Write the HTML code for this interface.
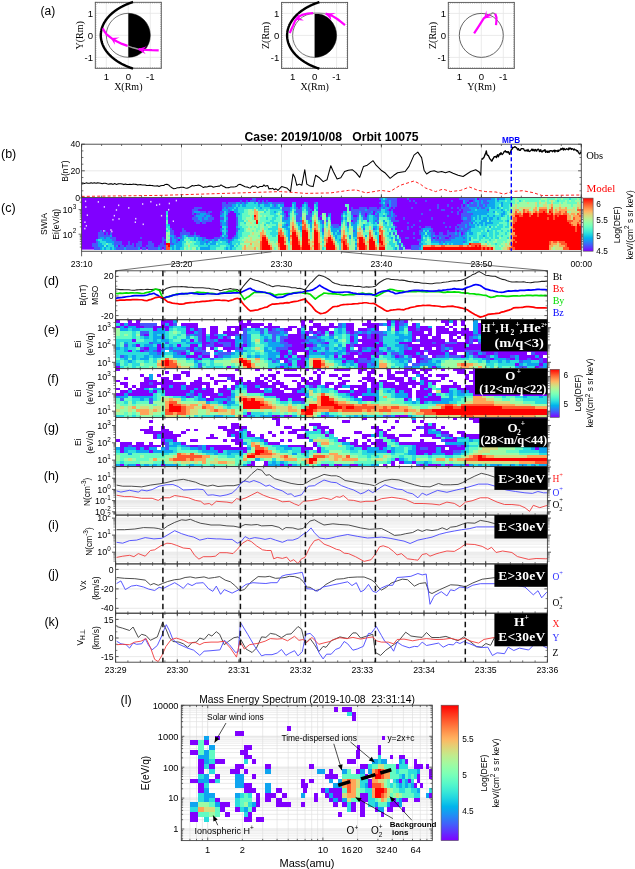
<!DOCTYPE html>
<html><head><meta charset="utf-8"><style>
html,body{margin:0;padding:0;background:#fff;}
body{width:635px;height:869px;overflow:hidden;}
svg{display:block;}
</style></head><body>
<svg width="635" height="869" viewBox="0 0 635 869">
<path d="M115.6 320.2H119.7V322.9H115.6ZM127.9 320.2H132.0V322.9H127.9ZM136.2 320.2H140.3V322.9H136.2ZM160.8 320.2H173.2V322.9H160.8ZM239.0 320.2H243.1V322.9H239.0ZM247.2 320.2H251.3V322.9H247.2ZM300.7 320.2H304.8V322.9H300.7ZM308.9 320.2H313.0V322.9H308.9ZM366.5 320.2H370.6V322.9H366.5ZM387.0 320.2H391.1V322.9H387.0ZM395.2 320.2H399.4V322.9H395.2ZM403.5 320.2H407.6V322.9H403.5ZM440.5 320.2H448.7V322.9H440.5ZM452.8 320.2H456.9V322.9H452.8ZM461.0 320.2H465.2V322.9H461.0ZM481.6 320.2H547.4V322.9H481.6ZM119.7 322.9H123.8V325.6H119.7ZM127.9 322.9H140.3V325.6H127.9ZM160.8 322.9H164.9V325.6H160.8ZM169.1 322.9H173.2V325.6H169.1ZM181.4 322.9H197.8V325.6H181.4ZM239.0 322.9H263.6V325.6H239.0ZM267.8 322.9H271.9V325.6H267.8ZM300.7 322.9H304.8V325.6H300.7ZM313.0 322.9H321.2V325.6H313.0ZM329.4 322.9H333.6V325.6H329.4ZM345.9 322.9H354.1V325.6H345.9ZM362.3 322.9H378.8V325.6H362.3ZM387.0 322.9H391.1V325.6H387.0ZM395.2 322.9H399.4V325.6H395.2ZM411.7 322.9H415.8V325.6H411.7ZM444.6 322.9H448.7V325.6H444.6ZM452.8 322.9H456.9V325.6H452.8ZM461.0 322.9H465.2V325.6H461.0ZM477.5 322.9H547.4V325.6H477.5ZM115.6 325.6H119.7V328.2H115.6ZM123.8 325.6H127.9V328.2H123.8ZM136.2 325.6H144.4V328.2H136.2ZM152.6 325.6H169.1V328.2H152.6ZM185.5 325.6H197.8V328.2H185.5ZM210.2 325.6H218.4V328.2H210.2ZM226.6 325.6H247.2V328.2H226.6ZM251.3 325.6H259.5V328.2H251.3ZM263.6 325.6H280.1V328.2H263.6ZM288.3 325.6H296.5V328.2H288.3ZM308.9 325.6H337.7V328.2H308.9ZM345.9 325.6H354.1V328.2H345.9ZM366.5 325.6H378.8V328.2H366.5ZM395.2 325.6H399.4V328.2H395.2ZM407.6 325.6H415.8V328.2H407.6ZM419.9 325.6H428.1V328.2H419.9ZM436.4 325.6H444.6V328.2H436.4ZM448.7 325.6H452.8V328.2H448.7ZM477.5 325.6H547.4V328.2H477.5ZM152.6 328.2H156.7V330.9H152.6ZM164.9 328.2H169.1V330.9H164.9ZM185.5 328.2H189.6V330.9H185.5ZM193.7 328.2H197.8V330.9H193.7ZM202.0 328.2H206.1V330.9H202.0ZM210.2 328.2H218.4V330.9H210.2ZM226.6 328.2H230.7V330.9H226.6ZM234.9 328.2H243.1V330.9H234.9ZM267.8 328.2H271.9V330.9H267.8ZM284.2 328.2H292.4V330.9H284.2ZM296.5 328.2H300.7V330.9H296.5ZM308.9 328.2H313.0V330.9H308.9ZM317.1 328.2H329.4V330.9H317.1ZM345.9 328.2H354.1V330.9H345.9ZM358.2 328.2H366.5V330.9H358.2ZM374.7 328.2H378.8V330.9H374.7ZM395.2 328.2H399.4V330.9H395.2ZM407.6 328.2H415.8V330.9H407.6ZM419.9 328.2H432.3V330.9H419.9ZM436.4 328.2H448.7V330.9H436.4ZM452.8 328.2H456.9V330.9H452.8ZM461.0 328.2H469.3V330.9H461.0ZM477.5 328.2H547.4V330.9H477.5ZM185.5 330.9H193.7V333.6H185.5ZM202.0 330.9H206.1V333.6H202.0ZM210.2 330.9H218.4V333.6H210.2ZM222.5 330.9H239.0V333.6H222.5ZM296.5 330.9H300.7V333.6H296.5ZM304.8 330.9H308.9V333.6H304.8ZM313.0 330.9H317.1V333.6H313.0ZM321.2 330.9H325.3V333.6H321.2ZM329.4 330.9H333.6V333.6H329.4ZM350.0 330.9H354.1V333.6H350.0ZM411.7 330.9H424.0V333.6H411.7ZM428.1 330.9H432.3V333.6H428.1ZM436.4 330.9H473.4V333.6H436.4ZM477.5 330.9H547.4V333.6H477.5ZM144.4 333.6H148.5V336.3H144.4ZM202.0 333.6H206.1V336.3H202.0ZM210.2 333.6H214.3V336.3H210.2ZM226.6 333.6H234.9V336.3H226.6ZM288.3 333.6H300.7V336.3H288.3ZM304.8 333.6H308.9V336.3H304.8ZM317.1 333.6H321.2V336.3H317.1ZM358.2 333.6H366.5V336.3H358.2ZM370.6 333.6H378.8V336.3H370.6ZM411.7 333.6H432.3V336.3H411.7ZM436.4 333.6H440.5V336.3H436.4ZM448.7 333.6H456.9V336.3H448.7ZM461.0 333.6H473.4V336.3H461.0ZM481.6 333.6H547.4V336.3H481.6ZM202.0 336.3H206.1V338.9H202.0ZM210.2 336.3H218.4V338.9H210.2ZM222.5 336.3H226.6V338.9H222.5ZM288.3 336.3H300.7V338.9H288.3ZM350.0 336.3H354.1V338.9H350.0ZM362.3 336.3H366.5V338.9H362.3ZM370.6 336.3H378.8V338.9H370.6ZM411.7 336.3H415.8V338.9H411.7ZM419.9 336.3H428.1V338.9H419.9ZM432.3 336.3H440.5V338.9H432.3ZM448.7 336.3H452.8V338.9H448.7ZM456.9 336.3H461.0V338.9H456.9ZM465.2 336.3H469.3V338.9H465.2ZM481.6 336.3H547.4V338.9H481.6ZM132.0 338.9H136.2V341.6H132.0ZM189.6 338.9H193.7V341.6H189.6ZM202.0 338.9H206.1V341.6H202.0ZM218.4 338.9H234.9V341.6H218.4ZM284.2 338.9H304.8V341.6H284.2ZM350.0 338.9H354.1V341.6H350.0ZM358.2 338.9H378.8V341.6H358.2ZM411.7 338.9H415.8V341.6H411.7ZM419.9 338.9H444.6V341.6H419.9ZM448.7 338.9H456.9V341.6H448.7ZM465.2 338.9H469.3V341.6H465.2ZM473.4 338.9H477.5V341.6H473.4ZM481.6 338.9H547.4V341.6H481.6ZM202.0 341.6H210.2V344.3H202.0ZM214.3 341.6H218.4V344.3H214.3ZM230.7 341.6H234.9V344.3H230.7ZM288.3 341.6H300.7V344.3H288.3ZM325.3 341.6H329.4V344.3H325.3ZM362.3 341.6H374.7V344.3H362.3ZM378.8 341.6H382.9V344.3H378.8ZM399.4 341.6H411.7V344.3H399.4ZM419.9 341.6H432.3V344.3H419.9ZM436.4 341.6H444.6V344.3H436.4ZM456.9 341.6H469.3V344.3H456.9ZM481.6 341.6H547.4V344.3H481.6ZM136.2 344.3H140.3V347.0H136.2ZM156.7 344.3H160.8V347.0H156.7ZM177.3 344.3H181.4V347.0H177.3ZM189.6 344.3H197.8V347.0H189.6ZM202.0 344.3H206.1V347.0H202.0ZM214.3 344.3H222.5V347.0H214.3ZM230.7 344.3H234.9V347.0H230.7ZM243.1 344.3H247.2V347.0H243.1ZM292.4 344.3H313.0V347.0H292.4ZM345.9 344.3H350.0V347.0H345.9ZM354.1 344.3H382.9V347.0H354.1ZM407.6 344.3H440.5V347.0H407.6ZM444.6 344.3H465.2V347.0H444.6ZM469.3 344.3H547.4V347.0H469.3ZM144.4 347.0H148.5V349.7H144.4ZM156.7 347.0H160.8V349.7H156.7ZM189.6 347.0H193.7V349.7H189.6ZM202.0 347.0H206.1V349.7H202.0ZM210.2 347.0H214.3V349.7H210.2ZM222.5 347.0H234.9V349.7H222.5ZM239.0 347.0H243.1V349.7H239.0ZM288.3 347.0H304.8V349.7H288.3ZM345.9 347.0H350.0V349.7H345.9ZM358.2 347.0H362.3V349.7H358.2ZM374.7 347.0H378.8V349.7H374.7ZM411.7 347.0H419.9V349.7H411.7ZM424.0 347.0H432.3V349.7H424.0ZM436.4 347.0H440.5V349.7H436.4ZM452.8 347.0H547.4V349.7H452.8ZM127.9 349.7H132.0V352.3H127.9ZM140.3 349.7H144.4V352.3H140.3ZM156.7 349.7H160.8V352.3H156.7ZM189.6 349.7H193.7V352.3H189.6ZM214.3 349.7H218.4V352.3H214.3ZM226.6 349.7H230.7V352.3H226.6ZM280.1 349.7H288.3V352.3H280.1ZM292.4 349.7H308.9V352.3H292.4ZM313.0 349.7H317.1V352.3H313.0ZM345.9 349.7H350.0V352.3H345.9ZM358.2 349.7H362.3V352.3H358.2ZM370.6 349.7H378.8V352.3H370.6ZM403.5 349.7H424.0V352.3H403.5ZM428.1 349.7H440.5V352.3H428.1ZM444.6 349.7H448.7V352.3H444.6ZM452.8 349.7H465.2V352.3H452.8ZM481.6 349.7H547.4V352.3H481.6ZM181.4 352.3H185.5V355.0H181.4ZM193.7 352.3H202.0V355.0H193.7ZM280.1 352.3H288.3V355.0H280.1ZM292.4 352.3H296.5V355.0H292.4ZM304.8 352.3H308.9V355.0H304.8ZM350.0 352.3H358.2V355.0H350.0ZM362.3 352.3H374.7V355.0H362.3ZM382.9 352.3H387.0V355.0H382.9ZM403.5 352.3H415.8V355.0H403.5ZM419.9 352.3H424.0V355.0H419.9ZM428.1 352.3H444.6V355.0H428.1ZM448.7 352.3H456.9V355.0H448.7ZM473.4 352.3H477.5V355.0H473.4ZM485.7 352.3H493.9V355.0H485.7ZM498.1 352.3H526.8V355.0H498.1ZM535.1 352.3H547.4V355.0H535.1ZM185.5 355.0H197.8V357.7H185.5ZM202.0 355.0H210.2V357.7H202.0ZM214.3 355.0H218.4V357.7H214.3ZM280.1 355.0H284.2V357.7H280.1ZM288.3 355.0H292.4V357.7H288.3ZM296.5 355.0H304.8V357.7H296.5ZM333.6 355.0H337.7V357.7H333.6ZM341.8 355.0H354.1V357.7H341.8ZM358.2 355.0H370.6V357.7H358.2ZM374.7 355.0H378.8V357.7H374.7ZM395.2 355.0H399.4V357.7H395.2ZM411.7 355.0H419.9V357.7H411.7ZM432.3 355.0H436.4V357.7H432.3ZM461.0 355.0H465.2V357.7H461.0ZM477.5 355.0H485.7V357.7H477.5ZM498.1 355.0H510.4V357.7H498.1ZM518.6 355.0H535.1V357.7H518.6ZM539.2 355.0H543.3V357.7H539.2ZM197.8 357.7H202.0V360.4H197.8ZM280.1 357.7H288.3V360.4H280.1ZM300.7 357.7H304.8V360.4H300.7ZM345.9 357.7H358.2V360.4H345.9ZM366.5 357.7H370.6V360.4H366.5ZM415.8 357.7H424.0V360.4H415.8ZM489.8 357.7H493.9V360.4H489.8ZM510.4 357.7H514.5V360.4H510.4ZM518.6 357.7H526.8V360.4H518.6ZM531.0 357.7H539.2V360.4H531.0ZM543.3 357.7H547.4V360.4H543.3ZM284.2 360.4H288.3V363.0H284.2ZM296.5 360.4H304.8V363.0H296.5ZM341.8 360.4H345.9V363.0H341.8ZM354.1 360.4H358.2V363.0H354.1ZM415.8 360.4H419.9V363.0H415.8ZM543.3 360.4H547.4V363.0H543.3ZM288.3 363.0H292.4V365.7H288.3ZM296.5 363.0H304.8V365.7H296.5ZM358.2 363.0H366.5V365.7H358.2ZM514.5 363.0H518.6V365.7H514.5ZM539.2 363.0H543.3V365.7H539.2ZM115.6 365.7H119.7V368.4H115.6ZM226.6 365.7H230.7V368.4H226.6ZM280.1 365.7H284.2V368.4H280.1ZM300.7 365.7H304.8V368.4H300.7ZM358.2 365.7H366.5V368.4H358.2ZM432.3 365.7H436.4V368.4H432.3ZM535.1 365.7H539.2V368.4H535.1Z" fill="#8000ff" shape-rendering="crispEdges"/>
<path d="M173.2 320.2H177.3V322.9H173.2ZM391.1 320.2H395.2V322.9H391.1ZM448.7 320.2H452.8V322.9H448.7ZM473.4 320.2H477.5V322.9H473.4ZM123.8 322.9H127.9V325.6H123.8ZM164.9 322.9H169.1V325.6H164.9ZM341.8 322.9H345.9V325.6H341.8ZM382.9 322.9H387.0V325.6H382.9ZM403.5 322.9H407.6V325.6H403.5ZM415.8 322.9H419.9V325.6H415.8ZM473.4 322.9H477.5V325.6H473.4ZM119.7 325.6H123.8V328.2H119.7ZM127.9 325.6H136.2V328.2H127.9ZM169.1 325.6H173.2V328.2H169.1ZM181.4 325.6H185.5V328.2H181.4ZM341.8 325.6H345.9V328.2H341.8ZM387.0 325.6H391.1V328.2H387.0ZM399.4 325.6H403.5V328.2H399.4ZM415.8 325.6H419.9V328.2H415.8ZM428.1 325.6H432.3V328.2H428.1ZM473.4 325.6H477.5V328.2H473.4ZM119.7 328.2H127.9V330.9H119.7ZM132.0 328.2H140.3V330.9H132.0ZM156.7 328.2H164.9V330.9H156.7ZM189.6 328.2H193.7V330.9H189.6ZM247.2 328.2H251.3V330.9H247.2ZM255.4 328.2H259.5V330.9H255.4ZM276.0 328.2H280.1V330.9H276.0ZM337.7 328.2H341.8V330.9H337.7ZM370.6 328.2H374.7V330.9H370.6ZM387.0 328.2H391.1V330.9H387.0ZM399.4 328.2H403.5V330.9H399.4ZM473.4 328.2H477.5V330.9H473.4ZM152.6 330.9H164.9V333.6H152.6ZM193.7 330.9H197.8V333.6H193.7ZM280.1 330.9H284.2V333.6H280.1ZM300.7 330.9H304.8V333.6H300.7ZM337.7 330.9H341.8V333.6H337.7ZM358.2 330.9H362.3V333.6H358.2ZM366.5 330.9H370.6V333.6H366.5ZM382.9 330.9H387.0V333.6H382.9ZM395.2 330.9H399.4V333.6H395.2ZM407.6 330.9H411.7V333.6H407.6ZM473.4 330.9H477.5V333.6H473.4ZM152.6 333.6H156.7V336.3H152.6ZM160.8 333.6H164.9V336.3H160.8ZM189.6 333.6H193.7V336.3H189.6ZM218.4 333.6H222.5V336.3H218.4ZM247.2 333.6H251.3V336.3H247.2ZM259.5 333.6H263.6V336.3H259.5ZM276.0 333.6H284.2V336.3H276.0ZM313.0 333.6H317.1V336.3H313.0ZM354.1 333.6H358.2V336.3H354.1ZM395.2 333.6H403.5V336.3H395.2ZM407.6 333.6H411.7V336.3H407.6ZM477.5 333.6H481.6V336.3H477.5ZM144.4 336.3H148.5V338.9H144.4ZM152.6 336.3H160.8V338.9H152.6ZM185.5 336.3H189.6V338.9H185.5ZM206.1 336.3H210.2V338.9H206.1ZM218.4 336.3H222.5V338.9H218.4ZM234.9 336.3H243.1V338.9H234.9ZM247.2 336.3H251.3V338.9H247.2ZM263.6 336.3H267.8V338.9H263.6ZM304.8 336.3H308.9V338.9H304.8ZM317.1 336.3H321.2V338.9H317.1ZM329.4 336.3H333.6V338.9H329.4ZM354.1 336.3H358.2V338.9H354.1ZM399.4 336.3H411.7V338.9H399.4ZM473.4 336.3H477.5V338.9H473.4ZM152.6 338.9H156.7V341.6H152.6ZM160.8 338.9H169.1V341.6H160.8ZM181.4 338.9H185.5V341.6H181.4ZM206.1 338.9H210.2V341.6H206.1ZM214.3 338.9H218.4V341.6H214.3ZM234.9 338.9H243.1V341.6H234.9ZM247.2 338.9H251.3V341.6H247.2ZM267.8 338.9H271.9V341.6H267.8ZM308.9 338.9H317.1V341.6H308.9ZM321.2 338.9H325.3V341.6H321.2ZM333.6 338.9H337.7V341.6H333.6ZM354.1 338.9H358.2V341.6H354.1ZM395.2 338.9H403.5V341.6H395.2ZM407.6 338.9H411.7V341.6H407.6ZM477.5 338.9H481.6V341.6H477.5ZM123.8 341.6H127.9V344.3H123.8ZM152.6 341.6H160.8V344.3H152.6ZM185.5 341.6H202.0V344.3H185.5ZM234.9 341.6H239.0V344.3H234.9ZM247.2 341.6H251.3V344.3H247.2ZM267.8 341.6H280.1V344.3H267.8ZM304.8 341.6H308.9V344.3H304.8ZM313.0 341.6H321.2V344.3H313.0ZM354.1 341.6H358.2V344.3H354.1ZM374.7 341.6H378.8V344.3H374.7ZM132.0 344.3H136.2V347.0H132.0ZM144.4 344.3H152.6V347.0H144.4ZM160.8 344.3H164.9V347.0H160.8ZM169.1 344.3H173.2V347.0H169.1ZM234.9 344.3H239.0V347.0H234.9ZM247.2 344.3H251.3V347.0H247.2ZM267.8 344.3H284.2V347.0H267.8ZM321.2 344.3H329.4V347.0H321.2ZM337.7 344.3H341.8V347.0H337.7ZM382.9 344.3H387.0V347.0H382.9ZM395.2 344.3H403.5V347.0H395.2ZM115.6 347.0H119.7V349.7H115.6ZM123.8 347.0H127.9V349.7H123.8ZM148.5 347.0H156.7V349.7H148.5ZM164.9 347.0H169.1V349.7H164.9ZM173.2 347.0H185.5V349.7H173.2ZM193.7 347.0H197.8V349.7H193.7ZM263.6 347.0H267.8V349.7H263.6ZM271.9 347.0H276.0V349.7H271.9ZM313.0 347.0H321.2V349.7H313.0ZM333.6 347.0H337.7V349.7H333.6ZM341.8 347.0H345.9V349.7H341.8ZM366.5 347.0H370.6V349.7H366.5ZM399.4 347.0H403.5V349.7H399.4ZM407.6 347.0H411.7V349.7H407.6ZM444.6 347.0H448.7V349.7H444.6ZM123.8 349.7H127.9V352.3H123.8ZM136.2 349.7H140.3V352.3H136.2ZM148.5 349.7H152.6V352.3H148.5ZM160.8 349.7H164.9V352.3H160.8ZM169.1 349.7H173.2V352.3H169.1ZM218.4 349.7H222.5V352.3H218.4ZM234.9 349.7H239.0V352.3H234.9ZM243.1 349.7H247.2V352.3H243.1ZM263.6 349.7H271.9V352.3H263.6ZM308.9 349.7H313.0V352.3H308.9ZM325.3 349.7H329.4V352.3H325.3ZM337.7 349.7H345.9V352.3H337.7ZM362.3 349.7H370.6V352.3H362.3ZM378.8 349.7H382.9V352.3H378.8ZM387.0 349.7H395.2V352.3H387.0ZM399.4 349.7H403.5V352.3H399.4ZM148.5 352.3H156.7V355.0H148.5ZM160.8 352.3H164.9V355.0H160.8ZM173.2 352.3H177.3V355.0H173.2ZM185.5 352.3H189.6V355.0H185.5ZM214.3 352.3H218.4V355.0H214.3ZM230.7 352.3H234.9V355.0H230.7ZM239.0 352.3H243.1V355.0H239.0ZM267.8 352.3H280.1V355.0H267.8ZM288.3 352.3H292.4V355.0H288.3ZM308.9 352.3H321.2V355.0H308.9ZM325.3 352.3H333.6V355.0H325.3ZM337.7 352.3H341.8V355.0H337.7ZM399.4 352.3H403.5V355.0H399.4ZM415.8 352.3H419.9V355.0H415.8ZM444.6 352.3H448.7V355.0H444.6ZM465.2 352.3H469.3V355.0H465.2ZM477.5 352.3H481.6V355.0H477.5ZM123.8 355.0H127.9V357.7H123.8ZM132.0 355.0H136.2V357.7H132.0ZM144.4 355.0H148.5V357.7H144.4ZM152.6 355.0H160.8V357.7H152.6ZM173.2 355.0H185.5V357.7H173.2ZM197.8 355.0H202.0V357.7H197.8ZM222.5 355.0H230.7V357.7H222.5ZM247.2 355.0H251.3V357.7H247.2ZM255.4 355.0H259.5V357.7H255.4ZM267.8 355.0H276.0V357.7H267.8ZM284.2 355.0H288.3V357.7H284.2ZM325.3 355.0H329.4V357.7H325.3ZM391.1 355.0H395.2V357.7H391.1ZM444.6 355.0H448.7V357.7H444.6ZM465.2 355.0H469.3V357.7H465.2ZM493.9 355.0H498.1V357.7H493.9ZM514.5 355.0H518.6V357.7H514.5ZM535.1 355.0H539.2V357.7H535.1ZM123.8 357.7H127.9V360.4H123.8ZM132.0 357.7H136.2V360.4H132.0ZM140.3 357.7H148.5V360.4H140.3ZM185.5 357.7H189.6V360.4H185.5ZM271.9 357.7H276.0V360.4H271.9ZM288.3 357.7H300.7V360.4H288.3ZM304.8 357.7H308.9V360.4H304.8ZM333.6 357.7H345.9V360.4H333.6ZM370.6 357.7H374.7V360.4H370.6ZM395.2 357.7H411.7V360.4H395.2ZM481.6 357.7H485.7V360.4H481.6ZM493.9 357.7H506.3V360.4H493.9ZM514.5 357.7H518.6V360.4H514.5ZM127.9 360.4H132.0V363.0H127.9ZM193.7 360.4H197.8V363.0H193.7ZM276.0 360.4H280.1V363.0H276.0ZM345.9 360.4H354.1V363.0H345.9ZM370.6 360.4H374.7V363.0H370.6ZM399.4 360.4H403.5V363.0H399.4ZM428.1 360.4H432.3V363.0H428.1ZM436.4 360.4H440.5V363.0H436.4ZM485.7 360.4H489.8V363.0H485.7ZM498.1 360.4H502.2V363.0H498.1ZM506.3 360.4H510.4V363.0H506.3ZM522.7 360.4H531.0V363.0H522.7ZM115.6 363.0H119.7V365.7H115.6ZM280.1 363.0H288.3V365.7H280.1ZM341.8 363.0H345.9V365.7H341.8ZM350.0 363.0H354.1V365.7H350.0ZM366.5 363.0H370.6V365.7H366.5ZM403.5 363.0H407.6V365.7H403.5ZM419.9 363.0H436.4V365.7H419.9ZM518.6 363.0H522.7V365.7H518.6ZM526.8 363.0H539.2V365.7H526.8ZM543.3 363.0H547.4V365.7H543.3ZM276.0 365.7H280.1V368.4H276.0ZM284.2 365.7H292.4V368.4H284.2ZM366.5 365.7H374.7V368.4H366.5ZM411.7 365.7H419.9V368.4H411.7ZM428.1 365.7H432.3V368.4H428.1ZM436.4 365.7H440.5V368.4H436.4ZM514.5 365.7H518.6V368.4H514.5ZM543.3 365.7H547.4V368.4H543.3Z" fill="#0ea4f0" shape-rendering="crispEdges"/>
<path d="M399.4 320.2H403.5V322.9H399.4ZM140.3 322.9H156.7V325.6H140.3ZM173.2 322.9H177.3V325.6H173.2ZM337.7 322.9H341.8V325.6H337.7ZM378.8 322.9H382.9V325.6H378.8ZM399.4 322.9H403.5V325.6H399.4ZM144.4 325.6H152.6V328.2H144.4ZM300.7 325.6H304.8V328.2H300.7ZM337.7 325.6H341.8V328.2H337.7ZM197.8 328.2H202.0V330.9H197.8ZM243.1 328.2H247.2V330.9H243.1ZM259.5 328.2H263.6V330.9H259.5ZM271.9 328.2H276.0V330.9H271.9ZM280.1 328.2H284.2V330.9H280.1ZM366.5 328.2H370.6V330.9H366.5ZM415.8 328.2H419.9V330.9H415.8ZM140.3 330.9H148.5V333.6H140.3ZM197.8 330.9H202.0V333.6H197.8ZM243.1 330.9H247.2V333.6H243.1ZM259.5 330.9H263.6V333.6H259.5ZM267.8 330.9H280.1V333.6H267.8ZM284.2 330.9H288.3V333.6H284.2ZM308.9 330.9H313.0V333.6H308.9ZM317.1 330.9H321.2V333.6H317.1ZM345.9 330.9H350.0V333.6H345.9ZM354.1 330.9H358.2V333.6H354.1ZM362.3 330.9H366.5V333.6H362.3ZM370.6 330.9H382.9V333.6H370.6ZM140.3 333.6H144.4V336.3H140.3ZM185.5 333.6H189.6V336.3H185.5ZM193.7 333.6H202.0V336.3H193.7ZM214.3 333.6H218.4V336.3H214.3ZM234.9 333.6H247.2V336.3H234.9ZM271.9 333.6H276.0V336.3H271.9ZM300.7 333.6H304.8V336.3H300.7ZM321.2 333.6H325.3V336.3H321.2ZM329.4 333.6H333.6V336.3H329.4ZM350.0 333.6H354.1V336.3H350.0ZM366.5 333.6H370.6V336.3H366.5ZM378.8 333.6H387.0V336.3H378.8ZM473.4 333.6H477.5V336.3H473.4ZM160.8 336.3H164.9V338.9H160.8ZM197.8 336.3H202.0V338.9H197.8ZM226.6 336.3H230.7V338.9H226.6ZM243.1 336.3H247.2V338.9H243.1ZM271.9 336.3H276.0V338.9H271.9ZM280.1 336.3H288.3V338.9H280.1ZM300.7 336.3H304.8V338.9H300.7ZM308.9 336.3H317.1V338.9H308.9ZM366.5 336.3H370.6V338.9H366.5ZM378.8 336.3H382.9V338.9H378.8ZM469.3 336.3H473.4V338.9H469.3ZM197.8 338.9H202.0V341.6H197.8ZM210.2 338.9H214.3V341.6H210.2ZM243.1 338.9H247.2V341.6H243.1ZM263.6 338.9H267.8V341.6H263.6ZM271.9 338.9H276.0V341.6H271.9ZM280.1 338.9H284.2V341.6H280.1ZM304.8 338.9H308.9V341.6H304.8ZM317.1 338.9H321.2V341.6H317.1ZM378.8 338.9H382.9V341.6H378.8ZM415.8 338.9H419.9V341.6H415.8ZM469.3 338.9H473.4V341.6H469.3ZM148.5 341.6H152.6V344.3H148.5ZM164.9 341.6H169.1V344.3H164.9ZM210.2 341.6H214.3V344.3H210.2ZM218.4 341.6H230.7V344.3H218.4ZM243.1 341.6H247.2V344.3H243.1ZM280.1 341.6H288.3V344.3H280.1ZM300.7 341.6H304.8V344.3H300.7ZM308.9 341.6H313.0V344.3H308.9ZM321.2 341.6H325.3V344.3H321.2ZM350.0 341.6H354.1V344.3H350.0ZM432.3 341.6H436.4V344.3H432.3ZM444.6 341.6H456.9V344.3H444.6ZM469.3 341.6H473.4V344.3H469.3ZM477.5 341.6H481.6V344.3H477.5ZM123.8 344.3H127.9V347.0H123.8ZM206.1 344.3H214.3V347.0H206.1ZM222.5 344.3H230.7V347.0H222.5ZM239.0 344.3H243.1V347.0H239.0ZM284.2 344.3H292.4V347.0H284.2ZM313.0 344.3H317.1V347.0H313.0ZM350.0 344.3H354.1V347.0H350.0ZM403.5 344.3H407.6V347.0H403.5ZM440.5 344.3H444.6V347.0H440.5ZM140.3 347.0H144.4V349.7H140.3ZM160.8 347.0H164.9V349.7H160.8ZM169.1 347.0H173.2V349.7H169.1ZM185.5 347.0H189.6V349.7H185.5ZM197.8 347.0H202.0V349.7H197.8ZM234.9 347.0H239.0V349.7H234.9ZM276.0 347.0H288.3V349.7H276.0ZM308.9 347.0H313.0V349.7H308.9ZM325.3 347.0H329.4V349.7H325.3ZM362.3 347.0H366.5V349.7H362.3ZM370.6 347.0H374.7V349.7H370.6ZM387.0 347.0H391.1V349.7H387.0ZM403.5 347.0H407.6V349.7H403.5ZM440.5 347.0H444.6V349.7H440.5ZM448.7 347.0H452.8V349.7H448.7ZM144.4 349.7H148.5V352.3H144.4ZM152.6 349.7H156.7V352.3H152.6ZM173.2 349.7H185.5V352.3H173.2ZM193.7 349.7H206.1V352.3H193.7ZM239.0 349.7H243.1V352.3H239.0ZM276.0 349.7H280.1V352.3H276.0ZM350.0 349.7H358.2V352.3H350.0ZM424.0 349.7H428.1V352.3H424.0ZM440.5 349.7H444.6V352.3H440.5ZM465.2 349.7H481.6V352.3H465.2ZM156.7 352.3H160.8V355.0H156.7ZM177.3 352.3H181.4V355.0H177.3ZM202.0 352.3H210.2V355.0H202.0ZM218.4 352.3H230.7V355.0H218.4ZM321.2 352.3H325.3V355.0H321.2ZM333.6 352.3H337.7V355.0H333.6ZM345.9 352.3H350.0V355.0H345.9ZM358.2 352.3H362.3V355.0H358.2ZM374.7 352.3H382.9V355.0H374.7ZM391.1 352.3H399.4V355.0H391.1ZM469.3 352.3H473.4V355.0H469.3ZM481.6 352.3H485.7V355.0H481.6ZM493.9 352.3H498.1V355.0H493.9ZM531.0 352.3H535.1V355.0H531.0ZM119.7 355.0H123.8V357.7H119.7ZM218.4 355.0H222.5V357.7H218.4ZM304.8 355.0H308.9V357.7H304.8ZM399.4 355.0H403.5V357.7H399.4ZM407.6 355.0H411.7V357.7H407.6ZM419.9 355.0H428.1V357.7H419.9ZM436.4 355.0H444.6V357.7H436.4ZM448.7 355.0H461.0V357.7H448.7ZM473.4 355.0H477.5V357.7H473.4ZM485.7 355.0H489.8V357.7H485.7ZM510.4 355.0H514.5V357.7H510.4ZM193.7 357.7H197.8V360.4H193.7ZM210.2 357.7H214.3V360.4H210.2ZM267.8 357.7H271.9V360.4H267.8ZM276.0 357.7H280.1V360.4H276.0ZM358.2 357.7H366.5V360.4H358.2ZM424.0 357.7H432.3V360.4H424.0ZM485.7 357.7H489.8V360.4H485.7ZM506.3 357.7H510.4V360.4H506.3ZM526.8 357.7H531.0V360.4H526.8ZM539.2 357.7H543.3V360.4H539.2ZM271.9 360.4H276.0V363.0H271.9ZM288.3 360.4H292.4V363.0H288.3ZM358.2 360.4H370.6V363.0H358.2ZM407.6 360.4H411.7V363.0H407.6ZM419.9 360.4H428.1V363.0H419.9ZM518.6 360.4H522.7V363.0H518.6ZM539.2 360.4H543.3V363.0H539.2ZM197.8 363.0H202.0V365.7H197.8ZM370.6 363.0H374.7V365.7H370.6ZM411.7 363.0H419.9V365.7H411.7ZM197.8 365.7H202.0V368.4H197.8ZM296.5 365.7H300.7V368.4H296.5ZM403.5 365.7H411.7V368.4H403.5ZM518.6 365.7H526.8V368.4H518.6ZM539.2 365.7H543.3V368.4H539.2Z" fill="#4757fb" shape-rendering="crispEdges"/>
<path d="M115.6 322.9H119.7V325.6H115.6ZM391.1 322.9H395.2V325.6H391.1ZM173.2 325.6H181.4V328.2H173.2ZM403.5 325.6H407.6V328.2H403.5ZM127.9 328.2H132.0V330.9H127.9ZM140.3 328.2H152.6V330.9H140.3ZM169.1 328.2H173.2V330.9H169.1ZM177.3 328.2H185.5V330.9H177.3ZM251.3 328.2H255.4V330.9H251.3ZM263.6 328.2H267.8V330.9H263.6ZM300.7 328.2H304.8V330.9H300.7ZM333.6 328.2H337.7V330.9H333.6ZM341.8 328.2H345.9V330.9H341.8ZM132.0 330.9H136.2V333.6H132.0ZM148.5 330.9H152.6V333.6H148.5ZM164.9 330.9H169.1V333.6H164.9ZM181.4 330.9H185.5V333.6H181.4ZM247.2 330.9H259.5V333.6H247.2ZM263.6 330.9H267.8V333.6H263.6ZM325.3 330.9H329.4V333.6H325.3ZM333.6 330.9H337.7V333.6H333.6ZM341.8 330.9H345.9V333.6H341.8ZM387.0 330.9H391.1V333.6H387.0ZM399.4 330.9H403.5V333.6H399.4ZM132.0 333.6H136.2V336.3H132.0ZM148.5 333.6H152.6V336.3H148.5ZM156.7 333.6H160.8V336.3H156.7ZM164.9 333.6H169.1V336.3H164.9ZM177.3 333.6H181.4V336.3H177.3ZM206.1 333.6H210.2V336.3H206.1ZM222.5 333.6H226.6V336.3H222.5ZM263.6 333.6H271.9V336.3H263.6ZM284.2 333.6H288.3V336.3H284.2ZM333.6 333.6H341.8V336.3H333.6ZM345.9 333.6H350.0V336.3H345.9ZM387.0 333.6H395.2V336.3H387.0ZM403.5 333.6H407.6V336.3H403.5ZM132.0 336.3H136.2V338.9H132.0ZM140.3 336.3H144.4V338.9H140.3ZM148.5 336.3H152.6V338.9H148.5ZM164.9 336.3H169.1V338.9H164.9ZM173.2 336.3H177.3V338.9H173.2ZM193.7 336.3H197.8V338.9H193.7ZM259.5 336.3H263.6V338.9H259.5ZM267.8 336.3H271.9V338.9H267.8ZM276.0 336.3H280.1V338.9H276.0ZM321.2 336.3H329.4V338.9H321.2ZM337.7 336.3H341.8V338.9H337.7ZM345.9 336.3H350.0V338.9H345.9ZM382.9 336.3H399.4V338.9H382.9ZM477.5 336.3H481.6V338.9H477.5ZM115.6 338.9H132.0V341.6H115.6ZM144.4 338.9H152.6V341.6H144.4ZM156.7 338.9H160.8V341.6H156.7ZM169.1 338.9H173.2V341.6H169.1ZM185.5 338.9H189.6V341.6H185.5ZM193.7 338.9H197.8V341.6H193.7ZM259.5 338.9H263.6V341.6H259.5ZM276.0 338.9H280.1V341.6H276.0ZM325.3 338.9H333.6V341.6H325.3ZM345.9 338.9H350.0V341.6H345.9ZM382.9 338.9H395.2V341.6H382.9ZM403.5 338.9H407.6V341.6H403.5ZM115.6 341.6H119.7V344.3H115.6ZM127.9 341.6H148.5V344.3H127.9ZM160.8 341.6H164.9V344.3H160.8ZM169.1 341.6H185.5V344.3H169.1ZM239.0 341.6H243.1V344.3H239.0ZM251.3 341.6H255.4V344.3H251.3ZM259.5 341.6H267.8V344.3H259.5ZM329.4 341.6H341.8V344.3H329.4ZM345.9 341.6H350.0V344.3H345.9ZM382.9 341.6H399.4V344.3H382.9ZM115.6 344.3H119.7V347.0H115.6ZM127.9 344.3H132.0V347.0H127.9ZM140.3 344.3H144.4V347.0H140.3ZM152.6 344.3H156.7V347.0H152.6ZM164.9 344.3H169.1V347.0H164.9ZM173.2 344.3H177.3V347.0H173.2ZM181.4 344.3H189.6V347.0H181.4ZM197.8 344.3H202.0V347.0H197.8ZM251.3 344.3H255.4V347.0H251.3ZM263.6 344.3H267.8V347.0H263.6ZM317.1 344.3H321.2V347.0H317.1ZM329.4 344.3H333.6V347.0H329.4ZM387.0 344.3H395.2V347.0H387.0ZM465.2 344.3H469.3V347.0H465.2ZM119.7 347.0H123.8V349.7H119.7ZM127.9 347.0H136.2V349.7H127.9ZM214.3 347.0H218.4V349.7H214.3ZM243.1 347.0H251.3V349.7H243.1ZM267.8 347.0H271.9V349.7H267.8ZM304.8 347.0H308.9V349.7H304.8ZM321.2 347.0H325.3V349.7H321.2ZM329.4 347.0H333.6V349.7H329.4ZM337.7 347.0H341.8V349.7H337.7ZM350.0 347.0H354.1V349.7H350.0ZM378.8 347.0H387.0V349.7H378.8ZM391.1 347.0H399.4V349.7H391.1ZM115.6 349.7H123.8V352.3H115.6ZM132.0 349.7H136.2V352.3H132.0ZM185.5 349.7H189.6V352.3H185.5ZM247.2 349.7H255.4V352.3H247.2ZM271.9 349.7H276.0V352.3H271.9ZM288.3 349.7H292.4V352.3H288.3ZM317.1 349.7H325.3V352.3H317.1ZM329.4 349.7H337.7V352.3H329.4ZM382.9 349.7H387.0V352.3H382.9ZM395.2 349.7H399.4V352.3H395.2ZM115.6 352.3H148.5V355.0H115.6ZM164.9 352.3H173.2V355.0H164.9ZM234.9 352.3H239.0V355.0H234.9ZM247.2 352.3H251.3V355.0H247.2ZM255.4 352.3H259.5V355.0H255.4ZM263.6 352.3H267.8V355.0H263.6ZM341.8 352.3H345.9V355.0H341.8ZM387.0 352.3H391.1V355.0H387.0ZM115.6 355.0H119.7V357.7H115.6ZM127.9 355.0H132.0V357.7H127.9ZM136.2 355.0H144.4V357.7H136.2ZM148.5 355.0H152.6V357.7H148.5ZM160.8 355.0H164.9V357.7H160.8ZM230.7 355.0H239.0V357.7H230.7ZM251.3 355.0H255.4V357.7H251.3ZM259.5 355.0H267.8V357.7H259.5ZM276.0 355.0H280.1V357.7H276.0ZM292.4 355.0H296.5V357.7H292.4ZM308.9 355.0H325.3V357.7H308.9ZM329.4 355.0H333.6V357.7H329.4ZM337.7 355.0H341.8V357.7H337.7ZM370.6 355.0H374.7V357.7H370.6ZM382.9 355.0H391.1V357.7H382.9ZM403.5 355.0H407.6V357.7H403.5ZM469.3 355.0H473.4V357.7H469.3ZM489.8 355.0H493.9V357.7H489.8ZM119.7 357.7H123.8V360.4H119.7ZM136.2 357.7H140.3V360.4H136.2ZM152.6 357.7H156.7V360.4H152.6ZM189.6 357.7H193.7V360.4H189.6ZM202.0 357.7H210.2V360.4H202.0ZM214.3 357.7H222.5V360.4H214.3ZM263.6 357.7H267.8V360.4H263.6ZM325.3 357.7H333.6V360.4H325.3ZM374.7 357.7H378.8V360.4H374.7ZM387.0 357.7H395.2V360.4H387.0ZM432.3 357.7H448.7V360.4H432.3ZM452.8 357.7H469.3V360.4H452.8ZM473.4 357.7H481.6V360.4H473.4ZM115.6 360.4H119.7V363.0H115.6ZM123.8 360.4H127.9V363.0H123.8ZM132.0 360.4H136.2V363.0H132.0ZM144.4 360.4H148.5V363.0H144.4ZM152.6 360.4H156.7V363.0H152.6ZM197.8 360.4H202.0V363.0H197.8ZM210.2 360.4H214.3V363.0H210.2ZM267.8 360.4H271.9V363.0H267.8ZM292.4 360.4H296.5V363.0H292.4ZM304.8 360.4H308.9V363.0H304.8ZM333.6 360.4H341.8V363.0H333.6ZM374.7 360.4H378.8V363.0H374.7ZM391.1 360.4H399.4V363.0H391.1ZM403.5 360.4H407.6V363.0H403.5ZM432.3 360.4H436.4V363.0H432.3ZM477.5 360.4H481.6V363.0H477.5ZM489.8 360.4H498.1V363.0H489.8ZM502.2 360.4H506.3V363.0H502.2ZM510.4 360.4H518.6V363.0H510.4ZM531.0 360.4H539.2V363.0H531.0ZM123.8 363.0H127.9V365.7H123.8ZM132.0 363.0H140.3V365.7H132.0ZM193.7 363.0H197.8V365.7H193.7ZM202.0 363.0H206.1V365.7H202.0ZM210.2 363.0H214.3V365.7H210.2ZM267.8 363.0H280.1V365.7H267.8ZM292.4 363.0H296.5V365.7H292.4ZM304.8 363.0H308.9V365.7H304.8ZM337.7 363.0H341.8V365.7H337.7ZM345.9 363.0H350.0V365.7H345.9ZM354.1 363.0H358.2V365.7H354.1ZM374.7 363.0H378.8V365.7H374.7ZM395.2 363.0H403.5V365.7H395.2ZM436.4 363.0H440.5V365.7H436.4ZM485.7 363.0H493.9V365.7H485.7ZM498.1 363.0H514.5V365.7H498.1ZM522.7 363.0H526.8V365.7H522.7ZM119.7 365.7H123.8V368.4H119.7ZM132.0 365.7H136.2V368.4H132.0ZM193.7 365.7H197.8V368.4H193.7ZM206.1 365.7H222.5V368.4H206.1ZM230.7 365.7H234.9V368.4H230.7ZM267.8 365.7H276.0V368.4H267.8ZM292.4 365.7H296.5V368.4H292.4ZM304.8 365.7H308.9V368.4H304.8ZM345.9 365.7H350.0V368.4H345.9ZM354.1 365.7H358.2V368.4H354.1ZM374.7 365.7H378.8V368.4H374.7ZM391.1 365.7H395.2V368.4H391.1ZM399.4 365.7H403.5V368.4H399.4ZM489.8 365.7H493.9V368.4H489.8ZM498.1 365.7H502.2V368.4H498.1ZM526.8 365.7H535.1V368.4H526.8Z" fill="#2adddd" shape-rendering="crispEdges"/>
<path d="M391.1 325.6H395.2V328.2H391.1ZM173.2 328.2H177.3V330.9H173.2ZM403.5 328.2H407.6V330.9H403.5ZM119.7 330.9H132.0V333.6H119.7ZM136.2 330.9H140.3V333.6H136.2ZM169.1 330.9H173.2V333.6H169.1ZM177.3 330.9H181.4V333.6H177.3ZM391.1 330.9H395.2V333.6H391.1ZM403.5 330.9H407.6V333.6H403.5ZM119.7 333.6H123.8V336.3H119.7ZM127.9 333.6H132.0V336.3H127.9ZM169.1 333.6H177.3V336.3H169.1ZM181.4 333.6H185.5V336.3H181.4ZM251.3 333.6H259.5V336.3H251.3ZM325.3 333.6H329.4V336.3H325.3ZM341.8 333.6H345.9V336.3H341.8ZM115.6 336.3H132.0V338.9H115.6ZM136.2 336.3H140.3V338.9H136.2ZM169.1 336.3H173.2V338.9H169.1ZM177.3 336.3H185.5V338.9H177.3ZM189.6 336.3H193.7V338.9H189.6ZM251.3 336.3H259.5V338.9H251.3ZM333.6 336.3H337.7V338.9H333.6ZM341.8 336.3H345.9V338.9H341.8ZM136.2 338.9H144.4V341.6H136.2ZM173.2 338.9H181.4V341.6H173.2ZM251.3 338.9H255.4V341.6H251.3ZM337.7 338.9H341.8V341.6H337.7ZM119.7 341.6H123.8V344.3H119.7ZM341.8 341.6H345.9V344.3H341.8ZM119.7 344.3H123.8V347.0H119.7ZM255.4 344.3H263.6V347.0H255.4ZM333.6 344.3H337.7V347.0H333.6ZM341.8 344.3H345.9V347.0H341.8ZM136.2 347.0H140.3V349.7H136.2ZM251.3 347.0H255.4V349.7H251.3ZM259.5 347.0H263.6V349.7H259.5ZM255.4 349.7H259.5V352.3H255.4ZM189.6 352.3H193.7V355.0H189.6ZM243.1 352.3H247.2V355.0H243.1ZM251.3 352.3H255.4V355.0H251.3ZM259.5 352.3H263.6V355.0H259.5ZM164.9 355.0H173.2V357.7H164.9ZM243.1 355.0H247.2V357.7H243.1ZM378.8 355.0H382.9V357.7H378.8ZM115.6 357.7H119.7V360.4H115.6ZM127.9 357.7H132.0V360.4H127.9ZM148.5 357.7H152.6V360.4H148.5ZM156.7 357.7H160.8V360.4H156.7ZM177.3 357.7H185.5V360.4H177.3ZM222.5 357.7H230.7V360.4H222.5ZM259.5 357.7H263.6V360.4H259.5ZM378.8 357.7H387.0V360.4H378.8ZM448.7 357.7H452.8V360.4H448.7ZM469.3 357.7H473.4V360.4H469.3ZM119.7 360.4H123.8V363.0H119.7ZM136.2 360.4H144.4V363.0H136.2ZM148.5 360.4H152.6V363.0H148.5ZM185.5 360.4H193.7V363.0H185.5ZM202.0 360.4H210.2V363.0H202.0ZM263.6 360.4H267.8V363.0H263.6ZM329.4 360.4H333.6V363.0H329.4ZM387.0 360.4H391.1V363.0H387.0ZM440.5 360.4H444.6V363.0H440.5ZM469.3 360.4H477.5V363.0H469.3ZM481.6 360.4H485.7V363.0H481.6ZM119.7 363.0H123.8V365.7H119.7ZM127.9 363.0H132.0V365.7H127.9ZM144.4 363.0H156.7V365.7H144.4ZM206.1 363.0H210.2V365.7H206.1ZM214.3 363.0H222.5V365.7H214.3ZM230.7 363.0H234.9V365.7H230.7ZM333.6 363.0H337.7V365.7H333.6ZM391.1 363.0H395.2V365.7H391.1ZM493.9 363.0H498.1V365.7H493.9ZM123.8 365.7H132.0V368.4H123.8ZM136.2 365.7H148.5V368.4H136.2ZM152.6 365.7H156.7V368.4H152.6ZM189.6 365.7H193.7V368.4H189.6ZM202.0 365.7H206.1V368.4H202.0ZM222.5 365.7H226.6V368.4H222.5ZM234.9 365.7H239.0V368.4H234.9ZM333.6 365.7H337.7V368.4H333.6ZM341.8 365.7H345.9V368.4H341.8ZM350.0 365.7H354.1V368.4H350.0ZM395.2 365.7H399.4V368.4H395.2ZM419.9 365.7H424.0V368.4H419.9ZM440.5 365.7H444.6V368.4H440.5ZM485.7 365.7H489.8V368.4H485.7ZM502.2 365.7H514.5V368.4H502.2Z" fill="#63fbc3" shape-rendering="crispEdges"/>
<path d="M115.6 328.2H119.7V330.9H115.6ZM391.1 328.2H395.2V330.9H391.1ZM115.6 330.9H119.7V333.6H115.6ZM173.2 330.9H177.3V333.6H173.2ZM115.6 333.6H119.7V336.3H115.6ZM123.8 333.6H127.9V336.3H123.8ZM136.2 333.6H140.3V336.3H136.2ZM341.8 338.9H345.9V341.6H341.8ZM255.4 341.6H259.5V344.3H255.4ZM259.5 349.7H263.6V352.3H259.5ZM160.8 357.7H164.9V360.4H160.8ZM173.2 357.7H177.3V360.4H173.2ZM230.7 357.7H234.9V360.4H230.7ZM247.2 357.7H255.4V360.4H247.2ZM321.2 357.7H325.3V360.4H321.2ZM177.3 360.4H185.5V363.0H177.3ZM214.3 360.4H230.7V363.0H214.3ZM251.3 360.4H255.4V363.0H251.3ZM259.5 360.4H263.6V363.0H259.5ZM325.3 360.4H329.4V363.0H325.3ZM382.9 360.4H387.0V363.0H382.9ZM444.6 360.4H469.3V363.0H444.6ZM140.3 363.0H144.4V365.7H140.3ZM181.4 363.0H193.7V365.7H181.4ZM222.5 363.0H230.7V365.7H222.5ZM234.9 363.0H239.0V365.7H234.9ZM255.4 363.0H267.8V365.7H255.4ZM387.0 363.0H391.1V365.7H387.0ZM440.5 363.0H456.9V365.7H440.5ZM477.5 363.0H485.7V365.7H477.5ZM148.5 365.7H152.6V368.4H148.5ZM239.0 365.7H243.1V368.4H239.0ZM259.5 365.7H267.8V368.4H259.5ZM308.9 365.7H313.0V368.4H308.9ZM329.4 365.7H333.6V368.4H329.4ZM337.7 365.7H341.8V368.4H337.7ZM387.0 365.7H391.1V368.4H387.0ZM424.0 365.7H428.1V368.4H424.0ZM444.6 365.7H456.9V368.4H444.6ZM473.4 365.7H477.5V368.4H473.4ZM481.6 365.7H485.7V368.4H481.6ZM493.9 365.7H498.1V368.4H493.9Z" fill="#9cfba4" shape-rendering="crispEdges"/>
<path d="M255.4 338.9H259.5V341.6H255.4ZM255.4 347.0H259.5V349.7H255.4ZM239.0 355.0H243.1V357.7H239.0ZM169.1 357.7H173.2V360.4H169.1ZM234.9 357.7H239.0V360.4H234.9ZM308.9 357.7H313.0V360.4H308.9ZM156.7 360.4H160.8V363.0H156.7ZM230.7 360.4H239.0V363.0H230.7ZM255.4 360.4H259.5V363.0H255.4ZM308.9 360.4H313.0V363.0H308.9ZM378.8 360.4H382.9V363.0H378.8ZM177.3 363.0H181.4V365.7H177.3ZM239.0 363.0H243.1V365.7H239.0ZM308.9 363.0H313.0V365.7H308.9ZM325.3 363.0H333.6V365.7H325.3ZM473.4 363.0H477.5V365.7H473.4ZM156.7 365.7H160.8V368.4H156.7ZM181.4 365.7H189.6V368.4H181.4ZM255.4 365.7H259.5V368.4H255.4ZM456.9 365.7H461.0V368.4H456.9ZM469.3 365.7H473.4V368.4H469.3Z" fill="#d4dd80" shape-rendering="crispEdges"/>
<path d="M164.9 357.7H169.1V360.4H164.9ZM160.8 360.4H164.9V363.0H160.8ZM169.1 360.4H173.2V363.0H169.1ZM247.2 360.4H251.3V363.0H247.2ZM160.8 363.0H164.9V365.7H160.8ZM169.1 363.0H177.3V365.7H169.1ZM321.2 363.0H325.3V365.7H321.2ZM461.0 363.0H465.2V365.7H461.0ZM164.9 365.7H177.3V368.4H164.9Z" fill="#ff572c" shape-rendering="crispEdges"/>
<path d="M239.0 357.7H243.1V360.4H239.0ZM164.9 360.4H169.1V363.0H164.9ZM239.0 360.4H247.2V363.0H239.0ZM313.0 360.4H321.2V363.0H313.0ZM164.9 363.0H169.1V365.7H164.9ZM243.1 363.0H251.3V365.7H243.1ZM313.0 363.0H321.2V365.7H313.0ZM247.2 365.7H251.3V368.4H247.2ZM313.0 365.7H321.2V368.4H313.0Z" fill="#ff0000" shape-rendering="crispEdges"/>
<path d="M243.1 357.7H247.2V360.4H243.1ZM255.4 357.7H259.5V360.4H255.4ZM313.0 357.7H321.2V360.4H313.0ZM173.2 360.4H177.3V363.0H173.2ZM321.2 360.4H325.3V363.0H321.2ZM156.7 363.0H160.8V365.7H156.7ZM251.3 363.0H255.4V365.7H251.3ZM378.8 363.0H387.0V365.7H378.8ZM456.9 363.0H461.0V365.7H456.9ZM465.2 363.0H473.4V365.7H465.2ZM160.8 365.7H164.9V368.4H160.8ZM177.3 365.7H181.4V368.4H177.3ZM243.1 365.7H247.2V368.4H243.1ZM251.3 365.7H255.4V368.4H251.3ZM321.2 365.7H329.4V368.4H321.2ZM378.8 365.7H387.0V368.4H378.8ZM461.0 365.7H469.3V368.4H461.0ZM477.5 365.7H481.6V368.4H477.5Z" fill="#ffa457" shape-rendering="crispEdges"/>
<path d="M115.6 368.7H119.7V371.4H115.6ZM234.9 368.7H239.0V371.4H234.9ZM255.4 368.7H259.5V371.4H255.4ZM267.8 368.7H271.9V371.4H267.8ZM284.2 368.7H296.5V371.4H284.2ZM304.8 368.7H308.9V371.4H304.8ZM317.1 368.7H321.2V371.4H317.1ZM333.6 368.7H350.0V371.4H333.6ZM358.2 368.7H366.5V371.4H358.2ZM370.6 368.7H374.7V371.4H370.6ZM387.0 368.7H391.1V371.4H387.0ZM403.5 368.7H415.8V371.4H403.5ZM419.9 368.7H432.3V371.4H419.9ZM440.5 368.7H444.6V371.4H440.5ZM452.8 368.7H465.2V371.4H452.8ZM473.4 368.7H547.4V371.4H473.4ZM164.9 371.4H169.1V374.1H164.9ZM181.4 371.4H189.6V374.1H181.4ZM276.0 371.4H280.1V374.1H276.0ZM313.0 371.4H317.1V374.1H313.0ZM321.2 371.4H325.3V374.1H321.2ZM358.2 371.4H362.3V374.1H358.2ZM366.5 371.4H374.7V374.1H366.5ZM387.0 371.4H391.1V374.1H387.0ZM395.2 371.4H407.6V374.1H395.2ZM411.7 371.4H419.9V374.1H411.7ZM424.0 371.4H428.1V374.1H424.0ZM456.9 371.4H465.2V374.1H456.9ZM469.3 371.4H547.4V374.1H469.3ZM140.3 374.1H144.4V376.8H140.3ZM156.7 374.1H160.8V376.8H156.7ZM173.2 374.1H181.4V376.8H173.2ZM185.5 374.1H189.6V376.8H185.5ZM206.1 374.1H210.2V376.8H206.1ZM218.4 374.1H234.9V376.8H218.4ZM259.5 374.1H263.6V376.8H259.5ZM267.8 374.1H276.0V376.8H267.8ZM284.2 374.1H300.7V376.8H284.2ZM317.1 374.1H321.2V376.8H317.1ZM329.4 374.1H337.7V376.8H329.4ZM341.8 374.1H350.0V376.8H341.8ZM366.5 374.1H370.6V376.8H366.5ZM378.8 374.1H382.9V376.8H378.8ZM387.0 374.1H395.2V376.8H387.0ZM403.5 374.1H407.6V376.8H403.5ZM419.9 374.1H424.0V376.8H419.9ZM428.1 374.1H432.3V376.8H428.1ZM436.4 374.1H448.7V376.8H436.4ZM465.2 374.1H469.3V376.8H465.2ZM473.4 374.1H547.4V376.8H473.4ZM123.8 376.8H127.9V379.5H123.8ZM144.4 376.8H148.5V379.5H144.4ZM160.8 376.8H169.1V379.5H160.8ZM173.2 376.8H181.4V379.5H173.2ZM197.8 376.8H202.0V379.5H197.8ZM210.2 376.8H214.3V379.5H210.2ZM230.7 376.8H234.9V379.5H230.7ZM239.0 376.8H243.1V379.5H239.0ZM255.4 376.8H259.5V379.5H255.4ZM263.6 376.8H267.8V379.5H263.6ZM271.9 376.8H276.0V379.5H271.9ZM300.7 376.8H304.8V379.5H300.7ZM308.9 376.8H313.0V379.5H308.9ZM317.1 376.8H321.2V379.5H317.1ZM337.7 376.8H341.8V379.5H337.7ZM362.3 376.8H374.7V379.5H362.3ZM387.0 376.8H403.5V379.5H387.0ZM407.6 376.8H411.7V379.5H407.6ZM419.9 376.8H428.1V379.5H419.9ZM440.5 376.8H444.6V379.5H440.5ZM465.2 376.8H469.3V379.5H465.2ZM473.4 376.8H547.4V379.5H473.4ZM115.6 379.5H119.7V382.2H115.6ZM144.4 379.5H156.7V382.2H144.4ZM160.8 379.5H173.2V382.2H160.8ZM193.7 379.5H202.0V382.2H193.7ZM214.3 379.5H226.6V382.2H214.3ZM230.7 379.5H243.1V382.2H230.7ZM247.2 379.5H251.3V382.2H247.2ZM255.4 379.5H263.6V382.2H255.4ZM267.8 379.5H271.9V382.2H267.8ZM276.0 379.5H280.1V382.2H276.0ZM292.4 379.5H296.5V382.2H292.4ZM300.7 379.5H308.9V382.2H300.7ZM313.0 379.5H321.2V382.2H313.0ZM341.8 379.5H350.0V382.2H341.8ZM358.2 379.5H362.3V382.2H358.2ZM366.5 379.5H374.7V382.2H366.5ZM378.8 379.5H387.0V382.2H378.8ZM395.2 379.5H403.5V382.2H395.2ZM407.6 379.5H415.8V382.2H407.6ZM424.0 379.5H440.5V382.2H424.0ZM448.7 379.5H452.8V382.2H448.7ZM469.3 379.5H547.4V382.2H469.3ZM119.7 382.2H127.9V384.9H119.7ZM140.3 382.2H148.5V384.9H140.3ZM152.6 382.2H185.5V384.9H152.6ZM189.6 382.2H210.2V384.9H189.6ZM214.3 382.2H218.4V384.9H214.3ZM234.9 382.2H239.0V384.9H234.9ZM243.1 382.2H267.8V384.9H243.1ZM271.9 382.2H284.2V384.9H271.9ZM296.5 382.2H300.7V384.9H296.5ZM304.8 382.2H321.2V384.9H304.8ZM325.3 382.2H333.6V384.9H325.3ZM337.7 382.2H345.9V384.9H337.7ZM362.3 382.2H366.5V384.9H362.3ZM370.6 382.2H378.8V384.9H370.6ZM382.9 382.2H395.2V384.9H382.9ZM399.4 382.2H419.9V384.9H399.4ZM424.0 382.2H428.1V384.9H424.0ZM432.3 382.2H436.4V384.9H432.3ZM452.8 382.2H456.9V384.9H452.8ZM473.4 382.2H547.4V384.9H473.4ZM123.8 384.9H127.9V387.6H123.8ZM132.0 384.9H136.2V387.6H132.0ZM140.3 384.9H156.7V387.6H140.3ZM160.8 384.9H169.1V387.6H160.8ZM173.2 384.9H181.4V387.6H173.2ZM185.5 384.9H202.0V387.6H185.5ZM206.1 384.9H210.2V387.6H206.1ZM222.5 384.9H226.6V387.6H222.5ZM230.7 384.9H234.9V387.6H230.7ZM247.2 384.9H255.4V387.6H247.2ZM259.5 384.9H276.0V387.6H259.5ZM280.1 384.9H288.3V387.6H280.1ZM296.5 384.9H304.8V387.6H296.5ZM313.0 384.9H317.1V387.6H313.0ZM325.3 384.9H329.4V387.6H325.3ZM333.6 384.9H341.8V387.6H333.6ZM350.0 384.9H366.5V387.6H350.0ZM370.6 384.9H378.8V387.6H370.6ZM382.9 384.9H407.6V387.6H382.9ZM411.7 384.9H415.8V387.6H411.7ZM419.9 384.9H428.1V387.6H419.9ZM440.5 384.9H461.0V387.6H440.5ZM465.2 384.9H547.4V387.6H465.2ZM115.6 387.6H119.7V390.3H115.6ZM127.9 387.6H132.0V390.3H127.9ZM136.2 387.6H144.4V390.3H136.2ZM160.8 387.6H181.4V390.3H160.8ZM185.5 387.6H193.7V390.3H185.5ZM197.8 387.6H202.0V390.3H197.8ZM206.1 387.6H214.3V390.3H206.1ZM218.4 387.6H226.6V390.3H218.4ZM230.7 387.6H234.9V390.3H230.7ZM247.2 387.6H259.5V390.3H247.2ZM271.9 387.6H280.1V390.3H271.9ZM284.2 387.6H300.7V390.3H284.2ZM333.6 387.6H337.7V390.3H333.6ZM350.0 387.6H354.1V390.3H350.0ZM358.2 387.6H366.5V390.3H358.2ZM370.6 387.6H378.8V390.3H370.6ZM395.2 387.6H411.7V390.3H395.2ZM419.9 387.6H424.0V390.3H419.9ZM428.1 387.6H432.3V390.3H428.1ZM440.5 387.6H448.7V390.3H440.5ZM456.9 387.6H547.4V390.3H456.9ZM119.7 390.3H127.9V392.9H119.7ZM132.0 390.3H148.5V392.9H132.0ZM152.6 390.3H156.7V392.9H152.6ZM164.9 390.3H189.6V392.9H164.9ZM193.7 390.3H214.3V392.9H193.7ZM218.4 390.3H230.7V392.9H218.4ZM247.2 390.3H263.6V392.9H247.2ZM271.9 390.3H284.2V392.9H271.9ZM292.4 390.3H296.5V392.9H292.4ZM337.7 390.3H350.0V392.9H337.7ZM354.1 390.3H366.5V392.9H354.1ZM370.6 390.3H374.7V392.9H370.6ZM395.2 390.3H399.4V392.9H395.2ZM403.5 390.3H411.7V392.9H403.5ZM415.8 390.3H432.3V392.9H415.8ZM440.5 390.3H448.7V392.9H440.5ZM469.3 390.3H547.4V392.9H469.3ZM115.6 392.9H123.8V395.6H115.6ZM127.9 392.9H152.6V395.6H127.9ZM164.9 392.9H185.5V395.6H164.9ZM193.7 392.9H197.8V395.6H193.7ZM202.0 392.9H218.4V395.6H202.0ZM222.5 392.9H230.7V395.6H222.5ZM263.6 392.9H304.8V395.6H263.6ZM350.0 392.9H362.3V395.6H350.0ZM407.6 392.9H411.7V395.6H407.6ZM415.8 392.9H428.1V395.6H415.8ZM432.3 392.9H436.4V395.6H432.3ZM473.4 392.9H547.4V395.6H473.4ZM185.5 395.6H189.6V398.3H185.5ZM202.0 395.6H206.1V398.3H202.0ZM210.2 395.6H226.6V398.3H210.2ZM276.0 395.6H300.7V398.3H276.0ZM354.1 395.6H358.2V398.3H354.1ZM362.3 395.6H374.7V398.3H362.3ZM407.6 395.6H411.7V398.3H407.6ZM415.8 395.6H424.0V398.3H415.8ZM428.1 395.6H440.5V398.3H428.1ZM206.1 398.3H214.3V401.0H206.1ZM280.1 398.3H288.3V401.0H280.1ZM292.4 398.3H304.8V401.0H292.4ZM362.3 398.3H374.7V401.0H362.3ZM403.5 398.3H407.6V401.0H403.5ZM419.9 398.3H440.5V401.0H419.9ZM222.5 401.0H226.6V403.7H222.5ZM419.9 401.0H424.0V403.7H419.9ZM247.2 411.8H251.3V414.5H247.2ZM243.1 414.5H247.2V417.2H243.1ZM271.9 414.5H280.1V417.2H271.9ZM284.2 414.5H292.4V417.2H284.2ZM321.2 414.5H325.3V417.2H321.2ZM395.2 414.5H407.6V417.2H395.2Z" fill="#8000ff" shape-rendering="crispEdges"/>
<path d="M148.5 374.1H152.6V376.8H148.5ZM415.8 374.1H419.9V376.8H415.8ZM148.5 376.8H152.6V379.5H148.5ZM419.9 379.5H424.0V382.2H419.9ZM239.0 382.2H243.1V384.9H239.0ZM419.9 382.2H424.0V384.9H419.9ZM169.1 384.9H173.2V387.6H169.1ZM181.4 384.9H185.5V387.6H181.4ZM234.9 384.9H239.0V387.6H234.9ZM243.1 384.9H247.2V387.6H243.1ZM255.4 384.9H259.5V387.6H255.4ZM321.2 384.9H325.3V387.6H321.2ZM341.8 384.9H350.0V387.6H341.8ZM144.4 387.6H148.5V390.3H144.4ZM152.6 387.6H160.8V390.3H152.6ZM181.4 387.6H185.5V390.3H181.4ZM193.7 387.6H197.8V390.3H193.7ZM202.0 387.6H206.1V390.3H202.0ZM226.6 387.6H230.7V390.3H226.6ZM263.6 387.6H267.8V390.3H263.6ZM300.7 387.6H304.8V390.3H300.7ZM366.5 387.6H370.6V390.3H366.5ZM391.1 387.6H395.2V390.3H391.1ZM424.0 387.6H428.1V390.3H424.0ZM127.9 390.3H132.0V392.9H127.9ZM148.5 390.3H152.6V392.9H148.5ZM189.6 390.3H193.7V392.9H189.6ZM263.6 390.3H271.9V392.9H263.6ZM296.5 390.3H304.8V392.9H296.5ZM350.0 390.3H354.1V392.9H350.0ZM366.5 390.3H370.6V392.9H366.5ZM374.7 390.3H378.8V392.9H374.7ZM387.0 390.3H391.1V392.9H387.0ZM399.4 390.3H403.5V392.9H399.4ZM448.7 390.3H452.8V392.9H448.7ZM456.9 390.3H461.0V392.9H456.9ZM465.2 390.3H469.3V392.9H465.2ZM123.8 392.9H127.9V395.6H123.8ZM185.5 392.9H189.6V395.6H185.5ZM197.8 392.9H202.0V395.6H197.8ZM218.4 392.9H222.5V395.6H218.4ZM230.7 392.9H234.9V395.6H230.7ZM304.8 392.9H308.9V395.6H304.8ZM345.9 392.9H350.0V395.6H345.9ZM362.3 392.9H378.8V395.6H362.3ZM395.2 392.9H407.6V395.6H395.2ZM428.1 392.9H432.3V395.6H428.1ZM448.7 392.9H452.8V395.6H448.7ZM456.9 392.9H465.2V395.6H456.9ZM115.6 395.6H127.9V398.3H115.6ZM132.0 395.6H152.6V398.3H132.0ZM181.4 395.6H185.5V398.3H181.4ZM197.8 395.6H202.0V398.3H197.8ZM230.7 395.6H234.9V398.3H230.7ZM304.8 395.6H308.9V398.3H304.8ZM350.0 395.6H354.1V398.3H350.0ZM374.7 395.6H378.8V398.3H374.7ZM395.2 395.6H407.6V398.3H395.2ZM424.0 395.6H428.1V398.3H424.0ZM448.7 395.6H452.8V398.3H448.7ZM522.7 395.6H526.8V398.3H522.7ZM539.2 395.6H543.3V398.3H539.2ZM140.3 398.3H144.4V401.0H140.3ZM197.8 398.3H206.1V401.0H197.8ZM214.3 398.3H226.6V401.0H214.3ZM354.1 398.3H362.3V401.0H354.1ZM374.7 398.3H378.8V401.0H374.7ZM407.6 398.3H411.7V401.0H407.6ZM415.8 398.3H419.9V401.0H415.8ZM440.5 398.3H452.8V401.0H440.5ZM206.1 401.0H210.2V403.7H206.1ZM218.4 401.0H222.5V403.7H218.4ZM226.6 401.0H234.9V403.7H226.6ZM292.4 401.0H300.7V403.7H292.4ZM411.7 401.0H415.8V403.7H411.7ZM424.0 401.0H428.1V403.7H424.0ZM432.3 401.0H448.7V403.7H432.3ZM226.6 403.7H230.7V406.4H226.6ZM325.3 411.8H329.4V414.5H325.3ZM214.3 414.5H222.5V417.2H214.3ZM247.2 414.5H255.4V417.2H247.2ZM259.5 414.5H271.9V417.2H259.5ZM280.1 414.5H284.2V417.2H280.1ZM292.4 414.5H296.5V417.2H292.4ZM329.4 414.5H333.6V417.2H329.4ZM354.1 414.5H358.2V417.2H354.1ZM362.3 414.5H366.5V417.2H362.3ZM391.1 414.5H395.2V417.2H391.1ZM407.6 414.5H411.7V417.2H407.6Z" fill="#0ea4f0" shape-rendering="crispEdges"/>
<path d="M226.6 376.8H230.7V379.5H226.6ZM148.5 382.2H152.6V384.9H148.5ZM308.9 384.9H313.0V387.6H308.9ZM461.0 390.3H465.2V392.9H461.0ZM189.6 392.9H193.7V395.6H189.6ZM189.6 395.6H193.7V398.3H189.6ZM226.6 395.6H230.7V398.3H226.6ZM119.7 398.3H123.8V401.0H119.7ZM148.5 398.3H152.6V401.0H148.5ZM226.6 398.3H230.7V401.0H226.6ZM148.5 401.0H152.6V403.7H148.5ZM300.7 401.0H304.8V403.7H300.7ZM325.3 414.5H329.4V417.2H325.3ZM382.9 414.5H391.1V417.2H382.9Z" fill="#4757fb" shape-rendering="crispEdges"/>
<path d="M411.7 376.8H415.8V379.5H411.7ZM378.8 382.2H382.9V384.9H378.8ZM428.1 382.2H432.3V384.9H428.1ZM239.0 384.9H243.1V387.6H239.0ZM304.8 384.9H308.9V387.6H304.8ZM317.1 384.9H321.2V387.6H317.1ZM378.8 384.9H382.9V387.6H378.8ZM428.1 384.9H432.3V387.6H428.1ZM234.9 387.6H247.2V390.3H234.9ZM267.8 387.6H271.9V390.3H267.8ZM308.9 387.6H317.1V390.3H308.9ZM321.2 387.6H333.6V390.3H321.2ZM382.9 387.6H391.1V390.3H382.9ZM436.4 387.6H440.5V390.3H436.4ZM448.7 387.6H456.9V390.3H448.7ZM156.7 390.3H164.9V392.9H156.7ZM230.7 390.3H234.9V392.9H230.7ZM304.8 390.3H308.9V392.9H304.8ZM313.0 390.3H317.1V392.9H313.0ZM321.2 390.3H329.4V392.9H321.2ZM333.6 390.3H337.7V392.9H333.6ZM382.9 390.3H387.0V392.9H382.9ZM391.1 390.3H395.2V392.9H391.1ZM452.8 390.3H456.9V392.9H452.8ZM152.6 392.9H156.7V395.6H152.6ZM160.8 392.9H164.9V395.6H160.8ZM259.5 392.9H263.6V395.6H259.5ZM337.7 392.9H345.9V395.6H337.7ZM391.1 392.9H395.2V395.6H391.1ZM436.4 392.9H440.5V395.6H436.4ZM444.6 392.9H448.7V395.6H444.6ZM452.8 392.9H456.9V395.6H452.8ZM465.2 392.9H473.4V395.6H465.2ZM152.6 395.6H156.7V398.3H152.6ZM173.2 395.6H181.4V398.3H173.2ZM193.7 395.6H197.8V398.3H193.7ZM263.6 395.6H276.0V398.3H263.6ZM341.8 395.6H350.0V398.3H341.8ZM391.1 395.6H395.2V398.3H391.1ZM456.9 395.6H465.2V398.3H456.9ZM502.2 395.6H506.3V398.3H502.2ZM514.5 395.6H522.7V398.3H514.5ZM526.8 395.6H539.2V398.3H526.8ZM543.3 395.6H547.4V398.3H543.3ZM132.0 398.3H140.3V401.0H132.0ZM144.4 398.3H148.5V401.0H144.4ZM152.6 398.3H156.7V401.0H152.6ZM181.4 398.3H185.5V401.0H181.4ZM193.7 398.3H197.8V401.0H193.7ZM230.7 398.3H234.9V401.0H230.7ZM276.0 398.3H280.1V401.0H276.0ZM288.3 398.3H292.4V401.0H288.3ZM350.0 398.3H354.1V401.0H350.0ZM452.8 398.3H461.0V401.0H452.8ZM522.7 398.3H547.4V401.0H522.7ZM123.8 401.0H127.9V403.7H123.8ZM132.0 401.0H136.2V403.7H132.0ZM210.2 401.0H218.4V403.7H210.2ZM280.1 401.0H288.3V403.7H280.1ZM358.2 401.0H362.3V403.7H358.2ZM403.5 401.0H411.7V403.7H403.5ZM415.8 401.0H419.9V403.7H415.8ZM428.1 401.0H432.3V403.7H428.1ZM448.7 401.0H456.9V403.7H448.7ZM535.1 401.0H547.4V403.7H535.1ZM222.5 403.7H226.6V406.4H222.5ZM230.7 403.7H239.0V406.4H230.7ZM226.6 406.4H230.7V409.1H226.6ZM243.1 411.8H247.2V414.5H243.1ZM251.3 411.8H263.6V414.5H251.3ZM267.8 411.8H271.9V414.5H267.8ZM321.2 411.8H325.3V414.5H321.2ZM115.6 414.5H123.8V417.2H115.6ZM132.0 414.5H136.2V417.2H132.0ZM193.7 414.5H197.8V417.2H193.7ZM202.0 414.5H214.3V417.2H202.0ZM222.5 414.5H234.9V417.2H222.5ZM255.4 414.5H259.5V417.2H255.4ZM317.1 414.5H321.2V417.2H317.1ZM333.6 414.5H341.8V417.2H333.6ZM345.9 414.5H354.1V417.2H345.9ZM358.2 414.5H362.3V417.2H358.2ZM366.5 414.5H382.9V417.2H366.5ZM411.7 414.5H415.8V417.2H411.7Z" fill="#2adddd" shape-rendering="crispEdges"/>
<path d="M432.3 384.9H436.4V387.6H432.3ZM148.5 387.6H152.6V390.3H148.5ZM304.8 387.6H308.9V390.3H304.8ZM317.1 387.6H321.2V390.3H317.1ZM378.8 387.6H382.9V390.3H378.8ZM432.3 387.6H436.4V390.3H432.3ZM234.9 390.3H247.2V392.9H234.9ZM317.1 390.3H321.2V392.9H317.1ZM329.4 390.3H333.6V392.9H329.4ZM156.7 392.9H160.8V395.6H156.7ZM234.9 392.9H239.0V395.6H234.9ZM247.2 392.9H259.5V395.6H247.2ZM333.6 392.9H337.7V395.6H333.6ZM382.9 392.9H391.1V395.6H382.9ZM440.5 392.9H444.6V395.6H440.5ZM127.9 395.6H132.0V398.3H127.9ZM156.7 395.6H160.8V398.3H156.7ZM169.1 395.6H173.2V398.3H169.1ZM308.9 395.6H313.0V398.3H308.9ZM337.7 395.6H341.8V398.3H337.7ZM378.8 395.6H382.9V398.3H378.8ZM387.0 395.6H391.1V398.3H387.0ZM440.5 395.6H448.7V398.3H440.5ZM452.8 395.6H456.9V398.3H452.8ZM465.2 395.6H473.4V398.3H465.2ZM493.9 395.6H502.2V398.3H493.9ZM506.3 395.6H514.5V398.3H506.3ZM115.6 398.3H119.7V401.0H115.6ZM123.8 398.3H132.0V401.0H123.8ZM156.7 398.3H160.8V401.0H156.7ZM185.5 398.3H193.7V401.0H185.5ZM313.0 398.3H317.1V401.0H313.0ZM345.9 398.3H350.0V401.0H345.9ZM378.8 398.3H387.0V401.0H378.8ZM395.2 398.3H403.5V401.0H395.2ZM461.0 398.3H465.2V401.0H461.0ZM502.2 398.3H510.4V401.0H502.2ZM514.5 398.3H522.7V401.0H514.5ZM115.6 401.0H123.8V403.7H115.6ZM136.2 401.0H148.5V403.7H136.2ZM234.9 401.0H239.0V403.7H234.9ZM276.0 401.0H280.1V403.7H276.0ZM288.3 401.0H292.4V403.7H288.3ZM362.3 401.0H366.5V403.7H362.3ZM370.6 401.0H378.8V403.7H370.6ZM391.1 401.0H403.5V403.7H391.1ZM456.9 401.0H465.2V403.7H456.9ZM522.7 401.0H535.1V403.7H522.7ZM119.7 403.7H127.9V406.4H119.7ZM132.0 403.7H136.2V406.4H132.0ZM152.6 403.7H156.7V406.4H152.6ZM218.4 403.7H222.5V406.4H218.4ZM284.2 403.7H288.3V406.4H284.2ZM292.4 403.7H296.5V406.4H292.4ZM300.7 403.7H308.9V406.4H300.7ZM407.6 403.7H436.4V406.4H407.6ZM222.5 406.4H226.6V409.1H222.5ZM230.7 406.4H239.0V409.1H230.7ZM300.7 406.4H304.8V409.1H300.7ZM419.9 406.4H428.1V409.1H419.9ZM243.1 409.1H247.2V411.8H243.1ZM123.8 411.8H127.9V414.5H123.8ZM132.0 411.8H136.2V414.5H132.0ZM160.8 411.8H164.9V414.5H160.8ZM263.6 411.8H267.8V414.5H263.6ZM271.9 411.8H280.1V414.5H271.9ZM284.2 411.8H288.3V414.5H284.2ZM292.4 411.8H296.5V414.5H292.4ZM329.4 411.8H337.7V414.5H329.4ZM123.8 414.5H132.0V417.2H123.8ZM136.2 414.5H140.3V417.2H136.2ZM152.6 414.5H164.9V417.2H152.6ZM185.5 414.5H189.6V417.2H185.5ZM197.8 414.5H202.0V417.2H197.8ZM296.5 414.5H304.8V417.2H296.5ZM341.8 414.5H345.9V417.2H341.8ZM415.8 414.5H424.0V417.2H415.8Z" fill="#63fbc3" shape-rendering="crispEdges"/>
<path d="M308.9 390.3H313.0V392.9H308.9ZM436.4 390.3H440.5V392.9H436.4ZM239.0 392.9H243.1V395.6H239.0ZM308.9 392.9H313.0V395.6H308.9ZM317.1 392.9H321.2V395.6H317.1ZM325.3 392.9H329.4V395.6H325.3ZM234.9 395.6H239.0V398.3H234.9ZM247.2 395.6H259.5V398.3H247.2ZM329.4 395.6H333.6V398.3H329.4ZM481.6 395.6H485.7V398.3H481.6ZM160.8 398.3H169.1V401.0H160.8ZM173.2 398.3H181.4V401.0H173.2ZM333.6 398.3H337.7V401.0H333.6ZM485.7 398.3H493.9V401.0H485.7ZM177.3 401.0H181.4V403.7H177.3ZM197.8 401.0H206.1V403.7H197.8ZM239.0 401.0H243.1V403.7H239.0ZM267.8 401.0H271.9V403.7H267.8ZM308.9 401.0H317.1V403.7H308.9ZM345.9 401.0H350.0V403.7H345.9ZM465.2 401.0H473.4V403.7H465.2ZM493.9 401.0H510.4V403.7H493.9ZM185.5 403.7H189.6V406.4H185.5ZM210.2 403.7H218.4V406.4H210.2ZM271.9 403.7H276.0V406.4H271.9ZM288.3 403.7H292.4V406.4H288.3ZM378.8 403.7H399.4V406.4H378.8ZM514.5 403.7H531.0V406.4H514.5ZM119.7 406.4H123.8V409.1H119.7ZM127.9 406.4H132.0V409.1H127.9ZM140.3 406.4H148.5V409.1H140.3ZM152.6 406.4H160.8V409.1H152.6ZM193.7 406.4H202.0V409.1H193.7ZM218.4 406.4H222.5V409.1H218.4ZM276.0 406.4H288.3V409.1H276.0ZM292.4 406.4H296.5V409.1H292.4ZM407.6 406.4H411.7V409.1H407.6ZM432.3 406.4H440.5V409.1H432.3ZM115.6 409.1H119.7V411.8H115.6ZM127.9 409.1H132.0V411.8H127.9ZM148.5 409.1H152.6V411.8H148.5ZM156.7 409.1H160.8V411.8H156.7ZM189.6 409.1H197.8V411.8H189.6ZM206.1 409.1H210.2V411.8H206.1ZM226.6 409.1H230.7V411.8H226.6ZM239.0 409.1H243.1V411.8H239.0ZM247.2 409.1H251.3V411.8H247.2ZM259.5 409.1H263.6V411.8H259.5ZM271.9 409.1H276.0V411.8H271.9ZM280.1 409.1H288.3V411.8H280.1ZM296.5 409.1H300.7V411.8H296.5ZM415.8 409.1H419.9V411.8H415.8ZM148.5 411.8H152.6V414.5H148.5ZM189.6 411.8H197.8V414.5H189.6ZM206.1 411.8H210.2V414.5H206.1ZM218.4 411.8H230.7V414.5H218.4ZM296.5 411.8H300.7V414.5H296.5ZM313.0 411.8H317.1V414.5H313.0ZM341.8 411.8H362.3V414.5H341.8ZM366.5 411.8H374.7V414.5H366.5ZM378.8 411.8H382.9V414.5H378.8ZM387.0 411.8H391.1V414.5H387.0ZM403.5 411.8H407.6V414.5H403.5ZM411.7 411.8H415.8V414.5H411.7ZM164.9 414.5H177.3V417.2H164.9ZM181.4 414.5H185.5V417.2H181.4ZM234.9 414.5H243.1V417.2H234.9ZM436.4 414.5H461.0V417.2H436.4ZM535.1 414.5H547.4V417.2H535.1Z" fill="#d4dd80" shape-rendering="crispEdges"/>
<path d="M378.8 390.3H382.9V392.9H378.8ZM243.1 392.9H247.2V395.6H243.1ZM313.0 392.9H317.1V395.6H313.0ZM329.4 392.9H333.6V395.6H329.4ZM378.8 392.9H382.9V395.6H378.8ZM160.8 395.6H169.1V398.3H160.8ZM259.5 395.6H263.6V398.3H259.5ZM313.0 395.6H317.1V398.3H313.0ZM333.6 395.6H337.7V398.3H333.6ZM485.7 395.6H493.9V398.3H485.7ZM234.9 398.3H239.0V401.0H234.9ZM263.6 398.3H276.0V401.0H263.6ZM304.8 398.3H313.0V401.0H304.8ZM337.7 398.3H345.9V401.0H337.7ZM387.0 398.3H395.2V401.0H387.0ZM465.2 398.3H473.4V401.0H465.2ZM493.9 398.3H502.2V401.0H493.9ZM510.4 398.3H514.5V401.0H510.4ZM127.9 401.0H132.0V403.7H127.9ZM152.6 401.0H164.9V403.7H152.6ZM181.4 401.0H197.8V403.7H181.4ZM271.9 401.0H276.0V403.7H271.9ZM304.8 401.0H308.9V403.7H304.8ZM350.0 401.0H358.2V403.7H350.0ZM366.5 401.0H370.6V403.7H366.5ZM378.8 401.0H391.1V403.7H378.8ZM510.4 401.0H522.7V403.7H510.4ZM115.6 403.7H119.7V406.4H115.6ZM127.9 403.7H132.0V406.4H127.9ZM136.2 403.7H152.6V406.4H136.2ZM156.7 403.7H164.9V406.4H156.7ZM197.8 403.7H202.0V406.4H197.8ZM239.0 403.7H243.1V406.4H239.0ZM276.0 403.7H284.2V406.4H276.0ZM296.5 403.7H300.7V406.4H296.5ZM399.4 403.7H407.6V406.4H399.4ZM456.9 403.7H461.0V406.4H456.9ZM531.0 403.7H547.4V406.4H531.0ZM115.6 406.4H119.7V409.1H115.6ZM123.8 406.4H127.9V409.1H123.8ZM136.2 406.4H140.3V409.1H136.2ZM148.5 406.4H152.6V409.1H148.5ZM160.8 406.4H164.9V409.1H160.8ZM214.3 406.4H218.4V409.1H214.3ZM239.0 406.4H243.1V409.1H239.0ZM296.5 406.4H300.7V409.1H296.5ZM411.7 406.4H419.9V409.1H411.7ZM428.1 406.4H432.3V409.1H428.1ZM119.7 409.1H127.9V411.8H119.7ZM132.0 409.1H136.2V411.8H132.0ZM160.8 409.1H164.9V411.8H160.8ZM197.8 409.1H206.1V411.8H197.8ZM234.9 409.1H239.0V411.8H234.9ZM251.3 409.1H259.5V411.8H251.3ZM263.6 409.1H271.9V411.8H263.6ZM276.0 409.1H280.1V411.8H276.0ZM115.6 411.8H123.8V414.5H115.6ZM127.9 411.8H132.0V414.5H127.9ZM136.2 411.8H140.3V414.5H136.2ZM152.6 411.8H160.8V414.5H152.6ZM197.8 411.8H206.1V414.5H197.8ZM210.2 411.8H218.4V414.5H210.2ZM234.9 411.8H243.1V414.5H234.9ZM280.1 411.8H284.2V414.5H280.1ZM288.3 411.8H292.4V414.5H288.3ZM317.1 411.8H321.2V414.5H317.1ZM337.7 411.8H341.8V414.5H337.7ZM362.3 411.8H366.5V414.5H362.3ZM374.7 411.8H378.8V414.5H374.7ZM382.9 411.8H387.0V414.5H382.9ZM391.1 411.8H403.5V414.5H391.1ZM407.6 411.8H411.7V414.5H407.6ZM140.3 414.5H152.6V417.2H140.3ZM177.3 414.5H181.4V417.2H177.3ZM189.6 414.5H193.7V417.2H189.6ZM313.0 414.5H317.1V417.2H313.0ZM424.0 414.5H436.4V417.2H424.0Z" fill="#9cfba4" shape-rendering="crispEdges"/>
<path d="M321.2 392.9H325.3V395.6H321.2ZM239.0 398.3H243.1V401.0H239.0ZM247.2 398.3H251.3V401.0H247.2ZM329.4 398.3H333.6V401.0H329.4ZM169.1 401.0H177.3V403.7H169.1ZM259.5 401.0H263.6V403.7H259.5ZM333.6 401.0H337.7V403.7H333.6ZM173.2 403.7H181.4V406.4H173.2ZM263.6 403.7H267.8V406.4H263.6ZM337.7 403.7H354.1V406.4H337.7ZM362.3 403.7H366.5V406.4H362.3ZM444.6 403.7H452.8V406.4H444.6ZM461.0 403.7H493.9V406.4H461.0ZM181.4 406.4H185.5V409.1H181.4ZM202.0 406.4H206.1V409.1H202.0ZM259.5 406.4H271.9V409.1H259.5ZM304.8 406.4H308.9V409.1H304.8ZM317.1 406.4H333.6V409.1H317.1ZM341.8 406.4H345.9V409.1H341.8ZM354.1 406.4H374.7V409.1H354.1ZM382.9 406.4H387.0V409.1H382.9ZM391.1 406.4H399.4V409.1H391.1ZM440.5 406.4H444.6V409.1H440.5ZM452.8 406.4H461.0V409.1H452.8ZM502.2 406.4H535.1V409.1H502.2ZM164.9 409.1H169.1V411.8H164.9ZM181.4 409.1H185.5V411.8H181.4ZM214.3 409.1H218.4V411.8H214.3ZM313.0 409.1H317.1V411.8H313.0ZM329.4 409.1H337.7V411.8H329.4ZM341.8 409.1H362.3V411.8H341.8ZM366.5 409.1H370.6V411.8H366.5ZM378.8 409.1H391.1V411.8H378.8ZM403.5 409.1H407.6V411.8H403.5ZM419.9 409.1H432.3V411.8H419.9ZM164.9 411.8H173.2V414.5H164.9ZM177.3 411.8H185.5V414.5H177.3ZM300.7 411.8H304.8V414.5H300.7ZM424.0 411.8H436.4V414.5H424.0ZM461.0 414.5H473.4V417.2H461.0Z" fill="#ff572c" shape-rendering="crispEdges"/>
<path d="M239.0 395.6H247.2V398.3H239.0ZM317.1 395.6H321.2V398.3H317.1ZM382.9 395.6H387.0V398.3H382.9ZM473.4 395.6H481.6V398.3H473.4ZM169.1 398.3H173.2V401.0H169.1ZM255.4 398.3H263.6V401.0H255.4ZM317.1 398.3H321.2V401.0H317.1ZM473.4 398.3H485.7V401.0H473.4ZM164.9 401.0H169.1V403.7H164.9ZM263.6 401.0H267.8V403.7H263.6ZM317.1 401.0H321.2V403.7H317.1ZM337.7 401.0H345.9V403.7H337.7ZM473.4 401.0H493.9V403.7H473.4ZM164.9 403.7H169.1V406.4H164.9ZM181.4 403.7H185.5V406.4H181.4ZM189.6 403.7H197.8V406.4H189.6ZM202.0 403.7H210.2V406.4H202.0ZM267.8 403.7H271.9V406.4H267.8ZM317.1 403.7H321.2V406.4H317.1ZM354.1 403.7H362.3V406.4H354.1ZM366.5 403.7H378.8V406.4H366.5ZM436.4 403.7H444.6V406.4H436.4ZM452.8 403.7H456.9V406.4H452.8ZM493.9 403.7H514.5V406.4H493.9ZM132.0 406.4H136.2V409.1H132.0ZM164.9 406.4H169.1V409.1H164.9ZM185.5 406.4H193.7V409.1H185.5ZM206.1 406.4H214.3V409.1H206.1ZM271.9 406.4H276.0V409.1H271.9ZM288.3 406.4H292.4V409.1H288.3ZM374.7 406.4H382.9V409.1H374.7ZM387.0 406.4H391.1V409.1H387.0ZM399.4 406.4H407.6V409.1H399.4ZM535.1 406.4H547.4V409.1H535.1ZM136.2 409.1H148.5V411.8H136.2ZM152.6 409.1H156.7V411.8H152.6ZM185.5 409.1H189.6V411.8H185.5ZM210.2 409.1H214.3V411.8H210.2ZM218.4 409.1H226.6V411.8H218.4ZM230.7 409.1H234.9V411.8H230.7ZM288.3 409.1H296.5V411.8H288.3ZM317.1 409.1H329.4V411.8H317.1ZM337.7 409.1H341.8V411.8H337.7ZM362.3 409.1H366.5V411.8H362.3ZM370.6 409.1H378.8V411.8H370.6ZM391.1 409.1H403.5V411.8H391.1ZM407.6 409.1H415.8V411.8H407.6ZM140.3 411.8H148.5V414.5H140.3ZM173.2 411.8H177.3V414.5H173.2ZM185.5 411.8H189.6V414.5H185.5ZM230.7 411.8H234.9V414.5H230.7ZM415.8 411.8H424.0V414.5H415.8ZM304.8 414.5H313.0V417.2H304.8ZM473.4 414.5H535.1V417.2H473.4Z" fill="#ffa457" shape-rendering="crispEdges"/>
<path d="M321.2 395.6H329.4V398.3H321.2ZM243.1 398.3H247.2V401.0H243.1ZM251.3 398.3H255.4V401.0H251.3ZM321.2 398.3H329.4V401.0H321.2ZM243.1 401.0H259.5V403.7H243.1ZM321.2 401.0H333.6V403.7H321.2ZM169.1 403.7H173.2V406.4H169.1ZM243.1 403.7H263.6V406.4H243.1ZM308.9 403.7H317.1V406.4H308.9ZM321.2 403.7H337.7V406.4H321.2ZM169.1 406.4H181.4V409.1H169.1ZM243.1 406.4H259.5V409.1H243.1ZM308.9 406.4H317.1V409.1H308.9ZM333.6 406.4H341.8V409.1H333.6ZM345.9 406.4H354.1V409.1H345.9ZM444.6 406.4H452.8V409.1H444.6ZM461.0 406.4H502.2V409.1H461.0ZM169.1 409.1H181.4V411.8H169.1ZM300.7 409.1H313.0V411.8H300.7ZM432.3 409.1H547.4V411.8H432.3ZM304.8 411.8H313.0V414.5H304.8ZM436.4 411.8H547.4V414.5H436.4Z" fill="#ff0000" shape-rendering="crispEdges"/>
<path d="M271.9 417.7H280.1V420.4H271.9ZM362.3 417.7H366.5V420.4H362.3ZM452.8 417.7H456.9V420.4H452.8ZM469.3 417.7H547.4V420.4H469.3ZM148.5 420.4H152.6V423.1H148.5ZM276.0 420.4H280.1V423.1H276.0ZM341.8 420.4H350.0V423.1H341.8ZM382.9 420.4H387.0V423.1H382.9ZM395.2 420.4H399.4V423.1H395.2ZM411.7 420.4H415.8V423.1H411.7ZM419.9 420.4H424.0V423.1H419.9ZM473.4 420.4H547.4V423.1H473.4ZM230.7 423.1H239.0V425.8H230.7ZM276.0 423.1H280.1V425.8H276.0ZM308.9 423.1H321.2V425.8H308.9ZM424.0 423.1H428.1V425.8H424.0ZM432.3 423.1H436.4V425.8H432.3ZM481.6 423.1H547.4V425.8H481.6ZM148.5 425.8H152.6V428.5H148.5ZM160.8 425.8H164.9V428.5H160.8ZM218.4 425.8H226.6V428.5H218.4ZM230.7 425.8H247.2V428.5H230.7ZM284.2 425.8H292.4V428.5H284.2ZM300.7 425.8H304.8V428.5H300.7ZM317.1 425.8H329.4V428.5H317.1ZM370.6 425.8H378.8V428.5H370.6ZM391.1 425.8H395.2V428.5H391.1ZM415.8 425.8H419.9V428.5H415.8ZM424.0 425.8H436.4V428.5H424.0ZM440.5 425.8H444.6V428.5H440.5ZM481.6 425.8H547.4V428.5H481.6ZM140.3 428.5H152.6V431.2H140.3ZM160.8 428.5H169.1V431.2H160.8ZM185.5 428.5H189.6V431.2H185.5ZM193.7 428.5H197.8V431.2H193.7ZM222.5 428.5H234.9V431.2H222.5ZM239.0 428.5H243.1V431.2H239.0ZM292.4 428.5H308.9V431.2H292.4ZM313.0 428.5H317.1V431.2H313.0ZM321.2 428.5H325.3V431.2H321.2ZM329.4 428.5H333.6V431.2H329.4ZM374.7 428.5H382.9V431.2H374.7ZM387.0 428.5H391.1V431.2H387.0ZM411.7 428.5H415.8V431.2H411.7ZM424.0 428.5H428.1V431.2H424.0ZM436.4 428.5H440.5V431.2H436.4ZM481.6 428.5H547.4V431.2H481.6ZM144.4 431.2H173.2V433.9H144.4ZM181.4 431.2H185.5V433.9H181.4ZM226.6 431.2H239.0V433.9H226.6ZM247.2 431.2H251.3V433.9H247.2ZM267.8 431.2H271.9V433.9H267.8ZM280.1 431.2H284.2V433.9H280.1ZM288.3 431.2H296.5V433.9H288.3ZM321.2 431.2H325.3V433.9H321.2ZM329.4 431.2H333.6V433.9H329.4ZM354.1 431.2H362.3V433.9H354.1ZM374.7 431.2H378.8V433.9H374.7ZM382.9 431.2H387.0V433.9H382.9ZM424.0 431.2H428.1V433.9H424.0ZM440.5 431.2H448.7V433.9H440.5ZM456.9 431.2H465.2V433.9H456.9ZM481.6 431.2H547.4V433.9H481.6ZM152.6 433.9H156.7V436.6H152.6ZM160.8 433.9H181.4V436.6H160.8ZM210.2 433.9H214.3V436.6H210.2ZM226.6 433.9H230.7V436.6H226.6ZM234.9 433.9H239.0V436.6H234.9ZM247.2 433.9H255.4V436.6H247.2ZM259.5 433.9H263.6V436.6H259.5ZM271.9 433.9H276.0V436.6H271.9ZM296.5 433.9H304.8V436.6H296.5ZM325.3 433.9H329.4V436.6H325.3ZM362.3 433.9H370.6V436.6H362.3ZM374.7 433.9H378.8V436.6H374.7ZM382.9 433.9H395.2V436.6H382.9ZM399.4 433.9H411.7V436.6H399.4ZM419.9 433.9H436.4V436.6H419.9ZM448.7 433.9H452.8V436.6H448.7ZM461.0 433.9H547.4V436.6H461.0ZM152.6 436.6H156.7V439.3H152.6ZM160.8 436.6H177.3V439.3H160.8ZM206.1 436.6H218.4V439.3H206.1ZM234.9 436.6H239.0V439.3H234.9ZM259.5 436.6H263.6V439.3H259.5ZM296.5 436.6H308.9V439.3H296.5ZM341.8 436.6H350.0V439.3H341.8ZM362.3 436.6H366.5V439.3H362.3ZM387.0 436.6H399.4V439.3H387.0ZM432.3 436.6H440.5V439.3H432.3ZM452.8 436.6H456.9V439.3H452.8ZM469.3 436.6H547.4V439.3H469.3ZM115.6 439.3H119.7V441.9H115.6ZM160.8 439.3H164.9V441.9H160.8ZM173.2 439.3H177.3V441.9H173.2ZM189.6 439.3H197.8V441.9H189.6ZM222.5 439.3H226.6V441.9H222.5ZM230.7 439.3H243.1V441.9H230.7ZM263.6 439.3H267.8V441.9H263.6ZM280.1 439.3H284.2V441.9H280.1ZM288.3 439.3H292.4V441.9H288.3ZM337.7 439.3H345.9V441.9H337.7ZM354.1 439.3H358.2V441.9H354.1ZM366.5 439.3H370.6V441.9H366.5ZM374.7 439.3H382.9V441.9H374.7ZM395.2 439.3H399.4V441.9H395.2ZM419.9 439.3H424.0V441.9H419.9ZM444.6 439.3H456.9V441.9H444.6ZM481.6 439.3H547.4V441.9H481.6ZM119.7 441.9H132.0V444.6H119.7ZM136.2 441.9H144.4V444.6H136.2ZM148.5 441.9H152.6V444.6H148.5ZM160.8 441.9H164.9V444.6H160.8ZM181.4 441.9H185.5V444.6H181.4ZM234.9 441.9H243.1V444.6H234.9ZM267.8 441.9H280.1V444.6H267.8ZM313.0 441.9H317.1V444.6H313.0ZM350.0 441.9H358.2V444.6H350.0ZM362.3 441.9H366.5V444.6H362.3ZM370.6 441.9H387.0V444.6H370.6ZM399.4 441.9H436.4V444.6H399.4ZM481.6 441.9H547.4V444.6H481.6ZM119.7 444.6H127.9V447.3H119.7ZM132.0 444.6H160.8V447.3H132.0ZM189.6 444.6H197.8V447.3H189.6ZM206.1 444.6H230.7V447.3H206.1ZM239.0 444.6H243.1V447.3H239.0ZM288.3 444.6H304.8V447.3H288.3ZM313.0 444.6H317.1V447.3H313.0ZM354.1 444.6H370.6V447.3H354.1ZM374.7 444.6H387.0V447.3H374.7ZM415.8 444.6H456.9V447.3H415.8ZM461.0 444.6H465.2V447.3H461.0ZM481.6 444.6H547.4V447.3H481.6ZM119.7 447.3H123.8V450.0H119.7ZM136.2 447.3H140.3V450.0H136.2ZM144.4 447.3H148.5V450.0H144.4ZM206.1 447.3H210.2V450.0H206.1ZM214.3 447.3H247.2V450.0H214.3ZM300.7 447.3H313.0V450.0H300.7ZM317.1 447.3H321.2V450.0H317.1ZM362.3 447.3H366.5V450.0H362.3ZM378.8 447.3H382.9V450.0H378.8ZM415.8 447.3H419.9V450.0H415.8ZM428.1 447.3H436.4V450.0H428.1ZM440.5 447.3H444.6V450.0H440.5ZM448.7 447.3H465.2V450.0H448.7ZM535.1 447.3H539.2V450.0H535.1ZM119.7 450.0H123.8V452.7H119.7ZM148.5 450.0H152.6V452.7H148.5ZM218.4 450.0H222.5V452.7H218.4ZM243.1 450.0H247.2V452.7H243.1ZM300.7 450.0H304.8V452.7H300.7ZM317.1 450.0H321.2V452.7H317.1ZM387.0 450.0H391.1V452.7H387.0ZM415.8 450.0H436.4V452.7H415.8ZM440.5 450.0H452.8V452.7H440.5ZM415.8 452.7H424.0V455.4H415.8ZM428.1 452.7H432.3V455.4H428.1ZM444.6 452.7H452.8V455.4H444.6ZM395.2 458.1H399.4V460.8H395.2ZM251.3 460.8H255.4V463.5H251.3ZM263.6 460.8H267.8V463.5H263.6ZM391.1 460.8H395.2V463.5H391.1ZM399.4 460.8H403.5V463.5H399.4ZM411.7 460.8H415.8V463.5H411.7ZM119.7 463.5H123.8V466.2H119.7ZM136.2 463.5H140.3V466.2H136.2ZM160.8 463.5H164.9V466.2H160.8ZM247.2 463.5H255.4V466.2H247.2ZM263.6 463.5H267.8V466.2H263.6ZM280.1 463.5H284.2V466.2H280.1ZM288.3 463.5H292.4V466.2H288.3ZM321.2 463.5H329.4V466.2H321.2ZM333.6 463.5H341.8V466.2H333.6ZM350.0 463.5H358.2V466.2H350.0ZM382.9 463.5H387.0V466.2H382.9ZM391.1 463.5H395.2V466.2H391.1ZM419.9 463.5H424.0V466.2H419.9ZM428.1 463.5H440.5V466.2H428.1ZM444.6 463.5H452.8V466.2H444.6ZM465.2 463.5H469.3V466.2H465.2Z" fill="#8000ff" shape-rendering="crispEdges"/>
<path d="M411.7 417.7H415.8V420.4H411.7ZM243.1 428.5H247.2V431.2H243.1ZM428.1 428.5H432.3V431.2H428.1ZM239.0 431.2H243.1V433.9H239.0ZM428.1 431.2H440.5V433.9H428.1ZM156.7 433.9H160.8V436.6H156.7ZM230.7 433.9H234.9V436.6H230.7ZM239.0 433.9H243.1V436.6H239.0ZM370.6 433.9H374.7V436.6H370.6ZM156.7 436.6H160.8V439.3H156.7ZM239.0 436.6H243.1V439.3H239.0ZM255.4 436.6H259.5V439.3H255.4ZM444.6 436.6H452.8V439.3H444.6ZM456.9 436.6H465.2V439.3H456.9ZM164.9 439.3H173.2V441.9H164.9ZM259.5 439.3H263.6V441.9H259.5ZM308.9 439.3H313.0V441.9H308.9ZM391.1 439.3H395.2V441.9H391.1ZM469.3 439.3H473.4V441.9H469.3ZM173.2 441.9H181.4V444.6H173.2ZM243.1 441.9H247.2V444.6H243.1ZM263.6 441.9H267.8V444.6H263.6ZM341.8 441.9H350.0V444.6H341.8ZM444.6 441.9H465.2V444.6H444.6ZM169.1 444.6H177.3V447.3H169.1ZM181.4 444.6H185.5V447.3H181.4ZM202.0 444.6H206.1V447.3H202.0ZM280.1 444.6H288.3V447.3H280.1ZM411.7 444.6H415.8V447.3H411.7ZM465.2 444.6H469.3V447.3H465.2ZM115.6 447.3H119.7V450.0H115.6ZM123.8 447.3H136.2V450.0H123.8ZM140.3 447.3H144.4V450.0H140.3ZM148.5 447.3H156.7V450.0H148.5ZM160.8 447.3H164.9V450.0H160.8ZM189.6 447.3H197.8V450.0H189.6ZM202.0 447.3H206.1V450.0H202.0ZM210.2 447.3H214.3V450.0H210.2ZM247.2 447.3H251.3V450.0H247.2ZM284.2 447.3H292.4V450.0H284.2ZM350.0 447.3H354.1V450.0H350.0ZM366.5 447.3H378.8V450.0H366.5ZM382.9 447.3H387.0V450.0H382.9ZM391.1 447.3H395.2V450.0H391.1ZM411.7 447.3H415.8V450.0H411.7ZM436.4 447.3H440.5V450.0H436.4ZM531.0 447.3H535.1V450.0H531.0ZM539.2 447.3H547.4V450.0H539.2ZM123.8 450.0H127.9V452.7H123.8ZM136.2 450.0H148.5V452.7H136.2ZM152.6 450.0H173.2V452.7H152.6ZM202.0 450.0H218.4V452.7H202.0ZM226.6 450.0H243.1V452.7H226.6ZM304.8 450.0H308.9V452.7H304.8ZM366.5 450.0H387.0V452.7H366.5ZM391.1 450.0H395.2V452.7H391.1ZM407.6 450.0H415.8V452.7H407.6ZM436.4 450.0H440.5V452.7H436.4ZM461.0 450.0H465.2V452.7H461.0ZM539.2 450.0H547.4V452.7H539.2ZM127.9 452.7H132.0V455.4H127.9ZM214.3 452.7H218.4V455.4H214.3ZM226.6 452.7H230.7V455.4H226.6ZM239.0 452.7H243.1V455.4H239.0ZM292.4 452.7H296.5V455.4H292.4ZM407.6 452.7H415.8V455.4H407.6ZM424.0 452.7H428.1V455.4H424.0ZM432.3 452.7H444.6V455.4H432.3ZM452.8 452.7H461.0V455.4H452.8ZM255.4 458.1H259.5V460.8H255.4ZM399.4 458.1H403.5V460.8H399.4ZM271.9 460.8H276.0V463.5H271.9ZM280.1 460.8H284.2V463.5H280.1ZM403.5 460.8H411.7V463.5H403.5ZM424.0 460.8H428.1V463.5H424.0ZM115.6 463.5H119.7V466.2H115.6ZM127.9 463.5H136.2V466.2H127.9ZM144.4 463.5H148.5V466.2H144.4ZM152.6 463.5H156.7V466.2H152.6ZM164.9 463.5H177.3V466.2H164.9ZM189.6 463.5H193.7V466.2H189.6ZM243.1 463.5H247.2V466.2H243.1ZM267.8 463.5H280.1V466.2H267.8ZM284.2 463.5H288.3V466.2H284.2ZM292.4 463.5H296.5V466.2H292.4ZM341.8 463.5H350.0V466.2H341.8ZM358.2 463.5H362.3V466.2H358.2ZM370.6 463.5H378.8V466.2H370.6ZM424.0 463.5H428.1V466.2H424.0ZM440.5 463.5H444.6V466.2H440.5ZM452.8 463.5H465.2V466.2H452.8ZM469.3 463.5H473.4V466.2H469.3ZM477.5 463.5H481.6V466.2H477.5ZM489.8 463.5H502.2V466.2H489.8ZM510.4 463.5H514.5V466.2H510.4ZM518.6 463.5H526.8V466.2H518.6ZM531.0 463.5H535.1V466.2H531.0ZM539.2 463.5H547.4V466.2H539.2Z" fill="#0ea4f0" shape-rendering="crispEdges"/>
<path d="M428.1 423.1H432.3V425.8H428.1ZM313.0 425.8H317.1V428.5H313.0ZM317.1 428.5H321.2V431.2H317.1ZM432.3 428.5H436.4V431.2H432.3ZM243.1 431.2H247.2V433.9H243.1ZM304.8 431.2H321.2V433.9H304.8ZM325.3 431.2H329.4V433.9H325.3ZM378.8 431.2H382.9V433.9H378.8ZM243.1 433.9H247.2V436.6H243.1ZM304.8 433.9H308.9V436.6H304.8ZM329.4 433.9H333.6V436.6H329.4ZM378.8 433.9H382.9V436.6H378.8ZM436.4 433.9H440.5V436.6H436.4ZM243.1 436.6H255.4V439.3H243.1ZM329.4 436.6H337.7V439.3H329.4ZM465.2 436.6H469.3V439.3H465.2ZM251.3 439.3H259.5V441.9H251.3ZM333.6 439.3H337.7V441.9H333.6ZM456.9 439.3H469.3V441.9H456.9ZM473.4 439.3H481.6V441.9H473.4ZM169.1 441.9H173.2V444.6H169.1ZM395.2 441.9H399.4V444.6H395.2ZM465.2 441.9H469.3V444.6H465.2ZM477.5 441.9H481.6V444.6H477.5ZM177.3 444.6H181.4V447.3H177.3ZM247.2 444.6H251.3V447.3H247.2ZM271.9 444.6H280.1V447.3H271.9ZM317.1 444.6H321.2V447.3H317.1ZM345.9 444.6H354.1V447.3H345.9ZM387.0 444.6H391.1V447.3H387.0ZM399.4 444.6H411.7V447.3H399.4ZM469.3 444.6H477.5V447.3H469.3ZM169.1 447.3H177.3V450.0H169.1ZM181.4 447.3H189.6V450.0H181.4ZM276.0 447.3H284.2V450.0H276.0ZM292.4 447.3H300.7V450.0H292.4ZM321.2 447.3H325.3V450.0H321.2ZM345.9 447.3H350.0V450.0H345.9ZM354.1 447.3H362.3V450.0H354.1ZM387.0 447.3H391.1V450.0H387.0ZM395.2 447.3H403.5V450.0H395.2ZM407.6 447.3H411.7V450.0H407.6ZM465.2 447.3H469.3V450.0H465.2ZM522.7 447.3H531.0V450.0H522.7ZM115.6 450.0H119.7V452.7H115.6ZM127.9 450.0H136.2V452.7H127.9ZM173.2 450.0H177.3V452.7H173.2ZM197.8 450.0H202.0V452.7H197.8ZM222.5 450.0H226.6V452.7H222.5ZM280.1 450.0H288.3V452.7H280.1ZM292.4 450.0H300.7V452.7H292.4ZM313.0 450.0H317.1V452.7H313.0ZM321.2 450.0H329.4V452.7H321.2ZM350.0 450.0H358.2V452.7H350.0ZM362.3 450.0H366.5V452.7H362.3ZM395.2 450.0H403.5V452.7H395.2ZM465.2 450.0H469.3V452.7H465.2ZM518.6 450.0H539.2V452.7H518.6ZM160.8 452.7H169.1V455.4H160.8ZM206.1 452.7H214.3V455.4H206.1ZM218.4 452.7H226.6V455.4H218.4ZM230.7 452.7H239.0V455.4H230.7ZM300.7 452.7H308.9V455.4H300.7ZM362.3 452.7H374.7V455.4H362.3ZM391.1 452.7H395.2V455.4H391.1ZM403.5 452.7H407.6V455.4H403.5ZM461.0 452.7H465.2V455.4H461.0ZM539.2 452.7H547.4V455.4H539.2ZM226.6 455.4H234.9V458.1H226.6ZM239.0 455.4H243.1V458.1H239.0ZM304.8 455.4H308.9V458.1H304.8ZM366.5 455.4H370.6V458.1H366.5ZM374.7 455.4H378.8V458.1H374.7ZM399.4 455.4H403.5V458.1H399.4ZM411.7 455.4H415.8V458.1H411.7ZM428.1 455.4H432.3V458.1H428.1ZM444.6 455.4H452.8V458.1H444.6ZM271.9 458.1H276.0V460.8H271.9ZM391.1 458.1H395.2V460.8H391.1ZM403.5 458.1H407.6V460.8H403.5ZM411.7 458.1H415.8V460.8H411.7ZM119.7 460.8H123.8V463.5H119.7ZM160.8 460.8H164.9V463.5H160.8ZM247.2 460.8H251.3V463.5H247.2ZM267.8 460.8H271.9V463.5H267.8ZM276.0 460.8H280.1V463.5H276.0ZM284.2 460.8H288.3V463.5H284.2ZM387.0 460.8H391.1V463.5H387.0ZM415.8 460.8H424.0V463.5H415.8ZM428.1 460.8H432.3V463.5H428.1ZM123.8 463.5H127.9V466.2H123.8ZM140.3 463.5H144.4V466.2H140.3ZM148.5 463.5H152.6V466.2H148.5ZM156.7 463.5H160.8V466.2H156.7ZM177.3 463.5H181.4V466.2H177.3ZM185.5 463.5H189.6V466.2H185.5ZM193.7 463.5H202.0V466.2H193.7ZM210.2 463.5H214.3V466.2H210.2ZM296.5 463.5H300.7V466.2H296.5ZM304.8 463.5H308.9V466.2H304.8ZM317.1 463.5H321.2V466.2H317.1ZM329.4 463.5H333.6V466.2H329.4ZM362.3 463.5H370.6V466.2H362.3ZM473.4 463.5H477.5V466.2H473.4ZM481.6 463.5H489.8V466.2H481.6ZM502.2 463.5H510.4V466.2H502.2ZM514.5 463.5H518.6V466.2H514.5ZM526.8 463.5H531.0V466.2H526.8ZM535.1 463.5H539.2V466.2H535.1Z" fill="#2adddd" shape-rendering="crispEdges"/>
<path d="M419.9 425.8H424.0V428.5H419.9ZM440.5 433.9H448.7V436.6H440.5ZM440.5 439.3H444.6V441.9H440.5ZM164.9 441.9H169.1V444.6H164.9ZM127.9 444.6H132.0V447.3H127.9ZM164.9 444.6H169.1V447.3H164.9ZM185.5 444.6H189.6V447.3H185.5ZM197.8 444.6H202.0V447.3H197.8ZM456.9 444.6H461.0V447.3H456.9ZM164.9 447.3H169.1V450.0H164.9ZM197.8 447.3H202.0V450.0H197.8ZM419.9 447.3H428.1V450.0H419.9ZM452.8 450.0H461.0V452.7H452.8ZM415.8 463.5H419.9V466.2H415.8Z" fill="#4757fb" shape-rendering="crispEdges"/>
<path d="M308.9 433.9H325.3V436.6H308.9ZM308.9 436.6H317.1V439.3H308.9ZM321.2 436.6H329.4V439.3H321.2ZM378.8 436.6H387.0V439.3H378.8ZM440.5 436.6H444.6V439.3H440.5ZM243.1 439.3H251.3V441.9H243.1ZM329.4 439.3H333.6V441.9H329.4ZM382.9 439.3H391.1V441.9H382.9ZM247.2 441.9H251.3V444.6H247.2ZM259.5 441.9H263.6V444.6H259.5ZM317.1 441.9H321.2V444.6H317.1ZM333.6 441.9H341.8V444.6H333.6ZM387.0 441.9H395.2V444.6H387.0ZM469.3 441.9H477.5V444.6H469.3ZM263.6 444.6H271.9V447.3H263.6ZM329.4 444.6H337.7V447.3H329.4ZM341.8 444.6H345.9V447.3H341.8ZM395.2 444.6H399.4V447.3H395.2ZM477.5 444.6H481.6V447.3H477.5ZM177.3 447.3H181.4V450.0H177.3ZM267.8 447.3H276.0V450.0H267.8ZM325.3 447.3H345.9V450.0H325.3ZM403.5 447.3H407.6V450.0H403.5ZM469.3 447.3H477.5V450.0H469.3ZM514.5 447.3H522.7V450.0H514.5ZM177.3 450.0H197.8V452.7H177.3ZM247.2 450.0H251.3V452.7H247.2ZM276.0 450.0H280.1V452.7H276.0ZM288.3 450.0H292.4V452.7H288.3ZM308.9 450.0H313.0V452.7H308.9ZM341.8 450.0H350.0V452.7H341.8ZM358.2 450.0H362.3V452.7H358.2ZM403.5 450.0H407.6V452.7H403.5ZM469.3 450.0H473.4V452.7H469.3ZM506.3 450.0H518.6V452.7H506.3ZM115.6 452.7H127.9V455.4H115.6ZM132.0 452.7H160.8V455.4H132.0ZM169.1 452.7H177.3V455.4H169.1ZM202.0 452.7H206.1V455.4H202.0ZM243.1 452.7H247.2V455.4H243.1ZM288.3 452.7H292.4V455.4H288.3ZM296.5 452.7H300.7V455.4H296.5ZM308.9 452.7H313.0V455.4H308.9ZM350.0 452.7H362.3V455.4H350.0ZM374.7 452.7H391.1V455.4H374.7ZM395.2 452.7H403.5V455.4H395.2ZM465.2 452.7H469.3V455.4H465.2ZM518.6 452.7H539.2V455.4H518.6ZM119.7 455.4H140.3V458.1H119.7ZM144.4 455.4H164.9V458.1H144.4ZM218.4 455.4H226.6V458.1H218.4ZM234.9 455.4H239.0V458.1H234.9ZM296.5 455.4H304.8V458.1H296.5ZM358.2 455.4H366.5V458.1H358.2ZM370.6 455.4H374.7V458.1H370.6ZM378.8 455.4H382.9V458.1H378.8ZM391.1 455.4H399.4V458.1H391.1ZM403.5 455.4H411.7V458.1H403.5ZM415.8 455.4H428.1V458.1H415.8ZM432.3 455.4H444.6V458.1H432.3ZM452.8 455.4H461.0V458.1H452.8ZM119.7 458.1H123.8V460.8H119.7ZM136.2 458.1H148.5V460.8H136.2ZM234.9 458.1H243.1V460.8H234.9ZM259.5 458.1H263.6V460.8H259.5ZM366.5 458.1H370.6V460.8H366.5ZM387.0 458.1H391.1V460.8H387.0ZM407.6 458.1H411.7V460.8H407.6ZM428.1 458.1H432.3V460.8H428.1ZM115.6 460.8H119.7V463.5H115.6ZM123.8 460.8H140.3V463.5H123.8ZM152.6 460.8H160.8V463.5H152.6ZM234.9 460.8H239.0V463.5H234.9ZM243.1 460.8H247.2V463.5H243.1ZM288.3 460.8H296.5V463.5H288.3ZM300.7 460.8H304.8V463.5H300.7ZM321.2 460.8H333.6V463.5H321.2ZM354.1 460.8H387.0V463.5H354.1ZM432.3 460.8H444.6V463.5H432.3ZM448.7 460.8H452.8V463.5H448.7ZM181.4 463.5H185.5V466.2H181.4ZM202.0 463.5H210.2V466.2H202.0ZM214.3 463.5H226.6V466.2H214.3ZM234.9 463.5H243.1V466.2H234.9ZM300.7 463.5H304.8V466.2H300.7ZM313.0 463.5H317.1V466.2H313.0Z" fill="#63fbc3" shape-rendering="crispEdges"/>
<path d="M317.1 436.6H321.2V439.3H317.1ZM329.4 441.9H333.6V444.6H329.4ZM259.5 444.6H263.6V447.3H259.5ZM321.2 444.6H329.4V447.3H321.2ZM391.1 444.6H395.2V447.3H391.1ZM251.3 447.3H255.4V450.0H251.3ZM477.5 447.3H481.6V450.0H477.5ZM498.1 447.3H514.5V450.0H498.1ZM251.3 450.0H255.4V452.7H251.3ZM271.9 450.0H276.0V452.7H271.9ZM329.4 450.0H341.8V452.7H329.4ZM473.4 450.0H477.5V452.7H473.4ZM489.8 450.0H506.3V452.7H489.8ZM197.8 452.7H202.0V455.4H197.8ZM280.1 452.7H288.3V455.4H280.1ZM321.2 452.7H329.4V455.4H321.2ZM337.7 452.7H350.0V455.4H337.7ZM469.3 452.7H473.4V455.4H469.3ZM481.6 452.7H518.6V455.4H481.6ZM115.6 455.4H119.7V458.1H115.6ZM140.3 455.4H144.4V458.1H140.3ZM164.9 455.4H173.2V458.1H164.9ZM210.2 455.4H218.4V458.1H210.2ZM292.4 455.4H296.5V458.1H292.4ZM308.9 455.4H313.0V458.1H308.9ZM350.0 455.4H358.2V458.1H350.0ZM387.0 455.4H391.1V458.1H387.0ZM461.0 455.4H465.2V458.1H461.0ZM115.6 458.1H119.7V460.8H115.6ZM123.8 458.1H127.9V460.8H123.8ZM132.0 458.1H136.2V460.8H132.0ZM148.5 458.1H152.6V460.8H148.5ZM156.7 458.1H169.1V460.8H156.7ZM206.1 458.1H214.3V460.8H206.1ZM218.4 458.1H234.9V460.8H218.4ZM247.2 458.1H255.4V460.8H247.2ZM263.6 458.1H271.9V460.8H263.6ZM276.0 458.1H280.1V460.8H276.0ZM296.5 458.1H300.7V460.8H296.5ZM325.3 458.1H329.4V460.8H325.3ZM358.2 458.1H366.5V460.8H358.2ZM370.6 458.1H374.7V460.8H370.6ZM382.9 458.1H387.0V460.8H382.9ZM419.9 458.1H428.1V460.8H419.9ZM432.3 458.1H436.4V460.8H432.3ZM444.6 458.1H448.7V460.8H444.6ZM140.3 460.8H152.6V463.5H140.3ZM164.9 460.8H173.2V463.5H164.9ZM177.3 460.8H181.4V463.5H177.3ZM189.6 460.8H193.7V463.5H189.6ZM197.8 460.8H202.0V463.5H197.8ZM206.1 460.8H210.2V463.5H206.1ZM239.0 460.8H243.1V463.5H239.0ZM296.5 460.8H300.7V463.5H296.5ZM317.1 460.8H321.2V463.5H317.1ZM333.6 460.8H354.1V463.5H333.6ZM444.6 460.8H448.7V463.5H444.6ZM452.8 460.8H465.2V463.5H452.8ZM226.6 463.5H234.9V466.2H226.6ZM308.9 463.5H313.0V466.2H308.9Z" fill="#9cfba4" shape-rendering="crispEdges"/>
<path d="M313.0 439.3H329.4V441.9H313.0ZM255.4 441.9H259.5V444.6H255.4ZM337.7 444.6H341.8V447.3H337.7ZM481.6 447.3H498.1V450.0H481.6ZM477.5 450.0H489.8V452.7H477.5ZM185.5 452.7H189.6V455.4H185.5ZM193.7 452.7H197.8V455.4H193.7ZM276.0 452.7H280.1V455.4H276.0ZM313.0 452.7H321.2V455.4H313.0ZM473.4 452.7H481.6V455.4H473.4ZM173.2 455.4H177.3V458.1H173.2ZM243.1 455.4H247.2V458.1H243.1ZM271.9 455.4H280.1V458.1H271.9ZM288.3 455.4H292.4V458.1H288.3ZM329.4 455.4H333.6V458.1H329.4ZM341.8 455.4H345.9V458.1H341.8ZM382.9 455.4H387.0V458.1H382.9ZM465.2 455.4H469.3V458.1H465.2ZM493.9 455.4H526.8V458.1H493.9ZM127.9 458.1H132.0V460.8H127.9ZM214.3 458.1H218.4V460.8H214.3ZM280.1 458.1H284.2V460.8H280.1ZM300.7 458.1H304.8V460.8H300.7ZM317.1 458.1H325.3V460.8H317.1ZM329.4 458.1H333.6V460.8H329.4ZM337.7 458.1H341.8V460.8H337.7ZM374.7 458.1H382.9V460.8H374.7ZM415.8 458.1H419.9V460.8H415.8ZM452.8 458.1H456.9V460.8H452.8ZM173.2 460.8H177.3V463.5H173.2ZM181.4 460.8H189.6V463.5H181.4ZM193.7 460.8H197.8V463.5H193.7ZM210.2 460.8H218.4V463.5H210.2ZM226.6 460.8H234.9V463.5H226.6ZM465.2 460.8H518.6V463.5H465.2Z" fill="#d4dd80" shape-rendering="crispEdges"/>
<path d="M251.3 441.9H255.4V444.6H251.3ZM321.2 441.9H329.4V444.6H321.2ZM251.3 444.6H255.4V447.3H251.3ZM263.6 447.3H267.8V450.0H263.6ZM267.8 450.0H271.9V452.7H267.8ZM181.4 452.7H185.5V455.4H181.4ZM247.2 452.7H251.3V455.4H247.2ZM271.9 452.7H276.0V455.4H271.9ZM329.4 452.7H337.7V455.4H329.4ZM202.0 455.4H210.2V458.1H202.0ZM255.4 455.4H271.9V458.1H255.4ZM280.1 455.4H284.2V458.1H280.1ZM325.3 455.4H329.4V458.1H325.3ZM333.6 455.4H341.8V458.1H333.6ZM469.3 455.4H473.4V458.1H469.3ZM485.7 455.4H493.9V458.1H485.7ZM526.8 455.4H547.4V458.1H526.8ZM152.6 458.1H156.7V460.8H152.6ZM169.1 458.1H173.2V460.8H169.1ZM185.5 458.1H189.6V460.8H185.5ZM193.7 458.1H206.1V460.8H193.7ZM243.1 458.1H247.2V460.8H243.1ZM284.2 458.1H296.5V460.8H284.2ZM304.8 458.1H308.9V460.8H304.8ZM333.6 458.1H337.7V460.8H333.6ZM341.8 458.1H358.2V460.8H341.8ZM436.4 458.1H444.6V460.8H436.4ZM448.7 458.1H452.8V460.8H448.7ZM456.9 458.1H465.2V460.8H456.9ZM202.0 460.8H206.1V463.5H202.0ZM218.4 460.8H226.6V463.5H218.4ZM304.8 460.8H308.9V463.5H304.8ZM313.0 460.8H317.1V463.5H313.0ZM518.6 460.8H535.1V463.5H518.6Z" fill="#ffa457" shape-rendering="crispEdges"/>
<path d="M255.4 444.6H259.5V447.3H255.4ZM255.4 447.3H263.6V450.0H255.4ZM263.6 450.0H267.8V452.7H263.6ZM177.3 452.7H181.4V455.4H177.3ZM189.6 452.7H193.7V455.4H189.6ZM251.3 452.7H255.4V455.4H251.3ZM259.5 452.7H271.9V455.4H259.5ZM177.3 455.4H202.0V458.1H177.3ZM284.2 455.4H288.3V458.1H284.2ZM313.0 455.4H325.3V458.1H313.0ZM345.9 455.4H350.0V458.1H345.9ZM473.4 455.4H477.5V458.1H473.4ZM481.6 455.4H485.7V458.1H481.6ZM173.2 458.1H185.5V460.8H173.2ZM189.6 458.1H193.7V460.8H189.6ZM465.2 458.1H477.5V460.8H465.2ZM535.1 460.8H547.4V463.5H535.1Z" fill="#ff572c" shape-rendering="crispEdges"/>
<path d="M255.4 450.0H263.6V452.7H255.4ZM255.4 452.7H259.5V455.4H255.4ZM247.2 455.4H255.4V458.1H247.2ZM477.5 455.4H481.6V458.1H477.5ZM308.9 458.1H317.1V460.8H308.9ZM477.5 458.1H547.4V460.8H477.5ZM308.9 460.8H313.0V463.5H308.9Z" fill="#ff0000" shape-rendering="crispEdges"/>
<rect x="81.6" y="198.0" width="499.7" height="51.6" fill="#8000ff"/>
<path d="M251.5 198.0H255.5V200.2H251.5ZM379.4 198.0H381.4V200.2H379.4ZM387.4 198.0H397.4V200.2H387.4ZM407.4 198.0H409.4V200.2H407.4ZM459.4 198.0H475.4V200.2H459.4ZM479.4 198.0H491.4V200.2H479.4ZM497.4 198.0H499.3V200.2H497.4ZM239.5 200.2H241.5V202.3H239.5ZM245.5 200.2H247.5V202.3H245.5ZM249.5 200.2H255.5V202.3H249.5ZM257.5 200.2H259.5V202.3H257.5ZM261.5 200.2H263.5V202.3H261.5ZM265.5 200.2H267.5V202.3H265.5ZM385.4 200.2H389.4V202.3H385.4ZM391.4 200.2H397.4V202.3H391.4ZM409.4 200.2H411.4V202.3H409.4ZM413.4 200.2H415.4V202.3H413.4ZM425.4 200.2H427.4V202.3H425.4ZM451.4 200.2H453.4V202.3H451.4ZM465.4 200.2H469.4V202.3H465.4ZM473.4 200.2H475.4V202.3H473.4ZM479.4 200.2H481.4V202.3H479.4ZM483.4 200.2H487.4V202.3H483.4ZM221.5 202.3H225.5V204.4H221.5ZM227.5 202.3H235.5V204.4H227.5ZM239.5 202.3H241.5V204.4H239.5ZM243.5 202.3H245.5V204.4H243.5ZM257.5 202.3H261.5V204.4H257.5ZM263.5 202.3H267.5V204.4H263.5ZM271.5 202.3H283.5V204.4H271.5ZM305.5 202.3H307.5V204.4H305.5ZM313.5 202.3H315.5V204.4H313.5ZM379.4 202.3H381.4V204.4H379.4ZM385.4 202.3H389.4V204.4H385.4ZM391.4 202.3H397.4V204.4H391.4ZM415.4 202.3H417.4V204.4H415.4ZM465.4 202.3H467.4V204.4H465.4ZM469.4 202.3H471.4V204.4H469.4ZM473.4 202.3H477.4V204.4H473.4ZM479.4 202.3H481.4V204.4H479.4ZM483.4 202.3H489.4V204.4H483.4ZM221.5 204.4H231.5V206.6H221.5ZM273.5 204.4H275.5V206.6H273.5ZM381.4 204.4H383.4V206.6H381.4ZM385.4 204.4H387.4V206.6H385.4ZM391.4 204.4H397.4V206.6H391.4ZM437.4 204.4H439.4V206.6H437.4ZM447.4 204.4H449.4V206.6H447.4ZM461.4 204.4H463.4V206.6H461.4ZM465.4 204.4H467.4V206.6H465.4ZM469.4 204.4H477.4V206.6H469.4ZM479.4 204.4H483.4V206.6H479.4ZM485.4 204.4H487.4V206.6H485.4ZM193.5 206.6H201.5V208.8H193.5ZM221.5 206.6H223.5V208.8H221.5ZM225.5 206.6H227.5V208.8H225.5ZM281.5 206.6H289.5V208.8H281.5ZM295.5 206.6H297.5V208.8H295.5ZM299.5 206.6H301.5V208.8H299.5ZM307.5 206.6H309.5V208.8H307.5ZM351.4 206.6H353.4V208.8H351.4ZM359.4 206.6H367.4V208.8H359.4ZM369.4 206.6H377.4V208.8H369.4ZM379.4 206.6H381.4V208.8H379.4ZM383.4 206.6H385.4V208.8H383.4ZM389.4 206.6H391.4V208.8H389.4ZM393.4 206.6H395.4V208.8H393.4ZM411.4 206.6H413.4V208.8H411.4ZM437.4 206.6H439.4V208.8H437.4ZM451.4 206.6H453.4V208.8H451.4ZM457.4 206.6H459.4V208.8H457.4ZM461.4 206.6H469.4V208.8H461.4ZM477.4 206.6H479.4V208.8H477.4ZM481.4 206.6H485.4V208.8H481.4ZM191.5 208.8H197.5V210.9H191.5ZM227.5 208.8H229.5V210.9H227.5ZM281.5 208.8H289.5V210.9H281.5ZM295.5 208.8H301.5V210.9H295.5ZM307.5 208.8H311.5V210.9H307.5ZM351.4 208.8H365.4V210.9H351.4ZM367.4 208.8H381.4V210.9H367.4ZM387.4 208.8H389.4V210.9H387.4ZM391.4 208.8H393.4V210.9H391.4ZM429.4 208.8H431.4V210.9H429.4ZM441.4 208.8H445.4V210.9H441.4ZM459.4 208.8H461.4V210.9H459.4ZM463.4 208.8H471.4V210.9H463.4ZM487.4 208.8H489.4V210.9H487.4ZM191.5 210.9H193.5V213.1H191.5ZM199.5 210.9H205.5V213.1H199.5ZM207.5 210.9H211.5V213.1H207.5ZM219.5 210.9H223.5V213.1H219.5ZM227.5 210.9H229.5V213.1H227.5ZM287.5 210.9H289.5V213.1H287.5ZM295.5 210.9H301.5V213.1H295.5ZM307.5 210.9H309.5V213.1H307.5ZM351.4 210.9H359.4V213.1H351.4ZM361.4 210.9H371.4V213.1H361.4ZM375.4 210.9H377.4V213.1H375.4ZM389.4 210.9H391.4V213.1H389.4ZM451.4 210.9H453.4V213.1H451.4ZM457.4 210.9H459.4V213.1H457.4ZM463.4 210.9H467.4V213.1H463.4ZM191.5 213.1H193.5V215.2H191.5ZM195.5 213.1H199.5V215.2H195.5ZM205.5 213.1H209.5V215.2H205.5ZM219.5 213.1H221.5V215.2H219.5ZM283.5 213.1H285.5V215.2H283.5ZM297.5 213.1H301.5V215.2H297.5ZM307.5 213.1H311.5V215.2H307.5ZM327.5 213.1H329.5V215.2H327.5ZM341.4 213.1H343.4V215.2H341.4ZM351.4 213.1H359.4V215.2H351.4ZM361.4 213.1H365.4V215.2H361.4ZM367.4 213.1H369.4V215.2H367.4ZM371.4 213.1H373.4V215.2H371.4ZM377.4 213.1H379.4V215.2H377.4ZM389.4 213.1H391.4V215.2H389.4ZM393.4 213.1H395.4V215.2H393.4ZM421.4 213.1H423.4V215.2H421.4ZM457.4 213.1H459.4V215.2H457.4ZM461.4 213.1H473.4V215.2H461.4ZM193.5 215.2H195.5V217.3H193.5ZM203.5 215.2H205.5V217.3H203.5ZM209.5 215.2H211.5V217.3H209.5ZM225.5 215.2H227.5V217.3H225.5ZM283.5 215.2H285.5V217.3H283.5ZM287.5 215.2H289.5V217.3H287.5ZM295.5 215.2H301.5V217.3H295.5ZM305.5 215.2H311.5V217.3H305.5ZM319.5 215.2H321.5V217.3H319.5ZM357.4 215.2H359.4V217.3H357.4ZM363.4 215.2H365.4V217.3H363.4ZM375.4 215.2H379.4V217.3H375.4ZM387.4 215.2H391.4V217.3H387.4ZM393.4 215.2H397.4V217.3H393.4ZM447.4 215.2H449.4V217.3H447.4ZM461.4 215.2H471.4V217.3H461.4ZM191.5 217.3H197.5V219.5H191.5ZM201.5 217.3H203.5V219.5H201.5ZM207.5 217.3H213.5V219.5H207.5ZM219.5 217.3H223.5V219.5H219.5ZM235.5 217.3H237.5V219.5H235.5ZM283.5 217.3H287.5V219.5H283.5ZM295.5 217.3H299.5V219.5H295.5ZM305.5 217.3H309.5V219.5H305.5ZM317.5 217.3H319.5V219.5H317.5ZM341.4 217.3H343.4V219.5H341.4ZM353.4 217.3H357.4V219.5H353.4ZM363.4 217.3H367.4V219.5H363.4ZM377.4 217.3H379.4V219.5H377.4ZM391.4 217.3H395.4V219.5H391.4ZM403.4 217.3H405.4V219.5H403.4ZM431.4 217.3H433.4V219.5H431.4ZM461.4 217.3H463.4V219.5H461.4ZM467.4 217.3H471.4V219.5H467.4ZM193.5 219.5H199.5V221.7H193.5ZM201.5 219.5H211.5V221.7H201.5ZM225.5 219.5H227.5V221.7H225.5ZM235.5 219.5H237.5V221.7H235.5ZM295.5 219.5H301.5V221.7H295.5ZM309.5 219.5H311.5V221.7H309.5ZM321.5 219.5H323.5V221.7H321.5ZM325.5 219.5H327.5V221.7H325.5ZM353.4 219.5H357.4V221.7H353.4ZM367.4 219.5H369.4V221.7H367.4ZM375.4 219.5H377.4V221.7H375.4ZM391.4 219.5H399.4V221.7H391.4ZM419.4 219.5H421.4V221.7H419.4ZM463.4 219.5H471.4V221.7H463.4ZM195.5 221.7H199.5V223.8H195.5ZM201.5 221.7H205.5V223.8H201.5ZM219.5 221.7H221.5V223.8H219.5ZM225.5 221.7H227.5V223.8H225.5ZM235.5 221.7H237.5V223.8H235.5ZM321.5 221.7H323.5V223.8H321.5ZM347.4 221.7H349.4V223.8H347.4ZM353.4 221.7H355.4V223.8H353.4ZM377.4 221.7H379.4V223.8H377.4ZM407.4 221.7H409.4V223.8H407.4ZM443.4 221.7H445.4V223.8H443.4ZM461.4 221.7H469.4V223.8H461.4ZM471.4 221.7H473.4V223.8H471.4ZM219.5 223.8H221.5V225.9H219.5ZM225.5 223.8H227.5V225.9H225.5ZM235.5 223.8H237.5V225.9H235.5ZM285.5 223.8H287.5V225.9H285.5ZM331.4 223.8H339.4V225.9H331.4ZM347.4 223.8H349.4V225.9H347.4ZM393.4 223.8H395.4V225.9H393.4ZM413.4 223.8H415.4V225.9H413.4ZM457.4 223.8H465.4V225.9H457.4ZM467.4 223.8H469.4V225.9H467.4ZM333.4 225.9H339.4V228.1H333.4ZM395.4 225.9H397.4V228.1H395.4ZM407.4 225.9H409.4V228.1H407.4ZM411.4 225.9H413.4V228.1H411.4ZM419.4 225.9H421.4V228.1H419.4ZM425.4 225.9H431.4V228.1H425.4ZM445.4 225.9H447.4V228.1H445.4ZM449.4 225.9H451.4V228.1H449.4ZM455.4 225.9H457.4V228.1H455.4ZM459.4 225.9H465.4V228.1H459.4ZM467.4 225.9H471.4V228.1H467.4ZM169.5 228.1H171.5V230.2H169.5ZM181.5 228.1H183.5V230.2H181.5ZM219.5 228.1H221.5V230.2H219.5ZM225.5 228.1H227.5V230.2H225.5ZM235.5 228.1H237.5V230.2H235.5ZM321.5 228.1H323.5V230.2H321.5ZM363.4 228.1H365.4V230.2H363.4ZM373.4 228.1H375.4V230.2H373.4ZM391.4 228.1H393.4V230.2H391.4ZM407.4 228.1H409.4V230.2H407.4ZM421.4 228.1H423.4V230.2H421.4ZM431.4 228.1H433.4V230.2H431.4ZM455.4 228.1H461.4V230.2H455.4ZM463.4 228.1H469.4V230.2H463.4ZM99.6 230.2H101.6V232.4H99.6ZM103.6 230.2H105.6V232.4H103.6ZM169.5 230.2H173.5V232.4H169.5ZM181.5 230.2H185.5V232.4H181.5ZM219.5 230.2H221.5V232.4H219.5ZM235.5 230.2H237.5V232.4H235.5ZM321.5 230.2H323.5V232.4H321.5ZM339.4 230.2H341.4V232.4H339.4ZM353.4 230.2H355.4V232.4H353.4ZM401.4 230.2H403.4V232.4H401.4ZM419.4 230.2H423.4V232.4H419.4ZM429.4 230.2H433.4V232.4H429.4ZM447.4 230.2H449.4V232.4H447.4ZM455.4 230.2H457.4V232.4H455.4ZM459.4 230.2H467.4V232.4H459.4ZM97.6 232.4H103.6V234.6H97.6ZM105.6 232.4H107.6V234.6H105.6ZM109.6 232.4H111.6V234.6H109.6ZM169.5 232.4H173.5V234.6H169.5ZM179.5 232.4H189.5V234.6H179.5ZM193.5 232.4H195.5V234.6H193.5ZM225.5 232.4H227.5V234.6H225.5ZM393.4 232.4H395.4V234.6H393.4ZM413.4 232.4H415.4V234.6H413.4ZM419.4 232.4H421.4V234.6H419.4ZM431.4 232.4H435.4V234.6H431.4ZM439.4 232.4H443.4V234.6H439.4ZM447.4 232.4H455.4V234.6H447.4ZM457.4 232.4H459.4V234.6H457.4ZM463.4 232.4H465.4V234.6H463.4ZM97.6 234.6H109.6V236.7H97.6ZM173.5 234.6H175.5V236.7H173.5ZM179.5 234.6H181.5V236.7H179.5ZM187.5 234.6H193.5V236.7H187.5ZM195.5 234.6H199.5V236.7H195.5ZM219.5 234.6H221.5V236.7H219.5ZM233.5 234.6H235.5V236.7H233.5ZM395.4 234.6H397.4V236.7H395.4ZM431.4 234.6H433.4V236.7H431.4ZM435.4 234.6H449.4V236.7H435.4ZM451.4 234.6H459.4V236.7H451.4ZM461.4 234.6H463.4V236.7H461.4ZM97.6 236.7H99.6V238.8H97.6ZM103.6 236.7H105.6V238.8H103.6ZM109.6 236.7H115.6V238.8H109.6ZM139.6 236.7H141.6V238.8H139.6ZM161.6 236.7H163.6V238.8H161.6ZM169.5 236.7H171.5V238.8H169.5ZM173.5 236.7H177.5V238.8H173.5ZM179.5 236.7H181.5V238.8H179.5ZM201.5 236.7H205.5V238.8H201.5ZM213.5 236.7H219.5V238.8H213.5ZM221.5 236.7H223.5V238.8H221.5ZM225.5 236.7H227.5V238.8H225.5ZM231.5 236.7H233.5V238.8H231.5ZM399.4 236.7H401.4V238.8H399.4ZM405.4 236.7H409.4V238.8H405.4ZM413.4 236.7H415.4V238.8H413.4ZM431.4 236.7H433.4V238.8H431.4ZM435.4 236.7H437.4V238.8H435.4ZM441.4 236.7H445.4V238.8H441.4ZM449.4 236.7H455.4V238.8H449.4ZM463.4 236.7H465.4V238.8H463.4ZM111.6 238.8H115.6V241.0H111.6ZM161.6 238.8H165.5V241.0H161.6ZM169.5 238.8H171.5V241.0H169.5ZM175.5 238.8H177.5V241.0H175.5ZM201.5 238.8H203.5V241.0H201.5ZM207.5 238.8H211.5V241.0H207.5ZM213.5 238.8H217.5V241.0H213.5ZM227.5 238.8H231.5V241.0H227.5ZM395.4 238.8H397.4V241.0H395.4ZM417.4 238.8H421.4V241.0H417.4ZM431.4 238.8H433.4V241.0H431.4ZM435.4 238.8H451.4V241.0H435.4ZM95.6 241.0H97.6V243.2H95.6ZM113.6 241.0H121.6V243.2H113.6ZM127.6 241.0H129.6V243.2H127.6ZM137.6 241.0H141.6V243.2H137.6ZM147.6 241.0H151.6V243.2H147.6ZM161.6 241.0H163.6V243.2H161.6ZM169.5 241.0H171.5V243.2H169.5ZM175.5 241.0H177.5V243.2H175.5ZM205.5 241.0H207.5V243.2H205.5ZM227.5 241.0H229.5V243.2H227.5ZM419.4 241.0H421.4V243.2H419.4ZM439.4 241.0H441.4V243.2H439.4ZM443.4 241.0H445.4V243.2H443.4ZM463.4 241.0H465.4V243.2H463.4ZM91.6 243.2H97.6V245.3H91.6ZM113.6 243.2H121.6V245.3H113.6ZM127.6 243.2H129.6V245.3H127.6ZM131.6 243.2H133.6V245.3H131.6ZM135.6 243.2H141.6V245.3H135.6ZM147.6 243.2H153.6V245.3H147.6ZM159.6 243.2H163.6V245.3H159.6ZM169.5 243.2H173.5V245.3H169.5ZM399.4 243.2H401.4V245.3H399.4ZM91.6 245.3H97.6V247.4H91.6ZM113.6 245.3H115.6V247.4H113.6ZM119.6 245.3H123.6V247.4H119.6ZM125.6 245.3H133.6V247.4H125.6ZM135.6 245.3H141.6V247.4H135.6ZM145.6 245.3H153.6V247.4H145.6ZM157.6 245.3H165.5V247.4H157.6ZM399.4 245.3H401.4V247.4H399.4ZM403.4 245.3H405.4V247.4H403.4ZM411.4 245.3H421.4V247.4H411.4ZM93.6 247.4H99.6V249.6H93.6ZM115.6 247.4H123.6V249.6H115.6ZM125.6 247.4H137.6V249.6H125.6ZM141.6 247.4H145.6V249.6H141.6ZM147.6 247.4H157.6V249.6H147.6ZM159.6 247.4H161.6V249.6H159.6ZM163.6 247.4H165.5V249.6H163.6ZM399.4 247.4H403.4V249.6H399.4ZM411.4 247.4H419.4V249.6H411.4Z" fill="#4757fb" shape-rendering="crispEdges"/>
<path d="M381.4 198.0H383.4V200.2H381.4ZM385.4 198.0H387.4V200.2H385.4ZM475.4 198.0H477.4V200.2H475.4ZM491.4 198.0H495.4V200.2H491.4ZM499.3 198.0H505.3V200.2H499.3ZM381.4 200.2H385.4V202.3H381.4ZM389.4 200.2H391.4V202.3H389.4ZM463.4 200.2H465.4V202.3H463.4ZM475.4 200.2H479.4V202.3H475.4ZM481.4 200.2H483.4V202.3H481.4ZM487.4 200.2H495.4V202.3H487.4ZM497.4 200.2H499.3V202.3H497.4ZM235.5 202.3H239.5V204.4H235.5ZM241.5 202.3H243.5V204.4H241.5ZM245.5 202.3H247.5V204.4H245.5ZM253.5 202.3H255.5V204.4H253.5ZM261.5 202.3H263.5V204.4H261.5ZM267.5 202.3H271.5V204.4H267.5ZM291.5 202.3H295.5V204.4H291.5ZM303.5 202.3H305.5V204.4H303.5ZM315.5 202.3H317.5V204.4H315.5ZM381.4 202.3H383.4V204.4H381.4ZM389.4 202.3H391.4V204.4H389.4ZM463.4 202.3H465.4V204.4H463.4ZM471.4 202.3H473.4V204.4H471.4ZM477.4 202.3H479.4V204.4H477.4ZM481.4 202.3H483.4V204.4H481.4ZM489.4 202.3H495.4V204.4H489.4ZM501.3 202.3H503.3V204.4H501.3ZM231.5 204.4H235.5V206.6H231.5ZM237.5 204.4H239.5V206.6H237.5ZM241.5 204.4H245.5V206.6H241.5ZM257.5 204.4H259.5V206.6H257.5ZM263.5 204.4H269.5V206.6H263.5ZM271.5 204.4H273.5V206.6H271.5ZM275.5 204.4H277.5V206.6H275.5ZM279.5 204.4H283.5V206.6H279.5ZM293.5 204.4H295.5V206.6H293.5ZM301.5 204.4H303.5V206.6H301.5ZM305.5 204.4H307.5V206.6H305.5ZM315.5 204.4H317.5V206.6H315.5ZM383.4 204.4H385.4V206.6H383.4ZM389.4 204.4H391.4V206.6H389.4ZM467.4 204.4H469.4V206.6H467.4ZM477.4 204.4H479.4V206.6H477.4ZM483.4 204.4H485.4V206.6H483.4ZM487.4 204.4H495.4V206.6H487.4ZM501.3 204.4H503.3V206.6H501.3ZM223.5 206.6H225.5V208.8H223.5ZM227.5 206.6H233.5V208.8H227.5ZM235.5 206.6H237.5V208.8H235.5ZM259.5 206.6H261.5V208.8H259.5ZM269.5 206.6H279.5V208.8H269.5ZM289.5 206.6H291.5V208.8H289.5ZM293.5 206.6H295.5V208.8H293.5ZM305.5 206.6H307.5V208.8H305.5ZM381.4 206.6H383.4V208.8H381.4ZM385.4 206.6H389.4V208.8H385.4ZM469.4 206.6H477.4V208.8H469.4ZM479.4 206.6H481.4V208.8H479.4ZM485.4 206.6H489.4V208.8H485.4ZM491.4 206.6H495.4V208.8H491.4ZM497.4 206.6H499.3V208.8H497.4ZM221.5 208.8H227.5V210.9H221.5ZM229.5 208.8H231.5V210.9H229.5ZM233.5 208.8H237.5V210.9H233.5ZM289.5 208.8H291.5V210.9H289.5ZM305.5 208.8H307.5V210.9H305.5ZM315.5 208.8H317.5V210.9H315.5ZM365.4 208.8H367.4V210.9H365.4ZM385.4 208.8H387.4V210.9H385.4ZM471.4 208.8H475.4V210.9H471.4ZM477.4 208.8H487.4V210.9H477.4ZM501.3 208.8H503.3V210.9H501.3ZM193.5 210.9H199.5V213.1H193.5ZM225.5 210.9H227.5V213.1H225.5ZM233.5 210.9H237.5V213.1H233.5ZM273.5 210.9H275.5V213.1H273.5ZM281.5 210.9H283.5V213.1H281.5ZM293.5 210.9H295.5V213.1H293.5ZM343.4 210.9H347.4V213.1H343.4ZM359.4 210.9H361.4V213.1H359.4ZM371.4 210.9H373.4V213.1H371.4ZM377.4 210.9H381.4V213.1H377.4ZM385.4 210.9H389.4V213.1H385.4ZM391.4 210.9H393.4V213.1H391.4ZM467.4 210.9H489.4V213.1H467.4ZM493.4 210.9H495.4V213.1H493.4ZM503.3 210.9H505.3V213.1H503.3ZM199.5 213.1H205.5V215.2H199.5ZM221.5 213.1H223.5V215.2H221.5ZM225.5 213.1H227.5V215.2H225.5ZM235.5 213.1H239.5V215.2H235.5ZM281.5 213.1H283.5V215.2H281.5ZM287.5 213.1H289.5V215.2H287.5ZM295.5 213.1H297.5V215.2H295.5ZM329.5 213.1H331.4V215.2H329.5ZM345.4 213.1H347.4V215.2H345.4ZM369.4 213.1H371.4V215.2H369.4ZM375.4 213.1H377.4V215.2H375.4ZM387.4 213.1H389.4V215.2H387.4ZM391.4 213.1H393.4V215.2H391.4ZM473.4 213.1H487.4V215.2H473.4ZM501.3 213.1H505.3V215.2H501.3ZM195.5 215.2H203.5V217.3H195.5ZM205.5 215.2H209.5V217.3H205.5ZM219.5 215.2H223.5V217.3H219.5ZM235.5 215.2H237.5V217.3H235.5ZM327.5 215.2H331.4V217.3H327.5ZM341.4 215.2H343.4V217.3H341.4ZM351.4 215.2H353.4V217.3H351.4ZM361.4 215.2H363.4V217.3H361.4ZM367.4 215.2H369.4V217.3H367.4ZM373.4 215.2H375.4V217.3H373.4ZM383.4 215.2H385.4V217.3H383.4ZM391.4 215.2H393.4V217.3H391.4ZM471.4 215.2H477.4V217.3H471.4ZM479.4 215.2H481.4V217.3H479.4ZM487.4 215.2H489.4V217.3H487.4ZM493.4 215.2H495.4V217.3H493.4ZM501.3 215.2H503.3V217.3H501.3ZM197.5 217.3H201.5V219.5H197.5ZM203.5 217.3H207.5V219.5H203.5ZM225.5 217.3H227.5V219.5H225.5ZM281.5 217.3H283.5V219.5H281.5ZM287.5 217.3H289.5V219.5H287.5ZM299.5 217.3H301.5V219.5H299.5ZM309.5 217.3H311.5V219.5H309.5ZM325.5 217.3H327.5V219.5H325.5ZM329.5 217.3H331.4V219.5H329.5ZM345.4 217.3H347.4V219.5H345.4ZM351.4 217.3H353.4V219.5H351.4ZM357.4 217.3H359.4V219.5H357.4ZM367.4 217.3H369.4V219.5H367.4ZM373.4 217.3H377.4V219.5H373.4ZM389.4 217.3H391.4V219.5H389.4ZM463.4 217.3H467.4V219.5H463.4ZM471.4 217.3H473.4V219.5H471.4ZM475.4 217.3H477.4V219.5H475.4ZM479.4 217.3H481.4V219.5H479.4ZM483.4 217.3H487.4V219.5H483.4ZM489.4 217.3H493.4V219.5H489.4ZM497.4 217.3H499.3V219.5H497.4ZM199.5 219.5H201.5V221.7H199.5ZM219.5 219.5H223.5V221.7H219.5ZM281.5 219.5H289.5V221.7H281.5ZM307.5 219.5H309.5V221.7H307.5ZM319.5 219.5H321.5V221.7H319.5ZM341.4 219.5H343.4V221.7H341.4ZM373.4 219.5H375.4V221.7H373.4ZM377.4 219.5H379.4V221.7H377.4ZM383.4 219.5H385.4V221.7H383.4ZM471.4 219.5H475.4V221.7H471.4ZM481.4 219.5H487.4V221.7H481.4ZM489.4 219.5H491.4V221.7H489.4ZM507.3 219.5H509.3V221.7H507.3ZM221.5 221.7H225.5V223.8H221.5ZM285.5 221.7H289.5V223.8H285.5ZM297.5 221.7H301.5V223.8H297.5ZM307.5 221.7H311.5V223.8H307.5ZM319.5 221.7H321.5V223.8H319.5ZM351.4 221.7H353.4V223.8H351.4ZM355.4 221.7H357.4V223.8H355.4ZM373.4 221.7H375.4V223.8H373.4ZM385.4 221.7H387.4V223.8H385.4ZM469.4 221.7H471.4V223.8H469.4ZM475.4 221.7H477.4V223.8H475.4ZM479.4 221.7H483.4V223.8H479.4ZM485.4 221.7H493.4V223.8H485.4ZM167.5 223.8H169.5V225.9H167.5ZM221.5 223.8H225.5V225.9H221.5ZM283.5 223.8H285.5V225.9H283.5ZM287.5 223.8H289.5V225.9H287.5ZM297.5 223.8H299.5V225.9H297.5ZM309.5 223.8H311.5V225.9H309.5ZM321.5 223.8H323.5V225.9H321.5ZM351.4 223.8H357.4V225.9H351.4ZM363.4 223.8H365.4V225.9H363.4ZM465.4 223.8H467.4V225.9H465.4ZM469.4 223.8H475.4V225.9H469.4ZM477.4 223.8H479.4V225.9H477.4ZM481.4 223.8H483.4V225.9H481.4ZM485.4 223.8H487.4V225.9H485.4ZM225.5 225.9H227.5V228.1H225.5ZM235.5 225.9H237.5V228.1H235.5ZM281.5 225.9H287.5V228.1H281.5ZM299.5 225.9H301.5V228.1H299.5ZM309.5 225.9H311.5V228.1H309.5ZM321.5 225.9H323.5V228.1H321.5ZM331.4 225.9H333.4V228.1H331.4ZM339.4 225.9H341.4V228.1H339.4ZM347.4 225.9H349.4V228.1H347.4ZM353.4 225.9H357.4V228.1H353.4ZM363.4 225.9H365.4V228.1H363.4ZM373.4 225.9H377.4V228.1H373.4ZM465.4 225.9H467.4V228.1H465.4ZM471.4 225.9H475.4V228.1H471.4ZM489.4 225.9H491.4V228.1H489.4ZM221.5 228.1H223.5V230.2H221.5ZM237.5 228.1H239.5V230.2H237.5ZM285.5 228.1H289.5V230.2H285.5ZM299.5 228.1H301.5V230.2H299.5ZM331.4 228.1H341.4V230.2H331.4ZM353.4 228.1H357.4V230.2H353.4ZM375.4 228.1H377.4V230.2H375.4ZM423.4 228.1H431.4V230.2H423.4ZM461.4 228.1H463.4V230.2H461.4ZM469.4 228.1H471.4V230.2H469.4ZM225.5 230.2H227.5V232.4H225.5ZM287.5 230.2H289.5V232.4H287.5ZM331.4 230.2H337.4V232.4H331.4ZM355.4 230.2H357.4V232.4H355.4ZM425.4 230.2H427.4V232.4H425.4ZM467.4 230.2H471.4V232.4H467.4ZM487.4 230.2H489.4V232.4H487.4ZM221.5 232.4H223.5V234.6H221.5ZM235.5 232.4H237.5V234.6H235.5ZM287.5 232.4H289.5V234.6H287.5ZM321.5 232.4H323.5V234.6H321.5ZM333.4 232.4H335.4V234.6H333.4ZM337.4 232.4H341.4V234.6H337.4ZM353.4 232.4H357.4V234.6H353.4ZM375.4 232.4H377.4V234.6H375.4ZM389.4 232.4H391.4V234.6H389.4ZM421.4 232.4H425.4V234.6H421.4ZM427.4 232.4H431.4V234.6H427.4ZM455.4 232.4H457.4V234.6H455.4ZM459.4 232.4H461.4V234.6H459.4ZM465.4 232.4H467.4V234.6H465.4ZM469.4 232.4H473.4V234.6H469.4ZM109.6 234.6H111.6V236.7H109.6ZM169.5 234.6H173.5V236.7H169.5ZM181.5 234.6H183.5V236.7H181.5ZM185.5 234.6H187.5V236.7H185.5ZM193.5 234.6H195.5V236.7H193.5ZM223.5 234.6H227.5V236.7H223.5ZM235.5 234.6H237.5V236.7H235.5ZM287.5 234.6H289.5V236.7H287.5ZM335.4 234.6H337.4V236.7H335.4ZM349.4 234.6H351.4V236.7H349.4ZM353.4 234.6H357.4V236.7H353.4ZM365.4 234.6H367.4V236.7H365.4ZM421.4 234.6H423.4V236.7H421.4ZM425.4 234.6H427.4V236.7H425.4ZM429.4 234.6H431.4V236.7H429.4ZM433.4 234.6H435.4V236.7H433.4ZM459.4 234.6H461.4V236.7H459.4ZM463.4 234.6H467.4V236.7H463.4ZM483.4 234.6H485.4V236.7H483.4ZM99.6 236.7H103.6V238.8H99.6ZM105.6 236.7H109.6V238.8H105.6ZM171.5 236.7H173.5V238.8H171.5ZM177.5 236.7H179.5V238.8H177.5ZM181.5 236.7H183.5V238.8H181.5ZM193.5 236.7H195.5V238.8H193.5ZM197.5 236.7H201.5V238.8H197.5ZM219.5 236.7H221.5V238.8H219.5ZM223.5 236.7H225.5V238.8H223.5ZM233.5 236.7H237.5V238.8H233.5ZM287.5 236.7H289.5V238.8H287.5ZM335.4 236.7H337.4V238.8H335.4ZM349.4 236.7H351.4V238.8H349.4ZM391.4 236.7H393.4V238.8H391.4ZM395.4 236.7H397.4V238.8H395.4ZM421.4 236.7H423.4V238.8H421.4ZM439.4 236.7H441.4V238.8H439.4ZM455.4 236.7H463.4V238.8H455.4ZM465.4 236.7H467.4V238.8H465.4ZM469.4 236.7H471.4V238.8H469.4ZM95.6 238.8H97.6V241.0H95.6ZM101.6 238.8H111.6V241.0H101.6ZM171.5 238.8H175.5V241.0H171.5ZM179.5 238.8H183.5V241.0H179.5ZM193.5 238.8H195.5V241.0H193.5ZM197.5 238.8H201.5V241.0H197.5ZM203.5 238.8H207.5V241.0H203.5ZM211.5 238.8H213.5V241.0H211.5ZM219.5 238.8H227.5V241.0H219.5ZM231.5 238.8H233.5V241.0H231.5ZM287.5 238.8H289.5V241.0H287.5ZM339.4 238.8H341.4V241.0H339.4ZM355.4 238.8H357.4V241.0H355.4ZM397.4 238.8H399.4V241.0H397.4ZM421.4 238.8H423.4V241.0H421.4ZM433.4 238.8H435.4V241.0H433.4ZM451.4 238.8H467.4V241.0H451.4ZM469.4 238.8H471.4V241.0H469.4ZM97.6 241.0H99.6V243.2H97.6ZM105.6 241.0H113.6V243.2H105.6ZM171.5 241.0H175.5V243.2H171.5ZM177.5 241.0H181.5V243.2H177.5ZM199.5 241.0H205.5V243.2H199.5ZM207.5 241.0H209.5V243.2H207.5ZM211.5 241.0H215.5V243.2H211.5ZM225.5 241.0H227.5V243.2H225.5ZM229.5 241.0H231.5V243.2H229.5ZM397.4 241.0H399.4V243.2H397.4ZM431.4 241.0H439.4V243.2H431.4ZM441.4 241.0H443.4V243.2H441.4ZM445.4 241.0H463.4V243.2H445.4ZM465.4 241.0H467.4V243.2H465.4ZM97.6 243.2H101.6V245.3H97.6ZM111.6 243.2H113.6V245.3H111.6ZM173.5 243.2H181.5V245.3H173.5ZM199.5 243.2H203.5V245.3H199.5ZM205.5 243.2H207.5V245.3H205.5ZM209.5 243.2H215.5V245.3H209.5ZM227.5 243.2H231.5V245.3H227.5ZM355.4 243.2H357.4V245.3H355.4ZM397.4 243.2H399.4V245.3H397.4ZM419.4 243.2H423.4V245.3H419.4ZM439.4 243.2H443.4V245.3H439.4ZM445.4 243.2H447.4V245.3H445.4ZM449.4 243.2H451.4V245.3H449.4ZM453.4 243.2H463.4V245.3H453.4ZM97.6 245.3H103.6V247.4H97.6ZM105.6 245.3H107.6V247.4H105.6ZM115.6 245.3H117.6V247.4H115.6ZM169.5 245.3H173.5V247.4H169.5ZM175.5 245.3H181.5V247.4H175.5ZM207.5 245.3H209.5V247.4H207.5ZM229.5 245.3H233.5V247.4H229.5ZM99.6 247.4H101.6V249.6H99.6ZM103.6 247.4H105.6V249.6H103.6ZM109.6 247.4H111.6V249.6H109.6ZM113.6 247.4H115.6V249.6H113.6ZM123.6 247.4H125.6V249.6H123.6ZM137.6 247.4H139.6V249.6H137.6ZM157.6 247.4H159.6V249.6H157.6ZM171.5 247.4H173.5V249.6H171.5ZM175.5 247.4H179.5V249.6H175.5ZM199.5 247.4H209.5V249.6H199.5ZM225.5 247.4H227.5V249.6H225.5ZM229.5 247.4H231.5V249.6H229.5ZM355.4 247.4H357.4V249.6H355.4ZM395.4 247.4H397.4V249.6H395.4ZM419.4 247.4H421.4V249.6H419.4Z" fill="#0ea4f0" shape-rendering="crispEdges"/>
<path d="M383.4 198.0H385.4V200.2H383.4ZM495.4 198.0H497.4V200.2H495.4ZM505.3 198.0H513.3V200.2H505.3ZM569.3 198.0H571.3V200.2H569.3ZM495.4 200.2H497.4V202.3H495.4ZM499.3 200.2H505.3V202.3H499.3ZM507.3 200.2H511.3V202.3H507.3ZM519.3 200.2H521.3V202.3H519.3ZM557.3 200.2H559.3V202.3H557.3ZM247.5 202.3H253.5V204.4H247.5ZM255.5 202.3H257.5V204.4H255.5ZM383.4 202.3H385.4V204.4H383.4ZM495.4 202.3H501.3V204.4H495.4ZM503.3 202.3H511.3V204.4H503.3ZM235.5 204.4H237.5V206.6H235.5ZM239.5 204.4H241.5V206.6H239.5ZM245.5 204.4H257.5V206.6H245.5ZM259.5 204.4H263.5V206.6H259.5ZM269.5 204.4H271.5V206.6H269.5ZM277.5 204.4H279.5V206.6H277.5ZM291.5 204.4H293.5V206.6H291.5ZM303.5 204.4H305.5V206.6H303.5ZM313.5 204.4H315.5V206.6H313.5ZM495.4 204.4H499.3V206.6H495.4ZM503.3 204.4H509.3V206.6H503.3ZM233.5 206.6H235.5V208.8H233.5ZM237.5 206.6H253.5V208.8H237.5ZM255.5 206.6H259.5V208.8H255.5ZM261.5 206.6H269.5V208.8H261.5ZM291.5 206.6H293.5V208.8H291.5ZM301.5 206.6H305.5V208.8H301.5ZM313.5 206.6H317.5V208.8H313.5ZM489.4 206.6H491.4V208.8H489.4ZM495.4 206.6H497.4V208.8H495.4ZM499.3 206.6H501.3V208.8H499.3ZM503.3 206.6H509.3V208.8H503.3ZM231.5 208.8H233.5V210.9H231.5ZM237.5 208.8H243.5V210.9H237.5ZM257.5 208.8H263.5V210.9H257.5ZM265.5 208.8H267.5V210.9H265.5ZM269.5 208.8H281.5V210.9H269.5ZM293.5 208.8H295.5V210.9H293.5ZM301.5 208.8H303.5V210.9H301.5ZM381.4 208.8H385.4V210.9H381.4ZM475.4 208.8H477.4V210.9H475.4ZM489.4 208.8H501.3V210.9H489.4ZM503.3 208.8H505.3V210.9H503.3ZM507.3 208.8H509.3V210.9H507.3ZM165.5 210.9H167.5V213.1H165.5ZM223.5 210.9H225.5V213.1H223.5ZM237.5 210.9H243.5V213.1H237.5ZM263.5 210.9H265.5V213.1H263.5ZM269.5 210.9H273.5V213.1H269.5ZM275.5 210.9H277.5V213.1H275.5ZM289.5 210.9H291.5V213.1H289.5ZM305.5 210.9H307.5V213.1H305.5ZM311.5 210.9H313.5V213.1H311.5ZM381.4 210.9H385.4V213.1H381.4ZM489.4 210.9H493.4V213.1H489.4ZM497.4 210.9H503.3V213.1H497.4ZM505.3 210.9H507.3V213.1H505.3ZM165.5 213.1H167.5V215.2H165.5ZM223.5 213.1H225.5V215.2H223.5ZM239.5 213.1H241.5V215.2H239.5ZM269.5 213.1H275.5V215.2H269.5ZM279.5 213.1H281.5V215.2H279.5ZM293.5 213.1H295.5V215.2H293.5ZM305.5 213.1H307.5V215.2H305.5ZM311.5 213.1H313.5V215.2H311.5ZM343.4 213.1H345.4V215.2H343.4ZM359.4 213.1H361.4V215.2H359.4ZM379.4 213.1H383.4V215.2H379.4ZM385.4 213.1H387.4V215.2H385.4ZM487.4 213.1H495.4V215.2H487.4ZM499.3 213.1H501.3V215.2H499.3ZM505.3 213.1H507.3V215.2H505.3ZM223.5 215.2H225.5V217.3H223.5ZM237.5 215.2H241.5V217.3H237.5ZM273.5 215.2H277.5V217.3H273.5ZM281.5 215.2H283.5V217.3H281.5ZM345.4 215.2H347.4V217.3H345.4ZM369.4 215.2H373.4V217.3H369.4ZM379.4 215.2H383.4V217.3H379.4ZM385.4 215.2H387.4V217.3H385.4ZM477.4 215.2H479.4V217.3H477.4ZM481.4 215.2H487.4V217.3H481.4ZM489.4 215.2H493.4V217.3H489.4ZM495.4 215.2H501.3V217.3H495.4ZM503.3 215.2H505.3V217.3H503.3ZM507.3 215.2H509.3V217.3H507.3ZM165.5 217.3H167.5V219.5H165.5ZM223.5 217.3H225.5V219.5H223.5ZM237.5 217.3H241.5V219.5H237.5ZM265.5 217.3H267.5V219.5H265.5ZM271.5 217.3H275.5V219.5H271.5ZM343.4 217.3H345.4V219.5H343.4ZM361.4 217.3H363.4V219.5H361.4ZM369.4 217.3H373.4V219.5H369.4ZM387.4 217.3H389.4V219.5H387.4ZM473.4 217.3H475.4V219.5H473.4ZM477.4 217.3H479.4V219.5H477.4ZM481.4 217.3H483.4V219.5H481.4ZM487.4 217.3H489.4V219.5H487.4ZM493.4 217.3H497.4V219.5H493.4ZM499.3 217.3H501.3V219.5H499.3ZM507.3 217.3H509.3V219.5H507.3ZM223.5 219.5H225.5V221.7H223.5ZM237.5 219.5H243.5V221.7H237.5ZM269.5 219.5H273.5V221.7H269.5ZM317.5 219.5H319.5V221.7H317.5ZM329.5 219.5H331.4V221.7H329.5ZM345.4 219.5H347.4V221.7H345.4ZM357.4 219.5H359.4V221.7H357.4ZM361.4 219.5H363.4V221.7H361.4ZM369.4 219.5H373.4V221.7H369.4ZM389.4 219.5H391.4V221.7H389.4ZM475.4 219.5H481.4V221.7H475.4ZM491.4 219.5H503.3V221.7H491.4ZM505.3 219.5H507.3V221.7H505.3ZM237.5 221.7H239.5V223.8H237.5ZM243.5 221.7H245.5V223.8H243.5ZM265.5 221.7H269.5V223.8H265.5ZM271.5 221.7H277.5V223.8H271.5ZM283.5 221.7H285.5V223.8H283.5ZM295.5 221.7H297.5V223.8H295.5ZM325.5 221.7H327.5V223.8H325.5ZM341.4 221.7H343.4V223.8H341.4ZM345.4 221.7H347.4V223.8H345.4ZM357.4 221.7H359.4V223.8H357.4ZM367.4 221.7H369.4V223.8H367.4ZM371.4 221.7H373.4V223.8H371.4ZM375.4 221.7H377.4V223.8H375.4ZM383.4 221.7H385.4V223.8H383.4ZM389.4 221.7H393.4V223.8H389.4ZM473.4 221.7H475.4V223.8H473.4ZM477.4 221.7H479.4V223.8H477.4ZM483.4 221.7H485.4V223.8H483.4ZM493.4 221.7H499.3V223.8H493.4ZM507.3 221.7H509.3V223.8H507.3ZM165.5 223.8H167.5V225.9H165.5ZM237.5 223.8H239.5V225.9H237.5ZM263.5 223.8H265.5V225.9H263.5ZM275.5 223.8H277.5V225.9H275.5ZM281.5 223.8H283.5V225.9H281.5ZM299.5 223.8H301.5V225.9H299.5ZM319.5 223.8H321.5V225.9H319.5ZM325.5 223.8H327.5V225.9H325.5ZM345.4 223.8H347.4V225.9H345.4ZM365.4 223.8H369.4V225.9H365.4ZM373.4 223.8H377.4V225.9H373.4ZM383.4 223.8H387.4V225.9H383.4ZM389.4 223.8H391.4V225.9H389.4ZM475.4 223.8H477.4V225.9H475.4ZM479.4 223.8H481.4V225.9H479.4ZM483.4 223.8H485.4V225.9H483.4ZM487.4 223.8H497.4V225.9H487.4ZM499.3 223.8H503.3V225.9H499.3ZM507.3 223.8H509.3V225.9H507.3ZM165.5 225.9H169.5V228.1H165.5ZM221.5 225.9H225.5V228.1H221.5ZM237.5 225.9H241.5V228.1H237.5ZM271.5 225.9H277.5V228.1H271.5ZM287.5 225.9H289.5V228.1H287.5ZM297.5 225.9H299.5V228.1H297.5ZM319.5 225.9H321.5V228.1H319.5ZM329.5 225.9H331.4V228.1H329.5ZM361.4 225.9H363.4V228.1H361.4ZM377.4 225.9H379.4V228.1H377.4ZM385.4 225.9H395.4V228.1H385.4ZM475.4 225.9H479.4V228.1H475.4ZM481.4 225.9H487.4V228.1H481.4ZM493.4 225.9H495.4V228.1H493.4ZM497.4 225.9H503.3V228.1H497.4ZM505.3 225.9H509.3V228.1H505.3ZM167.5 228.1H169.5V230.2H167.5ZM223.5 228.1H225.5V230.2H223.5ZM239.5 228.1H243.5V230.2H239.5ZM267.5 228.1H277.5V230.2H267.5ZM283.5 228.1H285.5V230.2H283.5ZM297.5 228.1H299.5V230.2H297.5ZM309.5 228.1H311.5V230.2H309.5ZM319.5 228.1H321.5V230.2H319.5ZM347.4 228.1H349.4V230.2H347.4ZM377.4 228.1H379.4V230.2H377.4ZM387.4 228.1H389.4V230.2H387.4ZM393.4 228.1H395.4V230.2H393.4ZM471.4 228.1H485.4V230.2H471.4ZM487.4 228.1H489.4V230.2H487.4ZM491.4 228.1H501.3V230.2H491.4ZM165.5 230.2H167.5V232.4H165.5ZM221.5 230.2H225.5V232.4H221.5ZM237.5 230.2H243.5V232.4H237.5ZM271.5 230.2H275.5V232.4H271.5ZM285.5 230.2H287.5V232.4H285.5ZM299.5 230.2H301.5V232.4H299.5ZM309.5 230.2H311.5V232.4H309.5ZM319.5 230.2H321.5V232.4H319.5ZM337.4 230.2H339.4V232.4H337.4ZM347.4 230.2H349.4V232.4H347.4ZM363.4 230.2H365.4V232.4H363.4ZM373.4 230.2H377.4V232.4H373.4ZM387.4 230.2H389.4V232.4H387.4ZM391.4 230.2H397.4V232.4H391.4ZM423.4 230.2H425.4V232.4H423.4ZM427.4 230.2H429.4V232.4H427.4ZM471.4 230.2H481.4V232.4H471.4ZM483.4 230.2H485.4V232.4H483.4ZM489.4 230.2H493.4V232.4H489.4ZM495.4 230.2H497.4V232.4H495.4ZM501.3 230.2H503.3V232.4H501.3ZM507.3 230.2H509.3V232.4H507.3ZM223.5 232.4H225.5V234.6H223.5ZM237.5 232.4H241.5V234.6H237.5ZM269.5 232.4H277.5V234.6H269.5ZM285.5 232.4H287.5V234.6H285.5ZM335.4 232.4H337.4V234.6H335.4ZM377.4 232.4H379.4V234.6H377.4ZM467.4 232.4H469.4V234.6H467.4ZM473.4 232.4H477.4V234.6H473.4ZM481.4 232.4H487.4V234.6H481.4ZM489.4 232.4H493.4V234.6H489.4ZM495.4 232.4H499.3V234.6H495.4ZM505.3 232.4H507.3V234.6H505.3ZM183.5 234.6H185.5V236.7H183.5ZM221.5 234.6H223.5V236.7H221.5ZM237.5 234.6H241.5V236.7H237.5ZM271.5 234.6H275.5V236.7H271.5ZM285.5 234.6H287.5V236.7H285.5ZM321.5 234.6H323.5V236.7H321.5ZM333.4 234.6H335.4V236.7H333.4ZM337.4 234.6H341.4V236.7H337.4ZM377.4 234.6H379.4V236.7H377.4ZM387.4 234.6H391.4V236.7H387.4ZM423.4 234.6H425.4V236.7H423.4ZM427.4 234.6H429.4V236.7H427.4ZM467.4 234.6H477.4V236.7H467.4ZM479.4 234.6H483.4V236.7H479.4ZM485.4 234.6H487.4V236.7H485.4ZM489.4 234.6H493.4V236.7H489.4ZM495.4 234.6H497.4V236.7H495.4ZM501.3 234.6H503.3V236.7H501.3ZM183.5 236.7H185.5V238.8H183.5ZM187.5 236.7H193.5V238.8H187.5ZM195.5 236.7H197.5V238.8H195.5ZM237.5 236.7H239.5V238.8H237.5ZM321.5 236.7H323.5V238.8H321.5ZM337.4 236.7H341.4V238.8H337.4ZM353.4 236.7H357.4V238.8H353.4ZM377.4 236.7H379.4V238.8H377.4ZM389.4 236.7H391.4V238.8H389.4ZM425.4 236.7H427.4V238.8H425.4ZM429.4 236.7H431.4V238.8H429.4ZM467.4 236.7H469.4V238.8H467.4ZM473.4 236.7H477.4V238.8H473.4ZM479.4 236.7H483.4V238.8H479.4ZM485.4 236.7H489.4V238.8H485.4ZM491.4 236.7H493.4V238.8H491.4ZM495.4 236.7H499.3V238.8H495.4ZM507.3 236.7H509.3V238.8H507.3ZM97.6 238.8H101.6V241.0H97.6ZM189.5 238.8H193.5V241.0H189.5ZM195.5 238.8H197.5V241.0H195.5ZM217.5 238.8H219.5V241.0H217.5ZM233.5 238.8H237.5V241.0H233.5ZM335.4 238.8H339.4V241.0H335.4ZM377.4 238.8H379.4V241.0H377.4ZM391.4 238.8H393.4V241.0H391.4ZM399.4 238.8H401.4V241.0H399.4ZM423.4 238.8H427.4V241.0H423.4ZM467.4 238.8H469.4V241.0H467.4ZM479.4 238.8H481.4V241.0H479.4ZM489.4 238.8H491.4V241.0H489.4ZM99.6 241.0H105.6V243.2H99.6ZM181.5 241.0H185.5V243.2H181.5ZM195.5 241.0H199.5V243.2H195.5ZM209.5 241.0H211.5V243.2H209.5ZM215.5 241.0H219.5V243.2H215.5ZM221.5 241.0H225.5V243.2H221.5ZM231.5 241.0H239.5V243.2H231.5ZM287.5 241.0H289.5V243.2H287.5ZM321.5 241.0H323.5V243.2H321.5ZM337.4 241.0H341.4V243.2H337.4ZM355.4 241.0H357.4V243.2H355.4ZM377.4 241.0H379.4V243.2H377.4ZM389.4 241.0H393.4V243.2H389.4ZM421.4 241.0H425.4V243.2H421.4ZM467.4 241.0H469.4V243.2H467.4ZM473.4 241.0H479.4V243.2H473.4ZM485.4 241.0H487.4V243.2H485.4ZM101.6 243.2H105.6V245.3H101.6ZM107.6 243.2H111.6V245.3H107.6ZM181.5 243.2H183.5V245.3H181.5ZM193.5 243.2H199.5V245.3H193.5ZM203.5 243.2H205.5V245.3H203.5ZM207.5 243.2H209.5V245.3H207.5ZM217.5 243.2H227.5V245.3H217.5ZM231.5 243.2H235.5V245.3H231.5ZM237.5 243.2H239.5V245.3H237.5ZM339.4 243.2H341.4V245.3H339.4ZM389.4 243.2H395.4V245.3H389.4ZM401.4 243.2H403.4V245.3H401.4ZM423.4 243.2H427.4V245.3H423.4ZM431.4 243.2H439.4V245.3H431.4ZM443.4 243.2H445.4V245.3H443.4ZM447.4 243.2H449.4V245.3H447.4ZM451.4 243.2H453.4V245.3H451.4ZM463.4 243.2H469.4V245.3H463.4ZM495.4 243.2H497.4V245.3H495.4ZM107.6 245.3H113.6V247.4H107.6ZM173.5 245.3H175.5V247.4H173.5ZM181.5 245.3H183.5V247.4H181.5ZM197.5 245.3H207.5V247.4H197.5ZM209.5 245.3H219.5V247.4H209.5ZM225.5 245.3H229.5V247.4H225.5ZM235.5 245.3H237.5V247.4H235.5ZM339.4 245.3H341.4V247.4H339.4ZM355.4 245.3H357.4V247.4H355.4ZM391.4 245.3H395.4V247.4H391.4ZM421.4 245.3H423.4V247.4H421.4ZM101.6 247.4H103.6V249.6H101.6ZM105.6 247.4H109.6V249.6H105.6ZM111.6 247.4H113.6V249.6H111.6ZM169.5 247.4H171.5V249.6H169.5ZM173.5 247.4H175.5V249.6H173.5ZM179.5 247.4H183.5V249.6H179.5ZM195.5 247.4H197.5V249.6H195.5ZM209.5 247.4H215.5V249.6H209.5ZM223.5 247.4H225.5V249.6H223.5ZM227.5 247.4H229.5V249.6H227.5ZM231.5 247.4H235.5V249.6H231.5ZM321.5 247.4H323.5V249.6H321.5ZM339.4 247.4H341.4V249.6H339.4ZM393.4 247.4H395.4V249.6H393.4ZM421.4 247.4H423.4V249.6H421.4Z" fill="#2adddd" shape-rendering="crispEdges"/>
<path d="M513.3 198.0H515.3V200.2H513.3ZM517.3 198.0H541.3V200.2H517.3ZM547.3 198.0H555.3V200.2H547.3ZM557.3 198.0H561.3V200.2H557.3ZM563.3 198.0H569.3V200.2H563.3ZM571.3 198.0H577.3V200.2H571.3ZM579.3 198.0H581.3V200.2H579.3ZM505.3 200.2H507.3V202.3H505.3ZM511.3 200.2H515.3V202.3H511.3ZM521.3 200.2H523.3V202.3H521.3ZM525.3 200.2H539.3V202.3H525.3ZM541.3 200.2H545.3V202.3H541.3ZM547.3 200.2H549.3V202.3H547.3ZM555.3 200.2H557.3V202.3H555.3ZM559.3 200.2H565.3V202.3H559.3ZM567.3 200.2H569.3V202.3H567.3ZM571.3 200.2H575.3V202.3H571.3ZM511.3 202.3H515.3V204.4H511.3ZM517.3 202.3H519.3V204.4H517.3ZM537.3 202.3H539.3V204.4H537.3ZM547.3 202.3H551.3V204.4H547.3ZM553.3 202.3H559.3V204.4H553.3ZM561.3 202.3H563.3V204.4H561.3ZM567.3 202.3H577.3V204.4H567.3ZM345.4 204.4H349.4V206.6H345.4ZM499.3 204.4H501.3V206.6H499.3ZM509.3 204.4H511.3V206.6H509.3ZM537.3 204.4H539.3V206.6H537.3ZM571.3 204.4H573.3V206.6H571.3ZM253.5 206.6H255.5V208.8H253.5ZM279.5 206.6H281.5V208.8H279.5ZM347.4 206.6H349.4V208.8H347.4ZM501.3 206.6H503.3V208.8H501.3ZM509.3 206.6H511.3V208.8H509.3ZM243.5 208.8H247.5V210.9H243.5ZM251.5 208.8H253.5V210.9H251.5ZM263.5 208.8H265.5V210.9H263.5ZM267.5 208.8H269.5V210.9H267.5ZM291.5 208.8H293.5V210.9H291.5ZM303.5 208.8H305.5V210.9H303.5ZM313.5 208.8H315.5V210.9H313.5ZM347.4 208.8H349.4V210.9H347.4ZM505.3 208.8H507.3V210.9H505.3ZM509.3 208.8H511.3V210.9H509.3ZM243.5 210.9H247.5V213.1H243.5ZM265.5 210.9H269.5V213.1H265.5ZM277.5 210.9H281.5V213.1H277.5ZM301.5 210.9H305.5V213.1H301.5ZM313.5 210.9H317.5V213.1H313.5ZM349.4 210.9H351.4V213.1H349.4ZM495.4 210.9H497.4V213.1H495.4ZM507.3 210.9H511.3V213.1H507.3ZM241.5 213.1H247.5V215.2H241.5ZM259.5 213.1H269.5V215.2H259.5ZM275.5 213.1H277.5V215.2H275.5ZM289.5 213.1H291.5V215.2H289.5ZM315.5 213.1H317.5V215.2H315.5ZM323.5 213.1H325.5V215.2H323.5ZM347.4 213.1H351.4V215.2H347.4ZM383.4 213.1H385.4V215.2H383.4ZM495.4 213.1H499.3V215.2H495.4ZM507.3 213.1H509.3V215.2H507.3ZM165.5 215.2H167.5V217.3H165.5ZM241.5 215.2H249.5V217.3H241.5ZM251.5 215.2H253.5V217.3H251.5ZM261.5 215.2H263.5V217.3H261.5ZM265.5 215.2H273.5V217.3H265.5ZM277.5 215.2H279.5V217.3H277.5ZM289.5 215.2H291.5V217.3H289.5ZM293.5 215.2H295.5V217.3H293.5ZM311.5 215.2H313.5V217.3H311.5ZM315.5 215.2H317.5V217.3H315.5ZM343.4 215.2H345.4V217.3H343.4ZM347.4 215.2H351.4V217.3H347.4ZM359.4 215.2H361.4V217.3H359.4ZM505.3 215.2H507.3V217.3H505.3ZM241.5 217.3H245.5V219.5H241.5ZM251.5 217.3H253.5V219.5H251.5ZM259.5 217.3H265.5V219.5H259.5ZM267.5 217.3H271.5V219.5H267.5ZM275.5 217.3H279.5V219.5H275.5ZM289.5 217.3H291.5V219.5H289.5ZM293.5 217.3H295.5V219.5H293.5ZM327.5 217.3H329.5V219.5H327.5ZM349.4 217.3H351.4V219.5H349.4ZM359.4 217.3H361.4V219.5H359.4ZM379.4 217.3H387.4V219.5H379.4ZM501.3 217.3H507.3V219.5H501.3ZM509.3 217.3H511.3V219.5H509.3ZM165.5 219.5H167.5V221.7H165.5ZM245.5 219.5H247.5V221.7H245.5ZM259.5 219.5H269.5V221.7H259.5ZM273.5 219.5H279.5V221.7H273.5ZM305.5 219.5H307.5V221.7H305.5ZM311.5 219.5H313.5V221.7H311.5ZM343.4 219.5H345.4V221.7H343.4ZM363.4 219.5H367.4V221.7H363.4ZM381.4 219.5H383.4V221.7H381.4ZM385.4 219.5H389.4V221.7H385.4ZM487.4 219.5H489.4V221.7H487.4ZM503.3 219.5H505.3V221.7H503.3ZM165.5 221.7H167.5V223.8H165.5ZM239.5 221.7H243.5V223.8H239.5ZM253.5 221.7H255.5V223.8H253.5ZM257.5 221.7H261.5V223.8H257.5ZM263.5 221.7H265.5V223.8H263.5ZM269.5 221.7H271.5V223.8H269.5ZM281.5 221.7H283.5V223.8H281.5ZM305.5 221.7H307.5V223.8H305.5ZM311.5 221.7H313.5V223.8H311.5ZM317.5 221.7H319.5V223.8H317.5ZM329.5 221.7H331.4V223.8H329.5ZM349.4 221.7H351.4V223.8H349.4ZM361.4 221.7H363.4V223.8H361.4ZM365.4 221.7H367.4V223.8H365.4ZM369.4 221.7H371.4V223.8H369.4ZM387.4 221.7H389.4V223.8H387.4ZM499.3 221.7H507.3V223.8H499.3ZM239.5 223.8H245.5V225.9H239.5ZM257.5 223.8H259.5V225.9H257.5ZM267.5 223.8H275.5V225.9H267.5ZM295.5 223.8H297.5V225.9H295.5ZM307.5 223.8H309.5V225.9H307.5ZM317.5 223.8H319.5V225.9H317.5ZM329.5 223.8H331.4V225.9H329.5ZM341.4 223.8H343.4V225.9H341.4ZM357.4 223.8H359.4V225.9H357.4ZM361.4 223.8H363.4V225.9H361.4ZM369.4 223.8H373.4V225.9H369.4ZM377.4 223.8H379.4V225.9H377.4ZM387.4 223.8H389.4V225.9H387.4ZM391.4 223.8H393.4V225.9H391.4ZM497.4 223.8H499.3V225.9H497.4ZM503.3 223.8H507.3V225.9H503.3ZM241.5 225.9H247.5V228.1H241.5ZM249.5 225.9H251.5V228.1H249.5ZM253.5 225.9H255.5V228.1H253.5ZM257.5 225.9H259.5V228.1H257.5ZM263.5 225.9H267.5V228.1H263.5ZM269.5 225.9H271.5V228.1H269.5ZM307.5 225.9H309.5V228.1H307.5ZM317.5 225.9H319.5V228.1H317.5ZM325.5 225.9H327.5V228.1H325.5ZM341.4 225.9H343.4V228.1H341.4ZM345.4 225.9H347.4V228.1H345.4ZM351.4 225.9H353.4V228.1H351.4ZM365.4 225.9H369.4V228.1H365.4ZM371.4 225.9H373.4V228.1H371.4ZM383.4 225.9H385.4V228.1H383.4ZM479.4 225.9H481.4V228.1H479.4ZM487.4 225.9H489.4V228.1H487.4ZM491.4 225.9H493.4V228.1H491.4ZM495.4 225.9H497.4V228.1H495.4ZM503.3 225.9H505.3V228.1H503.3ZM165.5 228.1H167.5V230.2H165.5ZM243.5 228.1H245.5V230.2H243.5ZM255.5 228.1H259.5V230.2H255.5ZM263.5 228.1H267.5V230.2H263.5ZM329.5 228.1H331.4V230.2H329.5ZM345.4 228.1H347.4V230.2H345.4ZM361.4 228.1H363.4V230.2H361.4ZM365.4 228.1H369.4V230.2H365.4ZM371.4 228.1H373.4V230.2H371.4ZM383.4 228.1H387.4V230.2H383.4ZM485.4 228.1H487.4V230.2H485.4ZM489.4 228.1H491.4V230.2H489.4ZM501.3 228.1H509.3V230.2H501.3ZM167.5 230.2H169.5V232.4H167.5ZM243.5 230.2H245.5V232.4H243.5ZM251.5 230.2H253.5V232.4H251.5ZM255.5 230.2H257.5V232.4H255.5ZM265.5 230.2H271.5V232.4H265.5ZM275.5 230.2H277.5V232.4H275.5ZM283.5 230.2H285.5V232.4H283.5ZM345.4 230.2H347.4V232.4H345.4ZM377.4 230.2H379.4V232.4H377.4ZM385.4 230.2H387.4V232.4H385.4ZM389.4 230.2H391.4V232.4H389.4ZM481.4 230.2H483.4V232.4H481.4ZM485.4 230.2H487.4V232.4H485.4ZM493.4 230.2H495.4V232.4H493.4ZM497.4 230.2H501.3V232.4H497.4ZM503.3 230.2H507.3V232.4H503.3ZM509.3 230.2H511.3V232.4H509.3ZM241.5 232.4H249.5V234.6H241.5ZM265.5 232.4H269.5V234.6H265.5ZM283.5 232.4H285.5V234.6H283.5ZM299.5 232.4H301.5V234.6H299.5ZM309.5 232.4H311.5V234.6H309.5ZM319.5 232.4H321.5V234.6H319.5ZM331.4 232.4H333.4V234.6H331.4ZM347.4 232.4H349.4V234.6H347.4ZM363.4 232.4H369.4V234.6H363.4ZM373.4 232.4H375.4V234.6H373.4ZM385.4 232.4H389.4V234.6H385.4ZM391.4 232.4H393.4V234.6H391.4ZM395.4 232.4H397.4V234.6H395.4ZM425.4 232.4H427.4V234.6H425.4ZM477.4 232.4H481.4V234.6H477.4ZM487.4 232.4H489.4V234.6H487.4ZM493.4 232.4H495.4V234.6H493.4ZM499.3 232.4H505.3V234.6H499.3ZM507.3 232.4H509.3V234.6H507.3ZM167.5 234.6H169.5V236.7H167.5ZM241.5 234.6H247.5V236.7H241.5ZM257.5 234.6H259.5V236.7H257.5ZM267.5 234.6H271.5V236.7H267.5ZM275.5 234.6H277.5V236.7H275.5ZM299.5 234.6H301.5V236.7H299.5ZM309.5 234.6H311.5V236.7H309.5ZM319.5 234.6H321.5V236.7H319.5ZM347.4 234.6H349.4V236.7H347.4ZM375.4 234.6H377.4V236.7H375.4ZM385.4 234.6H387.4V236.7H385.4ZM391.4 234.6H395.4V236.7H391.4ZM397.4 234.6H399.4V236.7H397.4ZM477.4 234.6H479.4V236.7H477.4ZM487.4 234.6H489.4V236.7H487.4ZM493.4 234.6H495.4V236.7H493.4ZM497.4 234.6H501.3V236.7H497.4ZM503.3 234.6H509.3V236.7H503.3ZM185.5 236.7H187.5V238.8H185.5ZM239.5 236.7H243.5V238.8H239.5ZM267.5 236.7H277.5V238.8H267.5ZM309.5 236.7H311.5V238.8H309.5ZM365.4 236.7H367.4V238.8H365.4ZM375.4 236.7H377.4V238.8H375.4ZM387.4 236.7H389.4V238.8H387.4ZM393.4 236.7H395.4V238.8H393.4ZM397.4 236.7H399.4V238.8H397.4ZM423.4 236.7H425.4V238.8H423.4ZM427.4 236.7H429.4V238.8H427.4ZM471.4 236.7H473.4V238.8H471.4ZM477.4 236.7H479.4V238.8H477.4ZM483.4 236.7H485.4V238.8H483.4ZM489.4 236.7H491.4V238.8H489.4ZM493.4 236.7H495.4V238.8H493.4ZM501.3 236.7H507.3V238.8H501.3ZM167.5 238.8H169.5V241.0H167.5ZM183.5 238.8H189.5V241.0H183.5ZM237.5 238.8H241.5V241.0H237.5ZM269.5 238.8H277.5V241.0H269.5ZM321.5 238.8H323.5V241.0H321.5ZM349.4 238.8H351.4V241.0H349.4ZM353.4 238.8H355.4V241.0H353.4ZM387.4 238.8H391.4V241.0H387.4ZM429.4 238.8H431.4V241.0H429.4ZM471.4 238.8H479.4V241.0H471.4ZM481.4 238.8H489.4V241.0H481.4ZM491.4 238.8H495.4V241.0H491.4ZM497.4 238.8H507.3V241.0H497.4ZM165.5 241.0H167.5V243.2H165.5ZM187.5 241.0H189.5V243.2H187.5ZM191.5 241.0H195.5V243.2H191.5ZM219.5 241.0H221.5V243.2H219.5ZM239.5 241.0H243.5V243.2H239.5ZM273.5 241.0H275.5V243.2H273.5ZM349.4 241.0H351.4V243.2H349.4ZM395.4 241.0H397.4V243.2H395.4ZM399.4 241.0H401.4V243.2H399.4ZM425.4 241.0H431.4V243.2H425.4ZM469.4 241.0H473.4V243.2H469.4ZM479.4 241.0H485.4V243.2H479.4ZM489.4 241.0H493.4V243.2H489.4ZM497.4 241.0H503.3V243.2H497.4ZM505.3 241.0H507.3V243.2H505.3ZM105.6 243.2H107.6V245.3H105.6ZM183.5 243.2H185.5V245.3H183.5ZM189.5 243.2H193.5V245.3H189.5ZM215.5 243.2H217.5V245.3H215.5ZM235.5 243.2H237.5V245.3H235.5ZM287.5 243.2H289.5V245.3H287.5ZM321.5 243.2H323.5V245.3H321.5ZM337.4 243.2H339.4V245.3H337.4ZM349.4 243.2H351.4V245.3H349.4ZM377.4 243.2H379.4V245.3H377.4ZM387.4 243.2H389.4V245.3H387.4ZM395.4 243.2H397.4V245.3H395.4ZM427.4 243.2H431.4V245.3H427.4ZM487.4 243.2H489.4V245.3H487.4ZM491.4 243.2H495.4V245.3H491.4ZM497.4 243.2H501.3V245.3H497.4ZM103.6 245.3H105.6V247.4H103.6ZM183.5 245.3H187.5V247.4H183.5ZM189.5 245.3H197.5V247.4H189.5ZM219.5 245.3H225.5V247.4H219.5ZM233.5 245.3H235.5V247.4H233.5ZM237.5 245.3H241.5V247.4H237.5ZM287.5 245.3H289.5V247.4H287.5ZM321.5 245.3H323.5V247.4H321.5ZM387.4 245.3H391.4V247.4H387.4ZM397.4 245.3H399.4V247.4H397.4ZM401.4 245.3H403.4V247.4H401.4ZM495.4 245.3H499.3V247.4H495.4ZM501.3 245.3H503.3V247.4H501.3ZM185.5 247.4H187.5V249.6H185.5ZM189.5 247.4H191.5V249.6H189.5ZM197.5 247.4H199.5V249.6H197.5ZM215.5 247.4H223.5V249.6H215.5ZM235.5 247.4H241.5V249.6H235.5ZM273.5 247.4H275.5V249.6H273.5ZM287.5 247.4H289.5V249.6H287.5ZM323.5 247.4H325.5V249.6H323.5ZM387.4 247.4H393.4V249.6H387.4ZM397.4 247.4H399.4V249.6H397.4ZM403.4 247.4H405.4V249.6H403.4ZM495.4 247.4H501.3V249.6H495.4Z" fill="#63fbc3" shape-rendering="crispEdges"/>
<path d="M515.3 198.0H517.3V200.2H515.3ZM541.3 198.0H547.3V200.2H541.3ZM555.3 198.0H557.3V200.2H555.3ZM561.3 198.0H563.3V200.2H561.3ZM577.3 198.0H579.3V200.2H577.3ZM515.3 200.2H519.3V202.3H515.3ZM523.3 200.2H525.3V202.3H523.3ZM539.3 200.2H541.3V202.3H539.3ZM545.3 200.2H547.3V202.3H545.3ZM549.3 200.2H551.3V202.3H549.3ZM553.3 200.2H555.3V202.3H553.3ZM565.3 200.2H567.3V202.3H565.3ZM569.3 200.2H571.3V202.3H569.3ZM575.3 200.2H581.3V202.3H575.3ZM515.3 202.3H517.3V204.4H515.3ZM519.3 202.3H527.3V204.4H519.3ZM529.3 202.3H535.3V204.4H529.3ZM541.3 202.3H545.3V204.4H541.3ZM559.3 202.3H561.3V204.4H559.3ZM563.3 202.3H567.3V204.4H563.3ZM579.3 202.3H581.3V204.4H579.3ZM511.3 204.4H515.3V206.6H511.3ZM517.3 204.4H535.3V206.6H517.3ZM539.3 204.4H543.3V206.6H539.3ZM547.3 204.4H549.3V206.6H547.3ZM553.3 204.4H559.3V206.6H553.3ZM561.3 204.4H571.3V206.6H561.3ZM573.3 204.4H577.3V206.6H573.3ZM511.3 206.6H513.3V208.8H511.3ZM517.3 206.6H519.3V208.8H517.3ZM531.3 206.6H533.3V208.8H531.3ZM537.3 206.6H539.3V208.8H537.3ZM547.3 206.6H549.3V208.8H547.3ZM553.3 206.6H555.3V208.8H553.3ZM567.3 206.6H573.3V208.8H567.3ZM575.3 206.6H577.3V208.8H575.3ZM247.5 208.8H251.5V210.9H247.5ZM255.5 208.8H257.5V210.9H255.5ZM511.3 208.8H513.3V210.9H511.3ZM519.3 208.8H521.3V210.9H519.3ZM529.3 208.8H533.3V210.9H529.3ZM537.3 208.8H539.3V210.9H537.3ZM575.3 208.8H577.3V210.9H575.3ZM247.5 210.9H253.5V213.1H247.5ZM257.5 210.9H263.5V213.1H257.5ZM291.5 210.9H293.5V213.1H291.5ZM347.4 210.9H349.4V213.1H347.4ZM567.3 210.9H571.3V213.1H567.3ZM247.5 213.1H253.5V215.2H247.5ZM257.5 213.1H259.5V215.2H257.5ZM277.5 213.1H279.5V215.2H277.5ZM291.5 213.1H293.5V215.2H291.5ZM301.5 213.1H305.5V215.2H301.5ZM313.5 213.1H315.5V215.2H313.5ZM321.5 213.1H323.5V215.2H321.5ZM509.3 213.1H511.3V215.2H509.3ZM249.5 215.2H251.5V217.3H249.5ZM257.5 215.2H261.5V217.3H257.5ZM263.5 215.2H265.5V217.3H263.5ZM279.5 215.2H281.5V217.3H279.5ZM291.5 215.2H293.5V217.3H291.5ZM301.5 215.2H305.5V217.3H301.5ZM321.5 215.2H325.5V217.3H321.5ZM509.3 215.2H511.3V217.3H509.3ZM245.5 217.3H251.5V219.5H245.5ZM257.5 217.3H259.5V219.5H257.5ZM279.5 217.3H281.5V219.5H279.5ZM303.5 217.3H305.5V219.5H303.5ZM311.5 217.3H313.5V219.5H311.5ZM315.5 217.3H317.5V219.5H315.5ZM321.5 217.3H325.5V219.5H321.5ZM347.4 217.3H349.4V219.5H347.4ZM243.5 219.5H245.5V221.7H243.5ZM249.5 219.5H255.5V221.7H249.5ZM257.5 219.5H259.5V221.7H257.5ZM279.5 219.5H281.5V221.7H279.5ZM289.5 219.5H291.5V221.7H289.5ZM293.5 219.5H295.5V221.7H293.5ZM315.5 219.5H317.5V221.7H315.5ZM323.5 219.5H325.5V221.7H323.5ZM327.5 219.5H329.5V221.7H327.5ZM347.4 219.5H351.4V221.7H347.4ZM359.4 219.5H361.4V221.7H359.4ZM379.4 219.5H381.4V221.7H379.4ZM509.3 219.5H511.3V221.7H509.3ZM245.5 221.7H249.5V223.8H245.5ZM251.5 221.7H253.5V223.8H251.5ZM261.5 221.7H263.5V223.8H261.5ZM277.5 221.7H281.5V223.8H277.5ZM293.5 221.7H295.5V223.8H293.5ZM315.5 221.7H317.5V223.8H315.5ZM327.5 221.7H329.5V223.8H327.5ZM343.4 221.7H345.4V223.8H343.4ZM359.4 221.7H361.4V223.8H359.4ZM363.4 221.7H365.4V223.8H363.4ZM379.4 221.7H383.4V223.8H379.4ZM509.3 221.7H511.3V223.8H509.3ZM245.5 223.8H257.5V225.9H245.5ZM259.5 223.8H263.5V225.9H259.5ZM265.5 223.8H267.5V225.9H265.5ZM311.5 223.8H313.5V225.9H311.5ZM323.5 223.8H325.5V225.9H323.5ZM343.4 223.8H345.4V225.9H343.4ZM349.4 223.8H351.4V225.9H349.4ZM359.4 223.8H361.4V225.9H359.4ZM381.4 223.8H383.4V225.9H381.4ZM509.3 223.8H511.3V225.9H509.3ZM247.5 225.9H249.5V228.1H247.5ZM251.5 225.9H253.5V228.1H251.5ZM255.5 225.9H257.5V228.1H255.5ZM259.5 225.9H263.5V228.1H259.5ZM267.5 225.9H269.5V228.1H267.5ZM279.5 225.9H281.5V228.1H279.5ZM295.5 225.9H297.5V228.1H295.5ZM311.5 225.9H313.5V228.1H311.5ZM323.5 225.9H325.5V228.1H323.5ZM349.4 225.9H351.4V228.1H349.4ZM357.4 225.9H359.4V228.1H357.4ZM509.3 225.9H511.3V228.1H509.3ZM245.5 228.1H247.5V230.2H245.5ZM249.5 228.1H255.5V230.2H249.5ZM259.5 228.1H261.5V230.2H259.5ZM281.5 228.1H283.5V230.2H281.5ZM307.5 228.1H309.5V230.2H307.5ZM317.5 228.1H319.5V230.2H317.5ZM325.5 228.1H327.5V230.2H325.5ZM341.4 228.1H343.4V230.2H341.4ZM351.4 228.1H353.4V230.2H351.4ZM389.4 228.1H391.4V230.2H389.4ZM509.3 228.1H511.3V230.2H509.3ZM245.5 230.2H251.5V232.4H245.5ZM253.5 230.2H255.5V232.4H253.5ZM257.5 230.2H261.5V232.4H257.5ZM263.5 230.2H265.5V232.4H263.5ZM281.5 230.2H283.5V232.4H281.5ZM297.5 230.2H299.5V232.4H297.5ZM311.5 230.2H313.5V232.4H311.5ZM325.5 230.2H327.5V232.4H325.5ZM329.5 230.2H331.4V232.4H329.5ZM349.4 230.2H353.4V232.4H349.4ZM357.4 230.2H359.4V232.4H357.4ZM365.4 230.2H369.4V232.4H365.4ZM165.5 232.4H169.5V234.6H165.5ZM249.5 232.4H251.5V234.6H249.5ZM253.5 232.4H259.5V234.6H253.5ZM345.4 232.4H347.4V234.6H345.4ZM349.4 232.4H353.4V234.6H349.4ZM383.4 232.4H385.4V234.6H383.4ZM509.3 232.4H511.3V234.6H509.3ZM165.5 234.6H167.5V236.7H165.5ZM249.5 234.6H257.5V236.7H249.5ZM265.5 234.6H267.5V236.7H265.5ZM351.4 234.6H353.4V236.7H351.4ZM363.4 234.6H365.4V236.7H363.4ZM367.4 234.6H369.4V236.7H367.4ZM373.4 234.6H375.4V236.7H373.4ZM509.3 234.6H511.3V236.7H509.3ZM165.5 236.7H169.5V238.8H165.5ZM243.5 236.7H249.5V238.8H243.5ZM251.5 236.7H259.5V238.8H251.5ZM285.5 236.7H287.5V238.8H285.5ZM299.5 236.7H301.5V238.8H299.5ZM319.5 236.7H321.5V238.8H319.5ZM333.4 236.7H335.4V238.8H333.4ZM347.4 236.7H349.4V238.8H347.4ZM351.4 236.7H353.4V238.8H351.4ZM385.4 236.7H387.4V238.8H385.4ZM499.3 236.7H501.3V238.8H499.3ZM165.5 238.8H167.5V241.0H165.5ZM241.5 238.8H245.5V241.0H241.5ZM247.5 238.8H249.5V241.0H247.5ZM251.5 238.8H255.5V241.0H251.5ZM285.5 238.8H287.5V241.0H285.5ZM299.5 238.8H301.5V241.0H299.5ZM309.5 238.8H311.5V241.0H309.5ZM319.5 238.8H321.5V241.0H319.5ZM347.4 238.8H349.4V241.0H347.4ZM351.4 238.8H353.4V241.0H351.4ZM365.4 238.8H367.4V241.0H365.4ZM385.4 238.8H387.4V241.0H385.4ZM393.4 238.8H395.4V241.0H393.4ZM427.4 238.8H429.4V241.0H427.4ZM495.4 238.8H497.4V241.0H495.4ZM507.3 238.8H511.3V241.0H507.3ZM167.5 241.0H169.5V243.2H167.5ZM185.5 241.0H187.5V243.2H185.5ZM189.5 241.0H191.5V243.2H189.5ZM257.5 241.0H259.5V243.2H257.5ZM269.5 241.0H273.5V243.2H269.5ZM275.5 241.0H277.5V243.2H275.5ZM285.5 241.0H287.5V243.2H285.5ZM335.4 241.0H337.4V243.2H335.4ZM347.4 241.0H349.4V243.2H347.4ZM351.4 241.0H355.4V243.2H351.4ZM375.4 241.0H377.4V243.2H375.4ZM385.4 241.0H389.4V243.2H385.4ZM393.4 241.0H395.4V243.2H393.4ZM487.4 241.0H489.4V243.2H487.4ZM493.4 241.0H497.4V243.2H493.4ZM503.3 241.0H505.3V243.2H503.3ZM507.3 241.0H509.3V243.2H507.3ZM185.5 243.2H189.5V245.3H185.5ZM239.5 243.2H249.5V245.3H239.5ZM251.5 243.2H253.5V245.3H251.5ZM271.5 243.2H275.5V245.3H271.5ZM285.5 243.2H287.5V245.3H285.5ZM319.5 243.2H321.5V245.3H319.5ZM335.4 243.2H337.4V245.3H335.4ZM351.4 243.2H355.4V245.3H351.4ZM481.4 243.2H485.4V245.3H481.4ZM489.4 243.2H491.4V245.3H489.4ZM501.3 243.2H505.3V245.3H501.3ZM507.3 243.2H509.3V245.3H507.3ZM241.5 245.3H243.5V247.4H241.5ZM245.5 245.3H247.5V247.4H245.5ZM251.5 245.3H253.5V247.4H251.5ZM271.5 245.3H277.5V247.4H271.5ZM337.4 245.3H339.4V247.4H337.4ZM349.4 245.3H355.4V247.4H349.4ZM377.4 245.3H379.4V247.4H377.4ZM385.4 245.3H387.4V247.4H385.4ZM395.4 245.3H397.4V247.4H395.4ZM491.4 245.3H495.4V247.4H491.4ZM499.3 245.3H501.3V247.4H499.3ZM503.3 245.3H505.3V247.4H503.3ZM183.5 247.4H185.5V249.6H183.5ZM187.5 247.4H189.5V249.6H187.5ZM191.5 247.4H195.5V249.6H191.5ZM255.5 247.4H257.5V249.6H255.5ZM275.5 247.4H277.5V249.6H275.5ZM337.4 247.4H339.4V249.6H337.4ZM349.4 247.4H355.4V249.6H349.4ZM385.4 247.4H387.4V249.6H385.4ZM501.3 247.4H503.3V249.6H501.3ZM553.3 247.4H555.3V249.6H553.3Z" fill="#9cfba4" shape-rendering="crispEdges"/>
<path d="M551.3 200.2H553.3V202.3H551.3ZM527.3 202.3H529.3V204.4H527.3ZM535.3 202.3H537.3V204.4H535.3ZM539.3 202.3H541.3V204.4H539.3ZM545.3 202.3H547.3V204.4H545.3ZM551.3 202.3H553.3V204.4H551.3ZM577.3 202.3H579.3V204.4H577.3ZM515.3 204.4H517.3V206.6H515.3ZM535.3 204.4H537.3V206.6H535.3ZM543.3 204.4H547.3V206.6H543.3ZM549.3 204.4H551.3V206.6H549.3ZM559.3 204.4H561.3V206.6H559.3ZM577.3 204.4H581.3V206.6H577.3ZM513.3 206.6H517.3V208.8H513.3ZM519.3 206.6H531.3V208.8H519.3ZM533.3 206.6H535.3V208.8H533.3ZM549.3 206.6H551.3V208.8H549.3ZM555.3 206.6H559.3V208.8H555.3ZM561.3 206.6H565.3V208.8H561.3ZM573.3 206.6H575.3V208.8H573.3ZM579.3 206.6H581.3V208.8H579.3ZM513.3 208.8H515.3V210.9H513.3ZM521.3 208.8H523.3V210.9H521.3ZM547.3 208.8H549.3V210.9H547.3ZM553.3 208.8H555.3V210.9H553.3ZM557.3 208.8H559.3V210.9H557.3ZM567.3 208.8H575.3V210.9H567.3ZM511.3 210.9H515.3V213.1H511.3ZM517.3 210.9H519.3V213.1H517.3ZM521.3 210.9H523.3V213.1H521.3ZM531.3 210.9H533.3V213.1H531.3ZM547.3 210.9H549.3V213.1H547.3ZM553.3 210.9H555.3V213.1H553.3ZM571.3 210.9H579.3V213.1H571.3ZM511.3 213.1H513.3V215.2H511.3ZM569.3 213.1H571.3V215.2H569.3ZM575.3 213.1H577.3V215.2H575.3ZM313.5 215.2H315.5V217.3H313.5ZM571.3 215.2H573.3V217.3H571.3ZM291.5 217.3H293.5V219.5H291.5ZM301.5 217.3H303.5V219.5H301.5ZM313.5 217.3H315.5V219.5H313.5ZM571.3 217.3H573.3V219.5H571.3ZM247.5 219.5H249.5V221.7H247.5ZM291.5 219.5H293.5V221.7H291.5ZM303.5 219.5H305.5V221.7H303.5ZM511.3 219.5H513.3V221.7H511.3ZM249.5 221.7H251.5V223.8H249.5ZM289.5 221.7H291.5V223.8H289.5ZM323.5 221.7H325.5V223.8H323.5ZM277.5 223.8H281.5V225.9H277.5ZM289.5 223.8H291.5V225.9H289.5ZM293.5 223.8H295.5V225.9H293.5ZM305.5 223.8H307.5V225.9H305.5ZM327.5 223.8H329.5V225.9H327.5ZM379.4 223.8H381.4V225.9H379.4ZM277.5 225.9H279.5V228.1H277.5ZM289.5 225.9H291.5V228.1H289.5ZM293.5 225.9H295.5V228.1H293.5ZM305.5 225.9H307.5V228.1H305.5ZM327.5 225.9H329.5V228.1H327.5ZM343.4 225.9H345.4V228.1H343.4ZM359.4 225.9H361.4V228.1H359.4ZM369.4 225.9H371.4V228.1H369.4ZM247.5 228.1H249.5V230.2H247.5ZM261.5 228.1H263.5V230.2H261.5ZM289.5 228.1H291.5V230.2H289.5ZM295.5 228.1H297.5V230.2H295.5ZM311.5 228.1H313.5V230.2H311.5ZM323.5 228.1H325.5V230.2H323.5ZM327.5 228.1H329.5V230.2H327.5ZM343.4 228.1H345.4V230.2H343.4ZM349.4 228.1H351.4V230.2H349.4ZM357.4 228.1H359.4V230.2H357.4ZM369.4 228.1H371.4V230.2H369.4ZM381.4 228.1H383.4V230.2H381.4ZM295.5 230.2H297.5V232.4H295.5ZM307.5 230.2H309.5V232.4H307.5ZM317.5 230.2H319.5V232.4H317.5ZM323.5 230.2H325.5V232.4H323.5ZM341.4 230.2H343.4V232.4H341.4ZM359.4 230.2H363.4V232.4H359.4ZM371.4 230.2H373.4V232.4H371.4ZM383.4 230.2H385.4V232.4H383.4ZM251.5 232.4H253.5V234.6H251.5ZM263.5 232.4H265.5V234.6H263.5ZM289.5 232.4H291.5V234.6H289.5ZM297.5 232.4H299.5V234.6H297.5ZM307.5 232.4H309.5V234.6H307.5ZM311.5 232.4H313.5V234.6H311.5ZM323.5 232.4H327.5V234.6H323.5ZM329.5 232.4H331.4V234.6H329.5ZM341.4 232.4H343.4V234.6H341.4ZM361.4 232.4H363.4V234.6H361.4ZM371.4 232.4H373.4V234.6H371.4ZM247.5 234.6H249.5V236.7H247.5ZM283.5 234.6H285.5V236.7H283.5ZM297.5 234.6H299.5V236.7H297.5ZM307.5 234.6H309.5V236.7H307.5ZM311.5 234.6H313.5V236.7H311.5ZM323.5 234.6H327.5V236.7H323.5ZM331.4 234.6H333.4V236.7H331.4ZM341.4 234.6H343.4V236.7H341.4ZM383.4 234.6H385.4V236.7H383.4ZM249.5 236.7H251.5V238.8H249.5ZM297.5 236.7H299.5V238.8H297.5ZM307.5 236.7H309.5V238.8H307.5ZM311.5 236.7H313.5V238.8H311.5ZM345.4 236.7H347.4V238.8H345.4ZM367.4 236.7H369.4V238.8H367.4ZM373.4 236.7H375.4V238.8H373.4ZM509.3 236.7H511.3V238.8H509.3ZM245.5 238.8H247.5V241.0H245.5ZM249.5 238.8H251.5V241.0H249.5ZM255.5 238.8H259.5V241.0H255.5ZM267.5 238.8H269.5V241.0H267.5ZM289.5 238.8H291.5V241.0H289.5ZM311.5 238.8H313.5V241.0H311.5ZM333.4 238.8H335.4V241.0H333.4ZM367.4 238.8H369.4V241.0H367.4ZM375.4 238.8H377.4V241.0H375.4ZM243.5 241.0H257.5V243.2H243.5ZM267.5 241.0H269.5V243.2H267.5ZM299.5 241.0H301.5V243.2H299.5ZM309.5 241.0H311.5V243.2H309.5ZM319.5 241.0H321.5V243.2H319.5ZM323.5 241.0H325.5V243.2H323.5ZM365.4 241.0H367.4V243.2H365.4ZM509.3 241.0H511.3V243.2H509.3ZM253.5 243.2H259.5V245.3H253.5ZM269.5 243.2H271.5V245.3H269.5ZM275.5 243.2H277.5V245.3H275.5ZM299.5 243.2H301.5V245.3H299.5ZM309.5 243.2H313.5V245.3H309.5ZM323.5 243.2H325.5V245.3H323.5ZM365.4 243.2H369.4V245.3H365.4ZM375.4 243.2H377.4V245.3H375.4ZM385.4 243.2H387.4V245.3H385.4ZM485.4 243.2H487.4V245.3H485.4ZM505.3 243.2H507.3V245.3H505.3ZM557.3 243.2H559.3V245.3H557.3ZM187.5 245.3H189.5V247.4H187.5ZM247.5 245.3H251.5V247.4H247.5ZM253.5 245.3H259.5V247.4H253.5ZM289.5 245.3H291.5V247.4H289.5ZM309.5 245.3H311.5V247.4H309.5ZM319.5 245.3H321.5V247.4H319.5ZM335.4 245.3H337.4V247.4H335.4ZM367.4 245.3H369.4V247.4H367.4ZM487.4 245.3H491.4V247.4H487.4ZM505.3 245.3H511.3V247.4H505.3ZM553.3 245.3H559.3V247.4H553.3ZM241.5 247.4H243.5V249.6H241.5ZM245.5 247.4H253.5V249.6H245.5ZM257.5 247.4H259.5V249.6H257.5ZM271.5 247.4H273.5V249.6H271.5ZM289.5 247.4H291.5V249.6H289.5ZM311.5 247.4H313.5V249.6H311.5ZM319.5 247.4H321.5V249.6H319.5ZM367.4 247.4H369.4V249.6H367.4ZM377.4 247.4H379.4V249.6H377.4ZM493.4 247.4H495.4V249.6H493.4ZM503.3 247.4H507.3V249.6H503.3ZM551.3 247.4H553.3V249.6H551.3ZM555.3 247.4H563.3V249.6H555.3Z" fill="#d4dd80" shape-rendering="crispEdges"/>
<path d="M551.3 204.4H553.3V206.6H551.3ZM535.3 206.6H537.3V208.8H535.3ZM539.3 206.6H547.3V208.8H539.3ZM559.3 206.6H561.3V208.8H559.3ZM565.3 206.6H567.3V208.8H565.3ZM577.3 206.6H579.3V208.8H577.3ZM253.5 208.8H255.5V210.9H253.5ZM515.3 208.8H519.3V210.9H515.3ZM525.3 208.8H529.3V210.9H525.3ZM533.3 208.8H537.3V210.9H533.3ZM555.3 208.8H557.3V210.9H555.3ZM559.3 208.8H567.3V210.9H559.3ZM253.5 210.9H257.5V213.1H253.5ZM519.3 210.9H521.3V213.1H519.3ZM525.3 210.9H527.3V213.1H525.3ZM529.3 210.9H531.3V213.1H529.3ZM533.3 210.9H535.3V213.1H533.3ZM537.3 210.9H539.3V213.1H537.3ZM555.3 210.9H559.3V213.1H555.3ZM561.3 210.9H565.3V213.1H561.3ZM579.3 210.9H581.3V213.1H579.3ZM253.5 213.1H257.5V215.2H253.5ZM513.3 213.1H515.3V215.2H513.3ZM521.3 213.1H523.3V215.2H521.3ZM531.3 213.1H533.3V215.2H531.3ZM553.3 213.1H555.3V215.2H553.3ZM561.3 213.1H563.3V215.2H561.3ZM567.3 213.1H569.3V215.2H567.3ZM571.3 213.1H575.3V215.2H571.3ZM579.3 213.1H581.3V215.2H579.3ZM255.5 215.2H257.5V217.3H255.5ZM511.3 215.2H515.3V217.3H511.3ZM567.3 215.2H571.3V217.3H567.3ZM573.3 215.2H579.3V217.3H573.3ZM255.5 217.3H257.5V219.5H255.5ZM511.3 217.3H513.3V219.5H511.3ZM567.3 217.3H571.3V219.5H567.3ZM575.3 217.3H581.3V219.5H575.3ZM313.5 219.5H315.5V221.7H313.5ZM573.3 219.5H579.3V221.7H573.3ZM291.5 221.7H293.5V223.8H291.5ZM303.5 221.7H305.5V223.8H303.5ZM511.3 221.7H513.3V223.8H511.3ZM571.3 221.7H577.3V223.8H571.3ZM579.3 221.7H581.3V223.8H579.3ZM291.5 223.8H293.5V225.9H291.5ZM301.5 223.8H303.5V225.9H301.5ZM315.5 223.8H317.5V225.9H315.5ZM511.3 223.8H513.3V225.9H511.3ZM573.3 223.8H577.3V225.9H573.3ZM313.5 225.9H317.5V228.1H313.5ZM379.4 225.9H383.4V228.1H379.4ZM511.3 225.9H513.3V228.1H511.3ZM277.5 228.1H281.5V230.2H277.5ZM293.5 228.1H295.5V230.2H293.5ZM305.5 228.1H307.5V230.2H305.5ZM315.5 228.1H317.5V230.2H315.5ZM359.4 228.1H361.4V230.2H359.4ZM511.3 228.1H513.3V230.2H511.3ZM261.5 230.2H263.5V232.4H261.5ZM277.5 230.2H279.5V232.4H277.5ZM289.5 230.2H291.5V232.4H289.5ZM327.5 230.2H329.5V232.4H327.5ZM343.4 230.2H345.4V232.4H343.4ZM369.4 230.2H371.4V232.4H369.4ZM511.3 230.2H513.3V232.4H511.3ZM259.5 232.4H263.5V234.6H259.5ZM281.5 232.4H283.5V234.6H281.5ZM295.5 232.4H297.5V234.6H295.5ZM317.5 232.4H319.5V234.6H317.5ZM327.5 232.4H329.5V234.6H327.5ZM343.4 232.4H345.4V234.6H343.4ZM357.4 232.4H361.4V234.6H357.4ZM379.4 232.4H381.4V234.6H379.4ZM511.3 232.4H515.3V234.6H511.3ZM259.5 234.6H261.5V236.7H259.5ZM317.5 234.6H319.5V236.7H317.5ZM327.5 234.6H329.5V236.7H327.5ZM345.4 234.6H347.4V236.7H345.4ZM357.4 234.6H363.4V236.7H357.4ZM371.4 234.6H373.4V236.7H371.4ZM511.3 234.6H513.3V236.7H511.3ZM259.5 236.7H261.5V238.8H259.5ZM265.5 236.7H267.5V238.8H265.5ZM283.5 236.7H285.5V238.8H283.5ZM289.5 236.7H291.5V238.8H289.5ZM317.5 236.7H319.5V238.8H317.5ZM323.5 236.7H327.5V238.8H323.5ZM331.4 236.7H333.4V238.8H331.4ZM341.4 236.7H343.4V238.8H341.4ZM363.4 236.7H365.4V238.8H363.4ZM383.4 236.7H385.4V238.8H383.4ZM511.3 236.7H513.3V238.8H511.3ZM259.5 238.8H261.5V241.0H259.5ZM283.5 238.8H285.5V241.0H283.5ZM297.5 238.8H299.5V241.0H297.5ZM317.5 238.8H319.5V241.0H317.5ZM323.5 238.8H325.5V241.0H323.5ZM357.4 238.8H359.4V241.0H357.4ZM373.4 238.8H375.4V241.0H373.4ZM383.4 238.8H385.4V241.0H383.4ZM511.3 238.8H513.3V241.0H511.3ZM289.5 241.0H291.5V243.2H289.5ZM307.5 241.0H309.5V243.2H307.5ZM311.5 241.0H313.5V243.2H311.5ZM317.5 241.0H319.5V243.2H317.5ZM333.4 241.0H335.4V243.2H333.4ZM357.4 241.0H359.4V243.2H357.4ZM367.4 241.0H369.4V243.2H367.4ZM383.4 241.0H385.4V243.2H383.4ZM511.3 241.0H513.3V243.2H511.3ZM551.3 241.0H553.3V243.2H551.3ZM557.3 241.0H559.3V243.2H557.3ZM249.5 243.2H251.5V245.3H249.5ZM267.5 243.2H269.5V245.3H267.5ZM283.5 243.2H285.5V245.3H283.5ZM289.5 243.2H291.5V245.3H289.5ZM341.4 243.2H343.4V245.3H341.4ZM347.4 243.2H349.4V245.3H347.4ZM383.4 243.2H385.4V245.3H383.4ZM509.3 243.2H511.3V245.3H509.3ZM551.3 243.2H557.3V245.3H551.3ZM559.3 243.2H561.3V245.3H559.3ZM243.5 245.3H245.5V247.4H243.5ZM269.5 245.3H271.5V247.4H269.5ZM285.5 245.3H287.5V247.4H285.5ZM299.5 245.3H301.5V247.4H299.5ZM311.5 245.3H313.5V247.4H311.5ZM323.5 245.3H325.5V247.4H323.5ZM341.4 245.3H343.4V247.4H341.4ZM347.4 245.3H349.4V247.4H347.4ZM375.4 245.3H377.4V247.4H375.4ZM423.4 245.3H431.4V247.4H423.4ZM435.4 245.3H441.4V247.4H435.4ZM445.4 245.3H459.4V247.4H445.4ZM463.4 245.3H467.4V247.4H463.4ZM469.4 245.3H471.4V247.4H469.4ZM481.4 245.3H487.4V247.4H481.4ZM549.3 245.3H553.3V247.4H549.3ZM559.3 245.3H565.3V247.4H559.3ZM243.5 247.4H245.5V249.6H243.5ZM253.5 247.4H255.5V249.6H253.5ZM277.5 247.4H279.5V249.6H277.5ZM285.5 247.4H287.5V249.6H285.5ZM309.5 247.4H311.5V249.6H309.5ZM335.4 247.4H337.4V249.6H335.4ZM341.4 247.4H343.4V249.6H341.4ZM357.4 247.4H359.4V249.6H357.4ZM507.3 247.4H509.3V249.6H507.3ZM549.3 247.4H551.3V249.6H549.3Z" fill="#ffa457" shape-rendering="crispEdges"/>
<path d="M551.3 206.6H553.3V208.8H551.3ZM523.3 208.8H525.3V210.9H523.3ZM539.3 208.8H547.3V210.9H539.3ZM549.3 208.8H553.3V210.9H549.3ZM577.3 208.8H581.3V210.9H577.3ZM515.3 210.9H517.3V213.1H515.3ZM523.3 210.9H525.3V213.1H523.3ZM527.3 210.9H529.3V213.1H527.3ZM535.3 210.9H537.3V213.1H535.3ZM539.3 210.9H543.3V213.1H539.3ZM545.3 210.9H547.3V213.1H545.3ZM551.3 210.9H553.3V213.1H551.3ZM559.3 210.9H561.3V213.1H559.3ZM565.3 210.9H567.3V213.1H565.3ZM515.3 213.1H521.3V215.2H515.3ZM529.3 213.1H531.3V215.2H529.3ZM537.3 213.1H539.3V215.2H537.3ZM547.3 213.1H551.3V215.2H547.3ZM555.3 213.1H561.3V215.2H555.3ZM563.3 213.1H567.3V215.2H563.3ZM577.3 213.1H579.3V215.2H577.3ZM519.3 215.2H523.3V217.3H519.3ZM529.3 215.2H531.3V217.3H529.3ZM537.3 215.2H539.3V217.3H537.3ZM553.3 215.2H555.3V217.3H553.3ZM557.3 215.2H559.3V217.3H557.3ZM579.3 215.2H581.3V217.3H579.3ZM253.5 217.3H255.5V219.5H253.5ZM513.3 217.3H517.3V219.5H513.3ZM547.3 217.3H549.3V219.5H547.3ZM553.3 217.3H555.3V219.5H553.3ZM573.3 217.3H575.3V219.5H573.3ZM301.5 219.5H303.5V221.7H301.5ZM513.3 219.5H517.3V221.7H513.3ZM567.3 219.5H573.3V221.7H567.3ZM579.3 219.5H581.3V221.7H579.3ZM301.5 221.7H303.5V223.8H301.5ZM313.5 221.7H315.5V223.8H313.5ZM513.3 221.7H515.3V223.8H513.3ZM569.3 221.7H571.3V223.8H569.3ZM577.3 221.7H579.3V223.8H577.3ZM303.5 223.8H305.5V225.9H303.5ZM313.5 223.8H315.5V225.9H313.5ZM571.3 223.8H573.3V225.9H571.3ZM579.3 223.8H581.3V225.9H579.3ZM291.5 225.9H293.5V228.1H291.5ZM301.5 225.9H305.5V228.1H301.5ZM575.3 225.9H577.3V228.1H575.3ZM291.5 228.1H293.5V230.2H291.5ZM301.5 228.1H305.5V230.2H301.5ZM313.5 228.1H315.5V230.2H313.5ZM379.4 228.1H381.4V230.2H379.4ZM513.3 228.1H515.3V230.2H513.3ZM575.3 228.1H577.3V230.2H575.3ZM279.5 230.2H281.5V232.4H279.5ZM291.5 230.2H295.5V232.4H291.5ZM305.5 230.2H307.5V232.4H305.5ZM315.5 230.2H317.5V232.4H315.5ZM379.4 230.2H383.4V232.4H379.4ZM575.3 230.2H577.3V232.4H575.3ZM277.5 232.4H281.5V234.6H277.5ZM369.4 232.4H371.4V234.6H369.4ZM381.4 232.4H383.4V234.6H381.4ZM261.5 234.6H265.5V236.7H261.5ZM279.5 234.6H283.5V236.7H279.5ZM289.5 234.6H291.5V236.7H289.5ZM295.5 234.6H297.5V236.7H295.5ZM329.5 234.6H331.4V236.7H329.5ZM343.4 234.6H345.4V236.7H343.4ZM369.4 234.6H371.4V236.7H369.4ZM381.4 234.6H383.4V236.7H381.4ZM513.3 234.6H517.3V236.7H513.3ZM343.4 236.7H345.4V238.8H343.4ZM357.4 236.7H359.4V238.8H357.4ZM369.4 236.7H371.4V238.8H369.4ZM381.4 236.7H383.4V238.8H381.4ZM265.5 238.8H267.5V241.0H265.5ZM307.5 238.8H309.5V241.0H307.5ZM325.5 238.8H327.5V241.0H325.5ZM331.4 238.8H333.4V241.0H331.4ZM341.4 238.8H347.4V241.0H341.4ZM363.4 238.8H365.4V241.0H363.4ZM381.4 238.8H383.4V241.0H381.4ZM513.3 238.8H515.3V241.0H513.3ZM259.5 241.0H261.5V243.2H259.5ZM283.5 241.0H285.5V243.2H283.5ZM297.5 241.0H299.5V243.2H297.5ZM325.5 241.0H327.5V243.2H325.5ZM341.4 241.0H343.4V243.2H341.4ZM345.4 241.0H347.4V243.2H345.4ZM363.4 241.0H365.4V243.2H363.4ZM515.3 241.0H517.3V243.2H515.3ZM549.3 241.0H551.3V243.2H549.3ZM553.3 241.0H557.3V243.2H553.3ZM559.3 241.0H565.3V243.2H559.3ZM259.5 243.2H261.5V245.3H259.5ZM277.5 243.2H279.5V245.3H277.5ZM297.5 243.2H299.5V245.3H297.5ZM307.5 243.2H309.5V245.3H307.5ZM317.5 243.2H319.5V245.3H317.5ZM333.4 243.2H335.4V245.3H333.4ZM345.4 243.2H347.4V245.3H345.4ZM357.4 243.2H359.4V245.3H357.4ZM379.4 243.2H381.4V245.3H379.4ZM471.4 243.2H481.4V245.3H471.4ZM511.3 243.2H513.3V245.3H511.3ZM549.3 243.2H551.3V245.3H549.3ZM561.3 243.2H567.3V245.3H561.3ZM165.5 245.3H167.5V247.4H165.5ZM259.5 245.3H261.5V247.4H259.5ZM277.5 245.3H279.5V247.4H277.5ZM317.5 245.3H319.5V247.4H317.5ZM357.4 245.3H359.4V247.4H357.4ZM365.4 245.3H367.4V247.4H365.4ZM379.4 245.3H385.4V247.4H379.4ZM431.4 245.3H435.4V247.4H431.4ZM441.4 245.3H445.4V247.4H441.4ZM459.4 245.3H463.4V247.4H459.4ZM467.4 245.3H469.4V247.4H467.4ZM471.4 245.3H475.4V247.4H471.4ZM477.4 245.3H479.4V247.4H477.4ZM511.3 245.3H513.3V247.4H511.3ZM565.3 245.3H567.3V247.4H565.3ZM165.5 247.4H169.5V249.6H165.5ZM259.5 247.4H261.5V249.6H259.5ZM269.5 247.4H271.5V249.6H269.5ZM299.5 247.4H301.5V249.6H299.5ZM317.5 247.4H319.5V249.6H317.5ZM347.4 247.4H349.4V249.6H347.4ZM365.4 247.4H367.4V249.6H365.4ZM375.4 247.4H377.4V249.6H375.4ZM481.4 247.4H483.4V249.6H481.4ZM485.4 247.4H487.4V249.6H485.4ZM489.4 247.4H491.4V249.6H489.4ZM509.3 247.4H515.3V249.6H509.3ZM563.3 247.4H569.3V249.6H563.3Z" fill="#ff572c" shape-rendering="crispEdges"/>
<path d="M543.3 210.9H545.3V213.1H543.3ZM549.3 210.9H551.3V213.1H549.3ZM523.3 213.1H529.3V215.2H523.3ZM533.3 213.1H537.3V215.2H533.3ZM539.3 213.1H547.3V215.2H539.3ZM551.3 213.1H553.3V215.2H551.3ZM253.5 215.2H255.5V217.3H253.5ZM515.3 215.2H519.3V217.3H515.3ZM523.3 215.2H529.3V217.3H523.3ZM531.3 215.2H537.3V217.3H531.3ZM539.3 215.2H553.3V217.3H539.3ZM555.3 215.2H557.3V217.3H555.3ZM559.3 215.2H567.3V217.3H559.3ZM517.3 217.3H547.3V219.5H517.3ZM549.3 217.3H553.3V219.5H549.3ZM555.3 217.3H567.3V219.5H555.3ZM255.5 219.5H257.5V221.7H255.5ZM517.3 219.5H567.3V221.7H517.3ZM255.5 221.7H257.5V223.8H255.5ZM515.3 221.7H569.3V223.8H515.3ZM513.3 223.8H571.3V225.9H513.3ZM577.3 223.8H579.3V225.9H577.3ZM513.3 225.9H575.3V228.1H513.3ZM577.3 225.9H581.3V228.1H577.3ZM515.3 228.1H575.3V230.2H515.3ZM577.3 228.1H581.3V230.2H577.3ZM301.5 230.2H305.5V232.4H301.5ZM313.5 230.2H315.5V232.4H313.5ZM513.3 230.2H575.3V232.4H513.3ZM577.3 230.2H581.3V232.4H577.3ZM291.5 232.4H295.5V234.6H291.5ZM301.5 232.4H307.5V234.6H301.5ZM313.5 232.4H317.5V234.6H313.5ZM515.3 232.4H581.3V234.6H515.3ZM277.5 234.6H279.5V236.7H277.5ZM291.5 234.6H295.5V236.7H291.5ZM301.5 234.6H307.5V236.7H301.5ZM313.5 234.6H317.5V236.7H313.5ZM379.4 234.6H381.4V236.7H379.4ZM517.3 234.6H581.3V236.7H517.3ZM261.5 236.7H265.5V238.8H261.5ZM277.5 236.7H283.5V238.8H277.5ZM291.5 236.7H297.5V238.8H291.5ZM301.5 236.7H307.5V238.8H301.5ZM313.5 236.7H317.5V238.8H313.5ZM327.5 236.7H331.4V238.8H327.5ZM359.4 236.7H363.4V238.8H359.4ZM371.4 236.7H373.4V238.8H371.4ZM379.4 236.7H381.4V238.8H379.4ZM513.3 236.7H581.3V238.8H513.3ZM261.5 238.8H265.5V241.0H261.5ZM277.5 238.8H283.5V241.0H277.5ZM291.5 238.8H297.5V241.0H291.5ZM301.5 238.8H307.5V241.0H301.5ZM313.5 238.8H317.5V241.0H313.5ZM327.5 238.8H331.4V241.0H327.5ZM359.4 238.8H363.4V241.0H359.4ZM369.4 238.8H373.4V241.0H369.4ZM379.4 238.8H381.4V241.0H379.4ZM515.3 238.8H581.3V241.0H515.3ZM261.5 241.0H267.5V243.2H261.5ZM277.5 241.0H283.5V243.2H277.5ZM291.5 241.0H297.5V243.2H291.5ZM301.5 241.0H307.5V243.2H301.5ZM313.5 241.0H317.5V243.2H313.5ZM327.5 241.0H333.4V243.2H327.5ZM343.4 241.0H345.4V243.2H343.4ZM359.4 241.0H363.4V243.2H359.4ZM369.4 241.0H375.4V243.2H369.4ZM379.4 241.0H383.4V243.2H379.4ZM513.3 241.0H515.3V243.2H513.3ZM517.3 241.0H549.3V243.2H517.3ZM565.3 241.0H581.3V243.2H565.3ZM165.5 243.2H169.5V245.3H165.5ZM261.5 243.2H267.5V245.3H261.5ZM279.5 243.2H283.5V245.3H279.5ZM291.5 243.2H297.5V245.3H291.5ZM301.5 243.2H307.5V245.3H301.5ZM313.5 243.2H317.5V245.3H313.5ZM325.5 243.2H333.4V245.3H325.5ZM343.4 243.2H345.4V245.3H343.4ZM359.4 243.2H365.4V245.3H359.4ZM369.4 243.2H375.4V245.3H369.4ZM381.4 243.2H383.4V245.3H381.4ZM469.4 243.2H471.4V245.3H469.4ZM513.3 243.2H549.3V245.3H513.3ZM567.3 243.2H581.3V245.3H567.3ZM167.5 245.3H169.5V247.4H167.5ZM261.5 245.3H269.5V247.4H261.5ZM279.5 245.3H285.5V247.4H279.5ZM291.5 245.3H299.5V247.4H291.5ZM301.5 245.3H309.5V247.4H301.5ZM313.5 245.3H317.5V247.4H313.5ZM325.5 245.3H335.4V247.4H325.5ZM343.4 245.3H347.4V247.4H343.4ZM359.4 245.3H365.4V247.4H359.4ZM369.4 245.3H375.4V247.4H369.4ZM475.4 245.3H477.4V247.4H475.4ZM479.4 245.3H481.4V247.4H479.4ZM513.3 245.3H549.3V247.4H513.3ZM567.3 245.3H581.3V247.4H567.3ZM261.5 247.4H269.5V249.6H261.5ZM279.5 247.4H285.5V249.6H279.5ZM291.5 247.4H299.5V249.6H291.5ZM301.5 247.4H309.5V249.6H301.5ZM313.5 247.4H317.5V249.6H313.5ZM325.5 247.4H335.4V249.6H325.5ZM343.4 247.4H347.4V249.6H343.4ZM359.4 247.4H365.4V249.6H359.4ZM369.4 247.4H375.4V249.6H369.4ZM379.4 247.4H385.4V249.6H379.4ZM423.4 247.4H481.4V249.6H423.4ZM483.4 247.4H485.4V249.6H483.4ZM487.4 247.4H489.4V249.6H487.4ZM491.4 247.4H493.4V249.6H491.4ZM515.3 247.4H549.3V249.6H515.3ZM569.3 247.4H581.3V249.6H569.3Z" fill="#ff0000" shape-rendering="crispEdges"/>
<rect x="142.6" y="223.5" width="1.3" height="1.6" fill="#e8d8ff"/>
<rect x="86.7" y="214.4" width="1.3" height="1.6" fill="#e8d8ff"/>
<rect x="172.7" y="220.4" width="1.3" height="1.6" fill="#e8d8ff"/>
<rect x="168.7" y="202.7" width="1.3" height="1.6" fill="#e8d8ff"/>
<rect x="128.1" y="207.1" width="1.3" height="1.6" fill="#e8d8ff"/>
<rect x="135.1" y="217.9" width="1.3" height="1.6" fill="#e8d8ff"/>
<rect x="85.2" y="206.2" width="1.3" height="1.6" fill="#e8d8ff"/>
<rect x="110.3" y="229.2" width="1.3" height="1.6" fill="#e8d8ff"/>
<rect x="156.0" y="204.3" width="1.3" height="1.6" fill="#e8d8ff"/>
<rect x="158.9" y="203.6" width="1.3" height="1.6" fill="#e8d8ff"/>
<rect x="142.0" y="203.2" width="1.3" height="1.6" fill="#e8d8ff"/>
<rect x="84.2" y="227.8" width="1.3" height="1.6" fill="#e8d8ff"/>
<rect x="103.7" y="206.1" width="1.3" height="1.6" fill="#e8d8ff"/>
<rect x="111.2" y="230.7" width="1.3" height="1.6" fill="#e8d8ff"/>
<rect x="134.7" y="221.4" width="1.3" height="1.6" fill="#e8d8ff"/>
<rect x="103.2" y="230.1" width="1.3" height="1.6" fill="#e8d8ff"/>
<rect x="168.0" y="208.9" width="1.3" height="1.6" fill="#e8d8ff"/>
<rect x="118.0" y="204.5" width="1.3" height="1.6" fill="#e8d8ff"/>
<rect x="97.7" y="201.1" width="1.3" height="1.6" fill="#e8d8ff"/>
<rect x="112.3" y="218.9" width="1.3" height="1.6" fill="#e8d8ff"/>
<rect x="84.3" y="221.4" width="1.3" height="1.6" fill="#e8d8ff"/>
<rect x="115.8" y="209.2" width="1.3" height="1.6" fill="#e8d8ff"/>
<rect x="160.9" y="214.9" width="1.3" height="1.6" fill="#e8d8ff"/>
<rect x="113.7" y="214.9" width="1.3" height="1.6" fill="#e8d8ff"/>
<rect x="150.2" y="200.9" width="1.3" height="1.6" fill="#e8d8ff"/>
<rect x="175.7" y="199.8" width="1.3" height="1.6" fill="#e8d8ff"/>
<rect x="85.7" y="225.0" width="1.3" height="1.6" fill="#e8d8ff"/>
<rect x="118.4" y="218.1" width="1.3" height="1.6" fill="#e8d8ff"/>
<rect x="84.9" y="200.5" width="1.3" height="1.6" fill="#e8d8ff"/>
<path d="M182.1 705.2L182.1 840.6M189.9 705.2L189.9 840.6M196.5 705.2L196.5 840.6M202.4 705.2L202.4 840.6" fill="none" stroke="#e0e0e0" stroke-width="0.65"/>
<path d="M207.7 705.2L207.7 840.6" fill="none" stroke="#d4d4d4" stroke-width="0.65"/>
<path d="M242.4 705.2L242.4 840.6M262.7 705.2L262.7 840.6M277.1 705.2L277.1 840.6M288.2 705.2L288.2 840.6M297.3 705.2L297.3 840.6M305.1 705.2L305.1 840.6M311.7 705.2L311.7 840.6M317.6 705.2L317.6 840.6" fill="none" stroke="#e0e0e0" stroke-width="0.65"/>
<path d="M322.9 705.2L322.9 840.6" fill="none" stroke="#d4d4d4" stroke-width="0.65"/>
<path d="M357.6 705.2L357.6 840.6M377.9 705.2L377.9 840.6M392.3 705.2L392.3 840.6M403.4 705.2L403.4 840.6M412.5 705.2L412.5 840.6M420.3 705.2L420.3 840.6M426.9 705.2L426.9 840.6M181.3 838.3L432.3 838.3M181.3 835.9L432.3 835.9M181.3 833.8L432.3 833.8M181.3 832L432.3 832M181.3 830.4L432.3 830.4" fill="none" stroke="#e0e0e0" stroke-width="0.65"/>
<path d="M181.3 829L432.3 829" fill="none" stroke="#d4d4d4" stroke-width="0.65"/>
<path d="M181.3 819.7L432.3 819.7M181.3 814.3L432.3 814.3M181.3 810.4L432.3 810.4M181.3 807.4L432.3 807.4M181.3 805L432.3 805M181.3 802.9L432.3 802.9M181.3 801.1L432.3 801.1M181.3 799.5L432.3 799.5" fill="none" stroke="#e0e0e0" stroke-width="0.65"/>
<path d="M181.3 798.1L432.3 798.1" fill="none" stroke="#d4d4d4" stroke-width="0.65"/>
<path d="M181.3 788.8L432.3 788.8M181.3 783.4L432.3 783.4M181.3 779.5L432.3 779.5M181.3 776.5L432.3 776.5M181.3 774.1L432.3 774.1M181.3 772L432.3 772M181.3 770.2L432.3 770.2M181.3 768.6L432.3 768.6" fill="none" stroke="#e0e0e0" stroke-width="0.65"/>
<path d="M181.3 767.2L432.3 767.2" fill="none" stroke="#d4d4d4" stroke-width="0.65"/>
<path d="M181.3 757.9L432.3 757.9M181.3 752.5L432.3 752.5M181.3 748.6L432.3 748.6M181.3 745.6L432.3 745.6M181.3 743.2L432.3 743.2M181.3 741.1L432.3 741.1M181.3 739.3L432.3 739.3M181.3 737.7L432.3 737.7" fill="none" stroke="#e0e0e0" stroke-width="0.65"/>
<path d="M181.3 736.3L432.3 736.3" fill="none" stroke="#d4d4d4" stroke-width="0.65"/>
<path d="M181.3 727L432.3 727M181.3 721.6L432.3 721.6M181.3 717.7L432.3 717.7M181.3 714.7L432.3 714.7M181.3 712.3L432.3 712.3M181.3 710.2L432.3 710.2M181.3 708.4L432.3 708.4M181.3 706.8L432.3 706.8" fill="none" stroke="#e0e0e0" stroke-width="0.65"/>
<path d="M181.3 705.4L432.3 705.4" fill="none" stroke="#d4d4d4" stroke-width="0.65"/>
<path d="M235.4 730.7H240.1V735.5H235.4ZM240.1 730.7H244.2V735.5H240.1ZM215.0 735.5H220.1V740.3H215.0ZM190.3 740.3H197.6V745.0H190.3ZM203.6 740.3H209.3V745.0H203.6ZM244.2 745.0H248.3V749.8H244.2ZM248.3 745.0H252.1V749.8H248.3ZM190.3 749.8H197.6V754.6H190.3ZM240.1 749.8H244.2V754.6H240.1ZM244.2 749.8H248.3V754.6H244.2ZM244.2 754.6H248.3V759.4H244.2ZM248.3 754.6H252.1V759.4H248.3ZM197.6 759.4H203.6V764.2H197.6ZM215.0 759.4H220.1V764.2H215.0ZM220.1 759.4H225.2V764.2H220.1ZM252.1 759.4H255.9V764.2H252.1ZM197.6 764.2H203.6V768.9H197.6ZM209.3 764.2H215.0V768.9H209.3ZM235.4 764.2H240.1V768.9H235.4ZM240.1 764.2H244.2V768.9H240.1ZM197.6 768.9H203.6V773.7H197.6ZM230.1 768.9H235.4V773.7H230.1ZM235.4 768.9H240.1V773.7H235.4ZM244.2 768.9H248.3V773.7H244.2ZM215.0 773.7H220.1V778.5H215.0ZM252.1 773.7H255.9V778.5H252.1ZM190.3 778.5H197.6V783.3H190.3ZM209.3 778.5H215.0V783.3H209.3ZM197.6 783.3H203.6V788.1H197.6ZM244.2 783.3H248.3V788.1H244.2ZM248.3 783.3H252.1V788.1H248.3ZM197.6 788.1H203.6V792.8H197.6ZM244.2 788.1H248.3V792.8H244.2ZM248.3 788.1H252.1V792.8H248.3ZM252.1 788.1H255.9V792.8H252.1ZM255.9 792.8H259.6V797.6H255.9ZM215.0 797.6H220.1V802.4H215.0ZM255.9 797.6H259.6V802.4H255.9ZM220.1 802.4H225.2V807.2H220.1ZM225.2 802.4H230.1V807.2H225.2ZM255.9 802.4H259.6V807.2H255.9ZM220.1 807.2H225.2V812.0H220.1ZM235.4 807.2H240.1V812.0H235.4ZM252.1 807.2H255.9V812.0H252.1ZM190.3 812.0H197.6V816.7H190.3ZM225.2 812.0H230.1V816.7H225.2ZM248.3 812.0H252.1V816.7H248.3ZM190.3 816.7H197.6V821.5H190.3ZM244.2 816.7H248.3V821.5H244.2ZM248.3 816.7H252.1V821.5H248.3ZM255.9 816.7H259.6V821.5H255.9ZM356.0 749.8H360.4V754.6H356.0ZM356.0 754.6H360.4V759.4H356.0ZM346.6 759.4H351.4V764.2H346.6ZM351.4 759.4H356.0V764.2H351.4ZM360.4 764.2H364.6V768.9H360.4ZM364.6 764.2H368.3V768.9H364.6ZM329.1 768.9H333.3V773.7H329.1ZM356.0 768.9H360.4V773.7H356.0ZM324.8 773.7H329.1V778.5H324.8ZM329.1 773.7H333.3V778.5H329.1ZM333.3 773.7H337.6V778.5H333.3ZM364.6 773.7H368.3V778.5H364.6ZM368.3 778.5H372.0V783.3H368.3ZM368.3 783.3H372.0V788.1H368.3ZM320.5 788.1H324.8V792.8H320.5ZM329.1 788.1H333.3V792.8H329.1ZM333.3 788.1H337.6V792.8H333.3ZM337.6 788.1H341.8V792.8H337.6ZM324.8 792.8H329.1V797.6H324.8ZM333.3 792.8H337.6V797.6H333.3ZM337.6 792.8H341.8V797.6H337.6ZM360.4 792.8H364.6V797.6H360.4ZM364.6 792.8H368.3V797.6H364.6ZM329.1 797.6H333.3V802.4H329.1ZM337.6 797.6H341.8V802.4H337.6ZM360.4 797.6H364.6V802.4H360.4ZM364.6 797.6H368.3V802.4H364.6ZM333.3 802.4H337.6V807.2H333.3ZM341.8 802.4H346.6V807.2H341.8ZM351.4 802.4H356.0V807.2H351.4ZM360.4 802.4H364.6V807.2H360.4ZM351.4 807.2H356.0V812.0H351.4ZM360.4 807.2H364.6V812.0H360.4ZM337.6 812.0H341.8V816.7H337.6ZM360.4 812.0H364.6V816.7H360.4ZM378.0 745.0H381.0V749.8H378.0ZM378.0 749.8H381.0V754.6H378.0ZM390.1 754.6H393.1V759.4H390.1ZM399.1 754.6H402.1V759.4H399.1ZM402.1 754.6H405.2V759.4H402.1ZM405.2 759.4H408.2V764.2H405.2ZM414.2 759.4H417.2V764.2H414.2ZM396.1 764.2H399.1V768.9H396.1ZM414.2 764.2H417.2V768.9H414.2ZM417.2 764.2H420.2V768.9H417.2ZM420.2 764.2H423.3V768.9H420.2ZM426.3 764.2H429.3V768.9H426.3ZM429.3 768.9H432.3V773.7H429.3ZM417.2 773.7H420.2V778.5H417.2ZM429.3 773.7H432.3V778.5H429.3ZM399.1 778.5H402.1V783.3H399.1ZM408.2 778.5H411.2V783.3H408.2ZM417.2 778.5H420.2V783.3H417.2ZM414.2 783.3H417.2V788.1H414.2ZM420.2 783.3H423.3V788.1H420.2ZM429.3 792.8H432.3V797.6H429.3ZM393.1 797.6H396.1V802.4H393.1ZM402.1 797.6H405.2V802.4H402.1ZM405.2 797.6H408.2V802.4H405.2ZM414.2 797.6H417.2V802.4H414.2ZM417.2 797.6H420.2V802.4H417.2ZM390.1 802.4H393.1V807.2H390.1ZM393.1 802.4H396.1V807.2H393.1ZM396.1 802.4H399.1V807.2H396.1ZM375.0 807.2H378.0V812.0H375.0ZM387.1 807.2H390.1V812.0H387.1ZM390.1 807.2H393.1V812.0H390.1ZM402.1 807.2H405.2V812.0H402.1ZM381.0 812.0H384.1V816.7H381.0ZM264.7 764.2H271.1V768.9H264.7ZM264.7 792.8H276.3V797.6H264.7ZM264.7 797.6H271.1V802.4H264.7ZM276.3 788.1H282.0V792.8H276.3ZM282.0 792.8H286.6V797.6H282.0ZM276.3 797.6H282.0V802.4H276.3ZM276.3 802.4H291.0V807.2H276.3ZM259.5 816.7H264.0V821.5H259.5ZM300.7 778.5H305.2V783.3H300.7ZM300.7 783.3H305.2V788.1H300.7ZM305.2 783.3H308.0V788.1H305.2ZM303.0 788.1H307.0V792.8H303.0ZM300.7 802.4H305.2V807.2H300.7ZM309.1 764.2H313.6V768.9H309.1ZM309.1 778.5H313.6V783.3H309.1ZM313.6 792.8H317.5V797.6H313.6ZM313.6 797.6H317.5V802.4H313.6ZM286.5 725.9H290.9V730.7H286.5ZM334.4 706.8H337.7V711.6H334.4ZM342.1 706.8H351.5V711.6H342.1ZM351.5 711.6H355.9V716.4H351.5ZM351.5 716.4H355.9V721.1H351.5ZM381.8 735.5H384.6V740.3H381.8ZM356.5 745.0H359.8V749.8H356.5Z" fill="#8000ff" shape-rendering="crispEdges"/>
<path d="M203.6 735.5H209.3V740.3H203.6ZM209.3 745.0H215.0V749.8H209.3ZM203.6 749.8H209.3V754.6H203.6ZM197.6 754.6H203.6V759.4H197.6ZM203.6 754.6H209.3V759.4H203.6ZM203.6 759.4H209.3V764.2H203.6ZM203.6 773.7H209.3V778.5H203.6ZM235.4 773.7H240.1V778.5H235.4ZM240.1 773.7H244.2V778.5H240.1ZM197.6 778.5H203.6V783.3H197.6ZM203.6 778.5H209.3V783.3H203.6ZM235.4 778.5H240.1V783.3H235.4ZM240.1 778.5H244.2V783.3H240.1ZM235.4 783.3H240.1V788.1H235.4ZM240.1 783.3H244.2V788.1H240.1ZM203.6 788.1H209.3V792.8H203.6ZM203.6 792.8H209.3V797.6H203.6ZM209.3 792.8H215.0V797.6H209.3ZM235.4 792.8H240.1V797.6H235.4ZM203.6 797.6H209.3V802.4H203.6ZM190.3 802.4H197.6V807.2H190.3ZM215.0 802.4H220.1V807.2H215.0ZM252.1 802.4H255.9V807.2H252.1ZM244.2 807.2H248.3V812.0H244.2ZM320.5 768.9H324.8V773.7H320.5ZM341.8 768.9H346.6V773.7H341.8ZM360.4 768.9H364.6V773.7H360.4ZM368.3 768.9H372.0V773.7H368.3ZM329.1 778.5H333.3V783.3H329.1ZM337.6 778.5H341.8V783.3H337.6ZM333.3 783.3H337.6V788.1H333.3ZM337.6 783.3H341.8V788.1H337.6ZM364.6 783.3H368.3V788.1H364.6ZM324.8 788.1H329.1V792.8H324.8ZM329.1 792.8H333.3V797.6H329.1ZM333.3 797.6H337.6V802.4H333.3ZM341.8 797.6H346.6V802.4H341.8ZM372.0 759.4H375.0V764.2H372.0ZM375.0 759.4H378.0V764.2H375.0ZM381.0 759.4H384.1V764.2H381.0ZM384.1 759.4H387.1V764.2H384.1ZM399.1 759.4H402.1V764.2H399.1ZM417.2 768.9H420.2V773.7H417.2ZM402.1 773.7H405.2V778.5H402.1ZM396.1 778.5H399.1V783.3H396.1ZM405.2 778.5H408.2V783.3H405.2ZM399.1 783.3H402.1V788.1H399.1ZM405.2 783.3H408.2V788.1H405.2ZM411.2 783.3H414.2V788.1H411.2ZM417.2 788.1H420.2V792.8H417.2ZM426.3 792.8H429.3V797.6H426.3ZM399.1 797.6H402.1V802.4H399.1ZM375.0 802.4H378.0V807.2H375.0ZM387.1 802.4H390.1V807.2H387.1ZM399.1 802.4H402.1V807.2H399.1ZM378.0 807.2H381.0V812.0H378.0ZM381.0 807.2H384.1V812.0H381.0ZM264.7 768.9H271.1V773.7H264.7ZM264.7 783.3H271.1V788.1H264.7ZM264.7 788.1H271.1V792.8H264.7ZM300.7 792.8H305.2V797.6H300.7ZM316.5 768.9H320.5V773.7H316.5Z" fill="#0ea4f0" shape-rendering="crispEdges"/>
<path d="M197.6 740.3H203.6V745.0H197.6ZM197.6 745.0H203.6V749.8H197.6ZM197.6 749.8H203.6V754.6H197.6ZM209.3 749.8H215.0V754.6H209.3ZM209.3 754.6H215.0V759.4H209.3ZM244.2 792.8H248.3V797.6H244.2ZM240.1 797.6H244.2V802.4H240.1ZM244.2 797.6H248.3V802.4H244.2ZM248.3 797.6H252.1V802.4H248.3ZM209.3 802.4H215.0V807.2H209.3ZM240.1 802.4H244.2V807.2H240.1ZM215.0 807.2H220.1V812.0H215.0ZM248.3 807.2H252.1V812.0H248.3ZM197.6 812.0H203.6V816.7H197.6ZM203.6 812.0H209.3V816.7H203.6ZM215.0 812.0H220.1V816.7H215.0ZM346.6 768.9H351.4V773.7H346.6ZM341.8 773.7H346.6V778.5H341.8ZM346.6 773.7H351.4V778.5H346.6ZM351.4 773.7H356.0V778.5H351.4ZM356.0 773.7H360.4V778.5H356.0ZM341.8 788.1H346.6V792.8H341.8ZM360.4 788.1H364.6V792.8H360.4ZM351.4 797.6H356.0V802.4H351.4ZM356.0 797.6H360.4V802.4H356.0ZM372.0 764.2H375.0V768.9H372.0ZM375.0 764.2H378.0V768.9H375.0ZM384.1 764.2H387.1V768.9H384.1ZM387.1 764.2H390.1V768.9H387.1ZM390.1 764.2H393.1V768.9H390.1ZM393.1 764.2H396.1V768.9H393.1ZM390.1 768.9H393.1V773.7H390.1ZM393.1 768.9H396.1V773.7H393.1ZM399.1 768.9H402.1V773.7H399.1ZM402.1 768.9H405.2V773.7H402.1ZM405.2 768.9H408.2V773.7H405.2ZM390.1 773.7H393.1V778.5H390.1ZM393.1 773.7H396.1V778.5H393.1ZM396.1 773.7H399.1V778.5H396.1ZM405.2 773.7H408.2V778.5H405.2ZM411.2 773.7H414.2V778.5H411.2ZM387.1 778.5H390.1V783.3H387.1ZM387.1 783.3H390.1V788.1H387.1ZM393.1 783.3H396.1V788.1H393.1ZM393.1 788.1H396.1V792.8H393.1ZM396.1 788.1H399.1V792.8H396.1ZM405.2 788.1H408.2V792.8H405.2ZM408.2 788.1H411.2V792.8H408.2ZM390.1 792.8H393.1V797.6H390.1ZM402.1 792.8H405.2V797.6H402.1ZM405.2 792.8H408.2V797.6H405.2ZM408.2 792.8H411.2V797.6H408.2ZM411.2 792.8H414.2V797.6H411.2ZM375.0 797.6H378.0V802.4H375.0ZM387.1 797.6H390.1V802.4H387.1ZM378.0 802.4H381.0V807.2H378.0ZM381.0 802.4H384.1V807.2H381.0ZM384.1 802.4H387.1V807.2H384.1Z" fill="#63fbc3" shape-rendering="crispEdges"/>
<path d="M209.3 759.4H215.0V764.2H209.3ZM244.2 759.4H248.3V764.2H244.2ZM203.6 764.2H209.3V768.9H203.6ZM209.3 768.9H215.0V773.7H209.3ZM197.6 773.7H203.6V778.5H197.6ZM215.0 778.5H220.1V783.3H215.0ZM203.6 783.3H209.3V788.1H203.6ZM197.6 792.8H203.6V797.6H197.6ZM240.1 792.8H244.2V797.6H240.1ZM248.3 792.8H252.1V797.6H248.3ZM197.6 797.6H203.6V802.4H197.6ZM209.3 797.6H215.0V802.4H209.3ZM235.4 797.6H240.1V802.4H235.4ZM235.4 802.4H240.1V807.2H235.4ZM248.3 802.4H252.1V807.2H248.3ZM190.3 807.2H197.6V812.0H190.3ZM240.1 807.2H244.2V812.0H240.1ZM244.2 812.0H248.3V816.7H244.2ZM203.6 816.7H209.3V821.5H203.6ZM368.3 764.2H372.0V768.9H368.3ZM360.4 773.7H364.6V778.5H360.4ZM360.4 778.5H364.6V783.3H360.4ZM364.6 778.5H368.3V783.3H364.6ZM360.4 783.3H364.6V788.1H360.4ZM364.6 788.1H368.3V792.8H364.6ZM368.3 788.1H372.0V792.8H368.3ZM368.3 792.8H372.0V797.6H368.3ZM368.3 797.6H372.0V802.4H368.3ZM346.6 802.4H351.4V807.2H346.6ZM368.3 802.4H372.0V807.2H368.3ZM346.6 807.2H351.4V812.0H346.6ZM378.0 754.6H381.0V759.4H378.0ZM378.0 759.4H381.0V764.2H378.0ZM402.1 759.4H405.2V764.2H402.1ZM399.1 764.2H402.1V768.9H399.1ZM402.1 764.2H405.2V768.9H402.1ZM405.2 764.2H408.2V768.9H405.2ZM396.1 768.9H399.1V773.7H396.1ZM408.2 768.9H411.2V773.7H408.2ZM411.2 768.9H414.2V773.7H411.2ZM414.2 768.9H417.2V773.7H414.2ZM399.1 773.7H402.1V778.5H399.1ZM408.2 773.7H411.2V778.5H408.2ZM414.2 773.7H417.2V778.5H414.2ZM393.1 778.5H396.1V783.3H393.1ZM402.1 778.5H405.2V783.3H402.1ZM411.2 778.5H414.2V783.3H411.2ZM390.1 783.3H393.1V788.1H390.1ZM396.1 783.3H399.1V788.1H396.1ZM402.1 783.3H405.2V788.1H402.1ZM408.2 783.3H411.2V788.1H408.2ZM399.1 788.1H402.1V792.8H399.1ZM402.1 788.1H405.2V792.8H402.1ZM411.2 788.1H414.2V792.8H411.2ZM414.2 788.1H417.2V792.8H414.2ZM429.3 788.1H432.3V792.8H429.3ZM414.2 792.8H417.2V797.6H414.2ZM417.2 792.8H420.2V797.6H417.2ZM372.0 797.6H375.0V802.4H372.0ZM390.1 797.6H393.1V802.4H390.1ZM396.1 797.6H399.1V802.4H396.1ZM372.0 802.4H375.0V807.2H372.0ZM347.1 711.6H351.5V716.4H347.1Z" fill="#2adddd" shape-rendering="crispEdges"/>
<path d="M197.6 802.4H203.6V807.2H197.6ZM203.6 802.4H209.3V807.2H203.6ZM244.2 802.4H248.3V807.2H244.2ZM209.3 812.0H215.0V816.7H209.3ZM356.0 788.1H360.4V792.8H356.0ZM356.0 792.8H360.4V797.6H356.0ZM384.1 778.5H387.1V783.3H384.1ZM384.1 783.3H387.1V788.1H384.1ZM390.1 788.1H393.1V792.8H390.1ZM393.1 792.8H396.1V797.6H393.1ZM399.1 792.8H402.1V797.6H399.1ZM378.0 797.6H381.0V802.4H378.0Z" fill="#9cfba4" shape-rendering="crispEdges"/>
<path d="M197.6 807.2H203.6V812.0H197.6ZM341.8 778.5H346.6V783.3H341.8ZM351.4 778.5H356.0V783.3H351.4ZM341.8 783.3H346.6V788.1H341.8ZM351.4 783.3H356.0V788.1H351.4ZM351.4 788.1H356.0V792.8H351.4ZM346.6 792.8H351.4V797.6H346.6ZM351.4 792.8H356.0V797.6H351.4ZM372.0 768.9H375.0V773.7H372.0ZM384.1 768.9H387.1V773.7H384.1ZM387.1 768.9H390.1V773.7H387.1ZM372.0 773.7H375.0V778.5H372.0ZM384.1 773.7H387.1V778.5H384.1ZM387.1 773.7H390.1V778.5H387.1ZM372.0 778.5H375.0V783.3H372.0ZM375.0 778.5H378.0V783.3H375.0ZM381.0 783.3H384.1V788.1H381.0ZM372.0 788.1H375.0V792.8H372.0ZM372.0 792.8H375.0V797.6H372.0ZM384.1 792.8H387.1V797.6H384.1ZM381.0 797.6H384.1V802.4H381.0Z" fill="#ffa457" shape-rendering="crispEdges"/>
<path d="M203.6 807.2H209.3V812.0H203.6ZM209.3 807.2H215.0V812.0H209.3ZM356.0 778.5H360.4V783.3H356.0ZM356.0 783.3H360.4V788.1H356.0ZM341.8 792.8H346.6V797.6H341.8ZM346.6 797.6H351.4V802.4H346.6ZM378.0 764.2H381.0V768.9H378.0ZM381.0 764.2H384.1V768.9H381.0ZM378.0 778.5H381.0V783.3H378.0ZM381.0 778.5H384.1V783.3H381.0ZM387.1 788.1H390.1V792.8H387.1ZM387.1 792.8H390.1V797.6H387.1ZM396.1 792.8H399.1V797.6H396.1ZM384.1 797.6H387.1V802.4H384.1Z" fill="#d4dd80" shape-rendering="crispEdges"/>
<path d="M346.6 778.5H351.4V783.3H346.6ZM346.6 783.3H351.4V788.1H346.6ZM346.6 788.1H351.4V792.8H346.6ZM375.0 768.9H378.0V773.7H375.0ZM381.0 768.9H384.1V773.7H381.0ZM381.0 773.7H384.1V778.5H381.0ZM372.0 783.3H375.0V788.1H372.0ZM375.0 783.3H378.0V788.1H375.0ZM378.0 783.3H381.0V788.1H378.0ZM384.1 788.1H387.1V792.8H384.1ZM381.0 792.8H384.1V797.6H381.0Z" fill="#ff572c" shape-rendering="crispEdges"/>
<path d="M378.0 768.9H381.0V773.7H378.0ZM375.0 773.7H378.0V778.5H375.0ZM378.0 773.7H381.0V778.5H378.0ZM375.0 788.1H378.0V792.8H375.0ZM378.0 788.1H381.0V792.8H378.0ZM381.0 788.1H384.1V792.8H381.0ZM375.0 792.8H378.0V797.6H375.0ZM378.0 792.8H381.0V797.6H378.0Z" fill="#ff0000" shape-rendering="crispEdges"/>
<path d="M106.3 2.3L106.3 68.3M95.3 13.3L161.3 13.3M128.3 2.3L128.3 68.3M95.3 35.3L161.3 35.3M150.3 2.3L150.3 68.3M95.3 57.3L161.3 57.3" fill="none" stroke="#e6e6e6" stroke-width="0.8"/>
<path d="M95.3 2.3L95.3 3.5M95.3 68.3L95.3 67.1M95.3 2.3L96.5 2.3M161.3 2.3L160.1 2.3M97.5 2.3L97.5 3.5M97.5 68.3L97.5 67.1M95.3 4.5L96.5 4.5M161.3 4.5L160.1 4.5M99.7 2.3L99.7 3.5M99.7 68.3L99.7 67.1M95.3 6.7L96.5 6.7M161.3 6.7L160.1 6.7M101.9 2.3L101.9 3.5M101.9 68.3L101.9 67.1M95.3 8.9L96.5 8.9M161.3 8.9L160.1 8.9M104.1 2.3L104.1 3.5M104.1 68.3L104.1 67.1M95.3 11.1L96.5 11.1M161.3 11.1L160.1 11.1M106.3 2.3L106.3 3.5M106.3 68.3L106.3 67.1M95.3 13.3L96.5 13.3M161.3 13.3L160.1 13.3M108.5 2.3L108.5 3.5M108.5 68.3L108.5 67.1M95.3 15.5L96.5 15.5M161.3 15.5L160.1 15.5M110.7 2.3L110.7 3.5M110.7 68.3L110.7 67.1M95.3 17.7L96.5 17.7M161.3 17.7L160.1 17.7M112.9 2.3L112.9 3.5M112.9 68.3L112.9 67.1M95.3 19.9L96.5 19.9M161.3 19.9L160.1 19.9M115.1 2.3L115.1 3.5M115.1 68.3L115.1 67.1M95.3 22.1L96.5 22.1M161.3 22.1L160.1 22.1M117.3 2.3L117.3 3.5M117.3 68.3L117.3 67.1M95.3 24.3L96.5 24.3M161.3 24.3L160.1 24.3M119.5 2.3L119.5 3.5M119.5 68.3L119.5 67.1M95.3 26.5L96.5 26.5M161.3 26.5L160.1 26.5M121.7 2.3L121.7 3.5M121.7 68.3L121.7 67.1M95.3 28.7L96.5 28.7M161.3 28.7L160.1 28.7M123.9 2.3L123.9 3.5M123.9 68.3L123.9 67.1M95.3 30.9L96.5 30.9M161.3 30.9L160.1 30.9M126.1 2.3L126.1 3.5M126.1 68.3L126.1 67.1M95.3 33.1L96.5 33.1M161.3 33.1L160.1 33.1M128.3 2.3L128.3 3.5M128.3 68.3L128.3 67.1M95.3 35.3L96.5 35.3M161.3 35.3L160.1 35.3M130.5 2.3L130.5 3.5M130.5 68.3L130.5 67.1M95.3 37.5L96.5 37.5M161.3 37.5L160.1 37.5M132.7 2.3L132.7 3.5M132.7 68.3L132.7 67.1M95.3 39.7L96.5 39.7M161.3 39.7L160.1 39.7M134.9 2.3L134.9 3.5M134.9 68.3L134.9 67.1M95.3 41.9L96.5 41.9M161.3 41.9L160.1 41.9M137.1 2.3L137.1 3.5M137.1 68.3L137.1 67.1M95.3 44.1L96.5 44.1M161.3 44.1L160.1 44.1M139.3 2.3L139.3 3.5M139.3 68.3L139.3 67.1M95.3 46.3L96.5 46.3M161.3 46.3L160.1 46.3M141.5 2.3L141.5 3.5M141.5 68.3L141.5 67.1M95.3 48.5L96.5 48.5M161.3 48.5L160.1 48.5M143.7 2.3L143.7 3.5M143.7 68.3L143.7 67.1M95.3 50.7L96.5 50.7M161.3 50.7L160.1 50.7M145.9 2.3L145.9 3.5M145.9 68.3L145.9 67.1M95.3 52.9L96.5 52.9M161.3 52.9L160.1 52.9M148.1 2.3L148.1 3.5M148.1 68.3L148.1 67.1M95.3 55.1L96.5 55.1M161.3 55.1L160.1 55.1M150.3 2.3L150.3 3.5M150.3 68.3L150.3 67.1M95.3 57.3L96.5 57.3M161.3 57.3L160.1 57.3M152.5 2.3L152.5 3.5M152.5 68.3L152.5 67.1M95.3 59.5L96.5 59.5M161.3 59.5L160.1 59.5M154.7 2.3L154.7 3.5M154.7 68.3L154.7 67.1M95.3 61.7L96.5 61.7M161.3 61.7L160.1 61.7M156.9 2.3L156.9 3.5M156.9 68.3L156.9 67.1M95.3 63.9L96.5 63.9M161.3 63.9L160.1 63.9M159.1 2.3L159.1 3.5M159.1 68.3L159.1 67.1M95.3 66.1L96.5 66.1M161.3 66.1L160.1 66.1M161.3 2.3L161.3 3.5M161.3 68.3L161.3 67.1M95.3 68.3L96.5 68.3M161.3 68.3L160.1 68.3" fill="none" stroke="#888" stroke-width="0.6"/>
<rect x="95.30" y="2.30" width="66.00" height="66.00" fill="none" stroke="#555" stroke-width="0.9"/>
<circle cx="128.3" cy="35.3" r="22" fill="none" stroke="#777" stroke-width="1"/>
<path d="M128.3,13.299999999999997 A22,22 0 0,1 128.3,57.3 Z" fill="#000"/>
<polyline points="133.07,68.61 132.60,68.46 132.14,68.31 131.69,68.16 131.24,68.00 130.80,67.85 130.37,67.69 129.94,67.54 129.52,67.38 129.11,67.22 128.70,67.06 128.29,66.90 127.89,66.74 127.50,66.58 127.11,66.42 126.73,66.26 126.35,66.10 125.98,65.94 125.61,65.77 125.25,65.61 124.90,65.45 124.54,65.28 124.20,65.12 123.85,64.95 123.52,64.79 123.19,64.62 122.86,64.46 122.53,64.29 122.21,64.13 121.90,63.96 121.59,63.80 121.28,63.63 120.98,63.47 120.68,63.30 120.39,63.14 120.10,62.97 119.82,62.81 119.53,62.64 119.26,62.48 118.98,62.31 118.71,62.15 118.45,61.98 118.18,61.82 117.92,61.65 117.67,61.49 117.42,61.33 117.17,61.16 116.92,61.00 116.68,60.84 116.44,60.67 116.20,60.51 115.97,60.35 115.74,60.19 115.52,60.02 115.29,59.86 115.07,59.70 114.85,59.54 114.64,59.38 114.43,59.22 114.22,59.06 114.01,58.90 113.81,58.74 113.61,58.58 113.41,58.42 113.22,58.27 113.02,58.11 112.83,57.95 112.65,57.79 112.46,57.64 112.28,57.48 112.10,57.33 111.92,57.17 111.75,57.01 111.57,56.86 111.40,56.71 111.23,56.55 111.07,56.40 110.90,56.24 110.74,56.09 110.58,55.94 110.42,55.79 110.27,55.64 110.11,55.48 109.96,55.33 109.81,55.18 109.66,55.03 109.52,54.88 109.37,54.73 109.23,54.59 109.09,54.44 108.95,54.29 108.82,54.14 108.68,53.99 108.55,53.85 108.42,53.70 108.29,53.55 108.16,53.41 108.04,53.26 107.91,53.12 107.79,52.97 107.67,52.83 107.55,52.68 107.43,52.54 107.31,52.40 107.20,52.26 107.08,52.11 106.97,51.97 106.86,51.83 106.75,51.69 106.64,51.55 106.54,51.41 106.43,51.27 106.33,51.13 106.23,50.99 106.13,50.85 106.03,50.71 105.93,50.57 105.83,50.43 105.74,50.29 105.64,50.16 105.55,50.02 105.46,49.88 105.37,49.75 105.28,49.61 105.19,49.47 105.10,49.34 105.02,49.20 104.93,49.07 104.85,48.93 104.77,48.80 104.69,48.67 104.61,48.53 104.53,48.40 104.45,48.27 104.37,48.13 104.30,48.00 104.22,47.87 104.15,47.74 104.08,47.61 104.00,47.48 103.93,47.34 103.86,47.21 103.80,47.08 103.73,46.95 103.66,46.82 103.60,46.69 103.53,46.56 103.47,46.44 103.40,46.31 103.34,46.18 103.28,46.05 103.22,45.92 103.16,45.79 103.10,45.67 103.05,45.54 102.99,45.41 102.93,45.29 102.88,45.16 102.82,45.03 102.77,44.91 102.72,44.78 102.67,44.65 102.62,44.53 102.57,44.40 102.52,44.28 102.47,44.15 102.42,44.03 102.38,43.91 102.33,43.78 102.28,43.66 102.24,43.53 102.20,43.41 102.15,43.29 102.11,43.16 102.07,43.04 102.03,42.92 101.99,42.79 101.95,42.67 101.91,42.55 101.88,42.43 101.84,42.31 101.80,42.18 101.77,42.06 101.73,41.94 101.70,41.82 101.66,41.70 101.63,41.58 101.60,41.46 101.57,41.33 101.54,41.21 101.51,41.09 101.48,40.97 101.45,40.85 101.42,40.73 101.39,40.61 101.37,40.49 101.34,40.37 101.31,40.25 101.29,40.13 101.27,40.01 101.24,39.90 101.22,39.78 101.20,39.66 101.18,39.54 101.15,39.42 101.13,39.30 101.11,39.18 101.10,39.06 101.08,38.95 101.06,38.83 101.04,38.71 101.02,38.59 101.01,38.47 100.99,38.35 100.98,38.24 100.96,38.12 100.95,38.00 100.94,37.88 100.92,37.76 100.91,37.65 100.90,37.53 100.89,37.41 100.88,37.29 100.87,37.18 100.86,37.06 100.85,36.94 100.85,36.82 100.84,36.71 100.83,36.59 100.83,36.47 100.82,36.35 100.81,36.24 100.81,36.12 100.81,36.00 100.80,35.89 100.80,35.77 100.80,35.65 100.80,35.53 100.80,35.42 100.80,35.30 100.80,35.18 100.80,35.07 100.80,34.95 100.80,34.83 100.80,34.71 100.81,34.60 100.81,34.48 100.81,34.36 100.82,34.25 100.83,34.13 100.83,34.01 100.84,33.89 100.85,33.78 100.85,33.66 100.86,33.54 100.87,33.42 100.88,33.31 100.89,33.19 100.90,33.07 100.91,32.95 100.92,32.84 100.94,32.72 100.95,32.60 100.96,32.48 100.98,32.36 100.99,32.25 101.01,32.13 101.02,32.01 101.04,31.89 101.06,31.77 101.08,31.65 101.10,31.54 101.11,31.42 101.13,31.30 101.15,31.18 101.18,31.06 101.20,30.94 101.22,30.82 101.24,30.70 101.27,30.59 101.29,30.47 101.31,30.35 101.34,30.23 101.37,30.11 101.39,29.99 101.42,29.87 101.45,29.75 101.48,29.63 101.51,29.51 101.54,29.39 101.57,29.27 101.60,29.14 101.63,29.02 101.66,28.90 101.70,28.78 101.73,28.66 101.77,28.54 101.80,28.42 101.84,28.29 101.88,28.17 101.91,28.05 101.95,27.93 101.99,27.81 102.03,27.68 102.07,27.56 102.11,27.44 102.15,27.31 102.20,27.19 102.24,27.07 102.28,26.94 102.33,26.82 102.38,26.69 102.42,26.57 102.47,26.45 102.52,26.32 102.57,26.20 102.62,26.07 102.67,25.95 102.72,25.82 102.77,25.69 102.82,25.57 102.88,25.44 102.93,25.31 102.99,25.19 103.05,25.06 103.10,24.93 103.16,24.81 103.22,24.68 103.28,24.55 103.34,24.42 103.40,24.29 103.47,24.16 103.53,24.04 103.60,23.91 103.66,23.78 103.73,23.65 103.80,23.52 103.86,23.39 103.93,23.26 104.00,23.12 104.08,22.99 104.15,22.86 104.22,22.73 104.30,22.60 104.37,22.47 104.45,22.33 104.53,22.20 104.61,22.07 104.69,21.93 104.77,21.80 104.85,21.67 104.93,21.53 105.02,21.40 105.10,21.26 105.19,21.13 105.28,20.99 105.37,20.85 105.46,20.72 105.55,20.58 105.64,20.44 105.74,20.31 105.83,20.17 105.93,20.03 106.03,19.89 106.13,19.75 106.23,19.61 106.33,19.47 106.43,19.33 106.54,19.19 106.64,19.05 106.75,18.91 106.86,18.77 106.97,18.63 107.08,18.49 107.20,18.34 107.31,18.20 107.43,18.06 107.55,17.92 107.67,17.77 107.79,17.63 107.91,17.48 108.04,17.34 108.16,17.19 108.29,17.05 108.42,16.90 108.55,16.75 108.68,16.61 108.82,16.46 108.95,16.31 109.09,16.16 109.23,16.01 109.37,15.87 109.52,15.72 109.66,15.57 109.81,15.42 109.96,15.27 110.11,15.12 110.27,14.96 110.42,14.81 110.58,14.66 110.74,14.51 110.90,14.36 111.07,14.20 111.23,14.05 111.40,13.89 111.57,13.74 111.75,13.59 111.92,13.43 112.10,13.27 112.28,13.12 112.46,12.96 112.65,12.81 112.83,12.65 113.02,12.49 113.22,12.33 113.41,12.18 113.61,12.02 113.81,11.86 114.01,11.70 114.22,11.54 114.43,11.38 114.64,11.22 114.85,11.06 115.07,10.90 115.29,10.74 115.52,10.58 115.74,10.41 115.97,10.25 116.20,10.09 116.44,9.93 116.68,9.76 116.92,9.60 117.17,9.44 117.42,9.27 117.67,9.11 117.92,8.95 118.18,8.78 118.45,8.62 118.71,8.45 118.98,8.29 119.26,8.12 119.53,7.96 119.82,7.79 120.10,7.63 120.39,7.46 120.68,7.30 120.98,7.13 121.28,6.97 121.59,6.80 121.90,6.64 122.21,6.47 122.53,6.31 122.86,6.14 123.19,5.98 123.52,5.81 123.85,5.65 124.20,5.48 124.54,5.32 124.90,5.15 125.25,4.99 125.61,4.83 125.98,4.66 126.35,4.50 126.73,4.34 127.11,4.18 127.50,4.02 127.89,3.86 128.29,3.70 128.70,3.54 129.11,3.38 129.52,3.22 129.94,3.06 130.37,2.91 130.80,2.75 131.24,2.60 131.69,2.44 132.14,2.29 132.60,2.14 133.07,1.99" fill="none" stroke="#000" stroke-width="2.4" stroke-linejoin="round"/>
<polyline points="158.70,50.30 152.00,50.20 146.00,49.90 138.50,49.20" fill="none" stroke="#ff00ff" stroke-width="2.2" stroke-linejoin="round"/>
<polyline points="138.50,49.20 133.00,47.80 127.50,45.90" fill="none" stroke="#999" stroke-width="1.4" stroke-linejoin="round"/>
<polyline points="127.50,45.90 122.00,43.90 117.00,41.50 112.00,38.60 106.60,34.30 104.50,31.50 102.70,28.20" fill="none" stroke="#ff00ff" stroke-width="2.2" stroke-linejoin="round"/>
<path d="M137.5,49.2 L146.8,46.2 L142.5,49.6 L145.7,54.3 Z" fill="#ff00ff"/>
<path d="M110.8,38.0 L119.5,37.6 L114.5,39.8 L114.8,44.8 Z" fill="#ff00ff"/>
<path d="M292.6 2.4L292.6 68.4M281.6 13.4L347.6 13.4M314.6 2.4L314.6 68.4M281.6 35.4L347.6 35.4M336.6 2.4L336.6 68.4M281.6 57.4L347.6 57.4" fill="none" stroke="#e6e6e6" stroke-width="0.8"/>
<path d="M281.6 2.4L281.6 3.6M281.6 68.4L281.6 67.2M281.6 2.4L282.8 2.4M347.6 2.4L346.4 2.4M283.8 2.4L283.8 3.6M283.8 68.4L283.8 67.2M281.6 4.6L282.8 4.6M347.6 4.6L346.4 4.6M286 2.4L286 3.6M286 68.4L286 67.2M281.6 6.8L282.8 6.8M347.6 6.8L346.4 6.8M288.2 2.4L288.2 3.6M288.2 68.4L288.2 67.2M281.6 9L282.8 9M347.6 9L346.4 9M290.4 2.4L290.4 3.6M290.4 68.4L290.4 67.2M281.6 11.2L282.8 11.2M347.6 11.2L346.4 11.2M292.6 2.4L292.6 3.6M292.6 68.4L292.6 67.2M281.6 13.4L282.8 13.4M347.6 13.4L346.4 13.4M294.8 2.4L294.8 3.6M294.8 68.4L294.8 67.2M281.6 15.6L282.8 15.6M347.6 15.6L346.4 15.6M297 2.4L297 3.6M297 68.4L297 67.2M281.6 17.8L282.8 17.8M347.6 17.8L346.4 17.8M299.2 2.4L299.2 3.6M299.2 68.4L299.2 67.2M281.6 20L282.8 20M347.6 20L346.4 20M301.4 2.4L301.4 3.6M301.4 68.4L301.4 67.2M281.6 22.2L282.8 22.2M347.6 22.2L346.4 22.2M303.6 2.4L303.6 3.6M303.6 68.4L303.6 67.2M281.6 24.4L282.8 24.4M347.6 24.4L346.4 24.4M305.8 2.4L305.8 3.6M305.8 68.4L305.8 67.2M281.6 26.6L282.8 26.6M347.6 26.6L346.4 26.6M308 2.4L308 3.6M308 68.4L308 67.2M281.6 28.8L282.8 28.8M347.6 28.8L346.4 28.8M310.2 2.4L310.2 3.6M310.2 68.4L310.2 67.2M281.6 31L282.8 31M347.6 31L346.4 31M312.4 2.4L312.4 3.6M312.4 68.4L312.4 67.2M281.6 33.2L282.8 33.2M347.6 33.2L346.4 33.2M314.6 2.4L314.6 3.6M314.6 68.4L314.6 67.2M281.6 35.4L282.8 35.4M347.6 35.4L346.4 35.4M316.8 2.4L316.8 3.6M316.8 68.4L316.8 67.2M281.6 37.6L282.8 37.6M347.6 37.6L346.4 37.6M319 2.4L319 3.6M319 68.4L319 67.2M281.6 39.8L282.8 39.8M347.6 39.8L346.4 39.8M321.2 2.4L321.2 3.6M321.2 68.4L321.2 67.2M281.6 42L282.8 42M347.6 42L346.4 42M323.4 2.4L323.4 3.6M323.4 68.4L323.4 67.2M281.6 44.2L282.8 44.2M347.6 44.2L346.4 44.2M325.6 2.4L325.6 3.6M325.6 68.4L325.6 67.2M281.6 46.4L282.8 46.4M347.6 46.4L346.4 46.4M327.8 2.4L327.8 3.6M327.8 68.4L327.8 67.2M281.6 48.6L282.8 48.6M347.6 48.6L346.4 48.6M330 2.4L330 3.6M330 68.4L330 67.2M281.6 50.8L282.8 50.8M347.6 50.8L346.4 50.8M332.2 2.4L332.2 3.6M332.2 68.4L332.2 67.2M281.6 53L282.8 53M347.6 53L346.4 53M334.4 2.4L334.4 3.6M334.4 68.4L334.4 67.2M281.6 55.2L282.8 55.2M347.6 55.2L346.4 55.2M336.6 2.4L336.6 3.6M336.6 68.4L336.6 67.2M281.6 57.4L282.8 57.4M347.6 57.4L346.4 57.4M338.8 2.4L338.8 3.6M338.8 68.4L338.8 67.2M281.6 59.6L282.8 59.6M347.6 59.6L346.4 59.6M341 2.4L341 3.6M341 68.4L341 67.2M281.6 61.8L282.8 61.8M347.6 61.8L346.4 61.8M343.2 2.4L343.2 3.6M343.2 68.4L343.2 67.2M281.6 64L282.8 64M347.6 64L346.4 64M345.4 2.4L345.4 3.6M345.4 68.4L345.4 67.2M281.6 66.2L282.8 66.2M347.6 66.2L346.4 66.2M347.6 2.4L347.6 3.6M347.6 68.4L347.6 67.2M281.6 68.4L282.8 68.4M347.6 68.4L346.4 68.4" fill="none" stroke="#888" stroke-width="0.6"/>
<rect x="281.60" y="2.40" width="66.00" height="66.00" fill="none" stroke="#555" stroke-width="0.9"/>
<circle cx="314.6" cy="35.4" r="22" fill="none" stroke="#777" stroke-width="1"/>
<path d="M314.6,13.399999999999999 A22,22 0 0,1 314.6,57.4 Z" fill="#000"/>
<polyline points="319.37,68.71 318.90,68.56 318.44,68.41 317.99,68.26 317.54,68.10 317.10,67.95 316.67,67.79 316.24,67.64 315.82,67.48 315.41,67.32 315.00,67.16 314.59,67.00 314.19,66.84 313.80,66.68 313.41,66.52 313.03,66.36 312.65,66.20 312.28,66.04 311.91,65.87 311.55,65.71 311.20,65.55 310.84,65.38 310.50,65.22 310.15,65.05 309.82,64.89 309.49,64.72 309.16,64.56 308.83,64.39 308.51,64.23 308.20,64.06 307.89,63.90 307.58,63.73 307.28,63.57 306.98,63.40 306.69,63.24 306.40,63.07 306.12,62.91 305.83,62.74 305.56,62.58 305.28,62.41 305.01,62.25 304.75,62.08 304.48,61.92 304.22,61.75 303.97,61.59 303.72,61.43 303.47,61.26 303.22,61.10 302.98,60.94 302.74,60.77 302.50,60.61 302.27,60.45 302.04,60.29 301.82,60.12 301.59,59.96 301.37,59.80 301.15,59.64 300.94,59.48 300.73,59.32 300.52,59.16 300.31,59.00 300.11,58.84 299.91,58.68 299.71,58.52 299.52,58.37 299.32,58.21 299.13,58.05 298.95,57.89 298.76,57.74 298.58,57.58 298.40,57.43 298.22,57.27 298.05,57.11 297.87,56.96 297.70,56.81 297.53,56.65 297.37,56.50 297.20,56.34 297.04,56.19 296.88,56.04 296.72,55.89 296.57,55.74 296.41,55.58 296.26,55.43 296.11,55.28 295.96,55.13 295.82,54.98 295.67,54.83 295.53,54.69 295.39,54.54 295.25,54.39 295.12,54.24 294.98,54.09 294.85,53.95 294.72,53.80 294.59,53.65 294.46,53.51 294.34,53.36 294.21,53.22 294.09,53.07 293.97,52.93 293.85,52.78 293.73,52.64 293.61,52.50 293.50,52.36 293.38,52.21 293.27,52.07 293.16,51.93 293.05,51.79 292.94,51.65 292.84,51.51 292.73,51.37 292.63,51.23 292.53,51.09 292.43,50.95 292.33,50.81 292.23,50.67 292.13,50.53 292.04,50.39 291.94,50.26 291.85,50.12 291.76,49.98 291.67,49.85 291.58,49.71 291.49,49.57 291.40,49.44 291.32,49.30 291.23,49.17 291.15,49.03 291.07,48.90 290.99,48.77 290.91,48.63 290.83,48.50 290.75,48.37 290.67,48.23 290.60,48.10 290.52,47.97 290.45,47.84 290.38,47.71 290.30,47.58 290.23,47.44 290.16,47.31 290.10,47.18 290.03,47.05 289.96,46.92 289.90,46.79 289.83,46.66 289.77,46.54 289.70,46.41 289.64,46.28 289.58,46.15 289.52,46.02 289.46,45.89 289.40,45.77 289.35,45.64 289.29,45.51 289.23,45.39 289.18,45.26 289.12,45.13 289.07,45.01 289.02,44.88 288.97,44.75 288.92,44.63 288.87,44.50 288.82,44.38 288.77,44.25 288.72,44.13 288.68,44.01 288.63,43.88 288.58,43.76 288.54,43.63 288.50,43.51 288.45,43.39 288.41,43.26 288.37,43.14 288.33,43.02 288.29,42.89 288.25,42.77 288.21,42.65 288.18,42.53 288.14,42.41 288.10,42.28 288.07,42.16 288.03,42.04 288.00,41.92 287.96,41.80 287.93,41.68 287.90,41.56 287.87,41.43 287.84,41.31 287.81,41.19 287.78,41.07 287.75,40.95 287.72,40.83 287.69,40.71 287.67,40.59 287.64,40.47 287.61,40.35 287.59,40.23 287.57,40.11 287.54,40.00 287.52,39.88 287.50,39.76 287.48,39.64 287.45,39.52 287.43,39.40 287.41,39.28 287.40,39.16 287.38,39.05 287.36,38.93 287.34,38.81 287.32,38.69 287.31,38.57 287.29,38.45 287.28,38.34 287.26,38.22 287.25,38.10 287.24,37.98 287.22,37.86 287.21,37.75 287.20,37.63 287.19,37.51 287.18,37.39 287.17,37.28 287.16,37.16 287.15,37.04 287.15,36.92 287.14,36.81 287.13,36.69 287.13,36.57 287.12,36.45 287.11,36.34 287.11,36.22 287.11,36.10 287.10,35.99 287.10,35.87 287.10,35.75 287.10,35.63 287.10,35.52 287.10,35.40 287.10,35.28 287.10,35.17 287.10,35.05 287.10,34.93 287.10,34.81 287.11,34.70 287.11,34.58 287.11,34.46 287.12,34.35 287.13,34.23 287.13,34.11 287.14,33.99 287.15,33.88 287.15,33.76 287.16,33.64 287.17,33.52 287.18,33.41 287.19,33.29 287.20,33.17 287.21,33.05 287.22,32.94 287.24,32.82 287.25,32.70 287.26,32.58 287.28,32.46 287.29,32.35 287.31,32.23 287.32,32.11 287.34,31.99 287.36,31.87 287.38,31.75 287.40,31.64 287.41,31.52 287.43,31.40 287.45,31.28 287.48,31.16 287.50,31.04 287.52,30.92 287.54,30.80 287.57,30.69 287.59,30.57 287.61,30.45 287.64,30.33 287.67,30.21 287.69,30.09 287.72,29.97 287.75,29.85 287.78,29.73 287.81,29.61 287.84,29.49 287.87,29.37 287.90,29.24 287.93,29.12 287.96,29.00 288.00,28.88 288.03,28.76 288.07,28.64 288.10,28.52 288.14,28.39 288.18,28.27 288.21,28.15 288.25,28.03 288.29,27.91 288.33,27.78 288.37,27.66 288.41,27.54 288.45,27.41 288.50,27.29 288.54,27.17 288.58,27.04 288.63,26.92 288.68,26.79 288.72,26.67 288.77,26.55 288.82,26.42 288.87,26.30 288.92,26.17 288.97,26.05 289.02,25.92 289.07,25.79 289.12,25.67 289.18,25.54 289.23,25.41 289.29,25.29 289.35,25.16 289.40,25.03 289.46,24.91 289.52,24.78 289.58,24.65 289.64,24.52 289.70,24.39 289.77,24.26 289.83,24.14 289.90,24.01 289.96,23.88 290.03,23.75 290.10,23.62 290.16,23.49 290.23,23.36 290.30,23.22 290.38,23.09 290.45,22.96 290.52,22.83 290.60,22.70 290.67,22.57 290.75,22.43 290.83,22.30 290.91,22.17 290.99,22.03 291.07,21.90 291.15,21.77 291.23,21.63 291.32,21.50 291.40,21.36 291.49,21.23 291.58,21.09 291.67,20.95 291.76,20.82 291.85,20.68 291.94,20.54 292.04,20.41 292.13,20.27 292.23,20.13 292.33,19.99 292.43,19.85 292.53,19.71 292.63,19.57 292.73,19.43 292.84,19.29 292.94,19.15 293.05,19.01 293.16,18.87 293.27,18.73 293.38,18.59 293.50,18.44 293.61,18.30 293.73,18.16 293.85,18.02 293.97,17.87 294.09,17.73 294.21,17.58 294.34,17.44 294.46,17.29 294.59,17.15 294.72,17.00 294.85,16.85 294.98,16.71 295.12,16.56 295.25,16.41 295.39,16.26 295.53,16.11 295.67,15.97 295.82,15.82 295.96,15.67 296.11,15.52 296.26,15.37 296.41,15.22 296.57,15.06 296.72,14.91 296.88,14.76 297.04,14.61 297.20,14.46 297.37,14.30 297.53,14.15 297.70,13.99 297.87,13.84 298.05,13.69 298.22,13.53 298.40,13.37 298.58,13.22 298.76,13.06 298.95,12.91 299.13,12.75 299.32,12.59 299.52,12.43 299.71,12.28 299.91,12.12 300.11,11.96 300.31,11.80 300.52,11.64 300.73,11.48 300.94,11.32 301.15,11.16 301.37,11.00 301.59,10.84 301.82,10.68 302.04,10.51 302.27,10.35 302.50,10.19 302.74,10.03 302.98,9.86 303.22,9.70 303.47,9.54 303.72,9.37 303.97,9.21 304.22,9.05 304.48,8.88 304.75,8.72 305.01,8.55 305.28,8.39 305.56,8.22 305.83,8.06 306.12,7.89 306.40,7.73 306.69,7.56 306.98,7.40 307.28,7.23 307.58,7.07 307.89,6.90 308.20,6.74 308.51,6.57 308.83,6.41 309.16,6.24 309.49,6.08 309.82,5.91 310.15,5.75 310.50,5.58 310.84,5.42 311.20,5.25 311.55,5.09 311.91,4.93 312.28,4.76 312.65,4.60 313.03,4.44 313.41,4.28 313.80,4.12 314.19,3.96 314.59,3.80 315.00,3.64 315.41,3.48 315.82,3.32 316.24,3.16 316.67,3.01 317.10,2.85 317.54,2.70 317.99,2.54 318.44,2.39 318.90,2.24 319.37,2.09" fill="none" stroke="#000" stroke-width="2.4" stroke-linejoin="round"/>
<polyline points="345.00,25.10 341.00,21.80 337.30,19.00 331.80,15.60 325.50,13.60" fill="none" stroke="#ff00ff" stroke-width="2.2" stroke-linejoin="round"/>
<polyline points="325.50,13.60 319.00,13.20 313.10,13.20" fill="none" stroke="#999" stroke-width="1.4" stroke-linejoin="round"/>
<polyline points="313.10,13.20 307.60,13.50 302.00,14.90 297.60,17.50 295.00,21.00 293.20,25.40 291.50,29.00 289.70,33.10" fill="none" stroke="#ff00ff" stroke-width="2.2" stroke-linejoin="round"/>
<path d="M325.2,13.6 L335.7,12.9 L330.5,15.2 L331.3,20.6 Z" fill="#ff00ff"/>
<path d="M296.3,20.0 L303.9,20.4 L299.5,18.0 L298.9,13.6 Z" fill="#ff00ff"/>
<path d="M459.3 2.4L459.3 68.4M448.3 13.4L514.3 13.4M481.3 2.4L481.3 68.4M448.3 35.4L514.3 35.4M503.3 2.4L503.3 68.4M448.3 57.4L514.3 57.4" fill="none" stroke="#e6e6e6" stroke-width="0.8"/>
<path d="M448.3 2.4L448.3 3.6M448.3 68.4L448.3 67.2M448.3 2.4L449.5 2.4M514.3 2.4L513.1 2.4M450.5 2.4L450.5 3.6M450.5 68.4L450.5 67.2M448.3 4.6L449.5 4.6M514.3 4.6L513.1 4.6M452.7 2.4L452.7 3.6M452.7 68.4L452.7 67.2M448.3 6.8L449.5 6.8M514.3 6.8L513.1 6.8M454.9 2.4L454.9 3.6M454.9 68.4L454.9 67.2M448.3 9L449.5 9M514.3 9L513.1 9M457.1 2.4L457.1 3.6M457.1 68.4L457.1 67.2M448.3 11.2L449.5 11.2M514.3 11.2L513.1 11.2M459.3 2.4L459.3 3.6M459.3 68.4L459.3 67.2M448.3 13.4L449.5 13.4M514.3 13.4L513.1 13.4M461.5 2.4L461.5 3.6M461.5 68.4L461.5 67.2M448.3 15.6L449.5 15.6M514.3 15.6L513.1 15.6M463.7 2.4L463.7 3.6M463.7 68.4L463.7 67.2M448.3 17.8L449.5 17.8M514.3 17.8L513.1 17.8M465.9 2.4L465.9 3.6M465.9 68.4L465.9 67.2M448.3 20L449.5 20M514.3 20L513.1 20M468.1 2.4L468.1 3.6M468.1 68.4L468.1 67.2M448.3 22.2L449.5 22.2M514.3 22.2L513.1 22.2M470.3 2.4L470.3 3.6M470.3 68.4L470.3 67.2M448.3 24.4L449.5 24.4M514.3 24.4L513.1 24.4M472.5 2.4L472.5 3.6M472.5 68.4L472.5 67.2M448.3 26.6L449.5 26.6M514.3 26.6L513.1 26.6M474.7 2.4L474.7 3.6M474.7 68.4L474.7 67.2M448.3 28.8L449.5 28.8M514.3 28.8L513.1 28.8M476.9 2.4L476.9 3.6M476.9 68.4L476.9 67.2M448.3 31L449.5 31M514.3 31L513.1 31M479.1 2.4L479.1 3.6M479.1 68.4L479.1 67.2M448.3 33.2L449.5 33.2M514.3 33.2L513.1 33.2M481.3 2.4L481.3 3.6M481.3 68.4L481.3 67.2M448.3 35.4L449.5 35.4M514.3 35.4L513.1 35.4M483.5 2.4L483.5 3.6M483.5 68.4L483.5 67.2M448.3 37.6L449.5 37.6M514.3 37.6L513.1 37.6M485.7 2.4L485.7 3.6M485.7 68.4L485.7 67.2M448.3 39.8L449.5 39.8M514.3 39.8L513.1 39.8M487.9 2.4L487.9 3.6M487.9 68.4L487.9 67.2M448.3 42L449.5 42M514.3 42L513.1 42M490.1 2.4L490.1 3.6M490.1 68.4L490.1 67.2M448.3 44.2L449.5 44.2M514.3 44.2L513.1 44.2M492.3 2.4L492.3 3.6M492.3 68.4L492.3 67.2M448.3 46.4L449.5 46.4M514.3 46.4L513.1 46.4M494.5 2.4L494.5 3.6M494.5 68.4L494.5 67.2M448.3 48.6L449.5 48.6M514.3 48.6L513.1 48.6M496.7 2.4L496.7 3.6M496.7 68.4L496.7 67.2M448.3 50.8L449.5 50.8M514.3 50.8L513.1 50.8M498.9 2.4L498.9 3.6M498.9 68.4L498.9 67.2M448.3 53L449.5 53M514.3 53L513.1 53M501.1 2.4L501.1 3.6M501.1 68.4L501.1 67.2M448.3 55.2L449.5 55.2M514.3 55.2L513.1 55.2M503.3 2.4L503.3 3.6M503.3 68.4L503.3 67.2M448.3 57.4L449.5 57.4M514.3 57.4L513.1 57.4M505.5 2.4L505.5 3.6M505.5 68.4L505.5 67.2M448.3 59.6L449.5 59.6M514.3 59.6L513.1 59.6M507.7 2.4L507.7 3.6M507.7 68.4L507.7 67.2M448.3 61.8L449.5 61.8M514.3 61.8L513.1 61.8M509.9 2.4L509.9 3.6M509.9 68.4L509.9 67.2M448.3 64L449.5 64M514.3 64L513.1 64M512.1 2.4L512.1 3.6M512.1 68.4L512.1 67.2M448.3 66.2L449.5 66.2M514.3 66.2L513.1 66.2M514.3 2.4L514.3 3.6M514.3 68.4L514.3 67.2M448.3 68.4L449.5 68.4M514.3 68.4L513.1 68.4" fill="none" stroke="#888" stroke-width="0.6"/>
<rect x="448.30" y="2.40" width="66.00" height="66.00" fill="none" stroke="#555" stroke-width="0.9"/>
<circle cx="481.3" cy="35.4" r="22" fill="none" stroke="#666" stroke-width="1"/>
<polyline points="474.10,33.30 479.00,25.80 483.90,18.20 486.00,16.80 490.20,14.40" fill="none" stroke="#ff00ff" stroke-width="2.2" stroke-linejoin="round"/>
<polyline points="490.20,14.40 492.70,12.90 495.20,13.80" fill="none" stroke="#888" stroke-width="1.3" stroke-linejoin="round"/>
<polyline points="495.20,13.60 496.50,17.60 496.40,21.00 496.00,25.20" fill="none" stroke="#ff00ff" stroke-width="2.2" stroke-linejoin="round"/>
<path d="M483.9,18.6 L486.4,10.6 L486.6,16.0 L492.3,17.3 Z" fill="#ff00ff"/>
<text x="40.50" y="14.50" font-size="12" text-anchor="start" fill="#000" font-family="'Liberation Sans', Arial, sans-serif" font-weight="normal">(a)</text>
<text x="106.30" y="80.00" font-size="9.6" text-anchor="middle" fill="#000" font-family="'Liberation Sans', Arial, sans-serif" font-weight="normal">1</text>
<text x="93.00" y="16.80" font-size="9.6" text-anchor="end" fill="#000" font-family="'Liberation Sans', Arial, sans-serif" font-weight="normal">1</text>
<text x="128.30" y="80.00" font-size="9.6" text-anchor="middle" fill="#000" font-family="'Liberation Sans', Arial, sans-serif" font-weight="normal">0</text>
<text x="93.00" y="38.80" font-size="9.6" text-anchor="end" fill="#000" font-family="'Liberation Sans', Arial, sans-serif" font-weight="normal">0</text>
<text x="150.30" y="80.00" font-size="9.6" text-anchor="middle" fill="#000" font-family="'Liberation Sans', Arial, sans-serif" font-weight="normal">-1</text>
<text x="93.00" y="60.80" font-size="9.6" text-anchor="end" fill="#000" font-family="'Liberation Sans', Arial, sans-serif" font-weight="normal">-1</text>
<text x="128.30" y="90.00" font-size="10" text-anchor="middle" fill="#000" font-family="'Liberation Serif', 'Times New Roman', serif" font-weight="normal">X(Rm)</text>
<text x="79.30" y="35.40" font-size="10" text-anchor="middle" fill="#000" font-family="'Liberation Serif', 'Times New Roman', serif" font-weight="normal" transform="rotate(-90 79.30000000000001 35.4)" dy="0.35em">Y(Rm)</text>
<text x="292.60" y="80.00" font-size="9.6" text-anchor="middle" fill="#000" font-family="'Liberation Sans', Arial, sans-serif" font-weight="normal">1</text>
<text x="279.30" y="16.80" font-size="9.6" text-anchor="end" fill="#000" font-family="'Liberation Sans', Arial, sans-serif" font-weight="normal">1</text>
<text x="314.60" y="80.00" font-size="9.6" text-anchor="middle" fill="#000" font-family="'Liberation Sans', Arial, sans-serif" font-weight="normal">0</text>
<text x="279.30" y="38.80" font-size="9.6" text-anchor="end" fill="#000" font-family="'Liberation Sans', Arial, sans-serif" font-weight="normal">0</text>
<text x="336.60" y="80.00" font-size="9.6" text-anchor="middle" fill="#000" font-family="'Liberation Sans', Arial, sans-serif" font-weight="normal">-1</text>
<text x="279.30" y="60.80" font-size="9.6" text-anchor="end" fill="#000" font-family="'Liberation Sans', Arial, sans-serif" font-weight="normal">-1</text>
<text x="314.60" y="90.00" font-size="10" text-anchor="middle" fill="#000" font-family="'Liberation Serif', 'Times New Roman', serif" font-weight="normal">X(Rm)</text>
<text x="265.60" y="35.40" font-size="10" text-anchor="middle" fill="#000" font-family="'Liberation Serif', 'Times New Roman', serif" font-weight="normal" transform="rotate(-90 265.6 35.4)" dy="0.35em">Z(Rm)</text>
<text x="459.30" y="80.00" font-size="9.6" text-anchor="middle" fill="#000" font-family="'Liberation Sans', Arial, sans-serif" font-weight="normal">1</text>
<text x="446.00" y="16.80" font-size="9.6" text-anchor="end" fill="#000" font-family="'Liberation Sans', Arial, sans-serif" font-weight="normal">1</text>
<text x="481.30" y="80.00" font-size="9.6" text-anchor="middle" fill="#000" font-family="'Liberation Sans', Arial, sans-serif" font-weight="normal">0</text>
<text x="446.00" y="38.80" font-size="9.6" text-anchor="end" fill="#000" font-family="'Liberation Sans', Arial, sans-serif" font-weight="normal">0</text>
<text x="503.30" y="80.00" font-size="9.6" text-anchor="middle" fill="#000" font-family="'Liberation Sans', Arial, sans-serif" font-weight="normal">-1</text>
<text x="446.00" y="60.80" font-size="9.6" text-anchor="end" fill="#000" font-family="'Liberation Sans', Arial, sans-serif" font-weight="normal">-1</text>
<text x="481.30" y="90.00" font-size="10" text-anchor="middle" fill="#000" font-family="'Liberation Serif', 'Times New Roman', serif" font-weight="normal">Y(Rm)</text>
<text x="432.30" y="35.40" font-size="10" text-anchor="middle" fill="#000" font-family="'Liberation Serif', 'Times New Roman', serif" font-weight="normal" transform="rotate(-90 432.3 35.4)" dy="0.35em">Z(Rm)</text>
<path d="M181.5 144.2L181.5 197.5M281.5 144.2L281.5 197.5M381.4 144.2L381.4 197.5M481.4 144.2L481.4 197.5M81.6 170.8L581.3 170.8" fill="none" stroke="#e3e3e3" stroke-width="0.8"/>
<polyline points="81.30,183.12 82.93,182.95 84.56,183.45 86.19,182.87 87.82,183.34 89.45,183.17 91.08,182.86 92.71,183.31 94.34,182.84 95.97,183.23 97.60,182.87 99.15,182.95 100.71,183.35 102.26,183.81 103.82,183.17 105.37,183.33 106.92,183.80 108.48,184.18 110.03,183.87 111.58,183.75 113.14,184.39 114.69,183.52 116.25,184.40 117.80,183.89 119.31,183.79 120.83,183.81 122.34,184.05 123.85,184.60 125.37,184.01 126.88,184.46 128.39,184.57 129.91,184.35 131.42,184.57 132.93,184.13 134.45,184.17 135.96,184.37 137.47,184.89 138.99,184.68 140.50,184.61 142.05,184.99 143.59,184.95 145.14,184.90 146.68,185.49 148.23,185.50 149.78,185.14 151.32,185.57 152.87,185.63 154.42,186.08 155.96,186.03 157.51,185.69 159.05,186.48 160.60,185.72 162.18,185.57 163.75,185.46 165.32,184.40 166.90,184.29 168.60,184.91 170.30,186.62 172.00,187.79 173.70,188.67 175.47,188.60 177.25,187.66 179.03,187.67 180.80,187.19 182.30,187.34 183.80,187.38 185.30,187.92 186.80,188.18 188.30,187.87 190.80,186.46 192.32,185.56 193.84,185.90 195.36,185.55 196.88,185.59 198.40,185.12 200.07,185.45 201.73,186.42 203.40,187.57 205.05,186.70 206.70,186.91 208.35,186.39 210.00,186.12 211.67,186.29 213.33,187.23 215.00,186.83 216.50,186.47 218.00,186.14 219.50,186.15 221.00,184.88 222.67,185.95 224.33,186.75 226.00,187.78 227.54,187.66 229.08,187.64 230.62,187.00 232.16,187.08 233.70,186.96 235.27,186.78 236.85,186.16 238.43,184.65 240.00,184.30 245.10,186.75 246.38,186.99 247.65,187.12 248.92,187.74 250.20,188.08 251.45,186.98 252.70,186.01 253.95,186.39 255.20,185.84 256.45,186.63 257.70,187.81 258.95,187.08 260.20,186.53 261.45,186.54 262.70,186.45 263.98,184.88 265.25,186.25 266.52,185.68 267.80,185.55 269.00,189.00 270.27,188.42 271.53,188.66 272.80,188.31 274.07,189.69 275.35,188.87 276.62,189.21 277.90,190.40 281.60,186.60 286.70,187.90 290.50,191.60 293.00,174.00 295.00,177.80 296.80,185.30 299.30,184.10 301.80,185.30 304.80,169.70 306.80,184.10 310.10,186.10 313.10,186.60 315.60,175.30 319.40,177.80 323.20,181.60 327.00,179.80 330.80,165.70 333.30,171.50 337.10,179.00 340.80,177.80 344.60,171.50 348.40,170.20 352.20,169.70 355.90,172.70 359.70,177.30 363.50,166.40 367.30,165.20 373.10,160.70 376.10,165.20 381.10,170.20 384.90,172.70 390.10,178.30 393.90,175.30 397.60,172.70 405.20,171.50 409.00,166.40 414.00,155.10 417.80,152.10 421.60,157.60 424.10,170.20 426.60,174.00 430.40,171.50 434.20,170.70 437.90,172.20 441.70,171.50 445.50,172.70 449.30,171.50 453.00,173.20 458.10,175.30 463.10,176.50 466.90,174.00 470.70,171.50 475.70,169.70 479.50,172.20 480.80,175.30 481.30,160.20" fill="none" stroke="#000" stroke-width="1.05" stroke-linejoin="round"/>
<polyline points="481.30,159.44 481.93,159.00 482.55,159.13 483.18,158.06 483.80,157.60 484.43,156.29 485.05,154.46 485.68,153.45 486.30,150.87 486.97,154.51 487.63,155.26 488.30,155.49 488.93,156.83 489.55,158.15 490.18,159.27 490.80,159.72 491.43,161.09 492.07,160.95 492.70,159.06 493.33,158.59 493.97,157.04 494.60,156.57 495.23,156.89 495.85,156.39 496.48,157.56 497.10,155.52 497.73,154.74 498.37,156.74 499.00,155.22 499.63,153.81 500.27,154.43 500.90,152.67 501.52,153.65 502.15,154.49 502.77,153.87 503.40,153.11 504.02,151.65 504.65,151.60 505.27,150.76 505.90,152.01 506.53,151.68 507.17,152.63 507.80,151.76 508.43,151.78 509.07,153.61 509.70,154.36 510.30,152.58 510.90,151.03 511.50,149.63 512.17,149.02 512.83,147.29 513.50,147.65 514.12,147.37 514.75,146.68 515.38,146.82 516.00,147.63 516.62,147.72 517.25,149.00 517.88,149.84 518.50,148.66 519.14,150.04 519.77,150.27 520.41,150.28 521.05,148.85 521.69,148.57 522.33,148.69 522.96,148.71 523.60,148.83 524.23,150.05 524.85,150.89 525.48,150.86 526.10,150.05 526.73,150.62 527.35,151.13 527.98,149.40 528.60,151.02 529.24,151.54 529.88,151.08 530.51,150.88 531.15,150.04 531.79,149.14 532.43,150.60 533.06,149.29 533.70,150.38 534.34,150.92 534.98,149.51 535.62,149.62 536.25,151.13 536.89,150.65 537.53,149.30 538.17,149.28 538.81,149.43 539.45,151.48 540.08,151.32 540.72,149.70 541.36,151.56 542.00,152.05 542.61,151.25 543.22,150.49 543.84,151.05 544.45,150.01 545.06,149.74 545.67,152.27 546.28,151.48 546.89,151.20 547.51,152.30 548.12,151.04 548.73,152.22 549.34,152.14 549.95,150.58 550.56,150.73 551.18,150.88 551.79,150.78 552.40,151.72 553.01,150.75 553.62,151.04 554.24,150.17 554.85,152.07 555.46,150.50 556.07,150.65 556.68,150.85 557.29,151.56 557.91,150.18 558.52,151.35 559.13,150.15 559.74,150.10 560.35,149.96 560.96,148.52 561.58,149.49 562.19,148.70 562.80,148.11 563.41,150.13 564.02,148.45 564.64,149.19 565.25,149.80 565.86,149.31 566.47,148.67 567.08,149.12 567.69,149.17 568.31,149.72 568.92,147.91 569.53,149.04 570.14,148.18 570.75,148.21 571.36,149.45 571.98,148.71 572.59,148.81 573.20,149.28 573.81,149.99 574.43,149.08 575.04,149.84 575.66,149.87 576.27,150.20 576.89,150.99 577.50,150.68 578.40,152.39 579.30,153.74 580.05,153.90 580.80,151.70" fill="none" stroke="#000" stroke-width="1.35" stroke-linejoin="round"/>
<polyline points="81.60,196.40 160.00,195.40 240.00,192.90 255.20,192.40 280.40,191.60 293.00,192.40 305.60,193.40 330.80,192.90 348.40,190.40 356.00,189.90 366.00,192.90 381.00,190.40 390.00,191.60 400.20,185.30 414.00,181.00 420.30,184.10 425.30,187.90 435.40,191.60 443.00,189.10 450.50,191.60 460.60,190.40 469.40,187.00 478.20,190.40 485.80,191.60 495.90,192.00 503.90,194.10 512.50,191.50 522.90,190.70 533.30,192.70 542.00,195.50 581.00,195.00" fill="none" stroke="#ff2020" stroke-width="1.0" stroke-linejoin="round" stroke-dasharray="3,2.2"/>
<path d="M81.6 144.2L81.6 147.4M81.6 197.5L81.6 194.3M181.5 144.2L181.5 147.4M181.5 197.5L181.5 194.3M281.5 144.2L281.5 147.4M281.5 197.5L281.5 194.3M381.4 144.2L381.4 147.4M381.4 197.5L381.4 194.3M481.4 144.2L481.4 147.4M481.4 197.5L481.4 194.3M581.3 144.2L581.3 147.4M581.3 197.5L581.3 194.3" fill="none" stroke="#333" stroke-width="0.8"/>
<path d="M81.6 144.2L81.6 146M81.6 197.5L81.6 195.7M101.6 144.2L101.6 146M101.6 197.5L101.6 195.7M121.6 144.2L121.6 146M121.6 197.5L121.6 195.7M141.6 144.2L141.6 146M141.6 197.5L141.6 195.7M161.6 144.2L161.6 146M161.6 197.5L161.6 195.7M181.5 144.2L181.5 146M181.5 197.5L181.5 195.7M201.5 144.2L201.5 146M201.5 197.5L201.5 195.7M221.5 144.2L221.5 146M221.5 197.5L221.5 195.7M241.5 144.2L241.5 146M241.5 197.5L241.5 195.7M261.5 144.2L261.5 146M261.5 197.5L261.5 195.7M281.5 144.2L281.5 146M281.5 197.5L281.5 195.7M301.5 144.2L301.5 146M301.5 197.5L301.5 195.7M321.5 144.2L321.5 146M321.5 197.5L321.5 195.7M341.4 144.2L341.4 146M341.4 197.5L341.4 195.7M361.4 144.2L361.4 146M361.4 197.5L361.4 195.7M381.4 144.2L381.4 146M381.4 197.5L381.4 195.7M401.4 144.2L401.4 146M401.4 197.5L401.4 195.7M421.4 144.2L421.4 146M421.4 197.5L421.4 195.7M441.4 144.2L441.4 146M441.4 197.5L441.4 195.7M461.4 144.2L461.4 146M461.4 197.5L461.4 195.7M481.4 144.2L481.4 146M481.4 197.5L481.4 195.7M501.4 144.2L501.4 146M501.4 197.5L501.4 195.7M521.3 144.2L521.3 146M521.3 197.5L521.3 195.7M541.3 144.2L541.3 146M541.3 197.5L541.3 195.7M561.3 144.2L561.3 146M561.3 197.5L561.3 195.7M581.3 144.2L581.3 146M581.3 197.5L581.3 195.7" fill="none" stroke="#333" stroke-width="0.7"/>
<path d="M81.6 197.5L84.8 197.5M581.3 197.5L578.1 197.5M81.6 170.8L84.8 170.8M581.3 170.8L578.1 170.8M81.6 144.2L84.8 144.2M581.3 144.2L578.1 144.2" fill="none" stroke="#333" stroke-width="0.8"/>
<path d="M81.6 190.8L83.4 190.8M581.3 190.8L579.5 190.8M81.6 184.2L83.4 184.2M581.3 184.2L579.5 184.2M81.6 177.5L83.4 177.5M581.3 177.5L579.5 177.5M81.6 164.2L83.4 164.2M581.3 164.2L579.5 164.2M81.6 157.5L83.4 157.5M581.3 157.5L579.5 157.5M81.6 150.9L83.4 150.9M581.3 150.9L579.5 150.9" fill="none" stroke="#333" stroke-width="0.7"/>
<rect x="81.60" y="144.20" width="499.70" height="53.30" fill="none" stroke="#404040" stroke-width="0.9"/>
<text x="80.20" y="200.60" font-size="8.7" text-anchor="end" fill="#000" font-family="'Liberation Sans', Arial, sans-serif" font-weight="normal">0</text>
<text x="80.20" y="173.95" font-size="8.7" text-anchor="end" fill="#000" font-family="'Liberation Sans', Arial, sans-serif" font-weight="normal">20</text>
<text x="80.20" y="147.30" font-size="8.7" text-anchor="end" fill="#000" font-family="'Liberation Sans', Arial, sans-serif" font-weight="normal">40</text>
<text x="65.50" y="171.00" font-size="8.5" text-anchor="middle" fill="#000" font-family="'Liberation Sans', Arial, sans-serif" font-weight="normal" transform="rotate(-90 65.5 171)" dy="0.35em">B(nT)</text>
<text x="1.00" y="158.40" font-size="12.5" text-anchor="start" fill="#000" font-family="'Liberation Sans', Arial, sans-serif" font-weight="normal">(b)</text>
<text x="586.20" y="158.60" font-size="10.5" text-anchor="start" fill="#000" font-family="'Liberation Serif', 'Times New Roman', serif" font-weight="normal">Obs</text>
<text x="586.60" y="191.80" font-size="11" text-anchor="start" fill="#ff0000" font-family="'Liberation Serif', 'Times New Roman', serif" font-weight="normal">Model</text>
<text x="331.50" y="140.70" font-size="12.2" text-anchor="middle" fill="#000" font-family="'Liberation Sans', Arial, sans-serif" font-weight="bold">Case: 2019/10/08&#160;&#160; Orbit 10075</text>
<path d="M81.6 247.1L79.8 247.1M581.3 247.1L583.1 247.1M81.6 244L79.8 244M581.3 244L583.1 244M81.6 241.6L79.8 241.6M581.3 241.6L583.1 241.6M81.6 239.7L79.8 239.7M581.3 239.7L583.1 239.7M81.6 238L79.8 238M581.3 238L583.1 238M81.6 236.6L79.8 236.6M581.3 236.6L583.1 236.6M81.6 235.3L79.8 235.3M581.3 235.3L583.1 235.3M81.6 234.2L78.6 234.2M581.3 234.2L584.3 234.2M81.6 226.8L79.8 226.8M581.3 226.8L583.1 226.8M81.6 222.5L79.8 222.5M581.3 222.5L583.1 222.5M81.6 219.4L79.8 219.4M581.3 219.4L583.1 219.4M81.6 217L79.8 217M581.3 217L583.1 217M81.6 215.1L79.8 215.1M581.3 215.1L583.1 215.1M81.6 213.4L79.8 213.4M581.3 213.4L583.1 213.4M81.6 212L79.8 212M581.3 212L583.1 212M81.6 210.7L79.8 210.7M581.3 210.7L583.1 210.7M81.6 209.6L78.6 209.6M581.3 209.6L584.3 209.6M81.6 202.2L79.8 202.2M581.3 202.2L583.1 202.2M81.6 197.9L79.8 197.9M581.3 197.9L583.1 197.9" fill="none" stroke="#333" stroke-width="0.7"/>
<path d="M81.6 251.3L81.6 256.3" fill="none" stroke="#333" stroke-width="0.8"/>
<path d="M101.6 251.3L101.6 253.9M121.6 251.3L121.6 253.9M141.6 251.3L141.6 253.9M161.6 251.3L161.6 253.9" fill="none" stroke="#333" stroke-width="0.7"/>
<path d="M181.5 251.3L181.5 256.3" fill="none" stroke="#333" stroke-width="0.8"/>
<path d="M201.5 251.3L201.5 253.9M221.5 251.3L221.5 253.9M241.5 251.3L241.5 253.9M261.5 251.3L261.5 253.9" fill="none" stroke="#333" stroke-width="0.7"/>
<path d="M281.5 251.3L281.5 256.3" fill="none" stroke="#333" stroke-width="0.8"/>
<path d="M301.5 251.3L301.5 253.9M321.5 251.3L321.5 253.9M341.4 251.3L341.4 253.9M361.4 251.3L361.4 253.9" fill="none" stroke="#333" stroke-width="0.7"/>
<path d="M381.4 251.3L381.4 256.3" fill="none" stroke="#333" stroke-width="0.8"/>
<path d="M401.4 251.3L401.4 253.9M421.4 251.3L421.4 253.9M441.4 251.3L441.4 253.9M461.4 251.3L461.4 253.9" fill="none" stroke="#333" stroke-width="0.7"/>
<path d="M481.4 251.3L481.4 256.3" fill="none" stroke="#333" stroke-width="0.8"/>
<path d="M501.4 251.3L501.4 253.9M521.3 251.3L521.3 253.9M541.3 251.3L541.3 253.9M561.3 251.3L561.3 253.9" fill="none" stroke="#333" stroke-width="0.7"/>
<path d="M581.3 251.3L581.3 256.3" fill="none" stroke="#333" stroke-width="0.8"/>
<path d="M81.3 251.3L581.6 251.3M81.6 197.5L81.6 251.3M581.3 197.5L581.3 251.3" fill="none" stroke="#404040" stroke-width="0.9"/>
<text x="76.20" y="212.91" font-size="9.2" text-anchor="end" font-family="'Liberation Sans', Arial, sans-serif" fill="#000">10<tspan font-size="6.4" dy="-4.1">3</tspan></text>
<text x="76.20" y="237.51" font-size="9.2" text-anchor="end" font-family="'Liberation Sans', Arial, sans-serif" fill="#000">10<tspan font-size="6.4" dy="-4.1">2</tspan></text>
<text x="44.00" y="224.00" font-size="8.5" text-anchor="middle" fill="#000" font-family="'Liberation Sans', Arial, sans-serif" font-weight="normal" transform="rotate(-90 44 224)" dy="0.35em">SWIA</text>
<text x="56.00" y="224.30" font-size="8.5" text-anchor="middle" fill="#000" font-family="'Liberation Sans', Arial, sans-serif" font-weight="normal" transform="rotate(-90 56 224.3)" dy="0.35em">Ei(eV/q)</text>
<text x="1.00" y="211.50" font-size="12.5" text-anchor="start" fill="#000" font-family="'Liberation Sans', Arial, sans-serif" font-weight="normal">(c)</text>
<text x="81.60" y="267.30" font-size="8.7" text-anchor="middle" fill="#000" font-family="'Liberation Sans', Arial, sans-serif" font-weight="normal">23:10</text>
<text x="181.54" y="267.30" font-size="8.7" text-anchor="middle" fill="#000" font-family="'Liberation Sans', Arial, sans-serif" font-weight="normal">23:20</text>
<text x="281.48" y="267.30" font-size="8.7" text-anchor="middle" fill="#000" font-family="'Liberation Sans', Arial, sans-serif" font-weight="normal">23:30</text>
<text x="381.42" y="267.30" font-size="8.7" text-anchor="middle" fill="#000" font-family="'Liberation Sans', Arial, sans-serif" font-weight="normal">23:40</text>
<text x="481.36" y="267.30" font-size="8.7" text-anchor="middle" fill="#000" font-family="'Liberation Sans', Arial, sans-serif" font-weight="normal">23:50</text>
<text x="581.30" y="267.30" font-size="8.7" text-anchor="middle" fill="#000" font-family="'Liberation Sans', Arial, sans-serif" font-weight="normal">00:00</text>
<defs><linearGradient id="cbc" x1="0" y1="0" x2="0" y2="1"><stop offset="0.000" stop-color="#ff0000"/><stop offset="0.016" stop-color="#ff0d06"/><stop offset="0.031" stop-color="#ff190d"/><stop offset="0.047" stop-color="#ff2513"/><stop offset="0.062" stop-color="#ff3219"/><stop offset="0.078" stop-color="#ff3e1f"/><stop offset="0.094" stop-color="#ff4a25"/><stop offset="0.109" stop-color="#ff562c"/><stop offset="0.125" stop-color="#ff6232"/><stop offset="0.141" stop-color="#ff6d38"/><stop offset="0.156" stop-color="#ff783e"/><stop offset="0.172" stop-color="#ff8344"/><stop offset="0.188" stop-color="#ff8e4a"/><stop offset="0.203" stop-color="#ff9850"/><stop offset="0.219" stop-color="#ffa256"/><stop offset="0.234" stop-color="#ffab5c"/><stop offset="0.250" stop-color="#ffb462"/><stop offset="0.266" stop-color="#f7bd67"/><stop offset="0.281" stop-color="#efc56d"/><stop offset="0.297" stop-color="#e7cd73"/><stop offset="0.312" stop-color="#dfd478"/><stop offset="0.328" stop-color="#d7db7e"/><stop offset="0.344" stop-color="#cfe183"/><stop offset="0.359" stop-color="#c7e788"/><stop offset="0.375" stop-color="#bfec8e"/><stop offset="0.391" stop-color="#b7f093"/><stop offset="0.406" stop-color="#aff498"/><stop offset="0.422" stop-color="#a7f79d"/><stop offset="0.438" stop-color="#9ffaa2"/><stop offset="0.453" stop-color="#97fca7"/><stop offset="0.469" stop-color="#8ffeab"/><stop offset="0.484" stop-color="#87ffb0"/><stop offset="0.500" stop-color="#80ffb4"/><stop offset="0.516" stop-color="#78ffb9"/><stop offset="0.531" stop-color="#70febd"/><stop offset="0.547" stop-color="#68fcc1"/><stop offset="0.562" stop-color="#60fac5"/><stop offset="0.578" stop-color="#58f7c9"/><stop offset="0.594" stop-color="#50f4cd"/><stop offset="0.609" stop-color="#48f0d0"/><stop offset="0.625" stop-color="#40ecd4"/><stop offset="0.641" stop-color="#38e7d7"/><stop offset="0.656" stop-color="#30e1db"/><stop offset="0.672" stop-color="#28dbde"/><stop offset="0.688" stop-color="#20d4e1"/><stop offset="0.703" stop-color="#18cde4"/><stop offset="0.719" stop-color="#10c5e7"/><stop offset="0.734" stop-color="#08bde9"/><stop offset="0.750" stop-color="#00b4ec"/><stop offset="0.766" stop-color="#08abee"/><stop offset="0.781" stop-color="#10a2f0"/><stop offset="0.797" stop-color="#1898f2"/><stop offset="0.812" stop-color="#208ef4"/><stop offset="0.828" stop-color="#2883f6"/><stop offset="0.844" stop-color="#3078f7"/><stop offset="0.859" stop-color="#386df9"/><stop offset="0.875" stop-color="#4062fa"/><stop offset="0.891" stop-color="#4856fb"/><stop offset="0.906" stop-color="#504afc"/><stop offset="0.922" stop-color="#583efd"/><stop offset="0.938" stop-color="#6032fe"/><stop offset="0.953" stop-color="#6825fe"/><stop offset="0.969" stop-color="#7019ff"/><stop offset="0.984" stop-color="#780dff"/><stop offset="1.000" stop-color="#8000ff"/></linearGradient></defs>
<rect x="583.10" y="198.10" width="10.00" height="53.10" fill="url(#cbc)" stroke="#555" stroke-width="0.6"/>
<text x="596.30" y="207.35" font-size="8.3" text-anchor="start" fill="#000" font-family="'Liberation Sans', Arial, sans-serif" font-weight="normal">6</text>
<text x="596.30" y="222.96" font-size="8.3" text-anchor="start" fill="#000" font-family="'Liberation Sans', Arial, sans-serif" font-weight="normal">5.5</text>
<text x="596.30" y="238.58" font-size="8.3" text-anchor="start" fill="#000" font-family="'Liberation Sans', Arial, sans-serif" font-weight="normal">5</text>
<text x="596.30" y="254.20" font-size="8.3" text-anchor="start" fill="#000" font-family="'Liberation Sans', Arial, sans-serif" font-weight="normal">4.5</text>
<text x="617.30" y="224.90" font-size="8.5" text-anchor="middle" fill="#000" font-family="'Liberation Sans', Arial, sans-serif" font-weight="normal" transform="rotate(-90 617.3 224.9)" dy="0.35em">Log(DEF)</text>
<text x="629.7" y="224.9" font-size="8.3" text-anchor="middle" font-family="'Liberation Sans', Arial, sans-serif" transform="rotate(-90 629.7 224.9)" dy="0.35em">keV/(cm<tspan font-size="6.5" dy="-3.5">2</tspan><tspan dy="3.5"> s sr keV)</tspan></text>
<path d="M511.3 144.2L511.3 250.8" fill="none" stroke="#0000ff" stroke-width="1.4" stroke-dasharray="4,2.5"/>
<text x="511.10" y="143.00" font-size="8.2" text-anchor="middle" fill="#0000ff" font-family="'Liberation Sans', Arial, sans-serif" font-weight="bold">MPB</text>
<path d="M271.5 251.8L115.6 270.8M341.4 251.8L547.4 270.8" fill="none" stroke="#333" stroke-width="0.7"/>
<path d="M177.3 270.8L177.3 319.7M239 270.8L239 319.7M300.7 270.8L300.7 319.7M362.3 270.8L362.3 319.7M424 270.8L424 319.7M485.7 270.8L485.7 319.7M115.6 276.4L547.4 276.4M115.6 296L547.4 296M115.6 315.6L547.4 315.6" fill="none" stroke="#e3e3e3" stroke-width="0.8"/>
<polyline points="115.70,289.08 117.88,289.28 120.05,289.61 122.23,289.53 124.40,289.70 126.48,289.84 128.56,289.74 130.64,290.01 132.72,290.16 134.80,290.35 136.88,289.86 138.96,289.82 141.04,289.58 143.12,289.79 145.20,289.60 147.38,289.17 149.55,289.54 151.72,289.43 153.90,289.18 155.90,289.36 157.90,289.33 159.90,289.46 162.50,291.41 166.00,288.58 168.60,287.80 171.20,286.97 173.28,286.75 175.36,286.84 177.44,286.71 179.52,286.79 181.60,286.51 183.68,286.75 185.76,286.86 187.84,287.12 189.92,287.20 192.00,287.29 194.18,287.70 196.35,287.75 198.52,287.72 200.70,287.70 202.76,287.75 204.82,287.94 206.88,288.21 208.94,288.35 211.00,288.93 213.33,289.05 215.67,289.57 218.00,289.64 220.00,290.73 222.08,290.27 224.16,289.45 226.24,289.15 228.32,289.11 230.40,288.48 232.70,289.14 235.00,289.25 237.30,289.49 239.90,291.46 242.50,287.24 245.10,284.08 247.70,281.09 250.30,278.32 252.90,279.50 255.50,280.26 258.10,280.81 260.28,281.75 262.45,282.55 264.62,283.40 266.80,284.65 268.83,285.07 270.87,286.00 272.90,286.67 275.05,286.05 277.20,285.82 279.22,285.75 281.23,286.24 283.25,286.21 285.27,286.59 287.28,286.72 289.30,286.98 291.38,287.62 293.46,287.81 295.54,287.84 297.62,288.41 299.70,288.36 302.30,289.05 304.90,289.88 307.50,286.72 310.10,283.40 312.28,281.67 314.45,279.11 316.62,276.95 318.80,275.04 321.40,275.71 324.00,276.60 326.00,277.59 328.00,278.70 330.00,280.04 332.90,282.57 335.23,283.45 337.57,284.04 339.90,284.78 341.92,285.21 343.93,285.16 345.95,285.39 347.97,285.72 349.98,285.56 352.00,285.73 354.02,286.30 356.03,286.46 358.05,286.37 360.07,286.54 362.08,287.02 364.10,287.32 366.28,286.85 368.45,287.13 370.62,286.99 372.80,286.75 375.40,286.16 377.43,284.27 379.47,282.50 381.50,281.23 384.10,279.72 386.70,278.80 388.85,278.85 391.00,279.41 393.15,279.57 395.30,279.70 397.48,279.81 399.65,280.26 401.82,280.11 404.00,280.36 406.18,280.88 408.35,281.38 410.52,281.61 412.70,281.79 414.78,282.39 416.86,282.31 418.94,282.50 421.02,282.90 423.10,283.27 425.40,283.28 427.70,283.54 430.00,283.83 432.26,283.66 434.52,283.16 436.78,282.99 439.04,282.98 441.30,282.74 443.62,282.30 445.95,282.05 448.28,281.72 450.60,281.22 452.62,280.95 454.63,280.73 456.65,280.96 458.67,280.63 460.68,280.55 462.70,279.86 466.40,278.27 468.57,276.96 470.73,275.85 472.90,274.41 475.07,273.78 477.23,272.35 479.40,271.62 481.57,272.89 483.73,274.13 485.90,275.22 488.22,275.53 490.55,275.90 492.88,276.28 495.20,276.33 497.67,277.43 500.13,278.47 502.60,279.39 504.93,279.83 507.25,280.70 509.57,281.41 511.90,281.94 514.23,281.96 516.55,281.84 518.88,281.94 521.20,281.95 523.53,281.84 525.85,282.27 528.17,282.60 530.50,282.69 532.74,282.39 534.98,282.00 537.22,281.96 539.46,281.66 541.70,281.37 544.45,281.37 547.20,281.00" fill="none" stroke="#222" stroke-width="1.05" stroke-linejoin="round"/>
<polyline points="115.70,293.39 117.88,293.60 120.05,293.11 122.23,293.28 124.40,293.09 126.48,292.91 128.56,293.08 130.64,292.92 132.72,292.92 134.80,293.01 137.10,292.94 139.40,293.09 141.70,293.50 144.03,293.26 146.37,292.58 148.70,292.13 151.00,291.44 153.30,290.25 155.60,289.07 159.40,290.40 161.70,295.61 163.40,298.38 166.00,297.35 168.60,296.57 171.20,295.85 173.80,295.06 176.40,294.19 178.48,293.86 180.56,293.88 182.64,293.67 184.72,293.50 186.80,293.60 188.88,293.51 190.96,293.25 193.04,292.93 195.12,292.79 197.20,292.19 199.28,292.29 201.36,292.60 203.44,292.67 205.52,292.80 207.60,293.06 209.68,293.34 211.76,293.46 213.84,293.55 215.92,293.99 218.00,294.24 220.00,293.58 222.18,292.84 224.35,292.27 226.52,292.14 228.70,291.17 231.00,291.20 233.30,290.84 235.60,290.40 237.75,291.95 239.90,292.86 242.10,296.12 244.30,299.48 246.45,297.81 248.60,296.76 250.63,295.04 252.67,293.55 254.70,292.07 256.85,292.36 259.00,292.27 261.15,292.36 263.30,292.38 265.63,292.72 267.97,293.06 270.30,293.19 272.45,294.10 274.60,295.39 276.63,294.87 278.67,294.42 280.70,294.29 282.85,294.23 285.00,293.79 287.15,293.66 289.30,293.52 291.48,293.37 293.65,292.96 295.82,292.68 298.00,292.43 300.30,292.51 302.60,292.98 304.90,293.30 307.50,293.34 310.10,294.22 312.70,296.71 315.30,299.01 317.50,297.43 319.70,295.76 321.85,294.60 324.00,293.04 326.23,293.26 328.45,293.54 330.67,293.62 332.90,293.82 334.98,293.84 337.06,294.20 339.14,294.23 341.22,294.75 343.30,295.06 345.38,294.85 347.46,294.77 349.54,294.40 351.62,294.62 353.70,294.54 355.88,294.24 358.05,293.72 360.22,293.55 362.40,293.01 364.57,293.53 366.75,293.73 368.93,293.70 371.10,293.79 373.70,295.02 376.30,296.13 378.90,294.98 381.50,293.59 383.65,292.24 385.80,291.50 387.95,290.01 390.10,289.25 392.70,289.64 395.30,290.42 397.48,290.87 399.65,290.77 401.82,291.00 404.00,291.41 406.02,291.51 408.03,291.57 410.05,291.49 412.07,291.62 414.08,291.40 416.10,291.62 418.18,291.25 420.26,291.38 422.34,291.59 424.42,291.54 426.50,291.81 428.88,291.69 431.25,291.56 433.62,291.65 436.00,291.43 438.40,291.57 440.80,291.87 443.20,292.37 445.42,292.32 447.64,291.89 449.86,292.14 452.08,292.11 454.30,291.81 456.54,292.10 458.78,292.17 461.02,292.60 463.26,292.84 465.50,293.15 467.67,293.08 469.83,293.77 472.00,293.76 474.17,293.92 476.33,294.33 478.50,294.43 480.97,294.76 483.43,295.23 485.90,295.28 488.25,296.47 490.60,297.36 492.77,297.13 494.93,296.61 497.10,295.78 499.40,295.99 501.70,295.91 504.00,296.17 506.30,296.46 508.62,296.40 510.95,296.09 513.27,295.91 515.60,295.75 517.78,295.89 519.97,295.98 522.15,295.51 524.33,295.77 526.52,295.33 528.70,295.35 530.76,295.36 532.81,295.59 534.87,295.41 536.92,295.43 538.98,295.56 541.03,295.30 543.09,295.62 545.14,295.31 547.20,295.50" fill="none" stroke="#00e000" stroke-width="1.7" stroke-linejoin="round"/>
<polyline points="115.70,298.31 117.88,297.88 120.05,297.55 122.23,297.42 124.40,297.07 126.48,296.76 128.56,296.50 130.64,296.27 132.72,295.81 134.80,295.55 136.88,295.71 138.96,295.65 141.04,295.53 143.12,295.64 145.20,295.46 147.38,295.00 149.55,294.12 151.72,293.80 153.90,293.26 156.05,294.60 158.20,295.61 161.70,298.21 164.30,298.01 166.60,296.96 168.90,296.65 171.20,295.89 173.38,295.09 175.55,294.72 177.72,294.54 179.90,293.88 181.92,293.65 183.93,293.87 185.95,293.51 187.97,293.54 189.98,293.06 192.00,293.05 194.30,293.59 196.60,293.66 198.90,294.15 201.07,294.22 203.25,294.16 205.43,294.01 207.60,293.41 209.68,293.74 211.76,294.01 213.84,294.02 215.92,294.25 218.00,294.14 220.00,293.39 222.18,293.28 224.35,293.12 226.52,293.25 228.70,293.11 230.85,293.13 233.00,292.92 235.15,292.94 237.30,292.95 240.80,292.47 243.40,291.25 246.00,289.91 248.15,288.90 250.30,288.28 252.33,289.69 254.37,290.41 256.40,291.53 258.57,291.54 260.75,291.83 262.93,292.08 265.10,292.27 267.40,293.22 269.70,293.79 272.00,295.00 274.60,296.52 277.20,297.64 279.80,297.43 282.40,297.22 284.70,296.12 287.00,295.08 289.30,294.13 291.48,293.88 293.65,293.21 295.82,293.22 298.00,292.75 300.30,292.30 302.60,291.98 304.90,291.46 307.23,290.95 309.57,290.65 311.90,290.20 314.50,288.81 317.10,287.09 319.70,285.18 321.85,286.81 324.00,288.02 326.00,289.07 328.00,290.12 330.00,290.95 332.90,292.10 335.23,292.22 337.57,292.26 339.90,292.43 342.20,292.30 344.50,291.99 346.80,292.01 348.88,292.11 350.96,292.66 353.04,293.14 355.12,293.34 357.20,293.93 359.28,294.13 361.36,294.18 363.44,294.05 365.52,294.46 367.60,294.38 369.90,294.42 372.20,294.78 374.50,294.93 376.83,293.75 379.17,292.51 381.50,291.65 383.80,291.17 386.10,290.90 388.40,290.63 390.70,291.77 393.00,292.33 395.30,293.66 397.48,293.39 399.65,292.83 401.82,292.58 404.00,292.08 406.08,291.73 408.16,291.40 410.24,290.84 412.32,290.50 414.40,290.40 416.48,290.29 418.56,290.32 420.64,290.61 422.72,290.47 424.80,290.75 427.20,290.80 429.60,291.12 432.00,290.99 434.24,291.07 436.48,290.97 438.72,290.43 440.96,290.70 443.20,290.13 445.42,289.99 447.64,289.53 449.86,289.40 452.08,289.16 454.30,288.58 456.40,289.17 458.50,289.06 460.60,289.26 462.70,289.45 465.00,288.38 467.30,287.39 469.40,286.80 471.50,285.98 473.60,285.07 475.70,284.51 478.00,284.95 480.30,285.46 483.10,287.42 485.90,289.17 488.22,289.68 490.55,290.43 492.88,290.69 495.20,291.40 498.00,291.97 500.80,292.28 503.55,292.09 506.30,291.42 508.62,290.86 510.95,291.15 513.27,290.79 515.60,290.69 517.78,290.80 519.97,290.31 522.15,290.31 524.33,290.39 526.52,290.14 528.70,289.88 530.92,290.04 533.14,289.86 535.36,289.65 537.58,289.31 539.80,289.46 542.27,289.54 544.73,289.59 547.20,289.90" fill="none" stroke="#0000ff" stroke-width="1.7" stroke-linejoin="round"/>
<polyline points="115.70,300.38 117.88,300.49 120.05,300.16 122.23,300.20 124.40,300.18 126.48,299.96 128.56,299.74 130.64,299.78 132.72,299.58 134.80,299.64 137.10,299.52 139.40,299.75 141.70,299.73 144.30,300.32 146.90,300.77 149.10,299.86 151.30,299.40 153.45,298.49 155.60,297.56 158.20,297.23 160.80,296.99 163.40,298.39 165.55,300.08 167.70,301.85 170.03,302.43 172.37,303.06 174.70,303.34 177.00,303.54 179.30,304.07 181.60,304.21 183.78,303.86 185.95,303.12 188.12,302.81 190.30,302.59 192.38,302.48 194.46,302.40 196.54,301.96 198.62,302.00 200.70,301.59 202.76,301.35 204.82,301.41 206.88,301.11 208.94,300.91 211.00,300.54 213.25,300.46 215.50,300.21 217.75,300.15 220.00,300.22 222.18,300.47 224.35,300.29 226.52,300.51 228.70,301.05 230.85,300.31 233.00,299.73 235.15,298.81 237.30,298.26 239.90,299.08 242.10,302.40 244.30,305.23 246.30,307.28 248.30,309.34 250.30,310.91 252.90,310.56 255.50,310.19 258.10,309.81 260.28,308.91 262.45,308.23 264.62,307.45 266.80,307.19 269.40,305.49 272.00,304.19 274.30,304.13 276.60,303.79 278.90,303.59 280.98,303.24 283.06,303.32 285.14,302.81 287.22,302.72 289.30,302.78 291.48,302.04 293.65,301.70 295.82,301.46 298.00,301.00 300.30,300.22 302.60,299.59 304.90,299.13 307.50,301.91 310.10,304.33 312.13,306.51 314.17,309.10 316.20,311.33 318.35,312.56 320.50,313.62 323.10,313.26 325.70,312.67 328.10,310.95 330.50,308.80 332.90,306.91 334.98,306.49 337.06,306.30 339.14,305.82 341.22,305.03 343.30,304.63 345.38,304.49 347.46,304.35 349.54,304.23 351.62,304.08 353.70,303.85 355.78,303.77 357.86,303.63 359.94,303.24 362.02,303.13 364.10,302.73 366.50,302.74 368.90,303.23 371.30,303.49 373.70,303.39 375.85,304.56 378.00,306.11 380.18,307.35 382.35,308.58 384.52,310.01 386.70,311.08 388.85,310.80 391.00,310.08 393.15,309.97 395.30,309.74 397.48,309.39 399.65,309.39 401.82,309.72 404.00,309.80 406.18,308.74 408.35,308.37 410.52,307.47 412.70,307.12 414.78,306.73 416.86,306.19 418.94,305.84 421.02,305.77 423.10,305.31 425.33,305.48 427.55,305.35 429.77,305.37 432.00,305.73 434.24,305.83 436.48,305.98 438.72,306.24 440.96,306.57 443.20,306.80 445.50,306.76 447.80,306.36 450.10,306.41 452.40,306.18 454.46,306.66 456.52,307.01 458.58,307.41 460.64,307.81 462.70,308.23 465.00,308.97 467.30,309.81 469.80,311.47 472.30,313.08 474.80,314.46 477.55,315.86 480.30,317.12 482.80,316.49 485.30,315.68 487.80,314.44 490.12,314.08 492.45,313.85 494.78,313.71 497.10,313.40 499.40,313.13 501.70,312.08 504.00,311.60 506.30,310.91 508.80,310.14 511.30,309.17 513.80,307.84 515.93,307.60 518.06,307.61 520.19,307.48 522.31,307.46 524.44,306.84 526.57,306.69 528.70,306.54 530.92,306.82 533.14,307.09 535.36,307.59 537.58,307.79 539.80,307.86 542.27,307.84 544.73,307.89 547.20,308.00" fill="none" stroke="#ff0000" stroke-width="1.7" stroke-linejoin="round"/>
<path d="M115.6 270.8L115.6 273.8M115.6 319.7L115.6 316.7M177.3 270.8L177.3 273.8M177.3 319.7L177.3 316.7M239 270.8L239 273.8M239 319.7L239 316.7M300.7 270.8L300.7 273.8M300.7 319.7L300.7 316.7M362.3 270.8L362.3 273.8M362.3 319.7L362.3 316.7M424 270.8L424 273.8M424 319.7L424 316.7M485.7 270.8L485.7 273.8M485.7 319.7L485.7 316.7M547.4 270.8L547.4 273.8M547.4 319.7L547.4 316.7" fill="none" stroke="#333" stroke-width="0.8"/>
<path d="M115.6 270.8L115.6 272.6M115.6 319.7L115.6 317.9M127.9 270.8L127.9 272.6M127.9 319.7L127.9 317.9M140.3 270.8L140.3 272.6M140.3 319.7L140.3 317.9M152.6 270.8L152.6 272.6M152.6 319.7L152.6 317.9M164.9 270.8L164.9 272.6M164.9 319.7L164.9 317.9M177.3 270.8L177.3 272.6M177.3 319.7L177.3 317.9M189.6 270.8L189.6 272.6M189.6 319.7L189.6 317.9M202 270.8L202 272.6M202 319.7L202 317.9M214.3 270.8L214.3 272.6M214.3 319.7L214.3 317.9M226.6 270.8L226.6 272.6M226.6 319.7L226.6 317.9M239 270.8L239 272.6M239 319.7L239 317.9M251.3 270.8L251.3 272.6M251.3 319.7L251.3 317.9M263.6 270.8L263.6 272.6M263.6 319.7L263.6 317.9M276 270.8L276 272.6M276 319.7L276 317.9M288.3 270.8L288.3 272.6M288.3 319.7L288.3 317.9M300.7 270.8L300.7 272.6M300.7 319.7L300.7 317.9M313 270.8L313 272.6M313 319.7L313 317.9M325.3 270.8L325.3 272.6M325.3 319.7L325.3 317.9M337.7 270.8L337.7 272.6M337.7 319.7L337.7 317.9M350 270.8L350 272.6M350 319.7L350 317.9M362.3 270.8L362.3 272.6M362.3 319.7L362.3 317.9M374.7 270.8L374.7 272.6M374.7 319.7L374.7 317.9M387 270.8L387 272.6M387 319.7L387 317.9M399.4 270.8L399.4 272.6M399.4 319.7L399.4 317.9M411.7 270.8L411.7 272.6M411.7 319.7L411.7 317.9M424 270.8L424 272.6M424 319.7L424 317.9M436.4 270.8L436.4 272.6M436.4 319.7L436.4 317.9M448.7 270.8L448.7 272.6M448.7 319.7L448.7 317.9M461 270.8L461 272.6M461 319.7L461 317.9M473.4 270.8L473.4 272.6M473.4 319.7L473.4 317.9M485.7 270.8L485.7 272.6M485.7 319.7L485.7 317.9M498.1 270.8L498.1 272.6M498.1 319.7L498.1 317.9M510.4 270.8L510.4 272.6M510.4 319.7L510.4 317.9M522.7 270.8L522.7 272.6M522.7 319.7L522.7 317.9M535.1 270.8L535.1 272.6M535.1 319.7L535.1 317.9M547.4 270.8L547.4 272.6M547.4 319.7L547.4 317.9" fill="none" stroke="#333" stroke-width="0.7"/>
<path d="M115.6 276.4L118.6 276.4M547.4 276.4L544.4 276.4M115.6 296L118.6 296M547.4 296L544.4 296M115.6 315.6L118.6 315.6M547.4 315.6L544.4 315.6" fill="none" stroke="#333" stroke-width="0.8"/>
<path d="M115.6 271.4L117.4 271.4M547.4 271.4L545.6 271.4M115.6 281.3L117.4 281.3M547.4 281.3L545.6 281.3M115.6 286.2L117.4 286.2M547.4 286.2L545.6 286.2M115.6 291.1L117.4 291.1M547.4 291.1L545.6 291.1M115.6 300.9L117.4 300.9M547.4 300.9L545.6 300.9M115.6 305.8L117.4 305.8M547.4 305.8L545.6 305.8M115.6 310.7L117.4 310.7M547.4 310.7L545.6 310.7" fill="none" stroke="#333" stroke-width="0.6"/>
<rect x="115.60" y="270.80" width="431.80" height="48.90" fill="none" stroke="#404040" stroke-width="0.9"/>
<text x="113.50" y="279.45" font-size="8.7" text-anchor="end" fill="#000" font-family="'Liberation Sans', Arial, sans-serif" font-weight="normal">20</text>
<text x="113.50" y="299.10" font-size="8.7" text-anchor="end" fill="#000" font-family="'Liberation Sans', Arial, sans-serif" font-weight="normal">0</text>
<text x="113.50" y="318.75" font-size="8.7" text-anchor="end" fill="#000" font-family="'Liberation Sans', Arial, sans-serif" font-weight="normal">-20</text>
<text x="83.50" y="295.20" font-size="8.5" text-anchor="middle" fill="#000" font-family="'Liberation Sans', Arial, sans-serif" font-weight="normal" transform="rotate(-90 83.5 295.2)" dy="0.35em">B(nT)</text>
<text x="95.40" y="295.20" font-size="8.5" text-anchor="middle" fill="#000" font-family="'Liberation Sans', Arial, sans-serif" font-weight="normal" transform="rotate(-90 95.4 295.2)" dy="0.35em">MSO</text>
<text x="59.00" y="285.00" font-size="12.5" text-anchor="end" fill="#000" font-family="'Liberation Sans', Arial, sans-serif" font-weight="normal">(d)</text>
<text x="552.70" y="279.60" font-size="10" text-anchor="start" fill="#000" font-family="'Liberation Serif', 'Times New Roman', serif" font-weight="normal">Bt</text>
<text x="552.70" y="291.80" font-size="10" text-anchor="start" fill="#ff0000" font-family="'Liberation Serif', 'Times New Roman', serif" font-weight="normal">Bx</text>
<text x="552.70" y="304.00" font-size="10" text-anchor="start" fill="#00dd00" font-family="'Liberation Serif', 'Times New Roman', serif" font-weight="normal">By</text>
<text x="552.70" y="316.40" font-size="10" text-anchor="start" fill="#0000ff" font-family="'Liberation Serif', 'Times New Roman', serif" font-weight="normal">Bz</text>
<path d="M177.3 466.5L177.3 515.1M239 466.5L239 515.1M300.7 466.5L300.7 515.1M362.3 466.5L362.3 515.1M424 466.5L424 515.1M485.7 466.5L485.7 515.1" fill="none" stroke="#e3e3e3" stroke-width="0.8"/>
<path d="M115.6 514.3L547.4 514.3M115.6 513.5L547.4 513.5M115.6 512.9L547.4 512.9M115.6 512.3L547.4 512.3M115.6 508.4L547.4 508.4M115.6 506.5L547.4 506.5M115.6 505.1L547.4 505.1M115.6 504L547.4 504M115.6 503.1L547.4 503.1M115.6 502.3L547.4 502.3M115.6 501.7L547.4 501.7M115.6 501.1L547.4 501.1M115.6 497.2L547.4 497.2M115.6 495.3L547.4 495.3M115.6 493.9L547.4 493.9M115.6 492.8L547.4 492.8M115.6 491.9L547.4 491.9M115.6 491.1L547.4 491.1M115.6 490.5L547.4 490.5M115.6 489.9L547.4 489.9M115.6 486L547.4 486M115.6 484.1L547.4 484.1M115.6 482.7L547.4 482.7M115.6 481.6L547.4 481.6M115.6 480.7L547.4 480.7M115.6 479.9L547.4 479.9M115.6 479.3L547.4 479.3M115.6 478.7L547.4 478.7M115.6 474.8L547.4 474.8M115.6 472.9L547.4 472.9M115.6 471.5L547.4 471.5M115.6 470.4L547.4 470.4M115.6 469.5L547.4 469.5M115.6 468.7L547.4 468.7M115.6 468.1L547.4 468.1M115.6 467.5L547.4 467.5" fill="none" stroke="#e3e3e3" stroke-width="0.7"/>
<path d="M115.6 511.8L547.4 511.8M115.6 500.6L547.4 500.6M115.6 489.4L547.4 489.4M115.6 478.2L547.4 478.2M115.6 467L547.4 467" fill="none" stroke="#e3e3e3" stroke-width="0.8"/>
<polyline points="116.60,485.10 122.70,486.20 131.30,486.20 141.70,486.90 150.40,485.10 159.10,483.90 166.00,482.70 174.70,480.50 183.30,479.30 188.50,480.50 195.50,482.20 200.70,484.50 207.60,486.20 212.80,485.10 218.00,486.50 226.90,485.70 233.90,485.70 239.10,484.50 246.00,479.60 252.10,473.50 257.30,469.20 261.60,470.10 265.90,475.30 269.40,474.70 274.60,478.70 282.40,481.00 291.10,483.40 298.00,484.50 303.20,484.50 306.70,482.70 311.90,479.30 317.10,477.50 324.00,474.40 331.20,475.80 336.40,475.80 339.90,477.00 345.10,480.50 352.00,481.70 360.70,483.40 369.30,484.50 374.50,485.70 379.70,482.70 384.90,480.50 391.90,479.30 398.80,479.90 405.70,482.20 414.40,484.80 421.30,486.50 430.00,486.90 438.50,483.50 443.20,484.80 450.60,484.80 458.00,484.40 462.70,482.60 467.30,479.80 474.80,476.10 481.30,473.30 487.80,474.80 494.30,477.00 500.00,479.00" fill="none" stroke="#3a3a3a" stroke-width="0.9" stroke-linejoin="round"/>
<polyline points="116.60,490.90 120.90,492.10 129.60,490.30 138.30,492.10 141.70,490.00 146.90,490.90 152.10,489.60 159.10,486.20 166.00,484.80 172.90,484.50 178.10,486.50 183.30,490.00 192.00,489.60 197.20,489.10 203.30,489.60 207.60,495.20 212.80,494.80 220.00,496.10 226.90,494.80 232.10,493.10 237.30,488.30 241.70,482.20 245.10,481.00 249.50,482.20 253.80,480.50 259.90,482.70 265.90,486.20 269.40,485.10 275.50,488.60 282.40,490.90 287.60,494.30 291.10,493.80 294.50,496.60 301.50,494.80 304.90,490.00 308.40,486.20 314.50,485.70 317.10,483.90 324.00,480.00 331.20,482.20 336.40,482.70 341.60,485.70 348.50,488.30 353.70,490.00 360.70,493.80 364.10,492.60 368.50,490.00 372.80,492.60 378.00,489.10 384.90,484.80 390.10,486.90 397.10,489.10 402.30,489.60 407.50,492.60 412.70,493.80 417.90,497.80 422.20,493.10 426.50,495.20 432.00,492.80 437.60,490.40 446.90,492.30 456.20,490.00 464.50,488.20 471.00,486.30 478.50,484.10 487.80,484.10 494.30,485.90 506.30,490.00 515.60,491.50 524.90,492.80 532.40,493.40 537.90,491.50 543.50,492.80 547.20,492.80" fill="none" stroke="#4646ff" stroke-width="0.9" stroke-linejoin="round"/>
<polyline points="116.60,495.20 124.40,496.60 131.30,496.60 141.70,498.30 152.10,498.30 158.20,500.40 162.50,497.80 169.50,497.80 174.70,495.50 181.60,496.60 188.50,497.80 195.50,500.40 200.70,501.30 204.10,504.20 209.30,503.50 211.90,505.20 216.30,501.30 226.90,502.10 232.10,503.00 236.50,498.70 240.80,499.50 246.00,497.80 251.20,495.20 257.30,492.10 263.30,495.20 270.30,497.80 277.20,499.50 282.40,501.80 289.30,501.30 294.50,503.90 298.90,505.60 303.20,501.30 310.10,500.70 317.10,499.50 323.10,497.80 331.20,499.50 336.40,496.60 339.90,497.30 343.30,495.50 348.50,500.00 353.70,500.40 360.70,502.10 365.90,501.30 374.50,501.30 381.50,498.70 391.90,497.30 398.80,498.30 405.70,499.50 414.40,503.50 423.10,503.50 432.00,504.00 439.40,504.90 446.90,502.10 454.30,503.40 459.90,506.80 465.50,502.10 472.00,500.80 480.30,497.80 487.80,497.80 497.10,502.10 504.50,504.50 511.90,504.50 519.40,505.30 524.90,507.70 529.60,511.40 533.30,505.30 539.80,507.70 545.80,505.80 547.30,505.50" fill="none" stroke="#f03c3c" stroke-width="0.9" stroke-linejoin="round"/>
<path d="M177.3 515.1L177.3 563.9M239 515.1L239 563.9M300.7 515.1L300.7 563.9M362.3 515.1L362.3 563.9M424 515.1L424 563.9M485.7 515.1L485.7 563.9" fill="none" stroke="#e3e3e3" stroke-width="0.8"/>
<path d="M115.6 561.1L547.4 561.1M115.6 559L547.4 559M115.6 557.3L547.4 557.3M115.6 556L547.4 556M115.6 554.8L547.4 554.8M115.6 553.9L547.4 553.9M115.6 553L547.4 553M115.6 547.1L547.4 547.1M115.6 544.1L547.4 544.1M115.6 541.9L547.4 541.9M115.6 540.3L547.4 540.3M115.6 538.9L547.4 538.9M115.6 537.8L547.4 537.8M115.6 536.8L547.4 536.8M115.6 535.9L547.4 535.9M115.6 530L547.4 530M115.6 527L547.4 527M115.6 524.9L547.4 524.9M115.6 523.2L547.4 523.2M115.6 521.9L547.4 521.9M115.6 520.7L547.4 520.7M115.6 519.8L547.4 519.8M115.6 518.9L547.4 518.9" fill="none" stroke="#e3e3e3" stroke-width="0.7"/>
<path d="M115.6 552.2L547.4 552.2M115.6 535.1L547.4 535.1M115.6 518.1L547.4 518.1" fill="none" stroke="#e3e3e3" stroke-width="0.8"/>
<polyline points="116.60,529.70 124.40,529.70 134.80,529.00 143.50,527.60 153.90,527.90 158.20,528.50 162.50,529.70 167.70,525.90 174.70,522.40 181.60,519.80 185.90,520.30 190.30,519.30 195.50,521.50 200.70,523.30 205.90,524.10 211.00,525.00 220.00,525.00 226.90,525.90 233.90,526.20 239.10,527.30 245.10,524.50 251.20,525.00 257.30,524.50 261.60,525.90 272.00,525.50 278.90,527.30 282.40,529.70 285.90,527.60 292.80,527.90 298.00,529.30 303.20,528.50 306.70,524.50 310.10,521.00 314.50,519.80 318.80,522.40 324.00,525.00 332.90,523.80 339.90,524.50 348.50,525.00 360.70,527.90 369.30,529.30 374.50,529.00 381.50,528.50 388.40,531.90 394.50,535.40 400.50,534.90 405.70,533.70 412.70,532.50 417.90,529.70 422.20,531.40 426.50,529.70 432.00,530.60 437.60,529.70 442.20,527.80 446.90,529.70 450.60,527.20 456.20,526.50 462.70,524.10 467.30,522.80 474.80,523.20 480.30,520.40 487.80,521.70 494.30,523.50 500.00,524.50" fill="none" stroke="#3a3a3a" stroke-width="0.9" stroke-linejoin="round"/>
<polyline points="116.60,542.30 122.70,543.20 129.60,540.60 136.50,540.10 145.20,537.60 153.90,538.90 161.70,538.30 166.00,535.90 174.70,530.70 181.60,533.70 188.50,535.90 193.70,537.10 199.80,540.10 207.60,538.30 216.30,538.90 220.00,538.90 226.90,539.40 232.10,539.40 237.30,543.20 240.80,541.80 245.10,536.60 249.50,538.90 254.70,537.60 259.90,538.30 265.10,539.40 270.30,538.30 275.50,540.10 282.40,542.30 287.60,540.10 292.80,540.10 298.00,538.30 303.20,534.20 306.70,532.50 311.00,527.90 314.50,532.80 319.70,538.00 325.70,538.90 330.00,538.30 336.40,536.60 347.70,534.50 357.20,536.30 367.60,538.00 374.50,537.60 381.50,537.10 390.10,538.30 398.80,540.10 404.00,541.10 410.10,543.50 417.90,540.10 426.50,538.30 432.00,537.10 439.40,534.30 446.90,532.40 454.30,531.00 461.70,529.70 469.20,528.70 476.60,526.90 485.90,526.90 494.30,526.90 500.00,527.00" fill="none" stroke="#4646ff" stroke-width="0.9" stroke-linejoin="round"/>
<polyline points="116.60,557.40 122.70,556.20 129.60,555.30 133.90,556.70 138.30,553.60 145.20,556.20 150.40,550.50 154.70,549.80 160.80,545.80 166.90,543.20 171.20,543.50 176.40,545.30 183.30,548.00 190.30,548.70 194.60,555.30 198.90,559.10 203.30,556.70 211.00,556.70 215.40,556.20 219.70,552.70 226.90,552.70 233.00,553.60 237.30,549.30 242.50,543.20 247.70,540.10 251.20,541.50 256.40,545.80 262.50,549.80 266.80,550.50 271.10,550.50 273.70,558.80 277.20,557.40 282.40,558.40 286.70,557.10 290.20,561.40 293.70,559.70 298.00,563.60 301.50,558.80 304.90,557.40 310.10,546.70 314.50,540.60 318.80,539.40 324.00,544.10 330.00,546.30 336.40,549.30 339.90,550.10 344.20,553.20 348.50,553.60 355.50,556.70 364.10,561.40 371.10,559.70 374.50,555.30 379.70,546.70 383.20,545.80 388.40,547.50 393.60,551.50 397.10,555.00 401.40,553.60 407.50,558.80 414.40,559.70 417.90,560.20 422.20,554.50 426.50,553.60 430.00,556.20 436.00,553.90 439.40,552.90 446.90,551.00 454.30,551.40 459.90,548.20 465.50,544.00 474.80,544.50 482.20,546.40 487.80,549.50 491.50,547.30 496.10,552.50 502.60,551.00 511.90,552.50 517.50,556.60 528.70,559.40 536.10,558.50 545.80,558.80 547.30,558.70" fill="none" stroke="#f03c3c" stroke-width="0.9" stroke-linejoin="round"/>
<path d="M177.3 563.9L177.3 613.2M239 563.9L239 613.2M300.7 563.9L300.7 613.2M362.3 563.9L362.3 613.2M424 563.9L424 613.2M485.7 563.9L485.7 613.2M115.6 569.4L547.4 569.4M115.6 588.9L547.4 588.9M115.6 608.3L547.4 608.3" fill="none" stroke="#e3e3e3" stroke-width="0.8"/>
<polyline points="116.60,577.50 124.40,578.30 134.80,578.70 145.20,580.10 150.40,584.90 153.90,583.50 158.20,585.30 162.50,583.50 167.70,581.50 174.70,579.70 179.90,579.20 185.10,577.50 190.30,576.90 195.50,578.00 204.10,576.90 208.50,578.30 214.50,577.50 219.70,576.60 225.20,580.10 230.40,581.80 235.60,586.10 239.90,590.80 244.30,589.60 250.30,582.70 258.10,576.60 265.10,576.90 269.40,576.30 275.50,578.30 280.70,578.00 285.00,577.50 289.30,576.30 294.50,576.60 299.70,578.30 303.20,581.50 306.70,587.00 310.10,587.30 315.30,590.80 320.50,589.10 326.00,584.40 331.20,581.50 336.40,579.20 343.30,578.70 348.50,577.50 357.20,577.00 364.10,577.00 371.10,579.70 374.50,582.10 378.00,587.00 381.50,590.10 386.70,587.00 391.00,583.20 397.10,580.90 402.30,579.20 407.50,579.70 414.40,586.10 419.60,583.50 425.70,582.70 429.10,592.20 432.00,593.50 439.40,589.80 450.60,584.80 458.00,585.20 465.50,586.70 472.90,582.90 482.20,579.20 494.30,577.70 500.00,577.50" fill="none" stroke="#3a3a3a" stroke-width="0.9" stroke-linejoin="round"/>
<polyline points="116.60,583.50 120.90,580.90 125.30,589.60 131.30,586.10 136.50,585.30 143.50,587.00 148.70,589.10 154.70,590.50 159.10,587.30 163.40,588.40 169.50,585.30 174.70,582.70 179.00,585.30 183.30,588.40 187.70,583.50 192.00,585.60 196.30,583.20 203.30,582.70 208.50,588.70 212.80,591.30 216.30,586.10 220.60,594.30 224.30,589.60 232.10,593.10 239.10,589.60 246.00,584.40 252.90,582.70 259.90,583.20 265.90,583.50 271.10,582.70 277.20,582.70 281.50,576.30 285.90,574.90 292.80,574.00 302.30,572.30 304.90,582.70 306.70,588.70 312.70,589.10 317.10,591.30 323.10,587.00 330.00,585.60 332.90,584.90 339.90,583.50 347.70,581.80 352.00,585.60 356.30,582.70 360.70,591.80 364.10,590.10 368.50,584.40 372.80,591.30 376.30,592.50 381.50,587.90 387.50,585.30 392.70,585.30 397.10,577.50 404.00,577.00 410.90,576.30 417.90,573.50 422.20,574.90 426.20,574.00 427.40,584.40 430.00,604.30 433.50,597.40 434.80,595.40 441.30,591.70 446.90,595.90 450.60,589.80 454.30,590.70 459.90,587.00 467.30,588.00 472.90,585.20 480.30,583.70 494.30,583.70 510.00,584.00 524.90,587.00 533.30,594.80 538.00,590.70 541.70,597.80 546.30,592.60 547.30,592.00" fill="none" stroke="#4646ff" stroke-width="0.9" stroke-linejoin="round"/>
<path d="M177.3 613.2L177.3 662.2M239 613.2L239 662.2M300.7 613.2L300.7 662.2M362.3 613.2L362.3 662.2M424 613.2L424 662.2M485.7 613.2L485.7 662.2M115.6 619.4L547.4 619.4M115.6 638L547.4 638M115.6 656.6L547.4 656.6" fill="none" stroke="#e3e3e3" stroke-width="0.8"/>
<polyline points="116.60,626.50 122.70,628.20 129.60,630.50 133.10,627.00 138.30,637.40 141.70,634.30 146.10,635.60 150.40,640.30 157.30,636.90 160.80,627.30 162.50,622.50 166.00,629.10 169.50,637.70 172.90,641.50 179.00,642.10 183.30,643.80 187.70,647.30 192.00,642.60 196.30,642.10 199.80,638.10 204.10,639.50 208.50,634.30 211.90,636.00 216.30,631.70 219.70,634.30 220.00,635.10 224.30,644.70 228.70,641.20 233.90,637.70 238.20,636.90 240.80,639.50 246.00,649.00 252.10,652.50 256.40,648.10 261.60,636.90 265.90,637.40 270.30,633.40 275.50,634.30 281.50,637.70 286.70,634.30 291.10,633.90 298.00,626.50 301.50,629.10 304.90,642.90 306.70,642.10 310.10,638.60 314.50,644.70 318.80,651.60 323.10,646.40 326.00,647.30 331.20,640.80 339.90,636.90 347.70,638.60 352.90,632.90 356.30,632.90 360.70,638.10 365.90,636.30 372.80,634.30 375.40,652.50 380.60,655.40 385.80,650.20 391.90,646.00 398.80,640.80 405.70,632.20 410.90,636.00 417.00,636.90 422.20,637.40 426.50,632.50 430.90,636.90 432.00,637.50 439.40,637.50 445.90,636.40 452.40,638.80 458.00,640.70 463.60,637.00 469.20,640.70 476.60,646.80 481.30,647.20 485.90,643.50 490.60,645.30 494.30,637.90 500.00,637.00" fill="none" stroke="#3a3a3a" stroke-width="0.9" stroke-linejoin="round"/>
<polyline points="116.60,641.20 120.90,643.80 126.10,644.70 129.60,648.10 133.10,642.90 136.50,644.30 141.70,643.80 145.20,638.60 148.70,645.50 152.10,649.90 157.30,645.50 161.70,636.00 164.30,629.10 166.30,624.70 169.50,630.80 172.90,639.50 178.10,643.80 186.80,647.80 193.70,650.20 199.80,655.40 204.10,651.20 211.00,650.70 219.70,649.90 220.00,649.90 224.30,640.30 229.50,644.70 235.60,652.50 238.20,651.60 240.50,622.50 247.70,634.30 254.70,646.40 261.60,655.90 265.10,654.70 272.00,654.70 277.20,653.00 281.50,649.50 285.90,655.40 289.30,653.30 294.50,650.70 298.00,655.90 302.30,651.60 305.80,634.30 310.10,633.40 314.50,637.70 318.80,652.50 323.10,658.90 326.60,654.20 331.20,654.20 335.50,649.50 339.90,647.80 344.20,641.50 347.70,643.80 352.90,650.20 357.20,649.00 363.30,646.40 368.50,633.40 371.10,633.40 376.30,626.50 381.50,635.60 384.90,641.50 389.30,644.70 393.60,651.20 397.10,642.10 402.30,645.50 409.20,647.80 414.40,646.40 417.90,646.70 422.20,642.10 426.50,645.50 432.00,644.40 438.50,643.10 443.20,647.20 448.70,644.40 453.40,644.90 456.20,642.00 459.90,643.50 463.60,641.60 469.20,643.50 475.70,646.20 482.20,647.50 487.80,647.20 492.40,655.50 497.10,652.80 504.50,653.70 508.20,647.20 513.80,650.50 519.40,648.10 528.70,650.00 533.30,645.30 538.90,642.50 543.50,646.20 547.20,648.10" fill="none" stroke="#4646ff" stroke-width="0.9" stroke-linejoin="round"/>
<polyline points="116.60,644.70 122.70,644.30 129.60,644.70 134.80,642.10 140.90,641.20 146.10,638.60 150.40,647.30 154.70,659.40 158.20,661.60 161.70,655.90 166.00,646.40 171.20,639.50 176.40,638.10 183.30,640.30 188.50,642.90 195.50,642.60 199.80,644.70 204.10,642.60 211.00,642.10 218.00,642.10 224.30,641.20 230.40,648.10 236.50,657.10 239.90,641.20 244.30,649.00 249.50,644.70 258.10,643.30 265.10,641.20 270.30,638.60 277.20,639.10 282.40,638.60 287.60,640.80 294.50,636.30 298.90,640.30 303.20,639.50 306.70,642.60 311.90,637.40 318.80,644.30 324.00,642.90 330.00,641.50 332.90,639.80 339.90,637.70 346.80,638.60 352.90,637.40 360.70,639.10 367.60,637.70 372.80,636.90 376.30,640.80 381.50,642.10 388.40,642.10 393.60,643.80 397.10,639.50 404.00,639.10 412.70,640.80 419.60,639.50 426.50,638.60 436.00,639.50 443.20,639.40 450.60,638.30 458.00,640.10 464.50,638.30 471.00,641.20 478.50,643.10 484.00,639.40 494.30,637.50 500.00,637.00" fill="none" stroke="#f03c3c" stroke-width="0.9" stroke-linejoin="round"/>
<path d="M115.6 319.7L115.6 322.7M115.6 368.6L115.6 365.6M177.3 319.7L177.3 322.7M177.3 368.6L177.3 365.6M239 319.7L239 322.7M239 368.6L239 365.6M300.7 319.7L300.7 322.7M300.7 368.6L300.7 365.6M362.3 319.7L362.3 322.7M362.3 368.6L362.3 365.6M424 319.7L424 322.7M424 368.6L424 365.6M485.7 319.7L485.7 322.7M485.7 368.6L485.7 365.6M547.4 319.7L547.4 322.7M547.4 368.6L547.4 365.6" fill="none" stroke="#333" stroke-width="0.8"/>
<path d="M115.6 319.7L115.6 321.5M115.6 368.6L115.6 366.8M127.9 319.7L127.9 321.5M127.9 368.6L127.9 366.8M140.3 319.7L140.3 321.5M140.3 368.6L140.3 366.8M152.6 319.7L152.6 321.5M152.6 368.6L152.6 366.8M164.9 319.7L164.9 321.5M164.9 368.6L164.9 366.8M177.3 319.7L177.3 321.5M177.3 368.6L177.3 366.8M189.6 319.7L189.6 321.5M189.6 368.6L189.6 366.8M202 319.7L202 321.5M202 368.6L202 366.8M214.3 319.7L214.3 321.5M214.3 368.6L214.3 366.8M226.6 319.7L226.6 321.5M226.6 368.6L226.6 366.8M239 319.7L239 321.5M239 368.6L239 366.8M251.3 319.7L251.3 321.5M251.3 368.6L251.3 366.8M263.6 319.7L263.6 321.5M263.6 368.6L263.6 366.8M276 319.7L276 321.5M276 368.6L276 366.8M288.3 319.7L288.3 321.5M288.3 368.6L288.3 366.8M300.7 319.7L300.7 321.5M300.7 368.6L300.7 366.8M313 319.7L313 321.5M313 368.6L313 366.8M325.3 319.7L325.3 321.5M325.3 368.6L325.3 366.8M337.7 319.7L337.7 321.5M337.7 368.6L337.7 366.8M350 319.7L350 321.5M350 368.6L350 366.8M362.3 319.7L362.3 321.5M362.3 368.6L362.3 366.8M374.7 319.7L374.7 321.5M374.7 368.6L374.7 366.8M387 319.7L387 321.5M387 368.6L387 366.8M399.4 319.7L399.4 321.5M399.4 368.6L399.4 366.8M411.7 319.7L411.7 321.5M411.7 368.6L411.7 366.8M424 319.7L424 321.5M424 368.6L424 366.8M436.4 319.7L436.4 321.5M436.4 368.6L436.4 366.8M448.7 319.7L448.7 321.5M448.7 368.6L448.7 366.8M461 319.7L461 321.5M461 368.6L461 366.8M473.4 319.7L473.4 321.5M473.4 368.6L473.4 366.8M485.7 319.7L485.7 321.5M485.7 368.6L485.7 366.8M498.1 319.7L498.1 321.5M498.1 368.6L498.1 366.8M510.4 319.7L510.4 321.5M510.4 368.6L510.4 366.8M522.7 319.7L522.7 321.5M522.7 368.6L522.7 366.8M535.1 319.7L535.1 321.5M535.1 368.6L535.1 366.8M547.4 319.7L547.4 321.5M547.4 368.6L547.4 366.8" fill="none" stroke="#333" stroke-width="0.7"/>
<path d="M115.6 362.3L112 362.3M547.4 362.3L551 362.3M115.6 345L112 345M547.4 345L551 345M115.6 327.7L112 327.7M547.4 327.7L551 327.7" fill="none" stroke="#333" stroke-width="0.8"/>
<path d="M115.6 367.5L113.4 367.5M547.4 367.5L549.6 367.5M115.6 366.1L113.4 366.1M547.4 366.1L549.6 366.1M115.6 365L113.4 365M547.4 365L549.6 365M115.6 364L113.4 364M547.4 364L549.6 364M115.6 363.1L113.4 363.1M547.4 363.1L549.6 363.1M115.6 357.1L113.4 357.1M547.4 357.1L549.6 357.1M115.6 354.1L113.4 354.1M547.4 354.1L549.6 354.1M115.6 351.9L113.4 351.9M547.4 351.9L549.6 351.9M115.6 350.2L113.4 350.2M547.4 350.2L549.6 350.2M115.6 348.8L113.4 348.8M547.4 348.8L549.6 348.8M115.6 347.7L113.4 347.7M547.4 347.7L549.6 347.7M115.6 346.7L113.4 346.7M547.4 346.7L549.6 346.7M115.6 345.8L113.4 345.8M547.4 345.8L549.6 345.8M115.6 339.8L113.4 339.8M547.4 339.8L549.6 339.8M115.6 336.8L113.4 336.8M547.4 336.8L549.6 336.8M115.6 334.6L113.4 334.6M547.4 334.6L549.6 334.6M115.6 332.9L113.4 332.9M547.4 332.9L549.6 332.9M115.6 331.5L113.4 331.5M547.4 331.5L549.6 331.5M115.6 330.4L113.4 330.4M547.4 330.4L549.6 330.4M115.6 329.4L113.4 329.4M547.4 329.4L549.6 329.4M115.6 328.5L113.4 328.5M547.4 328.5L549.6 328.5M115.6 322.5L113.4 322.5M547.4 322.5L549.6 322.5" fill="none" stroke="#333" stroke-width="0.6"/>
<rect x="115.60" y="319.70" width="431.80" height="48.90" fill="none" stroke="#404040" stroke-width="0.9"/>
<path d="M115.6 368.6L115.6 371.6M115.6 417.5L115.6 414.5M177.3 368.6L177.3 371.6M177.3 417.5L177.3 414.5M239 368.6L239 371.6M239 417.5L239 414.5M300.7 368.6L300.7 371.6M300.7 417.5L300.7 414.5M362.3 368.6L362.3 371.6M362.3 417.5L362.3 414.5M424 368.6L424 371.6M424 417.5L424 414.5M485.7 368.6L485.7 371.6M485.7 417.5L485.7 414.5M547.4 368.6L547.4 371.6M547.4 417.5L547.4 414.5" fill="none" stroke="#333" stroke-width="0.8"/>
<path d="M115.6 368.6L115.6 370.4M115.6 417.5L115.6 415.7M127.9 368.6L127.9 370.4M127.9 417.5L127.9 415.7M140.3 368.6L140.3 370.4M140.3 417.5L140.3 415.7M152.6 368.6L152.6 370.4M152.6 417.5L152.6 415.7M164.9 368.6L164.9 370.4M164.9 417.5L164.9 415.7M177.3 368.6L177.3 370.4M177.3 417.5L177.3 415.7M189.6 368.6L189.6 370.4M189.6 417.5L189.6 415.7M202 368.6L202 370.4M202 417.5L202 415.7M214.3 368.6L214.3 370.4M214.3 417.5L214.3 415.7M226.6 368.6L226.6 370.4M226.6 417.5L226.6 415.7M239 368.6L239 370.4M239 417.5L239 415.7M251.3 368.6L251.3 370.4M251.3 417.5L251.3 415.7M263.6 368.6L263.6 370.4M263.6 417.5L263.6 415.7M276 368.6L276 370.4M276 417.5L276 415.7M288.3 368.6L288.3 370.4M288.3 417.5L288.3 415.7M300.7 368.6L300.7 370.4M300.7 417.5L300.7 415.7M313 368.6L313 370.4M313 417.5L313 415.7M325.3 368.6L325.3 370.4M325.3 417.5L325.3 415.7M337.7 368.6L337.7 370.4M337.7 417.5L337.7 415.7M350 368.6L350 370.4M350 417.5L350 415.7M362.3 368.6L362.3 370.4M362.3 417.5L362.3 415.7M374.7 368.6L374.7 370.4M374.7 417.5L374.7 415.7M387 368.6L387 370.4M387 417.5L387 415.7M399.4 368.6L399.4 370.4M399.4 417.5L399.4 415.7M411.7 368.6L411.7 370.4M411.7 417.5L411.7 415.7M424 368.6L424 370.4M424 417.5L424 415.7M436.4 368.6L436.4 370.4M436.4 417.5L436.4 415.7M448.7 368.6L448.7 370.4M448.7 417.5L448.7 415.7M461 368.6L461 370.4M461 417.5L461 415.7M473.4 368.6L473.4 370.4M473.4 417.5L473.4 415.7M485.7 368.6L485.7 370.4M485.7 417.5L485.7 415.7M498.1 368.6L498.1 370.4M498.1 417.5L498.1 415.7M510.4 368.6L510.4 370.4M510.4 417.5L510.4 415.7M522.7 368.6L522.7 370.4M522.7 417.5L522.7 415.7M535.1 368.6L535.1 370.4M535.1 417.5L535.1 415.7M547.4 368.6L547.4 370.4M547.4 417.5L547.4 415.7" fill="none" stroke="#333" stroke-width="0.7"/>
<path d="M115.6 411.2L112 411.2M547.4 411.2L551 411.2M115.6 393.9L112 393.9M547.4 393.9L551 393.9M115.6 376.6L112 376.6M547.4 376.6L551 376.6" fill="none" stroke="#333" stroke-width="0.8"/>
<path d="M115.6 416.4L113.4 416.4M547.4 416.4L549.6 416.4M115.6 415L113.4 415M547.4 415L549.6 415M115.6 413.9L113.4 413.9M547.4 413.9L549.6 413.9M115.6 412.9L113.4 412.9M547.4 412.9L549.6 412.9M115.6 412L113.4 412M547.4 412L549.6 412M115.6 406L113.4 406M547.4 406L549.6 406M115.6 402.9L113.4 402.9M547.4 402.9L549.6 402.9M115.6 400.8L113.4 400.8M547.4 400.8L549.6 400.8M115.6 399.1L113.4 399.1M547.4 399.1L549.6 399.1M115.6 397.7L113.4 397.7M547.4 397.7L549.6 397.7M115.6 396.6L113.4 396.6M547.4 396.6L549.6 396.6M115.6 395.6L113.4 395.6M547.4 395.6L549.6 395.6M115.6 394.7L113.4 394.7M547.4 394.7L549.6 394.7M115.6 388.7L113.4 388.7M547.4 388.7L549.6 388.7M115.6 385.6L113.4 385.6M547.4 385.6L549.6 385.6M115.6 383.5L113.4 383.5M547.4 383.5L549.6 383.5M115.6 381.8L113.4 381.8M547.4 381.8L549.6 381.8M115.6 380.4L113.4 380.4M547.4 380.4L549.6 380.4M115.6 379.3L113.4 379.3M547.4 379.3L549.6 379.3M115.6 378.3L113.4 378.3M547.4 378.3L549.6 378.3M115.6 377.4L113.4 377.4M547.4 377.4L549.6 377.4M115.6 371.4L113.4 371.4M547.4 371.4L549.6 371.4" fill="none" stroke="#333" stroke-width="0.6"/>
<rect x="115.60" y="368.60" width="431.80" height="48.90" fill="none" stroke="#404040" stroke-width="0.9"/>
<path d="M115.6 417.5L115.6 420.5M115.6 466.5L115.6 463.5M177.3 417.5L177.3 420.5M177.3 466.5L177.3 463.5M239 417.5L239 420.5M239 466.5L239 463.5M300.7 417.5L300.7 420.5M300.7 466.5L300.7 463.5M362.3 417.5L362.3 420.5M362.3 466.5L362.3 463.5M424 417.5L424 420.5M424 466.5L424 463.5M485.7 417.5L485.7 420.5M485.7 466.5L485.7 463.5M547.4 417.5L547.4 420.5M547.4 466.5L547.4 463.5" fill="none" stroke="#333" stroke-width="0.8"/>
<path d="M115.6 417.5L115.6 419.3M115.6 466.5L115.6 464.7M127.9 417.5L127.9 419.3M127.9 466.5L127.9 464.7M140.3 417.5L140.3 419.3M140.3 466.5L140.3 464.7M152.6 417.5L152.6 419.3M152.6 466.5L152.6 464.7M164.9 417.5L164.9 419.3M164.9 466.5L164.9 464.7M177.3 417.5L177.3 419.3M177.3 466.5L177.3 464.7M189.6 417.5L189.6 419.3M189.6 466.5L189.6 464.7M202 417.5L202 419.3M202 466.5L202 464.7M214.3 417.5L214.3 419.3M214.3 466.5L214.3 464.7M226.6 417.5L226.6 419.3M226.6 466.5L226.6 464.7M239 417.5L239 419.3M239 466.5L239 464.7M251.3 417.5L251.3 419.3M251.3 466.5L251.3 464.7M263.6 417.5L263.6 419.3M263.6 466.5L263.6 464.7M276 417.5L276 419.3M276 466.5L276 464.7M288.3 417.5L288.3 419.3M288.3 466.5L288.3 464.7M300.7 417.5L300.7 419.3M300.7 466.5L300.7 464.7M313 417.5L313 419.3M313 466.5L313 464.7M325.3 417.5L325.3 419.3M325.3 466.5L325.3 464.7M337.7 417.5L337.7 419.3M337.7 466.5L337.7 464.7M350 417.5L350 419.3M350 466.5L350 464.7M362.3 417.5L362.3 419.3M362.3 466.5L362.3 464.7M374.7 417.5L374.7 419.3M374.7 466.5L374.7 464.7M387 417.5L387 419.3M387 466.5L387 464.7M399.4 417.5L399.4 419.3M399.4 466.5L399.4 464.7M411.7 417.5L411.7 419.3M411.7 466.5L411.7 464.7M424 417.5L424 419.3M424 466.5L424 464.7M436.4 417.5L436.4 419.3M436.4 466.5L436.4 464.7M448.7 417.5L448.7 419.3M448.7 466.5L448.7 464.7M461 417.5L461 419.3M461 466.5L461 464.7M473.4 417.5L473.4 419.3M473.4 466.5L473.4 464.7M485.7 417.5L485.7 419.3M485.7 466.5L485.7 464.7M498.1 417.5L498.1 419.3M498.1 466.5L498.1 464.7M510.4 417.5L510.4 419.3M510.4 466.5L510.4 464.7M522.7 417.5L522.7 419.3M522.7 466.5L522.7 464.7M535.1 417.5L535.1 419.3M535.1 466.5L535.1 464.7M547.4 417.5L547.4 419.3M547.4 466.5L547.4 464.7" fill="none" stroke="#333" stroke-width="0.7"/>
<path d="M115.6 460.1L112 460.1M547.4 460.1L551 460.1M115.6 442.8L112 442.8M547.4 442.8L551 442.8M115.6 425.5L112 425.5M547.4 425.5L551 425.5" fill="none" stroke="#333" stroke-width="0.8"/>
<path d="M115.6 465.3L113.4 465.3M547.4 465.3L549.6 465.3M115.6 463.9L113.4 463.9M547.4 463.9L549.6 463.9M115.6 462.8L113.4 462.8M547.4 462.8L549.6 462.8M115.6 461.8L113.4 461.8M547.4 461.8L549.6 461.8M115.6 460.9L113.4 460.9M547.4 460.9L549.6 460.9M115.6 454.9L113.4 454.9M547.4 454.9L549.6 454.9M115.6 451.9L113.4 451.9M547.4 451.9L549.6 451.9M115.6 449.7L113.4 449.7M547.4 449.7L549.6 449.7M115.6 448L113.4 448M547.4 448L549.6 448M115.6 446.6L113.4 446.6M547.4 446.6L549.6 446.6M115.6 445.5L113.4 445.5M547.4 445.5L549.6 445.5M115.6 444.5L113.4 444.5M547.4 444.5L549.6 444.5M115.6 443.6L113.4 443.6M547.4 443.6L549.6 443.6M115.6 437.6L113.4 437.6M547.4 437.6L549.6 437.6M115.6 434.6L113.4 434.6M547.4 434.6L549.6 434.6M115.6 432.4L113.4 432.4M547.4 432.4L549.6 432.4M115.6 430.7L113.4 430.7M547.4 430.7L549.6 430.7M115.6 429.3L113.4 429.3M547.4 429.3L549.6 429.3M115.6 428.2L113.4 428.2M547.4 428.2L549.6 428.2M115.6 427.2L113.4 427.2M547.4 427.2L549.6 427.2M115.6 426.3L113.4 426.3M547.4 426.3L549.6 426.3M115.6 420.3L113.4 420.3M547.4 420.3L549.6 420.3" fill="none" stroke="#333" stroke-width="0.6"/>
<rect x="115.60" y="417.50" width="431.80" height="49.00" fill="none" stroke="#404040" stroke-width="0.9"/>
<path d="M115.6 466.5L115.6 469.5M115.6 515.1L115.6 512.1M177.3 466.5L177.3 469.5M177.3 515.1L177.3 512.1M239 466.5L239 469.5M239 515.1L239 512.1M300.7 466.5L300.7 469.5M300.7 515.1L300.7 512.1M362.3 466.5L362.3 469.5M362.3 515.1L362.3 512.1M424 466.5L424 469.5M424 515.1L424 512.1M485.7 466.5L485.7 469.5M485.7 515.1L485.7 512.1M547.4 466.5L547.4 469.5M547.4 515.1L547.4 512.1" fill="none" stroke="#333" stroke-width="0.8"/>
<path d="M115.6 466.5L115.6 468.3M115.6 515.1L115.6 513.3M127.9 466.5L127.9 468.3M127.9 515.1L127.9 513.3M140.3 466.5L140.3 468.3M140.3 515.1L140.3 513.3M152.6 466.5L152.6 468.3M152.6 515.1L152.6 513.3M164.9 466.5L164.9 468.3M164.9 515.1L164.9 513.3M177.3 466.5L177.3 468.3M177.3 515.1L177.3 513.3M189.6 466.5L189.6 468.3M189.6 515.1L189.6 513.3M202 466.5L202 468.3M202 515.1L202 513.3M214.3 466.5L214.3 468.3M214.3 515.1L214.3 513.3M226.6 466.5L226.6 468.3M226.6 515.1L226.6 513.3M239 466.5L239 468.3M239 515.1L239 513.3M251.3 466.5L251.3 468.3M251.3 515.1L251.3 513.3M263.6 466.5L263.6 468.3M263.6 515.1L263.6 513.3M276 466.5L276 468.3M276 515.1L276 513.3M288.3 466.5L288.3 468.3M288.3 515.1L288.3 513.3M300.7 466.5L300.7 468.3M300.7 515.1L300.7 513.3M313 466.5L313 468.3M313 515.1L313 513.3M325.3 466.5L325.3 468.3M325.3 515.1L325.3 513.3M337.7 466.5L337.7 468.3M337.7 515.1L337.7 513.3M350 466.5L350 468.3M350 515.1L350 513.3M362.3 466.5L362.3 468.3M362.3 515.1L362.3 513.3M374.7 466.5L374.7 468.3M374.7 515.1L374.7 513.3M387 466.5L387 468.3M387 515.1L387 513.3M399.4 466.5L399.4 468.3M399.4 515.1L399.4 513.3M411.7 466.5L411.7 468.3M411.7 515.1L411.7 513.3M424 466.5L424 468.3M424 515.1L424 513.3M436.4 466.5L436.4 468.3M436.4 515.1L436.4 513.3M448.7 466.5L448.7 468.3M448.7 515.1L448.7 513.3M461 466.5L461 468.3M461 515.1L461 513.3M473.4 466.5L473.4 468.3M473.4 515.1L473.4 513.3M485.7 466.5L485.7 468.3M485.7 515.1L485.7 513.3M498.1 466.5L498.1 468.3M498.1 515.1L498.1 513.3M510.4 466.5L510.4 468.3M510.4 515.1L510.4 513.3M522.7 466.5L522.7 468.3M522.7 515.1L522.7 513.3M535.1 466.5L535.1 468.3M535.1 515.1L535.1 513.3M547.4 466.5L547.4 468.3M547.4 515.1L547.4 513.3" fill="none" stroke="#333" stroke-width="0.7"/>
<path d="M115.6 511.8L112 511.8M547.4 511.8L551 511.8M115.6 500.6L112 500.6M547.4 500.6L551 500.6M115.6 489.4L112 489.4M547.4 489.4L551 489.4M115.6 478.2L112 478.2M547.4 478.2L551 478.2M115.6 467L112 467M547.4 467L551 467" fill="none" stroke="#333" stroke-width="0.8"/>
<path d="M115.6 514.3L113.4 514.3M547.4 514.3L549.6 514.3M115.6 513.5L113.4 513.5M547.4 513.5L549.6 513.5M115.6 512.9L113.4 512.9M547.4 512.9L549.6 512.9M115.6 512.3L113.4 512.3M547.4 512.3L549.6 512.3M115.6 508.4L113.4 508.4M547.4 508.4L549.6 508.4M115.6 506.5L113.4 506.5M547.4 506.5L549.6 506.5M115.6 505.1L113.4 505.1M547.4 505.1L549.6 505.1M115.6 504L113.4 504M547.4 504L549.6 504M115.6 503.1L113.4 503.1M547.4 503.1L549.6 503.1M115.6 502.3L113.4 502.3M547.4 502.3L549.6 502.3M115.6 501.7L113.4 501.7M547.4 501.7L549.6 501.7M115.6 501.1L113.4 501.1M547.4 501.1L549.6 501.1M115.6 497.2L113.4 497.2M547.4 497.2L549.6 497.2M115.6 495.3L113.4 495.3M547.4 495.3L549.6 495.3M115.6 493.9L113.4 493.9M547.4 493.9L549.6 493.9M115.6 492.8L113.4 492.8M547.4 492.8L549.6 492.8M115.6 491.9L113.4 491.9M547.4 491.9L549.6 491.9M115.6 491.1L113.4 491.1M547.4 491.1L549.6 491.1M115.6 490.5L113.4 490.5M547.4 490.5L549.6 490.5M115.6 489.9L113.4 489.9M547.4 489.9L549.6 489.9M115.6 486L113.4 486M547.4 486L549.6 486M115.6 484.1L113.4 484.1M547.4 484.1L549.6 484.1M115.6 482.7L113.4 482.7M547.4 482.7L549.6 482.7M115.6 481.6L113.4 481.6M547.4 481.6L549.6 481.6M115.6 480.7L113.4 480.7M547.4 480.7L549.6 480.7M115.6 479.9L113.4 479.9M547.4 479.9L549.6 479.9M115.6 479.3L113.4 479.3M547.4 479.3L549.6 479.3M115.6 478.7L113.4 478.7M547.4 478.7L549.6 478.7M115.6 474.8L113.4 474.8M547.4 474.8L549.6 474.8M115.6 472.9L113.4 472.9M547.4 472.9L549.6 472.9M115.6 471.5L113.4 471.5M547.4 471.5L549.6 471.5M115.6 470.4L113.4 470.4M547.4 470.4L549.6 470.4M115.6 469.5L113.4 469.5M547.4 469.5L549.6 469.5M115.6 468.7L113.4 468.7M547.4 468.7L549.6 468.7M115.6 468.1L113.4 468.1M547.4 468.1L549.6 468.1M115.6 467.5L113.4 467.5M547.4 467.5L549.6 467.5" fill="none" stroke="#333" stroke-width="0.6"/>
<rect x="115.60" y="466.50" width="431.80" height="48.60" fill="none" stroke="#404040" stroke-width="0.9"/>
<path d="M115.6 515.1L115.6 518.1M115.6 563.9L115.6 560.9M177.3 515.1L177.3 518.1M177.3 563.9L177.3 560.9M239 515.1L239 518.1M239 563.9L239 560.9M300.7 515.1L300.7 518.1M300.7 563.9L300.7 560.9M362.3 515.1L362.3 518.1M362.3 563.9L362.3 560.9M424 515.1L424 518.1M424 563.9L424 560.9M485.7 515.1L485.7 518.1M485.7 563.9L485.7 560.9M547.4 515.1L547.4 518.1M547.4 563.9L547.4 560.9" fill="none" stroke="#333" stroke-width="0.8"/>
<path d="M115.6 515.1L115.6 516.9M115.6 563.9L115.6 562.1M127.9 515.1L127.9 516.9M127.9 563.9L127.9 562.1M140.3 515.1L140.3 516.9M140.3 563.9L140.3 562.1M152.6 515.1L152.6 516.9M152.6 563.9L152.6 562.1M164.9 515.1L164.9 516.9M164.9 563.9L164.9 562.1M177.3 515.1L177.3 516.9M177.3 563.9L177.3 562.1M189.6 515.1L189.6 516.9M189.6 563.9L189.6 562.1M202 515.1L202 516.9M202 563.9L202 562.1M214.3 515.1L214.3 516.9M214.3 563.9L214.3 562.1M226.6 515.1L226.6 516.9M226.6 563.9L226.6 562.1M239 515.1L239 516.9M239 563.9L239 562.1M251.3 515.1L251.3 516.9M251.3 563.9L251.3 562.1M263.6 515.1L263.6 516.9M263.6 563.9L263.6 562.1M276 515.1L276 516.9M276 563.9L276 562.1M288.3 515.1L288.3 516.9M288.3 563.9L288.3 562.1M300.7 515.1L300.7 516.9M300.7 563.9L300.7 562.1M313 515.1L313 516.9M313 563.9L313 562.1M325.3 515.1L325.3 516.9M325.3 563.9L325.3 562.1M337.7 515.1L337.7 516.9M337.7 563.9L337.7 562.1M350 515.1L350 516.9M350 563.9L350 562.1M362.3 515.1L362.3 516.9M362.3 563.9L362.3 562.1M374.7 515.1L374.7 516.9M374.7 563.9L374.7 562.1M387 515.1L387 516.9M387 563.9L387 562.1M399.4 515.1L399.4 516.9M399.4 563.9L399.4 562.1M411.7 515.1L411.7 516.9M411.7 563.9L411.7 562.1M424 515.1L424 516.9M424 563.9L424 562.1M436.4 515.1L436.4 516.9M436.4 563.9L436.4 562.1M448.7 515.1L448.7 516.9M448.7 563.9L448.7 562.1M461 515.1L461 516.9M461 563.9L461 562.1M473.4 515.1L473.4 516.9M473.4 563.9L473.4 562.1M485.7 515.1L485.7 516.9M485.7 563.9L485.7 562.1M498.1 515.1L498.1 516.9M498.1 563.9L498.1 562.1M510.4 515.1L510.4 516.9M510.4 563.9L510.4 562.1M522.7 515.1L522.7 516.9M522.7 563.9L522.7 562.1M535.1 515.1L535.1 516.9M535.1 563.9L535.1 562.1M547.4 515.1L547.4 516.9M547.4 563.9L547.4 562.1" fill="none" stroke="#333" stroke-width="0.7"/>
<path d="M115.6 552.2L112 552.2M547.4 552.2L551 552.2M115.6 535.1L112 535.1M547.4 535.1L551 535.1M115.6 518.1L112 518.1M547.4 518.1L551 518.1" fill="none" stroke="#333" stroke-width="0.8"/>
<path d="M115.6 561.1L113.4 561.1M547.4 561.1L549.6 561.1M115.6 559L113.4 559M547.4 559L549.6 559M115.6 557.3L113.4 557.3M547.4 557.3L549.6 557.3M115.6 556L113.4 556M547.4 556L549.6 556M115.6 554.8L113.4 554.8M547.4 554.8L549.6 554.8M115.6 553.9L113.4 553.9M547.4 553.9L549.6 553.9M115.6 553L113.4 553M547.4 553L549.6 553M115.6 547.1L113.4 547.1M547.4 547.1L549.6 547.1M115.6 544.1L113.4 544.1M547.4 544.1L549.6 544.1M115.6 541.9L113.4 541.9M547.4 541.9L549.6 541.9M115.6 540.3L113.4 540.3M547.4 540.3L549.6 540.3M115.6 538.9L113.4 538.9M547.4 538.9L549.6 538.9M115.6 537.8L113.4 537.8M547.4 537.8L549.6 537.8M115.6 536.8L113.4 536.8M547.4 536.8L549.6 536.8M115.6 535.9L113.4 535.9M547.4 535.9L549.6 535.9M115.6 530L113.4 530M547.4 530L549.6 530M115.6 527L113.4 527M547.4 527L549.6 527M115.6 524.9L113.4 524.9M547.4 524.9L549.6 524.9M115.6 523.2L113.4 523.2M547.4 523.2L549.6 523.2M115.6 521.9L113.4 521.9M547.4 521.9L549.6 521.9M115.6 520.7L113.4 520.7M547.4 520.7L549.6 520.7M115.6 519.8L113.4 519.8M547.4 519.8L549.6 519.8M115.6 518.9L113.4 518.9M547.4 518.9L549.6 518.9" fill="none" stroke="#333" stroke-width="0.6"/>
<rect x="115.60" y="515.10" width="431.80" height="48.80" fill="none" stroke="#404040" stroke-width="0.9"/>
<path d="M115.6 563.9L115.6 566.9M115.6 613.2L115.6 610.2M177.3 563.9L177.3 566.9M177.3 613.2L177.3 610.2M239 563.9L239 566.9M239 613.2L239 610.2M300.7 563.9L300.7 566.9M300.7 613.2L300.7 610.2M362.3 563.9L362.3 566.9M362.3 613.2L362.3 610.2M424 563.9L424 566.9M424 613.2L424 610.2M485.7 563.9L485.7 566.9M485.7 613.2L485.7 610.2M547.4 563.9L547.4 566.9M547.4 613.2L547.4 610.2" fill="none" stroke="#333" stroke-width="0.8"/>
<path d="M115.6 563.9L115.6 565.7M115.6 613.2L115.6 611.4M127.9 563.9L127.9 565.7M127.9 613.2L127.9 611.4M140.3 563.9L140.3 565.7M140.3 613.2L140.3 611.4M152.6 563.9L152.6 565.7M152.6 613.2L152.6 611.4M164.9 563.9L164.9 565.7M164.9 613.2L164.9 611.4M177.3 563.9L177.3 565.7M177.3 613.2L177.3 611.4M189.6 563.9L189.6 565.7M189.6 613.2L189.6 611.4M202 563.9L202 565.7M202 613.2L202 611.4M214.3 563.9L214.3 565.7M214.3 613.2L214.3 611.4M226.6 563.9L226.6 565.7M226.6 613.2L226.6 611.4M239 563.9L239 565.7M239 613.2L239 611.4M251.3 563.9L251.3 565.7M251.3 613.2L251.3 611.4M263.6 563.9L263.6 565.7M263.6 613.2L263.6 611.4M276 563.9L276 565.7M276 613.2L276 611.4M288.3 563.9L288.3 565.7M288.3 613.2L288.3 611.4M300.7 563.9L300.7 565.7M300.7 613.2L300.7 611.4M313 563.9L313 565.7M313 613.2L313 611.4M325.3 563.9L325.3 565.7M325.3 613.2L325.3 611.4M337.7 563.9L337.7 565.7M337.7 613.2L337.7 611.4M350 563.9L350 565.7M350 613.2L350 611.4M362.3 563.9L362.3 565.7M362.3 613.2L362.3 611.4M374.7 563.9L374.7 565.7M374.7 613.2L374.7 611.4M387 563.9L387 565.7M387 613.2L387 611.4M399.4 563.9L399.4 565.7M399.4 613.2L399.4 611.4M411.7 563.9L411.7 565.7M411.7 613.2L411.7 611.4M424 563.9L424 565.7M424 613.2L424 611.4M436.4 563.9L436.4 565.7M436.4 613.2L436.4 611.4M448.7 563.9L448.7 565.7M448.7 613.2L448.7 611.4M461 563.9L461 565.7M461 613.2L461 611.4M473.4 563.9L473.4 565.7M473.4 613.2L473.4 611.4M485.7 563.9L485.7 565.7M485.7 613.2L485.7 611.4M498.1 563.9L498.1 565.7M498.1 613.2L498.1 611.4M510.4 563.9L510.4 565.7M510.4 613.2L510.4 611.4M522.7 563.9L522.7 565.7M522.7 613.2L522.7 611.4M535.1 563.9L535.1 565.7M535.1 613.2L535.1 611.4M547.4 563.9L547.4 565.7M547.4 613.2L547.4 611.4" fill="none" stroke="#333" stroke-width="0.7"/>
<path d="M115.6 569.4L118.6 569.4M547.4 569.4L544.4 569.4M115.6 588.9L118.6 588.9M547.4 588.9L544.4 588.9M115.6 608.3L118.6 608.3M547.4 608.3L544.4 608.3" fill="none" stroke="#333" stroke-width="0.8"/>
<path d="M115.6 579.1L117.4 579.1M547.4 579.1L545.6 579.1M115.6 598.6L117.4 598.6M547.4 598.6L545.6 598.6" fill="none" stroke="#333" stroke-width="0.6"/>
<rect x="115.60" y="563.90" width="431.80" height="49.30" fill="none" stroke="#404040" stroke-width="0.9"/>
<path d="M115.6 613.2L115.6 616.2M115.6 662.2L115.6 659.2M177.3 613.2L177.3 616.2M177.3 662.2L177.3 659.2M239 613.2L239 616.2M239 662.2L239 659.2M300.7 613.2L300.7 616.2M300.7 662.2L300.7 659.2M362.3 613.2L362.3 616.2M362.3 662.2L362.3 659.2M424 613.2L424 616.2M424 662.2L424 659.2M485.7 613.2L485.7 616.2M485.7 662.2L485.7 659.2M547.4 613.2L547.4 616.2M547.4 662.2L547.4 659.2" fill="none" stroke="#333" stroke-width="0.8"/>
<path d="M115.6 613.2L115.6 615M115.6 662.2L115.6 660.4M127.9 613.2L127.9 615M127.9 662.2L127.9 660.4M140.3 613.2L140.3 615M140.3 662.2L140.3 660.4M152.6 613.2L152.6 615M152.6 662.2L152.6 660.4M164.9 613.2L164.9 615M164.9 662.2L164.9 660.4M177.3 613.2L177.3 615M177.3 662.2L177.3 660.4M189.6 613.2L189.6 615M189.6 662.2L189.6 660.4M202 613.2L202 615M202 662.2L202 660.4M214.3 613.2L214.3 615M214.3 662.2L214.3 660.4M226.6 613.2L226.6 615M226.6 662.2L226.6 660.4M239 613.2L239 615M239 662.2L239 660.4M251.3 613.2L251.3 615M251.3 662.2L251.3 660.4M263.6 613.2L263.6 615M263.6 662.2L263.6 660.4M276 613.2L276 615M276 662.2L276 660.4M288.3 613.2L288.3 615M288.3 662.2L288.3 660.4M300.7 613.2L300.7 615M300.7 662.2L300.7 660.4M313 613.2L313 615M313 662.2L313 660.4M325.3 613.2L325.3 615M325.3 662.2L325.3 660.4M337.7 613.2L337.7 615M337.7 662.2L337.7 660.4M350 613.2L350 615M350 662.2L350 660.4M362.3 613.2L362.3 615M362.3 662.2L362.3 660.4M374.7 613.2L374.7 615M374.7 662.2L374.7 660.4M387 613.2L387 615M387 662.2L387 660.4M399.4 613.2L399.4 615M399.4 662.2L399.4 660.4M411.7 613.2L411.7 615M411.7 662.2L411.7 660.4M424 613.2L424 615M424 662.2L424 660.4M436.4 613.2L436.4 615M436.4 662.2L436.4 660.4M448.7 613.2L448.7 615M448.7 662.2L448.7 660.4M461 613.2L461 615M461 662.2L461 660.4M473.4 613.2L473.4 615M473.4 662.2L473.4 660.4M485.7 613.2L485.7 615M485.7 662.2L485.7 660.4M498.1 613.2L498.1 615M498.1 662.2L498.1 660.4M510.4 613.2L510.4 615M510.4 662.2L510.4 660.4M522.7 613.2L522.7 615M522.7 662.2L522.7 660.4M535.1 613.2L535.1 615M535.1 662.2L535.1 660.4M547.4 613.2L547.4 615M547.4 662.2L547.4 660.4" fill="none" stroke="#333" stroke-width="0.7"/>
<path d="M115.6 619.4L118.6 619.4M547.4 619.4L544.4 619.4M115.6 638L118.6 638M547.4 638L544.4 638M115.6 656.6L118.6 656.6M547.4 656.6L544.4 656.6" fill="none" stroke="#333" stroke-width="0.8"/>
<path d="M115.6 625.6L117.4 625.6M547.4 625.6L545.6 625.6M115.6 631.8L117.4 631.8M547.4 631.8L545.6 631.8M115.6 644.2L117.4 644.2M547.4 644.2L545.6 644.2M115.6 650.4L117.4 650.4M547.4 650.4L545.6 650.4" fill="none" stroke="#333" stroke-width="0.6"/>
<rect x="115.60" y="613.20" width="431.80" height="49.00" fill="none" stroke="#404040" stroke-width="0.9"/>
<path d="M162.9 270.8L162.9 662.2M240.4 270.8L240.4 662.2M305.4 270.8L305.4 662.2M375.4 270.8L375.4 662.2M465.3 270.8L465.3 662.2" fill="none" stroke="#111" stroke-width="1.5" stroke-dasharray="5.5,3.5"/>
<rect x="481.00" y="319.60" width="66.40" height="31.80" fill="#000" stroke="none" stroke-width="1"/>
<rect x="475.00" y="368.80" width="72.40" height="25.60" fill="#000" stroke="none" stroke-width="1"/>
<rect x="479.30" y="418.20" width="68.10" height="29.10" fill="#000" stroke="none" stroke-width="1"/>
<rect x="494.40" y="466.70" width="53.00" height="23.20" fill="#000" stroke="none" stroke-width="1"/>
<rect x="494.40" y="515.10" width="53.00" height="23.40" fill="#000" stroke="none" stroke-width="1"/>
<rect x="494.40" y="564.30" width="53.00" height="22.50" fill="#000" stroke="none" stroke-width="1"/>
<rect x="494.40" y="613.50" width="53.00" height="32.80" fill="#000" stroke="none" stroke-width="1"/>
<text x="482.0" y="332.2" font-size="13" text-anchor="start" textLength="8.5" lengthAdjust="spacingAndGlyphs" font-weight="bold" fill="#fff" font-family="'Liberation Serif', 'Times New Roman', serif">H</text>
<text x="491.2" y="327.4" font-size="7.5" text-anchor="start" font-weight="bold" fill="#fff" font-family="'Liberation Serif', 'Times New Roman', serif">+</text>
<text x="495.3" y="332.2" font-size="13" text-anchor="start" font-weight="bold" fill="#fff" font-family="'Liberation Serif', 'Times New Roman', serif">,</text>
<text x="500.1" y="332.2" font-size="13" text-anchor="start" textLength="9.0" lengthAdjust="spacingAndGlyphs" font-weight="bold" fill="#fff" font-family="'Liberation Serif', 'Times New Roman', serif">H</text>
<text x="510.4" y="335.2" font-size="7.5" text-anchor="start" font-weight="bold" fill="#fff" font-family="'Liberation Serif', 'Times New Roman', serif">2</text>
<text x="515.4" y="327.4" font-size="7.5" text-anchor="start" font-weight="bold" fill="#fff" font-family="'Liberation Serif', 'Times New Roman', serif">+</text>
<text x="519.4" y="332.2" font-size="13" text-anchor="start" font-weight="bold" fill="#fff" font-family="'Liberation Serif', 'Times New Roman', serif">,</text>
<text x="522.8" y="332.2" font-size="13" text-anchor="start" textLength="18" lengthAdjust="spacingAndGlyphs" font-weight="bold" fill="#fff" font-family="'Liberation Serif', 'Times New Roman', serif">He</text>
<text x="541.3" y="326.8" font-size="7" text-anchor="start" textLength="6" lengthAdjust="spacingAndGlyphs" font-weight="bold" fill="#fff" font-family="'Liberation Serif', 'Times New Roman', serif">2+</text>
<text x="494.4" y="346.9" font-size="13" text-anchor="start" textLength="49.4" lengthAdjust="spacingAndGlyphs" font-weight="bold" fill="#fff" font-family="'Liberation Serif', 'Times New Roman', serif">(m/q&lt;3)</text>
<text x="505.2" y="379.9" font-size="13" text-anchor="start" font-weight="bold" fill="#fff" font-family="'Liberation Serif', 'Times New Roman', serif">O</text>
<text x="516.8" y="374.0" font-size="7.5" text-anchor="start" font-weight="bold" fill="#fff" font-family="'Liberation Serif', 'Times New Roman', serif">+</text>
<text x="479.2" y="392.6" font-size="12.5" text-anchor="start" textLength="67.3" font-weight="bold" fill="#fff" font-family="'Liberation Serif', 'Times New Roman', serif">(12&lt;m/q&lt;22)</text>
<text x="507.4" y="431.6" font-size="13" text-anchor="start" font-weight="bold" fill="#fff" font-family="'Liberation Serif', 'Times New Roman', serif">O</text>
<text x="517.0" y="435.4" font-size="7.5" text-anchor="start" font-weight="bold" fill="#fff" font-family="'Liberation Serif', 'Times New Roman', serif">2</text>
<text x="520.8" y="425.6" font-size="7.5" text-anchor="start" font-weight="bold" fill="#fff" font-family="'Liberation Serif', 'Times New Roman', serif">+</text>
<text x="480.6" y="444.4" font-size="12.5" text-anchor="start" textLength="66.6" font-weight="bold" fill="#fff" font-family="'Liberation Serif', 'Times New Roman', serif">(28&lt;m/q&lt;44)</text>
<text x="498.2" y="482.6" font-size="13.5" text-anchor="start" textLength="47.0" font-weight="bold" fill="#fff" font-family="'Liberation Serif', 'Times New Roman', serif">E&gt;30eV</text>
<text x="498.2" y="531.1" font-size="13.5" text-anchor="start" textLength="47.0" font-weight="bold" fill="#fff" font-family="'Liberation Serif', 'Times New Roman', serif">E&lt;30eV</text>
<text x="498.2" y="579.7" font-size="13.5" text-anchor="start" textLength="47.0" font-weight="bold" fill="#fff" font-family="'Liberation Serif', 'Times New Roman', serif">E&gt;30eV</text>
<text x="498.2" y="641.1" font-size="13.5" text-anchor="start" textLength="47.0" font-weight="bold" fill="#fff" font-family="'Liberation Serif', 'Times New Roman', serif">E&lt;30eV</text>
<text x="513.9" y="626.1" font-size="13.5" text-anchor="start" font-weight="bold" fill="#fff" font-family="'Liberation Serif', 'Times New Roman', serif">H</text>
<text x="524.4" y="620.2" font-size="7.5" text-anchor="start" font-weight="bold" fill="#fff" font-family="'Liberation Serif', 'Times New Roman', serif">+</text>
<text x="110.70" y="365.54" font-size="9" text-anchor="end" font-family="'Liberation Sans', Arial, sans-serif" fill="#000">10<tspan font-size="6.3" dy="-4.0">1</tspan></text>
<text x="110.70" y="348.24" font-size="9" text-anchor="end" font-family="'Liberation Sans', Arial, sans-serif" fill="#000">10<tspan font-size="6.3" dy="-4.0">2</tspan></text>
<text x="110.70" y="330.94" font-size="9" text-anchor="end" font-family="'Liberation Sans', Arial, sans-serif" fill="#000">10<tspan font-size="6.3" dy="-4.0">3</tspan></text>
<text x="110.70" y="414.44" font-size="9" text-anchor="end" font-family="'Liberation Sans', Arial, sans-serif" fill="#000">10<tspan font-size="6.3" dy="-4.0">1</tspan></text>
<text x="110.70" y="397.14" font-size="9" text-anchor="end" font-family="'Liberation Sans', Arial, sans-serif" fill="#000">10<tspan font-size="6.3" dy="-4.0">2</tspan></text>
<text x="110.70" y="379.84" font-size="9" text-anchor="end" font-family="'Liberation Sans', Arial, sans-serif" fill="#000">10<tspan font-size="6.3" dy="-4.0">3</tspan></text>
<text x="110.70" y="463.34" font-size="9" text-anchor="end" font-family="'Liberation Sans', Arial, sans-serif" fill="#000">10<tspan font-size="6.3" dy="-4.0">1</tspan></text>
<text x="110.70" y="446.04" font-size="9" text-anchor="end" font-family="'Liberation Sans', Arial, sans-serif" fill="#000">10<tspan font-size="6.3" dy="-4.0">2</tspan></text>
<text x="110.70" y="428.74" font-size="9" text-anchor="end" font-family="'Liberation Sans', Arial, sans-serif" fill="#000">10<tspan font-size="6.3" dy="-4.0">3</tspan></text>
<text x="110.70" y="481.44" font-size="9" text-anchor="end" font-family="'Liberation Sans', Arial, sans-serif" fill="#000">10<tspan font-size="6.3" dy="-4.0">1</tspan></text>
<text x="110.70" y="492.64" font-size="9" text-anchor="end" font-family="'Liberation Sans', Arial, sans-serif" fill="#000">10<tspan font-size="6.3" dy="-4.0">0</tspan></text>
<text x="110.70" y="503.84" font-size="9" text-anchor="end" font-family="'Liberation Sans', Arial, sans-serif" fill="#000">10<tspan font-size="6.3" dy="-4.0">-1</tspan></text>
<text x="110.70" y="515.04" font-size="9" text-anchor="end" font-family="'Liberation Sans', Arial, sans-serif" fill="#000">10<tspan font-size="6.3" dy="-4.0">-2</tspan></text>
<text x="110.70" y="521.34" font-size="9" text-anchor="end" font-family="'Liberation Sans', Arial, sans-serif" fill="#000">10<tspan font-size="6.3" dy="-4.0">2</tspan></text>
<text x="110.70" y="538.39" font-size="9" text-anchor="end" font-family="'Liberation Sans', Arial, sans-serif" fill="#000">10<tspan font-size="6.3" dy="-4.0">1</tspan></text>
<text x="110.70" y="555.44" font-size="9" text-anchor="end" font-family="'Liberation Sans', Arial, sans-serif" fill="#000">10<tspan font-size="6.3" dy="-4.0">0</tspan></text>
<text x="113.50" y="572.50" font-size="8.7" text-anchor="end" fill="#000" font-family="'Liberation Sans', Arial, sans-serif" font-weight="normal">0</text>
<text x="113.50" y="591.95" font-size="8.7" text-anchor="end" fill="#000" font-family="'Liberation Sans', Arial, sans-serif" font-weight="normal">-20</text>
<text x="113.50" y="611.40" font-size="8.7" text-anchor="end" fill="#000" font-family="'Liberation Sans', Arial, sans-serif" font-weight="normal">-40</text>
<text x="113.50" y="622.50" font-size="8.7" text-anchor="end" fill="#000" font-family="'Liberation Sans', Arial, sans-serif" font-weight="normal">15</text>
<text x="113.50" y="641.10" font-size="8.7" text-anchor="end" fill="#000" font-family="'Liberation Sans', Arial, sans-serif" font-weight="normal">0</text>
<text x="113.50" y="659.70" font-size="8.7" text-anchor="end" fill="#000" font-family="'Liberation Sans', Arial, sans-serif" font-weight="normal">-15</text>
<text x="115.60" y="672.60" font-size="8.7" text-anchor="middle" fill="#000" font-family="'Liberation Sans', Arial, sans-serif" font-weight="normal">23:29</text>
<text x="177.29" y="672.60" font-size="8.7" text-anchor="middle" fill="#000" font-family="'Liberation Sans', Arial, sans-serif" font-weight="normal">23:30</text>
<text x="238.97" y="672.60" font-size="8.7" text-anchor="middle" fill="#000" font-family="'Liberation Sans', Arial, sans-serif" font-weight="normal">23:31</text>
<text x="300.66" y="672.60" font-size="8.7" text-anchor="middle" fill="#000" font-family="'Liberation Sans', Arial, sans-serif" font-weight="normal">23:32</text>
<text x="362.34" y="672.60" font-size="8.7" text-anchor="middle" fill="#000" font-family="'Liberation Sans', Arial, sans-serif" font-weight="normal">23:33</text>
<text x="424.03" y="672.60" font-size="8.7" text-anchor="middle" fill="#000" font-family="'Liberation Sans', Arial, sans-serif" font-weight="normal">23:34</text>
<text x="485.71" y="672.60" font-size="8.7" text-anchor="middle" fill="#000" font-family="'Liberation Sans', Arial, sans-serif" font-weight="normal">23:35</text>
<text x="547.40" y="672.60" font-size="8.7" text-anchor="middle" fill="#000" font-family="'Liberation Sans', Arial, sans-serif" font-weight="normal">23:36</text>
<text x="78.00" y="344.20" font-size="8.5" text-anchor="middle" fill="#000" font-family="'Liberation Sans', Arial, sans-serif" font-weight="normal" transform="rotate(-90 78 344.2)" dy="0.35em">Ei</text>
<text x="89.70" y="344.20" font-size="8.5" text-anchor="middle" fill="#000" font-family="'Liberation Sans', Arial, sans-serif" font-weight="normal" transform="rotate(-90 89.7 344.2)" dy="0.35em">(eV/q)</text>
<text x="78.00" y="393.10" font-size="8.5" text-anchor="middle" fill="#000" font-family="'Liberation Sans', Arial, sans-serif" font-weight="normal" transform="rotate(-90 78 393.1)" dy="0.35em">Ei</text>
<text x="89.70" y="393.10" font-size="8.5" text-anchor="middle" fill="#000" font-family="'Liberation Sans', Arial, sans-serif" font-weight="normal" transform="rotate(-90 89.7 393.1)" dy="0.35em">(eV/q)</text>
<text x="78.00" y="442.10" font-size="8.5" text-anchor="middle" fill="#000" font-family="'Liberation Sans', Arial, sans-serif" font-weight="normal" transform="rotate(-90 78 442.1)" dy="0.35em">Ei</text>
<text x="89.70" y="442.10" font-size="8.5" text-anchor="middle" fill="#000" font-family="'Liberation Sans', Arial, sans-serif" font-weight="normal" transform="rotate(-90 89.7 442.1)" dy="0.35em">(eV/q)</text>
<text x="86.9" y="491.8" font-size="8.3" text-anchor="middle" font-family="'Liberation Sans', Arial, sans-serif" transform="rotate(-90 86.9 491.8)" dy="0.35em">N(cm<tspan font-size="6.5" dy="-3.5">-3</tspan><tspan dy="3.5">)</tspan></text>
<text x="89.0" y="541.5" font-size="8.3" text-anchor="middle" font-family="'Liberation Sans', Arial, sans-serif" transform="rotate(-90 89.0 541.5)" dy="0.35em">N(cm<tspan font-size="6.5" dy="-3.5">-3</tspan><tspan dy="3.5">)</tspan></text>
<text x="83.50" y="585.50" font-size="8.5" text-anchor="middle" fill="#000" font-family="'Liberation Sans', Arial, sans-serif" font-weight="normal" transform="rotate(-90 83.5 585.5)" dy="0.35em">Vx</text>
<text x="95.60" y="588.30" font-size="8.5" text-anchor="middle" fill="#000" font-family="'Liberation Sans', Arial, sans-serif" font-weight="normal" transform="rotate(-90 95.6 588.3)" dy="0.35em">(km/s)</text>
<text x="80" y="637.3" font-size="8.3" text-anchor="middle" font-family="'Liberation Sans', Arial, sans-serif" transform="rotate(-90 80 637.3)" dy="0.35em">V<tspan font-size="6.5" dy="2.5">H⊥</tspan></text>
<text x="95.60" y="638.00" font-size="8.5" text-anchor="middle" fill="#000" font-family="'Liberation Sans', Arial, sans-serif" font-weight="normal" transform="rotate(-90 95.6 638)" dy="0.35em">(km/s)</text>
<text x="59.00" y="333.50" font-size="12.5" text-anchor="end" fill="#000" font-family="'Liberation Sans', Arial, sans-serif" font-weight="normal">(e)</text>
<text x="59.00" y="382.70" font-size="12.5" text-anchor="end" fill="#000" font-family="'Liberation Sans', Arial, sans-serif" font-weight="normal">(f)</text>
<text x="59.00" y="431.90" font-size="12.5" text-anchor="end" fill="#000" font-family="'Liberation Sans', Arial, sans-serif" font-weight="normal">(g)</text>
<text x="59.00" y="479.70" font-size="12.5" text-anchor="end" fill="#000" font-family="'Liberation Sans', Arial, sans-serif" font-weight="normal">(h)</text>
<text x="59.00" y="529.10" font-size="12.5" text-anchor="end" fill="#000" font-family="'Liberation Sans', Arial, sans-serif" font-weight="normal">(i)</text>
<text x="59.00" y="578.30" font-size="12.5" text-anchor="end" fill="#000" font-family="'Liberation Sans', Arial, sans-serif" font-weight="normal">(j)</text>
<text x="59.00" y="626.30" font-size="12.5" text-anchor="end" fill="#000" font-family="'Liberation Sans', Arial, sans-serif" font-weight="normal">(k)</text>
<defs><linearGradient id="cbf" x1="0" y1="0" x2="0" y2="1"><stop offset="0.000" stop-color="#ff0000"/><stop offset="0.016" stop-color="#ff0d06"/><stop offset="0.031" stop-color="#ff190d"/><stop offset="0.047" stop-color="#ff2513"/><stop offset="0.062" stop-color="#ff3219"/><stop offset="0.078" stop-color="#ff3e1f"/><stop offset="0.094" stop-color="#ff4a25"/><stop offset="0.109" stop-color="#ff562c"/><stop offset="0.125" stop-color="#ff6232"/><stop offset="0.141" stop-color="#ff6d38"/><stop offset="0.156" stop-color="#ff783e"/><stop offset="0.172" stop-color="#ff8344"/><stop offset="0.188" stop-color="#ff8e4a"/><stop offset="0.203" stop-color="#ff9850"/><stop offset="0.219" stop-color="#ffa256"/><stop offset="0.234" stop-color="#ffab5c"/><stop offset="0.250" stop-color="#ffb462"/><stop offset="0.266" stop-color="#f7bd67"/><stop offset="0.281" stop-color="#efc56d"/><stop offset="0.297" stop-color="#e7cd73"/><stop offset="0.312" stop-color="#dfd478"/><stop offset="0.328" stop-color="#d7db7e"/><stop offset="0.344" stop-color="#cfe183"/><stop offset="0.359" stop-color="#c7e788"/><stop offset="0.375" stop-color="#bfec8e"/><stop offset="0.391" stop-color="#b7f093"/><stop offset="0.406" stop-color="#aff498"/><stop offset="0.422" stop-color="#a7f79d"/><stop offset="0.438" stop-color="#9ffaa2"/><stop offset="0.453" stop-color="#97fca7"/><stop offset="0.469" stop-color="#8ffeab"/><stop offset="0.484" stop-color="#87ffb0"/><stop offset="0.500" stop-color="#80ffb4"/><stop offset="0.516" stop-color="#78ffb9"/><stop offset="0.531" stop-color="#70febd"/><stop offset="0.547" stop-color="#68fcc1"/><stop offset="0.562" stop-color="#60fac5"/><stop offset="0.578" stop-color="#58f7c9"/><stop offset="0.594" stop-color="#50f4cd"/><stop offset="0.609" stop-color="#48f0d0"/><stop offset="0.625" stop-color="#40ecd4"/><stop offset="0.641" stop-color="#38e7d7"/><stop offset="0.656" stop-color="#30e1db"/><stop offset="0.672" stop-color="#28dbde"/><stop offset="0.688" stop-color="#20d4e1"/><stop offset="0.703" stop-color="#18cde4"/><stop offset="0.719" stop-color="#10c5e7"/><stop offset="0.734" stop-color="#08bde9"/><stop offset="0.750" stop-color="#00b4ec"/><stop offset="0.766" stop-color="#08abee"/><stop offset="0.781" stop-color="#10a2f0"/><stop offset="0.797" stop-color="#1898f2"/><stop offset="0.812" stop-color="#208ef4"/><stop offset="0.828" stop-color="#2883f6"/><stop offset="0.844" stop-color="#3078f7"/><stop offset="0.859" stop-color="#386df9"/><stop offset="0.875" stop-color="#4062fa"/><stop offset="0.891" stop-color="#4856fb"/><stop offset="0.906" stop-color="#504afc"/><stop offset="0.922" stop-color="#583efd"/><stop offset="0.938" stop-color="#6032fe"/><stop offset="0.953" stop-color="#6825fe"/><stop offset="0.969" stop-color="#7019ff"/><stop offset="0.984" stop-color="#780dff"/><stop offset="1.000" stop-color="#8000ff"/></linearGradient></defs>
<rect x="550.10" y="369.30" width="9.30" height="48.10" fill="url(#cbf)" stroke="#555" stroke-width="0.6"/>
<text x="563.50" y="378.00" font-size="8.3" text-anchor="start" fill="#000" font-family="'Liberation Sans', Arial, sans-serif" font-weight="normal">6</text>
<text x="563.50" y="407.00" font-size="8.3" text-anchor="start" fill="#000" font-family="'Liberation Sans', Arial, sans-serif" font-weight="normal">5</text>
<text x="577.60" y="393.00" font-size="8.5" text-anchor="middle" fill="#000" font-family="'Liberation Sans', Arial, sans-serif" font-weight="normal" transform="rotate(-90 577.6 393)" dy="0.35em">Log(DEF)</text>
<text x="590.6" y="393" font-size="8.3" text-anchor="middle" font-family="'Liberation Sans', Arial, sans-serif" transform="rotate(-90 590.6 393)" dy="0.35em">keV/(cm<tspan font-size="6.5" dy="-3.5">2</tspan><tspan dy="3.5"> s sr keV)</tspan></text>
<text x="552.4" y="481.7" font-size="9.5" font-family="'Liberation Serif', 'Times New Roman', serif" fill="#ff2020">H<tspan font-size="6.5" dy="-5">+</tspan></text>
<text x="552.4" y="496.2" font-size="9.5" font-family="'Liberation Serif', 'Times New Roman', serif" fill="#3030ff">O<tspan font-size="6.5" dy="-5">+</tspan></text>
<text x="552.4" y="508.4" font-size="9.5" font-family="'Liberation Serif', 'Times New Roman', serif" fill="#000">O<tspan font-size="6.5" dy="3">2</tspan><tspan font-size="6.5" dy="-9" dx="-3.3">+</tspan></text>
<text x="552.4" y="579.7" font-size="9.5" font-family="'Liberation Serif', 'Times New Roman', serif" fill="#3030ff">O<tspan font-size="6.5" dy="-5">+</tspan></text>
<text x="552.4" y="605.7" font-size="9.5" font-family="'Liberation Serif', 'Times New Roman', serif" fill="#000">O<tspan font-size="6.5" dy="3">2</tspan><tspan font-size="6.5" dy="-9" dx="-3.3">+</tspan></text>
<text x="552.40" y="627.00" font-size="9.5" text-anchor="start" fill="#ff2020" font-family="'Liberation Serif', 'Times New Roman', serif" font-weight="normal">X</text>
<text x="552.40" y="641.00" font-size="9.5" text-anchor="start" fill="#3030ff" font-family="'Liberation Serif', 'Times New Roman', serif" font-weight="normal">Y</text>
<text x="552.40" y="656.00" font-size="9.5" text-anchor="start" fill="#000" font-family="'Liberation Serif', 'Times New Roman', serif" font-weight="normal">Z</text>
<path d="M182.1 840.6L182.1 838.8M182.1 705.2L182.1 707M189.9 840.6L189.9 838.8M189.9 705.2L189.9 707M196.5 840.6L196.5 838.8M196.5 705.2L196.5 707M202.4 840.6L202.4 838.8M202.4 705.2L202.4 707M207.7 840.6L207.7 837.6M207.7 705.2L207.7 708.2M242.4 840.6L242.4 838.8M242.4 705.2L242.4 707M262.7 840.6L262.7 838.8M262.7 705.2L262.7 707M277.1 840.6L277.1 838.8M277.1 705.2L277.1 707M288.2 840.6L288.2 838.8M288.2 705.2L288.2 707M297.3 840.6L297.3 838.8M297.3 705.2L297.3 707M305.1 840.6L305.1 838.8M305.1 705.2L305.1 707M311.7 840.6L311.7 838.8M311.7 705.2L311.7 707M317.6 840.6L317.6 838.8M317.6 705.2L317.6 707M322.9 840.6L322.9 837.6M322.9 705.2L322.9 708.2M357.6 840.6L357.6 838.8M357.6 705.2L357.6 707M377.9 840.6L377.9 838.8M377.9 705.2L377.9 707M392.3 840.6L392.3 838.8M392.3 705.2L392.3 707M403.4 840.6L403.4 838.8M403.4 705.2L403.4 707M412.5 840.6L412.5 838.8M412.5 705.2L412.5 707M420.3 840.6L420.3 838.8M420.3 705.2L420.3 707M426.9 840.6L426.9 838.8M426.9 705.2L426.9 707M181.3 838.3L183.1 838.3M432.3 838.3L430.5 838.3M181.3 835.9L183.1 835.9M432.3 835.9L430.5 835.9M181.3 833.8L183.1 833.8M432.3 833.8L430.5 833.8M181.3 832L183.1 832M432.3 832L430.5 832M181.3 830.4L183.1 830.4M432.3 830.4L430.5 830.4M181.3 829L184.3 829M432.3 829L429.3 829M181.3 819.7L183.1 819.7M432.3 819.7L430.5 819.7M181.3 814.3L183.1 814.3M432.3 814.3L430.5 814.3M181.3 810.4L183.1 810.4M432.3 810.4L430.5 810.4M181.3 807.4L183.1 807.4M432.3 807.4L430.5 807.4M181.3 805L183.1 805M432.3 805L430.5 805M181.3 802.9L183.1 802.9M432.3 802.9L430.5 802.9M181.3 801.1L183.1 801.1M432.3 801.1L430.5 801.1M181.3 799.5L183.1 799.5M432.3 799.5L430.5 799.5M181.3 798.1L184.3 798.1M432.3 798.1L429.3 798.1M181.3 788.8L183.1 788.8M432.3 788.8L430.5 788.8M181.3 783.4L183.1 783.4M432.3 783.4L430.5 783.4M181.3 779.5L183.1 779.5M432.3 779.5L430.5 779.5M181.3 776.5L183.1 776.5M432.3 776.5L430.5 776.5M181.3 774.1L183.1 774.1M432.3 774.1L430.5 774.1M181.3 772L183.1 772M432.3 772L430.5 772M181.3 770.2L183.1 770.2M432.3 770.2L430.5 770.2M181.3 768.6L183.1 768.6M432.3 768.6L430.5 768.6M181.3 767.2L184.3 767.2M432.3 767.2L429.3 767.2M181.3 757.9L183.1 757.9M432.3 757.9L430.5 757.9M181.3 752.5L183.1 752.5M432.3 752.5L430.5 752.5M181.3 748.6L183.1 748.6M432.3 748.6L430.5 748.6M181.3 745.6L183.1 745.6M432.3 745.6L430.5 745.6M181.3 743.2L183.1 743.2M432.3 743.2L430.5 743.2M181.3 741.1L183.1 741.1M432.3 741.1L430.5 741.1M181.3 739.3L183.1 739.3M432.3 739.3L430.5 739.3M181.3 737.7L183.1 737.7M432.3 737.7L430.5 737.7M181.3 736.3L184.3 736.3M432.3 736.3L429.3 736.3M181.3 727L183.1 727M432.3 727L430.5 727M181.3 721.6L183.1 721.6M432.3 721.6L430.5 721.6M181.3 717.7L183.1 717.7M432.3 717.7L430.5 717.7M181.3 714.7L183.1 714.7M432.3 714.7L430.5 714.7M181.3 712.3L183.1 712.3M432.3 712.3L430.5 712.3M181.3 710.2L183.1 710.2M432.3 710.2L430.5 710.2M181.3 708.4L183.1 708.4M432.3 708.4L430.5 708.4M181.3 706.8L183.1 706.8M432.3 706.8L430.5 706.8M181.3 705.4L184.3 705.4M432.3 705.4L429.3 705.4" fill="none" stroke="#333" stroke-width="0.7"/>
<rect x="181.30" y="705.20" width="251.00" height="135.40" fill="none" stroke="#404040" stroke-width="0.9"/>
<text x="178.50" y="832.30" font-size="9.3" text-anchor="end" fill="#000" font-family="'Liberation Sans', Arial, sans-serif" font-weight="normal">1</text>
<text x="178.50" y="801.40" font-size="9.3" text-anchor="end" fill="#000" font-family="'Liberation Sans', Arial, sans-serif" font-weight="normal">10</text>
<text x="178.50" y="770.50" font-size="9.3" text-anchor="end" fill="#000" font-family="'Liberation Sans', Arial, sans-serif" font-weight="normal">100</text>
<text x="178.50" y="739.60" font-size="9.3" text-anchor="end" fill="#000" font-family="'Liberation Sans', Arial, sans-serif" font-weight="normal">1000</text>
<text x="178.50" y="708.70" font-size="9.3" text-anchor="end" fill="#000" font-family="'Liberation Sans', Arial, sans-serif" font-weight="normal">10000</text>
<text x="207.70" y="853.30" font-size="9.3" text-anchor="middle" fill="#000" font-family="'Liberation Sans', Arial, sans-serif" font-weight="normal">1</text>
<text x="242.38" y="853.30" font-size="9.3" text-anchor="middle" fill="#000" font-family="'Liberation Sans', Arial, sans-serif" font-weight="normal">2</text>
<text x="322.90" y="853.30" font-size="9.3" text-anchor="middle" fill="#000" font-family="'Liberation Sans', Arial, sans-serif" font-weight="normal">10</text>
<text x="346.41" y="853.30" font-size="9.3" text-anchor="middle" fill="#000" font-family="'Liberation Sans', Arial, sans-serif" font-weight="normal">16</text>
<text x="357.58" y="853.30" font-size="9.3" text-anchor="middle" fill="#000" font-family="'Liberation Sans', Arial, sans-serif" font-weight="normal">20</text>
<text x="381.09" y="853.30" font-size="9.3" text-anchor="middle" fill="#000" font-family="'Liberation Sans', Arial, sans-serif" font-weight="normal">32</text>
<text x="392.26" y="853.30" font-size="9.3" text-anchor="middle" fill="#000" font-family="'Liberation Sans', Arial, sans-serif" font-weight="normal">40</text>
<text x="415.77" y="853.30" font-size="9.3" text-anchor="middle" fill="#000" font-family="'Liberation Sans', Arial, sans-serif" font-weight="normal">64</text>
<text x="307.00" y="866.60" font-size="11" text-anchor="middle" fill="#000" font-family="'Liberation Sans', Arial, sans-serif" font-weight="normal">Mass(amu)</text>
<text x="145.70" y="773.00" font-size="10.2" text-anchor="middle" fill="#000" font-family="'Liberation Sans', Arial, sans-serif" font-weight="normal" transform="rotate(-90 145.7 773)" dy="0.35em">E(eV/q)</text>
<text x="120.50" y="703.50" font-size="12.5" text-anchor="start" fill="#000" font-family="'Liberation Sans', Arial, sans-serif" font-weight="normal">(l)</text>
<text x="199.2" y="702.6" font-size="11" font-family="'Liberation Sans', Arial, sans-serif" textLength="215.8" lengthAdjust="spacingAndGlyphs">Mass Energy Spectrum (2019-10-08&#160; 23:31:14)</text>
<defs><linearGradient id="cbl" x1="0" y1="0" x2="0" y2="1"><stop offset="0.000" stop-color="#ff0000"/><stop offset="0.016" stop-color="#ff0d06"/><stop offset="0.031" stop-color="#ff190d"/><stop offset="0.047" stop-color="#ff2513"/><stop offset="0.062" stop-color="#ff3219"/><stop offset="0.078" stop-color="#ff3e1f"/><stop offset="0.094" stop-color="#ff4a25"/><stop offset="0.109" stop-color="#ff562c"/><stop offset="0.125" stop-color="#ff6232"/><stop offset="0.141" stop-color="#ff6d38"/><stop offset="0.156" stop-color="#ff783e"/><stop offset="0.172" stop-color="#ff8344"/><stop offset="0.188" stop-color="#ff8e4a"/><stop offset="0.203" stop-color="#ff9850"/><stop offset="0.219" stop-color="#ffa256"/><stop offset="0.234" stop-color="#ffab5c"/><stop offset="0.250" stop-color="#ffb462"/><stop offset="0.266" stop-color="#f7bd67"/><stop offset="0.281" stop-color="#efc56d"/><stop offset="0.297" stop-color="#e7cd73"/><stop offset="0.312" stop-color="#dfd478"/><stop offset="0.328" stop-color="#d7db7e"/><stop offset="0.344" stop-color="#cfe183"/><stop offset="0.359" stop-color="#c7e788"/><stop offset="0.375" stop-color="#bfec8e"/><stop offset="0.391" stop-color="#b7f093"/><stop offset="0.406" stop-color="#aff498"/><stop offset="0.422" stop-color="#a7f79d"/><stop offset="0.438" stop-color="#9ffaa2"/><stop offset="0.453" stop-color="#97fca7"/><stop offset="0.469" stop-color="#8ffeab"/><stop offset="0.484" stop-color="#87ffb0"/><stop offset="0.500" stop-color="#80ffb4"/><stop offset="0.516" stop-color="#78ffb9"/><stop offset="0.531" stop-color="#70febd"/><stop offset="0.547" stop-color="#68fcc1"/><stop offset="0.562" stop-color="#60fac5"/><stop offset="0.578" stop-color="#58f7c9"/><stop offset="0.594" stop-color="#50f4cd"/><stop offset="0.609" stop-color="#48f0d0"/><stop offset="0.625" stop-color="#40ecd4"/><stop offset="0.641" stop-color="#38e7d7"/><stop offset="0.656" stop-color="#30e1db"/><stop offset="0.672" stop-color="#28dbde"/><stop offset="0.688" stop-color="#20d4e1"/><stop offset="0.703" stop-color="#18cde4"/><stop offset="0.719" stop-color="#10c5e7"/><stop offset="0.734" stop-color="#08bde9"/><stop offset="0.750" stop-color="#00b4ec"/><stop offset="0.766" stop-color="#08abee"/><stop offset="0.781" stop-color="#10a2f0"/><stop offset="0.797" stop-color="#1898f2"/><stop offset="0.812" stop-color="#208ef4"/><stop offset="0.828" stop-color="#2883f6"/><stop offset="0.844" stop-color="#3078f7"/><stop offset="0.859" stop-color="#386df9"/><stop offset="0.875" stop-color="#4062fa"/><stop offset="0.891" stop-color="#4856fb"/><stop offset="0.906" stop-color="#504afc"/><stop offset="0.922" stop-color="#583efd"/><stop offset="0.938" stop-color="#6032fe"/><stop offset="0.953" stop-color="#6825fe"/><stop offset="0.969" stop-color="#7019ff"/><stop offset="0.984" stop-color="#780dff"/><stop offset="1.000" stop-color="#8000ff"/></linearGradient></defs>
<rect x="441.10" y="705.20" width="17.30" height="135.40" fill="url(#cbl)" stroke="#555" stroke-width="0.6"/>
<text x="462.20" y="741.90" font-size="8.3" text-anchor="start" fill="#000" font-family="'Liberation Sans', Arial, sans-serif" font-weight="normal">5.5</text>
<text x="462.20" y="778.15" font-size="8.3" text-anchor="start" fill="#000" font-family="'Liberation Sans', Arial, sans-serif" font-weight="normal">5</text>
<text x="462.20" y="814.40" font-size="8.3" text-anchor="start" fill="#000" font-family="'Liberation Sans', Arial, sans-serif" font-weight="normal">4.5</text>
<text x="484.00" y="773.00" font-size="8.5" text-anchor="middle" fill="#000" font-family="'Liberation Sans', Arial, sans-serif" font-weight="normal" transform="rotate(-90 484 773)" dy="0.35em">Log(DEF)</text>
<text x="496" y="773" font-size="8.3" text-anchor="middle" font-family="'Liberation Sans', Arial, sans-serif" transform="rotate(-90 496 773)" dy="0.35em">keV/(cm<tspan font-size="6.5" dy="-3.5">2</tspan><tspan dy="3.5"> s sr keV)</tspan></text>
<path d="M338.2 785.3L350.2 781.6M361 778.9L375.4 774.6M380.3 772.9L391.3 769.8" fill="none" stroke="#000" stroke-width="3.6"/>
<path d="M226 723L214.6 742.6" fill="none" stroke="#000" stroke-width="0.7"/>
<path d="M214.6,742.6 L215.3,736.6 L219.4,739.1 Z" fill="#000"/>
<path d="M217.8 825.3L213.2 815.5" fill="none" stroke="#000" stroke-width="0.7"/>
<path d="M213.2,815.5 L217.7,819.5 L213.4,821.5 Z" fill="#000"/>
<path d="M333.8 743.8L341.8 770.2" fill="none" stroke="#000" stroke-width="0.7"/>
<path d="M341.8,770.2 L337.9,765.6 L342.5,764.2 Z" fill="#000"/>
<path d="M350.4 741.9L374.5 762.2" fill="none" stroke="#000" stroke-width="0.7"/>
<path d="M374.5,762.2 L368.7,760.5 L371.8,756.8 Z" fill="#000"/>
<path d="M392.9 818.6L355.6 797.4" fill="none" stroke="#000" stroke-width="0.7"/>
<path d="M355.6,797.4 L361.6,798.0 L359.2,802.2 Z" fill="#000"/>
<path d="M411.8 820.2L389.8 796.5" fill="none" stroke="#000" stroke-width="0.7"/>
<path d="M389.8,796.5 L395.3,798.9 L391.8,802.2 Z" fill="#000"/>
<text x="207.1" y="720.3" font-size="9" font-family="'Liberation Sans', Arial, sans-serif" textLength="56.7" lengthAdjust="spacingAndGlyphs">Solar wind ions</text>
<text x="281.4" y="741" font-size="9" font-family="'Liberation Sans', Arial, sans-serif" textLength="75.6" lengthAdjust="spacingAndGlyphs">Time-dispersed ions</text>
<text x="387.4" y="741" font-size="9" font-family="'Liberation Sans', Arial, sans-serif" textLength="27.2" lengthAdjust="spacingAndGlyphs">y=2x+c</text>
<text x="194.5" y="834.3" font-size="9" font-family="'Liberation Sans', Arial, sans-serif">Ionospheric H<tspan font-size="6.5" dy="-4">+</tspan></text>
<text x="389.80" y="827.10" font-size="8" text-anchor="start" fill="#000" font-family="'Liberation Sans', Arial, sans-serif" font-weight="bold">Background</text>
<text x="392.00" y="834.80" font-size="8" text-anchor="start" fill="#000" font-family="'Liberation Sans', Arial, sans-serif" font-weight="bold">ions</text>
<text x="346.6" y="834.3" font-size="10" font-family="'Liberation Sans', Arial, sans-serif">O<tspan font-size="6.5" dy="-4.5">+</tspan></text>
<text x="370.9" y="834.3" font-size="10" font-family="'Liberation Sans', Arial, sans-serif">O<tspan font-size="6.5" dy="3">2</tspan><tspan font-size="6.5" dx="-3.6" dy="-8.5">+</tspan></text>
</svg>
</body></html>
